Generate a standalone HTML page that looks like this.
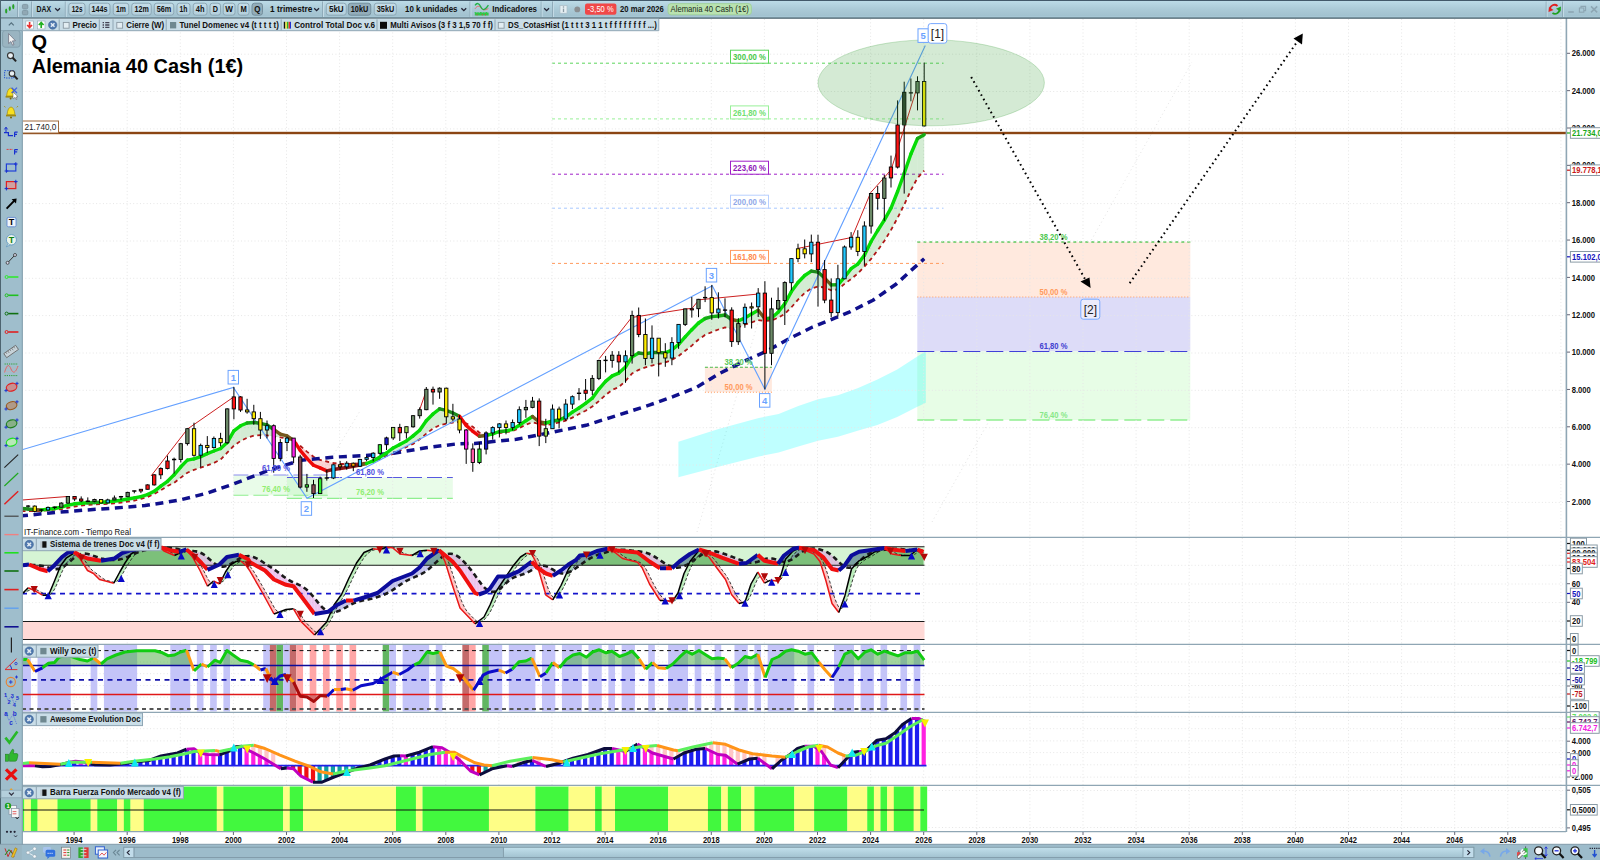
<!DOCTYPE html>
<html><head><meta charset="utf-8"><title>DAX - Alemania 40 Cash</title>
<style>
html,body{margin:0;padding:0;width:1600px;height:860px;overflow:hidden;background:#fff;font-family:"Liberation Sans",sans-serif;}
#chart{position:absolute;left:0;top:0;display:block;}
text{font-family:"Liberation Sans",sans-serif;}
</style></head><body>
<svg id="chart" width="1600" height="860" viewBox="0 0 1600 860"><defs>
<clipPath id="cMain"><rect x="22.5" y="31" width="1543.5" height="506.5"/></clipPath>
<clipPath id="cMainFull"><rect x="22.5" y="18.5" width="1543.5" height="519"/></clipPath>
<clipPath id="cP1"><rect x="22.5" y="538" width="1543.5" height="105.5"/></clipPath>
<clipPath id="cP2"><rect x="22.5" y="644.5" width="1543.5" height="67"/></clipPath>
<clipPath id="cP3"><rect x="22.5" y="713" width="1543.5" height="72"/></clipPath>
<clipPath id="cP4"><rect x="22.5" y="786" width="1543.5" height="46"/></clipPath>
</defs>
<rect x="0" y="0" width="1600" height="860" fill="#fff"/>
<g clip-path="url(#cMainFull)">
<path d="M932 522L1192 62 M697 532L765 298 M306.8 498.7L360 411" stroke="#e2e2e2" stroke-width="1" stroke-dasharray="1 3" fill="none"/>
<rect x="917.3" y="242" width="273" height="55" fill="#ffe9de"/>
<rect x="917.3" y="297" width="273" height="54.5" fill="#dddcf8"/>
<rect x="917.3" y="351.5" width="273" height="68.5" fill="#e7fde6"/>
<polygon points="678.4,441.7 719.3,428.8 758.8,417.9 778.6,414.0 798.3,406.1 818.1,399.2 837.9,395.2 857.6,388.3 877.4,379.4 897.2,369.5 916.9,356.7 925.8,351.3 925.8,402.7 916.9,407.1 897.2,417.0 877.4,424.9 857.6,430.8 837.9,436.7 818.1,440.7 798.3,446.6 778.6,452.5 758.8,456.5 719.3,466.4 678.4,477.2" fill="rgba(0,255,255,0.25)"/>
<path d="M917.3 242H1190.3" stroke="#5cc85c" stroke-width="1.4" stroke-dasharray="3 3"/>
<path d="M917.3 297H1190.3" stroke="#ff9a5c" stroke-width="1.2" stroke-dasharray="1 2"/>
<path d="M917.3 351.5H1190.3" stroke="#4040d8" stroke-width="1.2" stroke-dasharray="17 6"/>
<path d="M917.3 420H1190.3" stroke="#90ee90" stroke-width="1.4" stroke-dasharray="17 6"/>
<rect x="233.4" y="475" width="94" height="20.3" fill="rgba(144,238,144,0.2)"/>
<rect x="287" y="477.5" width="165.8" height="21" fill="rgba(144,238,144,0.2)"/>
<path d="M233.4 475H327.8" stroke="#8c8cf0" stroke-width="1.1" stroke-dasharray="15 5"/><path d="M287 477.5H452.8" stroke="#5858e0" stroke-width="1.1" stroke-dasharray="15 5"/>
<path d="M233.4 495.3H327.8 M287 498.4H452.8" stroke="#90ee90" stroke-width="1.1" stroke-dasharray="15 5"/>
<rect x="704.9" y="367.2" width="67" height="25" fill="#ffe9de"/>
<path d="M704.9 367.2H772" stroke="#44b844" stroke-width="1.1" stroke-dasharray="3 2"/>
<path d="M704.9 392.3H772" stroke="#ff9a5c" stroke-width="1.1" stroke-dasharray="1 2"/>
<path d="M552 63.2H943.5" stroke="#5cd65c" stroke-width="1" stroke-dasharray="3 3"/>
<path d="M552 118.9H943.5" stroke="#98f098" stroke-width="1" stroke-dasharray="3 3"/>
<path d="M552 174.2H943.5" stroke="#a020c8" stroke-width="1" stroke-dasharray="3 3"/>
<path d="M552 208.2H943.5" stroke="#a8c8ff" stroke-width="1" stroke-dasharray="3 3"/>
<path d="M552 263.4H943.5" stroke="#ff9a5c" stroke-width="1" stroke-dasharray="3 3"/>
</g>
<path d="M74.1 19V832 M127.2 19V832 M180.3 19V832 M233.4 19V832 M286.5 19V832 M339.6 19V832 M392.7 19V832 M445.8 19V832 M498.9 19V832 M552.0 19V832 M605.1 19V832 M658.2 19V832 M711.3 19V832 M764.4 19V832 M817.5 19V832 M870.6 19V832 M923.7 19V832 M976.8 19V832 M1029.9 19V832 M1083.0 19V832 M1136.1 19V832 M1189.2 19V832 M1242.3 19V832 M1295.4 19V832 M1348.5 19V832 M1401.6 19V832 M1454.7 19V832 M1507.8 19V832 M1560.9 19V832" stroke="#e6e6e6" stroke-width="1" stroke-dasharray="1 2.37" fill="none"/>
<path d="M22 502.4H1566 M22 465.0H1566 M22 427.7H1566 M22 390.3H1566 M22 353.0H1566 M22 315.6H1566 M22 278.3H1566 M22 241.0H1566 M22 203.6H1566 M22 128.9H1566 M22 91.5H1566 M22 54.2H1566 M22 565.3H1566 M22 584H1566 M22 602.6H1566 M22 621.2H1566 M22 662H1566 M22 673.7H1566 M22 685.5H1566 M22 697.2H1566 M22 716.8H1566 M22 728.7H1566 M22 740.9H1566 M22 752.6H1566 M22 764.8H1566 M22 777.1H1566 M22 790.5H1566 M22 827.5H1566" stroke="#e6e6e6" stroke-width="1" stroke-dasharray="1 2.37" fill="none"/>
<g clip-path="url(#cMainFull)">
<rect x="22" y="131.8" width="1544" height="2.4" fill="#8b4513"/>
<polygon points="21.5,508.5 28.1,509.0 28.1,511.2 21.5,511.2" fill="rgba(40,160,40,0.20)"/>
<polygon points="28.1,509.0 34.7,509.6 34.7,511.2 28.1,511.2" fill="rgba(40,160,40,0.20)"/>
<polygon points="34.7,509.6 41.4,509.9 41.4,510.8 34.7,511.2" fill="rgba(40,160,40,0.20)"/>
<polygon points="41.4,509.9 48.0,509.3 48.0,510.3 41.4,510.8" fill="rgba(40,160,40,0.20)"/>
<polygon points="48.0,509.3 54.6,508.5 54.6,509.7 48.0,510.3" fill="rgba(40,160,40,0.20)"/>
<polygon points="54.6,508.5 61.3,507.1 61.3,509.2 54.6,509.7" fill="rgba(40,160,40,0.20)"/>
<polygon points="61.3,507.1 67.9,505.2 67.9,507.8 61.3,509.2" fill="rgba(40,160,40,0.20)"/>
<polygon points="67.9,505.2 74.6,503.8 74.6,506.5 67.9,507.8" fill="rgba(40,160,40,0.20)"/>
<polygon points="74.6,503.8 81.2,503.2 81.2,505.5 74.6,506.5" fill="rgba(40,160,40,0.20)"/>
<polygon points="81.2,503.2 87.8,502.8 87.8,504.9 81.2,505.5" fill="rgba(40,160,40,0.20)"/>
<polygon points="87.8,502.8 94.5,502.5 94.5,504.4 87.8,504.9" fill="rgba(40,160,40,0.20)"/>
<polygon points="94.5,502.5 101.1,502.3 101.1,504.1 94.5,504.4" fill="rgba(40,160,40,0.20)"/>
<polygon points="101.1,502.3 107.7,501.7 107.7,503.8 101.1,504.1" fill="rgba(40,160,40,0.20)"/>
<polygon points="107.7,501.7 114.4,501.1 114.4,503.3 107.7,503.8" fill="rgba(40,160,40,0.20)"/>
<polygon points="114.4,501.1 121.0,500.2 121.0,502.5 114.4,503.3" fill="rgba(40,160,40,0.20)"/>
<polygon points="121.0,500.2 127.7,499.0 127.7,501.6 121.0,502.5" fill="rgba(40,160,40,0.20)"/>
<polygon points="127.7,499.0 134.3,497.9 134.3,500.5 127.7,501.6" fill="rgba(40,160,40,0.20)"/>
<polygon points="134.3,497.9 140.9,496.6 140.9,498.9 134.3,500.5" fill="rgba(40,160,40,0.20)"/>
<polygon points="140.9,496.6 147.6,494.5 147.6,496.9 140.9,498.9" fill="rgba(40,160,40,0.20)"/>
<polygon points="147.6,494.5 154.2,491.3 154.2,493.9 147.6,496.9" fill="rgba(40,160,40,0.20)"/>
<polygon points="154.2,491.3 160.8,486.1 160.8,490.3 154.2,493.9" fill="rgba(40,160,40,0.20)"/>
<polygon points="160.8,486.1 167.5,481.3 167.5,486.0 160.8,490.3" fill="rgba(40,160,40,0.20)"/>
<polygon points="167.5,481.3 174.1,474.8 174.1,482.9 167.5,486.0" fill="rgba(40,160,40,0.20)"/>
<polygon points="174.1,474.8 180.8,466.8 180.8,477.6 174.1,482.9" fill="rgba(40,160,40,0.20)"/>
<polygon points="180.8,466.8 187.4,460.1 187.4,472.7 180.8,477.6" fill="rgba(40,160,40,0.20)"/>
<polygon points="187.4,460.1 194.0,458.9 194.0,469.8 187.4,472.7" fill="rgba(40,160,40,0.20)"/>
<polygon points="194.0,458.9 200.7,456.6 200.7,467.7 194.0,469.8" fill="rgba(40,160,40,0.20)"/>
<polygon points="200.7,456.6 207.3,453.6 207.3,465.3 200.7,467.7" fill="rgba(40,160,40,0.20)"/>
<polygon points="207.3,453.6 213.9,451.0 213.9,462.9 207.3,465.3" fill="rgba(40,160,40,0.20)"/>
<polygon points="213.9,451.0 220.6,448.5 220.6,459.6 213.9,462.9" fill="rgba(40,160,40,0.20)"/>
<polygon points="220.6,448.5 227.2,442.6 227.2,452.7 220.6,459.6" fill="rgba(40,160,40,0.20)"/>
<polygon points="227.2,442.6 233.9,430.8 233.9,445.7 227.2,452.7" fill="rgba(40,160,40,0.20)"/>
<polygon points="233.9,430.8 240.5,425.8 240.5,441.0 233.9,445.7" fill="rgba(40,160,40,0.20)"/>
<polygon points="240.5,425.8 247.1,423.0 247.1,437.7 240.5,441.0" fill="rgba(40,160,40,0.20)"/>
<polygon points="247.1,423.0 253.8,422.5 253.8,435.6 247.1,437.7" fill="rgba(40,160,40,0.20)"/>
<polygon points="253.8,422.5 260.4,423.3 260.4,435.1 253.8,435.6" fill="rgba(40,160,40,0.20)"/>
<polygon points="260.4,423.3 267.0,424.9 267.0,435.4 260.4,435.1" fill="rgba(40,160,40,0.20)"/>
<polygon points="267.0,424.9 273.7,429.5 273.7,436.5 267.0,435.4" fill="rgba(40,160,40,0.20)"/>
<polygon points="273.7,429.5 280.3,434.1 280.3,437.4 273.7,436.5" fill="rgba(40,160,40,0.20)"/>
<polygon points="280.3,434.1 287.0,435.8 287.0,438.6 280.3,437.4" fill="rgba(40,160,40,0.20)"/>
<polygon points="287.0,435.8 293.6,440.4 293.6,441.3 287.0,438.6" fill="rgba(40,160,40,0.20)"/>
<polygon points="293.6,440.4 300.2,450.3 300.2,445.8 293.6,441.3" fill="rgba(240,60,60,0.22)"/>
<polygon points="300.2,450.3 306.9,458.4 306.9,451.6 300.2,445.8" fill="rgba(240,60,60,0.22)"/>
<polygon points="306.9,458.4 313.5,465.2 313.5,456.8 306.9,451.6" fill="rgba(240,60,60,0.22)"/>
<polygon points="313.5,465.2 320.1,467.9 320.1,460.0 313.5,456.8" fill="rgba(240,60,60,0.22)"/>
<polygon points="320.1,467.9 326.8,470.9 326.8,461.5 320.1,460.0" fill="rgba(240,60,60,0.22)"/>
<polygon points="326.8,470.9 333.4,469.5 333.4,463.0 326.8,461.5" fill="rgba(240,60,60,0.22)"/>
<polygon points="333.4,469.5 340.1,468.5 340.1,464.0 333.4,463.0" fill="rgba(240,60,60,0.22)"/>
<polygon points="340.1,468.5 346.7,467.5 346.7,464.0 340.1,464.0" fill="rgba(240,60,60,0.22)"/>
<polygon points="346.7,467.5 353.3,466.4 353.3,463.8 346.7,464.0" fill="rgba(240,60,60,0.22)"/>
<polygon points="353.3,466.4 360.0,465.0 360.0,463.3 353.3,463.8" fill="rgba(240,60,60,0.22)"/>
<polygon points="360.0,465.0 366.6,463.5 366.6,462.5 360.0,463.3" fill="rgba(240,60,60,0.22)"/>
<polygon points="366.6,463.5 373.2,460.9 373.2,461.1 366.6,462.5" fill="rgba(240,60,60,0.22)"/>
<polygon points="373.2,460.9 379.9,457.1 379.9,459.0 373.2,461.1" fill="rgba(40,160,40,0.20)"/>
<polygon points="379.9,457.1 386.5,453.0 386.5,456.0 379.9,459.0" fill="rgba(40,160,40,0.20)"/>
<polygon points="386.5,453.0 393.2,447.9 393.2,453.9 386.5,456.0" fill="rgba(40,160,40,0.20)"/>
<polygon points="393.2,447.9 399.8,444.6 399.8,450.6 393.2,453.9" fill="rgba(40,160,40,0.20)"/>
<polygon points="399.8,444.6 406.4,441.0 406.4,447.0 399.8,450.6" fill="rgba(40,160,40,0.20)"/>
<polygon points="406.4,441.0 413.1,435.9 413.1,443.9 406.4,447.0" fill="rgba(40,160,40,0.20)"/>
<polygon points="413.1,435.9 419.7,430.2 419.7,439.2 413.1,443.9" fill="rgba(40,160,40,0.20)"/>
<polygon points="419.7,430.2 426.3,420.7 426.3,433.6 419.7,439.2" fill="rgba(40,160,40,0.20)"/>
<polygon points="426.3,420.7 433.0,414.0 433.0,428.5 426.3,433.6" fill="rgba(40,160,40,0.20)"/>
<polygon points="433.0,414.0 439.6,408.8 439.6,425.2 433.0,428.5" fill="rgba(40,160,40,0.20)"/>
<polygon points="439.6,408.8 446.3,410.4 446.3,423.6 439.6,425.2" fill="rgba(40,160,40,0.20)"/>
<polygon points="446.3,410.4 452.9,413.0 452.9,422.5 446.3,423.6" fill="rgba(40,160,40,0.20)"/>
<polygon points="452.9,413.0 459.5,416.3 459.5,422.0 452.9,422.5" fill="rgba(40,160,40,0.20)"/>
<polygon points="459.5,416.3 466.2,425.5 466.2,423.4 459.5,422.0" fill="rgba(40,160,40,0.20)"/>
<polygon points="466.2,425.5 472.8,431.3 472.8,426.8 466.2,423.4" fill="rgba(240,60,60,0.22)"/>
<polygon points="472.8,431.3 479.4,436.2 479.4,432.7 472.8,426.8" fill="rgba(240,60,60,0.22)"/>
<polygon points="479.4,436.2 486.1,435.5 486.1,435.0 479.4,432.7" fill="rgba(240,60,60,0.22)"/>
<polygon points="486.1,435.5 492.7,433.9 492.7,434.4 486.1,435.0" fill="rgba(40,160,40,0.20)"/>
<polygon points="492.7,433.9 499.4,431.5 499.4,433.0 492.7,434.4" fill="rgba(40,160,40,0.20)"/>
<polygon points="499.4,431.5 506.0,431.0 506.0,432.2 499.4,433.0" fill="rgba(40,160,40,0.20)"/>
<polygon points="506.0,431.0 512.6,429.4 512.6,431.1 506.0,432.2" fill="rgba(40,160,40,0.20)"/>
<polygon points="512.6,429.4 519.3,425.3 519.3,427.9 512.6,431.1" fill="rgba(40,160,40,0.20)"/>
<polygon points="519.3,425.3 525.9,420.7 525.9,424.8 519.3,427.9" fill="rgba(40,160,40,0.20)"/>
<polygon points="525.9,420.7 532.5,416.5 532.5,422.2 525.9,424.8" fill="rgba(40,160,40,0.20)"/>
<polygon points="532.5,416.5 539.2,422.0 539.2,424.0 532.5,422.2" fill="rgba(40,160,40,0.20)"/>
<polygon points="539.2,422.0 545.8,423.0 545.8,425.0 539.2,424.0" fill="rgba(40,160,40,0.20)"/>
<polygon points="545.8,423.0 552.5,421.0 552.5,424.0 545.8,425.0" fill="rgba(40,160,40,0.20)"/>
<polygon points="552.5,421.0 559.1,420.0 559.1,422.5 552.5,424.0" fill="rgba(40,160,40,0.20)"/>
<polygon points="559.1,420.0 565.7,417.1 565.7,420.6 559.1,422.5" fill="rgba(40,160,40,0.20)"/>
<polygon points="565.7,417.1 572.4,412.1 572.4,417.6 565.7,420.6" fill="rgba(40,160,40,0.20)"/>
<polygon points="572.4,412.1 579.0,408.0 579.0,414.0 572.4,417.6" fill="rgba(40,160,40,0.20)"/>
<polygon points="579.0,408.0 585.6,403.3 585.6,410.7 579.0,414.0" fill="rgba(40,160,40,0.20)"/>
<polygon points="585.6,403.3 592.3,398.2 592.3,406.6 585.6,410.7" fill="rgba(40,160,40,0.20)"/>
<polygon points="592.3,398.2 598.9,389.1 598.9,401.1 592.3,406.6" fill="rgba(40,160,40,0.20)"/>
<polygon points="598.9,389.1 605.6,381.4 605.6,395.0 598.9,401.1" fill="rgba(40,160,40,0.20)"/>
<polygon points="605.6,381.4 612.2,375.9 612.2,389.9 605.6,395.0" fill="rgba(40,160,40,0.20)"/>
<polygon points="612.2,375.9 618.8,373.1 618.8,387.1 612.2,389.9" fill="rgba(40,160,40,0.20)"/>
<polygon points="618.8,373.1 625.5,367.0 625.5,381.0 618.8,387.1" fill="rgba(40,160,40,0.20)"/>
<polygon points="625.5,367.0 632.1,356.9 632.1,373.4 625.5,381.0" fill="rgba(40,160,40,0.20)"/>
<polygon points="632.1,356.9 638.7,353.0 638.7,369.9 632.1,373.4" fill="rgba(40,160,40,0.20)"/>
<polygon points="638.7,353.0 645.4,353.9 645.4,367.4 638.7,369.9" fill="rgba(40,160,40,0.20)"/>
<polygon points="645.4,353.9 652.0,352.5 652.0,365.5 645.4,367.4" fill="rgba(40,160,40,0.20)"/>
<polygon points="652.0,352.5 658.7,352.5 658.7,364.0 652.0,365.5" fill="rgba(40,160,40,0.20)"/>
<polygon points="658.7,352.5 665.3,352.9 665.3,362.4 658.7,364.0" fill="rgba(40,160,40,0.20)"/>
<polygon points="665.3,352.9 671.9,350.0 671.9,360.0 665.3,362.4" fill="rgba(40,160,40,0.20)"/>
<polygon points="671.9,350.0 678.6,344.4 678.6,355.9 671.9,360.0" fill="rgba(40,160,40,0.20)"/>
<polygon points="678.6,344.4 685.2,336.8 685.2,350.8 678.6,355.9" fill="rgba(40,160,40,0.20)"/>
<polygon points="685.2,336.8 691.8,329.7 691.8,345.6 685.2,350.8" fill="rgba(40,160,40,0.20)"/>
<polygon points="691.8,329.7 698.5,323.0 698.5,339.5 691.8,345.6" fill="rgba(40,160,40,0.20)"/>
<polygon points="698.5,323.0 705.1,318.5 705.1,334.9 698.5,339.5" fill="rgba(40,160,40,0.20)"/>
<polygon points="705.1,318.5 711.8,316.6 711.8,332.1 705.1,334.9" fill="rgba(40,160,40,0.20)"/>
<polygon points="711.8,316.6 718.4,316.0 718.4,329.5 711.8,332.1" fill="rgba(40,160,40,0.20)"/>
<polygon points="718.4,316.0 725.0,315.0 725.0,327.5 718.4,329.5" fill="rgba(40,160,40,0.20)"/>
<polygon points="725.0,315.0 731.7,319.5 731.7,328.5 725.0,327.5" fill="rgba(40,160,40,0.20)"/>
<polygon points="731.7,319.5 738.3,320.9 738.3,327.4 731.7,328.5" fill="rgba(40,160,40,0.20)"/>
<polygon points="738.3,320.9 744.9,318.0 744.9,324.5 738.3,327.4" fill="rgba(40,160,40,0.20)"/>
<polygon points="744.9,318.0 751.6,313.9 751.6,322.5 744.9,324.5" fill="rgba(40,160,40,0.20)"/>
<polygon points="751.6,313.9 758.2,310.3 758.2,320.0 751.6,322.5" fill="rgba(40,160,40,0.20)"/>
<polygon points="758.2,310.3 764.9,318.8 764.9,321.0 758.2,320.0" fill="rgba(40,160,40,0.20)"/>
<polygon points="764.9,318.8 771.5,318.0 771.5,320.5 764.9,321.0" fill="rgba(40,160,40,0.20)"/>
<polygon points="771.5,318.0 778.1,312.2 778.1,317.7 771.5,320.5" fill="rgba(40,160,40,0.20)"/>
<polygon points="778.1,312.2 784.8,303.6 784.8,313.8 778.1,317.7" fill="rgba(40,160,40,0.20)"/>
<polygon points="784.8,303.6 791.4,291.6 791.4,307.3 784.8,313.8" fill="rgba(40,160,40,0.20)"/>
<polygon points="791.4,291.6 798.0,282.5 798.0,299.7 791.4,307.3" fill="rgba(40,160,40,0.20)"/>
<polygon points="798.0,282.5 804.7,275.5 804.7,292.9 798.0,299.7" fill="rgba(40,160,40,0.20)"/>
<polygon points="804.7,275.5 811.3,271.1 811.3,288.5 804.7,292.9" fill="rgba(40,160,40,0.20)"/>
<polygon points="811.3,271.1 818.0,272.1 818.0,286.6 811.3,288.5" fill="rgba(40,160,40,0.20)"/>
<polygon points="818.0,272.1 824.6,278.1 824.6,287.5 818.0,286.6" fill="rgba(40,160,40,0.20)"/>
<polygon points="824.6,278.1 831.2,284.9 831.2,290.3 824.6,287.5" fill="rgba(40,160,40,0.20)"/>
<polygon points="831.2,284.9 837.9,284.8 837.9,289.4 831.2,290.3" fill="rgba(40,160,40,0.20)"/>
<polygon points="837.9,284.8 844.5,277.1 844.5,283.9 837.9,289.4" fill="rgba(40,160,40,0.20)"/>
<polygon points="844.5,277.1 851.1,268.7 851.1,279.0 844.5,283.9" fill="rgba(40,160,40,0.20)"/>
<polygon points="851.1,268.7 857.8,264.1 857.8,273.5 851.1,279.0" fill="rgba(40,160,40,0.20)"/>
<polygon points="857.8,264.1 864.4,255.2 864.4,266.6 857.8,273.5" fill="rgba(40,160,40,0.20)"/>
<polygon points="864.4,255.2 871.1,241.5 871.1,258.9 864.4,266.6" fill="rgba(40,160,40,0.20)"/>
<polygon points="871.1,241.5 877.7,230.5 877.7,250.2 871.1,258.9" fill="rgba(40,160,40,0.20)"/>
<polygon points="877.7,230.5 884.3,220.1 884.3,241.0 877.7,250.2" fill="rgba(40,160,40,0.20)"/>
<polygon points="884.3,220.1 891.0,208.1 891.0,230.0 884.3,241.0" fill="rgba(40,160,40,0.20)"/>
<polygon points="891.0,208.1 897.6,191.5 897.6,217.9 891.0,230.0" fill="rgba(40,160,40,0.20)"/>
<polygon points="897.6,191.5 904.2,173.4 904.2,204.7 897.6,217.9" fill="rgba(40,160,40,0.20)"/>
<polygon points="904.2,173.4 910.9,154.0 910.9,190.2 904.2,204.7" fill="rgba(40,160,40,0.20)"/>
<polygon points="910.9,154.0 917.5,138.5 917.5,178.0 910.9,190.2" fill="rgba(40,160,40,0.20)"/>
<polygon points="917.5,138.5 924.2,134.7 924.2,170.7 917.5,178.0" fill="rgba(40,160,40,0.20)"/>
<path d="M21.5 511.2 L28.1 511.2 L34.7 511.2 L41.4 510.8 L48.0 510.3 L54.6 509.7 L61.3 509.2 L67.9 507.8 L74.6 506.5 L81.2 505.5 L87.8 504.9 L94.5 504.4 L101.1 504.1 L107.7 503.8 L114.4 503.3 L121.0 502.5 L127.7 501.6 L134.3 500.5 L140.9 498.9 L147.6 496.9 L154.2 493.9 L160.8 490.3 L167.5 486.0 L174.1 482.9 L180.8 477.6 L187.4 472.7 L194.0 469.8 L200.7 467.7 L207.3 465.3 L213.9 462.9 L220.6 459.6 L227.2 452.7 L233.9 445.7 L240.5 441.0 L247.1 437.7 L253.8 435.6 L260.4 435.1 L267.0 435.4 L273.7 436.5 L280.3 437.4 L287.0 438.6 L293.6 441.3 L300.2 445.8 L306.9 451.6 L313.5 456.8 L320.1 460.0 L326.8 461.5 L333.4 463.0 L340.1 464.0 L346.7 464.0 L353.3 463.8 L360.0 463.3 L366.6 462.5 L373.2 461.1 L379.9 459.0 L386.5 456.0 L393.2 453.9 L399.8 450.6 L406.4 447.0 L413.1 443.9 L419.7 439.2 L426.3 433.6 L433.0 428.5 L439.6 425.2 L446.3 423.6 L452.9 422.5 L459.5 422.0 L466.2 423.4 L472.8 426.8 L479.4 432.7 L486.1 435.0 L492.7 434.4 L499.4 433.0 L506.0 432.2 L512.6 431.1 L519.3 427.9 L525.9 424.8 L532.5 422.2 L539.2 424.0 L545.8 425.0 L552.5 424.0 L559.1 422.5 L565.7 420.6 L572.4 417.6 L579.0 414.0 L585.6 410.7 L592.3 406.6 L598.9 401.1 L605.6 395.0 L612.2 389.9 L618.8 387.1 L625.5 381.0 L632.1 373.4 L638.7 369.9 L645.4 367.4 L652.0 365.5 L658.7 364.0 L665.3 362.4 L671.9 360.0 L678.6 355.9 L685.2 350.8 L691.8 345.6 L698.5 339.5 L705.1 334.9 L711.8 332.1 L718.4 329.5 L725.0 327.5 L731.7 328.5 L738.3 327.4 L744.9 324.5 L751.6 322.5 L758.2 320.0 L764.9 321.0 L771.5 320.5 L778.1 317.7 L784.8 313.8 L791.4 307.3 L798.0 299.7 L804.7 292.9 L811.3 288.5 L818.0 286.6 L824.6 287.5 L831.2 290.3 L837.9 289.4 L844.5 283.9 L851.1 279.0 L857.8 273.5 L864.4 266.6 L871.1 258.9 L877.7 250.2 L884.3 241.0 L891.0 230.0 L897.6 217.9 L904.2 204.7 L910.9 190.2 L917.5 178.0 L924.2 170.7" stroke="#b01818" stroke-width="1.8" stroke-dasharray="4 3.5" fill="none"/>
<path d="M20.0 516.0 L50.0 513.0 L82.5 510.3 L115.0 508.0 L145.0 505.6 L180.0 500.0 L207.5 493.0 L232.5 484.4 L270.0 469.7 L301.0 460.3 L332.5 457.2 L363.8 455.6 L395.0 453.0 L426.0 447.8 L457.5 443.8 L474.7 443.4 L493.0 441.6 L516.5 439.3 L539.8 434.7 L563.0 430.0 L586.0 425.3 L609.5 417.8 L628.0 412.0 L649.8 404.9 L673.0 396.7 L696.3 387.4 L719.5 373.5 L742.8 361.9 L766.0 351.4 L789.3 338.6 L812.6 327.0 L835.8 317.7 L849.8 311.9 L873.0 300.2 L896.3 284.0 L910.2 271.2 L924.2 258.8" stroke="#10108c" stroke-width="3.5" stroke-dasharray="8 5.6" fill="none" stroke-linejoin="round"/>
<path d="M22 449.8L233.4 387.5L307 498.2L712.3 285.8L764.9 389.3L925.3 45.6" stroke="#64a0ff" stroke-width="1.15" fill="none"/>
<path d="M22 500L67.4 496.5 M151 476L187.5 429L232.5 397.8 M419.3 410.7L426.7 389.5 M599.3 358.6L631.6 317.5L685.6 309L692 308.4L699 299.8L758.4 294 M798 248.4L852 237.4L870.7 192.6L884.7 177L891.2 169.5L917.2 87" stroke="#cc2020" stroke-width="1" fill="none"/>
<path d="M21.5 508.5L28.1 509.0" stroke="#1c8a1c" stroke-width="3.4" stroke-linecap="round" fill="none"/>
<path d="M28.1 509.0L34.7 509.6" stroke="#1c8a1c" stroke-width="3.4" stroke-linecap="round" fill="none"/>
<path d="M34.7 509.6L41.4 509.9" stroke="#74581e" stroke-width="3.4" stroke-linecap="round" fill="none"/>
<path d="M41.4 509.9L48.0 509.3" stroke="#06dc06" stroke-width="3.4" stroke-linecap="round" fill="none"/>
<path d="M48.0 509.3L54.6 508.5" stroke="#06dc06" stroke-width="3.4" stroke-linecap="round" fill="none"/>
<path d="M54.6 508.5L61.3 507.1" stroke="#06dc06" stroke-width="3.4" stroke-linecap="round" fill="none"/>
<path d="M61.3 507.1L67.9 505.2" stroke="#06dc06" stroke-width="3.4" stroke-linecap="round" fill="none"/>
<path d="M67.9 505.2L74.6 503.8" stroke="#06dc06" stroke-width="3.4" stroke-linecap="round" fill="none"/>
<path d="M74.6 503.8L81.2 503.2" stroke="#06dc06" stroke-width="3.4" stroke-linecap="round" fill="none"/>
<path d="M81.2 503.2L87.8 502.8" stroke="#06dc06" stroke-width="3.4" stroke-linecap="round" fill="none"/>
<path d="M87.8 502.8L94.5 502.5" stroke="#16aa16" stroke-width="3.4" stroke-linecap="round" fill="none"/>
<path d="M94.5 502.5L101.1 502.3" stroke="#16aa16" stroke-width="3.4" stroke-linecap="round" fill="none"/>
<path d="M101.1 502.3L107.7 501.7" stroke="#06dc06" stroke-width="3.4" stroke-linecap="round" fill="none"/>
<path d="M107.7 501.7L114.4 501.1" stroke="#06dc06" stroke-width="3.4" stroke-linecap="round" fill="none"/>
<path d="M114.4 501.1L121.0 500.2" stroke="#06dc06" stroke-width="3.4" stroke-linecap="round" fill="none"/>
<path d="M121.0 500.2L127.7 499.0" stroke="#06dc06" stroke-width="3.4" stroke-linecap="round" fill="none"/>
<path d="M127.7 499.0L134.3 497.9" stroke="#06dc06" stroke-width="3.4" stroke-linecap="round" fill="none"/>
<path d="M134.3 497.9L140.9 496.6" stroke="#06dc06" stroke-width="3.4" stroke-linecap="round" fill="none"/>
<path d="M140.9 496.6L147.6 494.5" stroke="#06dc06" stroke-width="3.4" stroke-linecap="round" fill="none"/>
<path d="M147.6 494.5L154.2 491.3" stroke="#06dc06" stroke-width="3.4" stroke-linecap="round" fill="none"/>
<path d="M154.2 491.3L160.8 486.1" stroke="#06dc06" stroke-width="3.4" stroke-linecap="round" fill="none"/>
<path d="M160.8 486.1L167.5 481.3" stroke="#06dc06" stroke-width="3.4" stroke-linecap="round" fill="none"/>
<path d="M167.5 481.3L174.1 474.8" stroke="#06dc06" stroke-width="3.4" stroke-linecap="round" fill="none"/>
<path d="M174.1 474.8L180.8 466.8" stroke="#06dc06" stroke-width="3.4" stroke-linecap="round" fill="none"/>
<path d="M180.8 466.8L187.4 460.1" stroke="#06dc06" stroke-width="3.4" stroke-linecap="round" fill="none"/>
<path d="M187.4 460.1L194.0 458.9" stroke="#06dc06" stroke-width="3.4" stroke-linecap="round" fill="none"/>
<path d="M194.0 458.9L200.7 456.6" stroke="#06dc06" stroke-width="3.4" stroke-linecap="round" fill="none"/>
<path d="M200.7 456.6L207.3 453.6" stroke="#06dc06" stroke-width="3.4" stroke-linecap="round" fill="none"/>
<path d="M207.3 453.6L213.9 451.0" stroke="#06dc06" stroke-width="3.4" stroke-linecap="round" fill="none"/>
<path d="M213.9 451.0L220.6 448.5" stroke="#06dc06" stroke-width="3.4" stroke-linecap="round" fill="none"/>
<path d="M220.6 448.5L227.2 442.6" stroke="#06dc06" stroke-width="3.4" stroke-linecap="round" fill="none"/>
<path d="M227.2 442.6L233.9 430.8" stroke="#06dc06" stroke-width="3.4" stroke-linecap="round" fill="none"/>
<path d="M233.9 430.8L240.5 425.8" stroke="#06dc06" stroke-width="3.4" stroke-linecap="round" fill="none"/>
<path d="M240.5 425.8L247.1 423.0" stroke="#06dc06" stroke-width="3.4" stroke-linecap="round" fill="none"/>
<path d="M247.1 423.0L253.8 422.5" stroke="#16aa16" stroke-width="3.4" stroke-linecap="round" fill="none"/>
<path d="M253.8 422.5L260.4 423.3" stroke="#1c8a1c" stroke-width="3.4" stroke-linecap="round" fill="none"/>
<path d="M260.4 423.3L267.0 424.9" stroke="#1c8a1c" stroke-width="3.4" stroke-linecap="round" fill="none"/>
<path d="M267.0 424.9L273.7 429.5" stroke="#1c8a1c" stroke-width="3.4" stroke-linecap="round" fill="none"/>
<path d="M273.7 429.5L280.3 434.1" stroke="#74581e" stroke-width="3.4" stroke-linecap="round" fill="none"/>
<path d="M280.3 434.1L287.0 435.8" stroke="#74581e" stroke-width="3.4" stroke-linecap="round" fill="none"/>
<path d="M287.0 435.8L293.6 440.4" stroke="#74581e" stroke-width="3.4" stroke-linecap="round" fill="none"/>
<path d="M293.6 440.4L300.2 450.3" stroke="#ee0808" stroke-width="3.4" stroke-linecap="round" fill="none"/>
<path d="M300.2 450.3L306.9 458.4" stroke="#ee0808" stroke-width="3.4" stroke-linecap="round" fill="none"/>
<path d="M306.9 458.4L313.5 465.2" stroke="#ee0808" stroke-width="3.4" stroke-linecap="round" fill="none"/>
<path d="M313.5 465.2L320.1 467.9" stroke="#ee0808" stroke-width="3.4" stroke-linecap="round" fill="none"/>
<path d="M320.1 467.9L326.8 470.9" stroke="#ee0808" stroke-width="3.4" stroke-linecap="round" fill="none"/>
<path d="M326.8 470.9L333.4 469.5" stroke="#8a1616" stroke-width="3.4" stroke-linecap="round" fill="none"/>
<path d="M333.4 469.5L340.1 468.5" stroke="#8a1616" stroke-width="3.4" stroke-linecap="round" fill="none"/>
<path d="M340.1 468.5L346.7 467.5" stroke="#8a1616" stroke-width="3.4" stroke-linecap="round" fill="none"/>
<path d="M346.7 467.5L353.3 466.4" stroke="#8a1616" stroke-width="3.4" stroke-linecap="round" fill="none"/>
<path d="M353.3 466.4L360.0 465.0" stroke="#8a1616" stroke-width="3.4" stroke-linecap="round" fill="none"/>
<path d="M360.0 465.0L366.6 463.5" stroke="#6e5a1e" stroke-width="3.4" stroke-linecap="round" fill="none"/>
<path d="M366.6 463.5L373.2 460.9" stroke="#06dc06" stroke-width="3.4" stroke-linecap="round" fill="none"/>
<path d="M373.2 460.9L379.9 457.1" stroke="#06dc06" stroke-width="3.4" stroke-linecap="round" fill="none"/>
<path d="M379.9 457.1L386.5 453.0" stroke="#06dc06" stroke-width="3.4" stroke-linecap="round" fill="none"/>
<path d="M386.5 453.0L393.2 447.9" stroke="#06dc06" stroke-width="3.4" stroke-linecap="round" fill="none"/>
<path d="M393.2 447.9L399.8 444.6" stroke="#06dc06" stroke-width="3.4" stroke-linecap="round" fill="none"/>
<path d="M399.8 444.6L406.4 441.0" stroke="#06dc06" stroke-width="3.4" stroke-linecap="round" fill="none"/>
<path d="M406.4 441.0L413.1 435.9" stroke="#06dc06" stroke-width="3.4" stroke-linecap="round" fill="none"/>
<path d="M413.1 435.9L419.7 430.2" stroke="#06dc06" stroke-width="3.4" stroke-linecap="round" fill="none"/>
<path d="M419.7 430.2L426.3 420.7" stroke="#06dc06" stroke-width="3.4" stroke-linecap="round" fill="none"/>
<path d="M426.3 420.7L433.0 414.0" stroke="#06dc06" stroke-width="3.4" stroke-linecap="round" fill="none"/>
<path d="M433.0 414.0L439.6 408.8" stroke="#06dc06" stroke-width="3.4" stroke-linecap="round" fill="none"/>
<path d="M439.6 408.8L446.3 410.4" stroke="#1c8a1c" stroke-width="3.4" stroke-linecap="round" fill="none"/>
<path d="M446.3 410.4L452.9 413.0" stroke="#1c8a1c" stroke-width="3.4" stroke-linecap="round" fill="none"/>
<path d="M452.9 413.0L459.5 416.3" stroke="#1c8a1c" stroke-width="3.4" stroke-linecap="round" fill="none"/>
<path d="M459.5 416.3L466.2 425.5" stroke="#ee0808" stroke-width="3.4" stroke-linecap="round" fill="none"/>
<path d="M466.2 425.5L472.8 431.3" stroke="#ee0808" stroke-width="3.4" stroke-linecap="round" fill="none"/>
<path d="M472.8 431.3L479.4 436.2" stroke="#ee0808" stroke-width="3.4" stroke-linecap="round" fill="none"/>
<path d="M479.4 436.2L486.1 435.5" stroke="#6e5a1e" stroke-width="3.4" stroke-linecap="round" fill="none"/>
<path d="M486.1 435.5L492.7 433.9" stroke="#06dc06" stroke-width="3.4" stroke-linecap="round" fill="none"/>
<path d="M492.7 433.9L499.4 431.5" stroke="#06dc06" stroke-width="3.4" stroke-linecap="round" fill="none"/>
<path d="M499.4 431.5L506.0 431.0" stroke="#16aa16" stroke-width="3.4" stroke-linecap="round" fill="none"/>
<path d="M506.0 431.0L512.6 429.4" stroke="#06dc06" stroke-width="3.4" stroke-linecap="round" fill="none"/>
<path d="M512.6 429.4L519.3 425.3" stroke="#06dc06" stroke-width="3.4" stroke-linecap="round" fill="none"/>
<path d="M519.3 425.3L525.9 420.7" stroke="#06dc06" stroke-width="3.4" stroke-linecap="round" fill="none"/>
<path d="M525.9 420.7L532.5 416.5" stroke="#06dc06" stroke-width="3.4" stroke-linecap="round" fill="none"/>
<path d="M532.5 416.5L539.2 422.0" stroke="#74581e" stroke-width="3.4" stroke-linecap="round" fill="none"/>
<path d="M539.2 422.0L545.8 423.0" stroke="#74581e" stroke-width="3.4" stroke-linecap="round" fill="none"/>
<path d="M545.8 423.0L552.5 421.0" stroke="#06dc06" stroke-width="3.4" stroke-linecap="round" fill="none"/>
<path d="M552.5 421.0L559.1 420.0" stroke="#16aa16" stroke-width="3.4" stroke-linecap="round" fill="none"/>
<path d="M559.1 420.0L565.7 417.1" stroke="#06dc06" stroke-width="3.4" stroke-linecap="round" fill="none"/>
<path d="M565.7 417.1L572.4 412.1" stroke="#06dc06" stroke-width="3.4" stroke-linecap="round" fill="none"/>
<path d="M572.4 412.1L579.0 408.0" stroke="#06dc06" stroke-width="3.4" stroke-linecap="round" fill="none"/>
<path d="M579.0 408.0L585.6 403.3" stroke="#06dc06" stroke-width="3.4" stroke-linecap="round" fill="none"/>
<path d="M585.6 403.3L592.3 398.2" stroke="#06dc06" stroke-width="3.4" stroke-linecap="round" fill="none"/>
<path d="M592.3 398.2L598.9 389.1" stroke="#06dc06" stroke-width="3.4" stroke-linecap="round" fill="none"/>
<path d="M598.9 389.1L605.6 381.4" stroke="#06dc06" stroke-width="3.4" stroke-linecap="round" fill="none"/>
<path d="M605.6 381.4L612.2 375.9" stroke="#06dc06" stroke-width="3.4" stroke-linecap="round" fill="none"/>
<path d="M612.2 375.9L618.8 373.1" stroke="#06dc06" stroke-width="3.4" stroke-linecap="round" fill="none"/>
<path d="M618.8 373.1L625.5 367.0" stroke="#06dc06" stroke-width="3.4" stroke-linecap="round" fill="none"/>
<path d="M625.5 367.0L632.1 356.9" stroke="#06dc06" stroke-width="3.4" stroke-linecap="round" fill="none"/>
<path d="M632.1 356.9L638.7 353.0" stroke="#06dc06" stroke-width="3.4" stroke-linecap="round" fill="none"/>
<path d="M638.7 353.0L645.4 353.9" stroke="#1c8a1c" stroke-width="3.4" stroke-linecap="round" fill="none"/>
<path d="M645.4 353.9L652.0 352.5" stroke="#16aa16" stroke-width="3.4" stroke-linecap="round" fill="none"/>
<path d="M652.0 352.5L658.7 352.5" stroke="#1c8a1c" stroke-width="3.4" stroke-linecap="round" fill="none"/>
<path d="M658.7 352.5L665.3 352.9" stroke="#1c8a1c" stroke-width="3.4" stroke-linecap="round" fill="none"/>
<path d="M665.3 352.9L671.9 350.0" stroke="#06dc06" stroke-width="3.4" stroke-linecap="round" fill="none"/>
<path d="M671.9 350.0L678.6 344.4" stroke="#06dc06" stroke-width="3.4" stroke-linecap="round" fill="none"/>
<path d="M678.6 344.4L685.2 336.8" stroke="#06dc06" stroke-width="3.4" stroke-linecap="round" fill="none"/>
<path d="M685.2 336.8L691.8 329.7" stroke="#06dc06" stroke-width="3.4" stroke-linecap="round" fill="none"/>
<path d="M691.8 329.7L698.5 323.0" stroke="#06dc06" stroke-width="3.4" stroke-linecap="round" fill="none"/>
<path d="M698.5 323.0L705.1 318.5" stroke="#06dc06" stroke-width="3.4" stroke-linecap="round" fill="none"/>
<path d="M705.1 318.5L711.8 316.6" stroke="#16aa16" stroke-width="3.4" stroke-linecap="round" fill="none"/>
<path d="M711.8 316.6L718.4 316.0" stroke="#16aa16" stroke-width="3.4" stroke-linecap="round" fill="none"/>
<path d="M718.4 316.0L725.0 315.0" stroke="#16aa16" stroke-width="3.4" stroke-linecap="round" fill="none"/>
<path d="M725.0 315.0L731.7 319.5" stroke="#1c8a1c" stroke-width="3.4" stroke-linecap="round" fill="none"/>
<path d="M731.7 319.5L738.3 320.9" stroke="#74581e" stroke-width="3.4" stroke-linecap="round" fill="none"/>
<path d="M738.3 320.9L744.9 318.0" stroke="#06dc06" stroke-width="3.4" stroke-linecap="round" fill="none"/>
<path d="M744.9 318.0L751.6 313.9" stroke="#06dc06" stroke-width="3.4" stroke-linecap="round" fill="none"/>
<path d="M751.6 313.9L758.2 310.3" stroke="#06dc06" stroke-width="3.4" stroke-linecap="round" fill="none"/>
<path d="M758.2 310.3L764.9 318.8" stroke="#74581e" stroke-width="3.4" stroke-linecap="round" fill="none"/>
<path d="M764.9 318.8L771.5 318.0" stroke="#16aa16" stroke-width="3.4" stroke-linecap="round" fill="none"/>
<path d="M771.5 318.0L778.1 312.2" stroke="#06dc06" stroke-width="3.4" stroke-linecap="round" fill="none"/>
<path d="M778.1 312.2L784.8 303.6" stroke="#06dc06" stroke-width="3.4" stroke-linecap="round" fill="none"/>
<path d="M784.8 303.6L791.4 291.6" stroke="#06dc06" stroke-width="3.4" stroke-linecap="round" fill="none"/>
<path d="M791.4 291.6L798.0 282.5" stroke="#06dc06" stroke-width="3.4" stroke-linecap="round" fill="none"/>
<path d="M798.0 282.5L804.7 275.5" stroke="#06dc06" stroke-width="3.4" stroke-linecap="round" fill="none"/>
<path d="M804.7 275.5L811.3 271.1" stroke="#06dc06" stroke-width="3.4" stroke-linecap="round" fill="none"/>
<path d="M811.3 271.1L818.0 272.1" stroke="#1c8a1c" stroke-width="3.4" stroke-linecap="round" fill="none"/>
<path d="M818.0 272.1L824.6 278.1" stroke="#1c8a1c" stroke-width="3.4" stroke-linecap="round" fill="none"/>
<path d="M824.6 278.1L831.2 284.9" stroke="#74581e" stroke-width="3.4" stroke-linecap="round" fill="none"/>
<path d="M831.2 284.9L837.9 284.8" stroke="#16aa16" stroke-width="3.4" stroke-linecap="round" fill="none"/>
<path d="M837.9 284.8L844.5 277.1" stroke="#06dc06" stroke-width="3.4" stroke-linecap="round" fill="none"/>
<path d="M844.5 277.1L851.1 268.7" stroke="#06dc06" stroke-width="3.4" stroke-linecap="round" fill="none"/>
<path d="M851.1 268.7L857.8 264.1" stroke="#06dc06" stroke-width="3.4" stroke-linecap="round" fill="none"/>
<path d="M857.8 264.1L864.4 255.2" stroke="#06dc06" stroke-width="3.4" stroke-linecap="round" fill="none"/>
<path d="M864.4 255.2L871.1 241.5" stroke="#06dc06" stroke-width="3.4" stroke-linecap="round" fill="none"/>
<path d="M871.1 241.5L877.7 230.5" stroke="#06dc06" stroke-width="3.4" stroke-linecap="round" fill="none"/>
<path d="M877.7 230.5L884.3 220.1" stroke="#06dc06" stroke-width="3.4" stroke-linecap="round" fill="none"/>
<path d="M884.3 220.1L891.0 208.1" stroke="#06dc06" stroke-width="3.4" stroke-linecap="round" fill="none"/>
<path d="M891.0 208.1L897.6 191.5" stroke="#06dc06" stroke-width="3.4" stroke-linecap="round" fill="none"/>
<path d="M897.6 191.5L904.2 173.4" stroke="#06dc06" stroke-width="3.4" stroke-linecap="round" fill="none"/>
<path d="M904.2 173.4L910.9 154.0" stroke="#06dc06" stroke-width="3.4" stroke-linecap="round" fill="none"/>
<path d="M910.9 154.0L917.5 138.5" stroke="#06dc06" stroke-width="3.4" stroke-linecap="round" fill="none"/>
<path d="M917.5 138.5L924.2 134.7" stroke="#16aa16" stroke-width="3.4" stroke-linecap="round" fill="none"/>
<path d="M28.1 505.0V507.3" stroke="#000" stroke-width="1"/>
<path d="M26.00 506.1H30.20" stroke="#000" stroke-width="1.4"/>
<path d="M34.7 505.4V512.3" stroke="#000" stroke-width="1"/>
<rect x="33.09" y="506.1" width="3.3" height="5.3" fill="#ffee00" stroke="#000" stroke-width="0.9"/>
<path d="M41.4 509.0V512.1" stroke="#000" stroke-width="1"/>
<path d="M39.27 510.0H43.47" stroke="#000" stroke-width="1.4"/>
<path d="M48.0 506.5V510.5" stroke="#000" stroke-width="1"/>
<rect x="46.36" y="507.4" width="3.3" height="2.6" fill="#22c8ff" stroke="#000" stroke-width="0.9"/>
<path d="M54.6 506.7V509.2" stroke="#000" stroke-width="1"/>
<path d="M52.55 507.2H56.75" stroke="#000" stroke-width="1.4"/>
<path d="M61.3 502.2V507.3" stroke="#000" stroke-width="1"/>
<rect x="59.64" y="503.1" width="3.3" height="4.1" fill="#6c8a68" stroke="#000" stroke-width="0.9"/>
<path d="M67.9 496.3V503.6" stroke="#000" stroke-width="1"/>
<rect x="66.27" y="496.5" width="3.3" height="6.6" fill="#6c8a68" stroke="#000" stroke-width="0.9"/>
<path d="M74.6 496.4V501.1" stroke="#000" stroke-width="1"/>
<rect x="72.91" y="496.5" width="3.3" height="2.5" fill="#ff1414" stroke="#000" stroke-width="0.9"/>
<path d="M81.2 496.4V502.2" stroke="#000" stroke-width="1"/>
<rect x="79.55" y="499.0" width="3.3" height="2.0" fill="#ff1414" stroke="#000" stroke-width="0.9"/>
<path d="M87.8 497.4V501.9" stroke="#000" stroke-width="1"/>
<path d="M85.74 501.3H89.94" stroke="#000" stroke-width="1.4"/>
<path d="M94.5 498.7V502.2" stroke="#000" stroke-width="1"/>
<rect x="92.82" y="499.5" width="3.3" height="1.8" fill="#6c8a68" stroke="#000" stroke-width="0.9"/>
<path d="M101.1 499.3V503.5" stroke="#000" stroke-width="1"/>
<rect x="99.46" y="499.5" width="3.3" height="3.4" fill="#ffee00" stroke="#000" stroke-width="0.9"/>
<path d="M107.7 498.7V503.4" stroke="#000" stroke-width="1"/>
<rect x="106.10" y="499.9" width="3.3" height="3.0" fill="#22c8ff" stroke="#000" stroke-width="0.9"/>
<path d="M114.4 495.5V500.2" stroke="#000" stroke-width="1"/>
<rect x="112.73" y="498.0" width="3.3" height="1.9" fill="#6c8a68" stroke="#000" stroke-width="0.9"/>
<path d="M121.0 495.9V499.8" stroke="#000" stroke-width="1"/>
<path d="M118.92 496.8H123.12" stroke="#000" stroke-width="1.4"/>
<path d="M127.7 491.8V496.6" stroke="#000" stroke-width="1"/>
<rect x="126.01" y="492.4" width="3.3" height="4.3" fill="#6c8a68" stroke="#000" stroke-width="0.9"/>
<path d="M134.3 490.7V493.3" stroke="#000" stroke-width="1"/>
<path d="M132.20 491.0H136.40" stroke="#000" stroke-width="1.4"/>
<path d="M140.9 489.2V493.1" stroke="#000" stroke-width="1"/>
<rect x="139.28" y="489.3" width="3.3" height="1.7" fill="#ff1414" stroke="#000" stroke-width="0.9"/>
<path d="M147.6 484.3V489.5" stroke="#000" stroke-width="1"/>
<rect x="145.92" y="484.9" width="3.3" height="4.4" fill="#ff1414" stroke="#000" stroke-width="0.9"/>
<path d="M154.2 474.2V485.6" stroke="#000" stroke-width="1"/>
<rect x="152.56" y="474.8" width="3.3" height="10.1" fill="#ff1414" stroke="#000" stroke-width="0.9"/>
<path d="M160.8 467.3V479.1" stroke="#000" stroke-width="1"/>
<rect x="159.20" y="468.5" width="3.3" height="6.3" fill="#ff1414" stroke="#000" stroke-width="0.9"/>
<path d="M167.5 455.6V469.4" stroke="#000" stroke-width="1"/>
<rect x="165.84" y="461.0" width="3.3" height="7.5" fill="#ff1414" stroke="#000" stroke-width="0.9"/>
<path d="M174.1 457.6V473.5" stroke="#000" stroke-width="1"/>
<path d="M172.02 459.5H176.22" stroke="#000" stroke-width="1.4"/>
<path d="M180.8 442.9V462.5" stroke="#000" stroke-width="1"/>
<rect x="179.11" y="443.7" width="3.3" height="15.8" fill="#6c8a68" stroke="#000" stroke-width="0.9"/>
<path d="M187.4 428.3V445.5" stroke="#000" stroke-width="1"/>
<rect x="185.75" y="428.7" width="3.3" height="14.9" fill="#6c8a68" stroke="#000" stroke-width="0.9"/>
<path d="M194.0 422.7V456.7" stroke="#000" stroke-width="1"/>
<rect x="192.39" y="428.7" width="3.3" height="26.6" fill="#ffee00" stroke="#000" stroke-width="0.9"/>
<path d="M200.7 443.6V467.3" stroke="#000" stroke-width="1"/>
<rect x="199.02" y="445.4" width="3.3" height="9.8" fill="#22c8ff" stroke="#000" stroke-width="0.9"/>
<path d="M207.3 436.1V452.9" stroke="#000" stroke-width="1"/>
<rect x="205.66" y="445.4" width="3.3" height="2.2" fill="#ffee00" stroke="#000" stroke-width="0.9"/>
<path d="M213.9 436.5V448.6" stroke="#000" stroke-width="1"/>
<rect x="212.30" y="438.4" width="3.3" height="9.2" fill="#22c8ff" stroke="#000" stroke-width="0.9"/>
<path d="M220.6 432.8V446.4" stroke="#000" stroke-width="1"/>
<rect x="218.94" y="438.4" width="3.3" height="4.3" fill="#ffee00" stroke="#000" stroke-width="0.9"/>
<path d="M227.2 408.3V444.0" stroke="#000" stroke-width="1"/>
<rect x="225.57" y="408.9" width="3.3" height="33.8" fill="#6c8a68" stroke="#000" stroke-width="0.9"/>
<path d="M233.9 386.9V419.3" stroke="#000" stroke-width="1"/>
<rect x="232.21" y="396.9" width="3.3" height="12.0" fill="#ff1414" stroke="#000" stroke-width="0.9"/>
<path d="M240.5 396.2V411.9" stroke="#000" stroke-width="1"/>
<rect x="238.85" y="396.9" width="3.3" height="13.1" fill="#ff1414" stroke="#000" stroke-width="0.9"/>
<path d="M247.1 398.8V413.7" stroke="#000" stroke-width="1"/>
<rect x="245.49" y="410.0" width="3.3" height="1.9" fill="#ffee00" stroke="#000" stroke-width="0.9"/>
<path d="M253.8 404.8V424.7" stroke="#000" stroke-width="1"/>
<rect x="252.12" y="411.9" width="3.3" height="6.8" fill="#ffee00" stroke="#000" stroke-width="0.9"/>
<path d="M260.4 411.9V438.9" stroke="#000" stroke-width="1"/>
<rect x="258.76" y="418.7" width="3.3" height="11.3" fill="#ffee00" stroke="#000" stroke-width="0.9"/>
<path d="M267.0 420.5V438.4" stroke="#000" stroke-width="1"/>
<rect x="265.40" y="425.7" width="3.3" height="4.3" fill="#22c8ff" stroke="#000" stroke-width="0.9"/>
<path d="M273.7 424.4V472.7" stroke="#000" stroke-width="1"/>
<rect x="272.04" y="425.7" width="3.3" height="32.7" fill="#ff22ee" stroke="#000" stroke-width="0.9"/>
<path d="M280.3 439.1V461.3" stroke="#000" stroke-width="1"/>
<rect x="278.67" y="442.5" width="3.3" height="15.9" fill="#1a1acc" stroke="#000" stroke-width="0.9"/>
<path d="M287.0 436.7V451.1" stroke="#000" stroke-width="1"/>
<rect x="285.31" y="438.1" width="3.3" height="4.4" fill="#22c8ff" stroke="#000" stroke-width="0.9"/>
<path d="M293.6 438.0V463.2" stroke="#000" stroke-width="1"/>
<rect x="291.95" y="438.1" width="3.3" height="18.9" fill="#ff22ee" stroke="#000" stroke-width="0.9"/>
<path d="M300.2 454.8V488.4" stroke="#000" stroke-width="1"/>
<rect x="298.59" y="457.0" width="3.3" height="30.1" fill="#8a4a55" stroke="#000" stroke-width="0.9"/>
<path d="M306.9 473.9V491.8" stroke="#000" stroke-width="1"/>
<rect x="305.22" y="484.8" width="3.3" height="2.3" fill="#2eea2e" stroke="#000" stroke-width="0.9"/>
<path d="M313.5 479.8V498.0" stroke="#000" stroke-width="1"/>
<rect x="311.86" y="484.8" width="3.3" height="8.8" fill="#8a4a55" stroke="#000" stroke-width="0.9"/>
<path d="M320.1 476.7V494.0" stroke="#000" stroke-width="1"/>
<rect x="318.50" y="478.7" width="3.3" height="14.9" fill="#2eea2e" stroke="#000" stroke-width="0.9"/>
<path d="M326.8 470.1V480.6" stroke="#000" stroke-width="1"/>
<path d="M324.68 478.0H328.88" stroke="#000" stroke-width="1.4"/>
<path d="M333.4 464.3V479.1" stroke="#000" stroke-width="1"/>
<rect x="331.77" y="464.8" width="3.3" height="13.2" fill="#22c8ff" stroke="#000" stroke-width="0.9"/>
<path d="M340.1 460.9V469.9" stroke="#000" stroke-width="1"/>
<rect x="338.41" y="464.8" width="3.3" height="2.0" fill="#ffa800" stroke="#000" stroke-width="0.9"/>
<path d="M346.7 461.2V469.6" stroke="#000" stroke-width="1"/>
<rect x="345.05" y="463.2" width="3.3" height="3.7" fill="#22c8ff" stroke="#000" stroke-width="0.9"/>
<path d="M353.3 462.5V471.2" stroke="#000" stroke-width="1"/>
<rect x="351.69" y="463.2" width="3.3" height="3.0" fill="#ffa800" stroke="#000" stroke-width="0.9"/>
<path d="M360.0 458.9V467.1" stroke="#000" stroke-width="1"/>
<rect x="358.32" y="459.4" width="3.3" height="6.8" fill="#22c8ff" stroke="#000" stroke-width="0.9"/>
<path d="M366.6 455.9V461.2" stroke="#000" stroke-width="1"/>
<rect x="364.96" y="457.6" width="3.3" height="1.7" fill="#22c8ff" stroke="#000" stroke-width="0.9"/>
<path d="M373.2 452.2V461.3" stroke="#000" stroke-width="1"/>
<rect x="371.60" y="453.2" width="3.3" height="4.4" fill="#22c8ff" stroke="#000" stroke-width="0.9"/>
<path d="M379.9 444.2V454.3" stroke="#000" stroke-width="1"/>
<rect x="378.24" y="444.7" width="3.3" height="8.6" fill="#2eea2e" stroke="#000" stroke-width="0.9"/>
<path d="M386.5 436.7V450.0" stroke="#000" stroke-width="1"/>
<rect x="384.87" y="437.9" width="3.3" height="6.8" fill="#1a1acc" stroke="#000" stroke-width="0.9"/>
<path d="M393.2 427.0V439.9" stroke="#000" stroke-width="1"/>
<rect x="391.51" y="427.4" width="3.3" height="10.5" fill="#9bdc50" stroke="#000" stroke-width="0.9"/>
<path d="M399.8 423.8V441.0" stroke="#000" stroke-width="1"/>
<rect x="398.15" y="427.4" width="3.3" height="5.4" fill="#ff1414" stroke="#000" stroke-width="0.9"/>
<path d="M406.4 426.6V438.6" stroke="#000" stroke-width="1"/>
<rect x="404.79" y="426.7" width="3.3" height="6.0" fill="#9bdc50" stroke="#000" stroke-width="0.9"/>
<path d="M413.1 415.0V427.7" stroke="#000" stroke-width="1"/>
<rect x="411.42" y="415.7" width="3.3" height="11.1" fill="#6c8a68" stroke="#000" stroke-width="0.9"/>
<path d="M419.7 407.4V418.6" stroke="#000" stroke-width="1"/>
<rect x="418.06" y="409.7" width="3.3" height="6.0" fill="#6c8a68" stroke="#000" stroke-width="0.9"/>
<path d="M426.3 387.0V410.2" stroke="#000" stroke-width="1"/>
<rect x="424.70" y="389.3" width="3.3" height="20.4" fill="#6c8a68" stroke="#000" stroke-width="0.9"/>
<path d="M433.0 386.6V404.6" stroke="#000" stroke-width="1"/>
<rect x="431.34" y="389.3" width="3.3" height="2.7" fill="#ff1414" stroke="#000" stroke-width="0.9"/>
<path d="M439.6 387.3V398.8" stroke="#000" stroke-width="1"/>
<rect x="437.97" y="388.2" width="3.3" height="3.8" fill="#6c8a68" stroke="#000" stroke-width="0.9"/>
<path d="M446.3 387.6V423.7" stroke="#000" stroke-width="1"/>
<rect x="444.61" y="388.2" width="3.3" height="28.6" fill="#ffee00" stroke="#000" stroke-width="0.9"/>
<path d="M452.9 403.8V421.0" stroke="#000" stroke-width="1"/>
<rect x="451.25" y="416.8" width="3.3" height="2.2" fill="#ffee00" stroke="#000" stroke-width="0.9"/>
<path d="M459.5 415.2V433.3" stroke="#000" stroke-width="1"/>
<rect x="457.89" y="419.0" width="3.3" height="11.0" fill="#ffee00" stroke="#000" stroke-width="0.9"/>
<path d="M466.2 429.0V463.9" stroke="#000" stroke-width="1"/>
<rect x="464.52" y="430.0" width="3.3" height="19.1" fill="#ff22ee" stroke="#000" stroke-width="0.9"/>
<path d="M472.8 443.4V471.8" stroke="#000" stroke-width="1"/>
<rect x="471.16" y="449.0" width="3.3" height="13.5" fill="#ff5aa8" stroke="#000" stroke-width="0.9"/>
<path d="M479.4 442.1V464.1" stroke="#000" stroke-width="1"/>
<rect x="477.80" y="449.0" width="3.3" height="13.5" fill="#2eea2e" stroke="#000" stroke-width="0.9"/>
<path d="M486.1 431.3V454.4" stroke="#000" stroke-width="1"/>
<rect x="484.44" y="432.9" width="3.3" height="16.2" fill="#1a1acc" stroke="#000" stroke-width="0.9"/>
<path d="M492.7 426.3V439.6" stroke="#000" stroke-width="1"/>
<rect x="491.07" y="427.6" width="3.3" height="5.3" fill="#22c8ff" stroke="#000" stroke-width="0.9"/>
<path d="M499.4 423.1V437.4" stroke="#000" stroke-width="1"/>
<rect x="497.71" y="423.9" width="3.3" height="3.7" fill="#22c8ff" stroke="#000" stroke-width="0.9"/>
<path d="M506.0 420.5V434.3" stroke="#000" stroke-width="1"/>
<rect x="504.35" y="423.9" width="3.3" height="3.5" fill="#ffee00" stroke="#000" stroke-width="0.9"/>
<path d="M512.6 419.5V430.5" stroke="#000" stroke-width="1"/>
<rect x="510.99" y="422.5" width="3.3" height="4.9" fill="#22c8ff" stroke="#000" stroke-width="0.9"/>
<path d="M519.3 406.4V424.7" stroke="#000" stroke-width="1"/>
<rect x="517.62" y="409.7" width="3.3" height="12.8" fill="#22c8ff" stroke="#000" stroke-width="0.9"/>
<path d="M525.9 399.9V417.8" stroke="#000" stroke-width="1"/>
<rect x="524.26" y="407.4" width="3.3" height="2.4" fill="#6c8a68" stroke="#000" stroke-width="0.9"/>
<path d="M532.5 396.9V408.3" stroke="#000" stroke-width="1"/>
<rect x="530.90" y="401.1" width="3.3" height="6.3" fill="#6c8a68" stroke="#000" stroke-width="0.9"/>
<path d="M539.2 398.4V446.1" stroke="#000" stroke-width="1"/>
<rect x="537.53" y="401.1" width="3.3" height="35.0" fill="#ff1414" stroke="#000" stroke-width="0.9"/>
<path d="M545.8 418.8V443.1" stroke="#000" stroke-width="1"/>
<rect x="544.17" y="428.7" width="3.3" height="7.4" fill="#9bdc50" stroke="#000" stroke-width="0.9"/>
<path d="M552.5 404.5V428.7" stroke="#000" stroke-width="1"/>
<rect x="550.81" y="409.1" width="3.3" height="19.6" fill="#22c8ff" stroke="#000" stroke-width="0.9"/>
<path d="M559.1 406.6V428.4" stroke="#000" stroke-width="1"/>
<rect x="557.45" y="409.1" width="3.3" height="9.9" fill="#ffee00" stroke="#000" stroke-width="0.9"/>
<path d="M565.7 399.2V420.8" stroke="#000" stroke-width="1"/>
<rect x="564.09" y="404.1" width="3.3" height="14.9" fill="#22c8ff" stroke="#000" stroke-width="0.9"/>
<path d="M572.4 395.4V409.1" stroke="#000" stroke-width="1"/>
<rect x="570.72" y="396.7" width="3.3" height="7.4" fill="#22c8ff" stroke="#000" stroke-width="0.9"/>
<path d="M579.0 388.1V400.3" stroke="#000" stroke-width="1"/>
<path d="M576.91 393.3H581.11" stroke="#000" stroke-width="1.4"/>
<path d="M585.6 379.0V400.3" stroke="#000" stroke-width="1"/>
<rect x="584.00" y="390.2" width="3.3" height="3.1" fill="#ff1414" stroke="#000" stroke-width="0.9"/>
<path d="M592.3 375.1V395.1" stroke="#000" stroke-width="1"/>
<rect x="590.64" y="378.4" width="3.3" height="11.9" fill="#6c8a68" stroke="#000" stroke-width="0.9"/>
<path d="M598.9 359.7V380.1" stroke="#000" stroke-width="1"/>
<rect x="597.27" y="360.5" width="3.3" height="17.9" fill="#6c8a68" stroke="#000" stroke-width="0.9"/>
<path d="M605.6 355.9V372.4" stroke="#000" stroke-width="1"/>
<path d="M603.46 360.4H607.66" stroke="#000" stroke-width="1.4"/>
<path d="M612.2 351.1V367.7" stroke="#000" stroke-width="1"/>
<rect x="610.55" y="355.2" width="3.3" height="5.2" fill="#6c8a68" stroke="#000" stroke-width="0.9"/>
<path d="M618.8 351.2V372.6" stroke="#000" stroke-width="1"/>
<rect x="617.19" y="355.2" width="3.3" height="6.7" fill="#ff1414" stroke="#000" stroke-width="0.9"/>
<path d="M625.5 350.4V382.8" stroke="#000" stroke-width="1"/>
<rect x="623.82" y="355.7" width="3.3" height="6.2" fill="#22c8ff" stroke="#000" stroke-width="0.9"/>
<path d="M632.1 310.7V363.6" stroke="#000" stroke-width="1"/>
<rect x="630.46" y="315.4" width="3.3" height="40.3" fill="#6c8a68" stroke="#000" stroke-width="0.9"/>
<path d="M638.7 307.5V337.2" stroke="#000" stroke-width="1"/>
<rect x="637.10" y="315.4" width="3.3" height="19.1" fill="#ff1414" stroke="#000" stroke-width="0.9"/>
<path d="M645.4 318.5V365.2" stroke="#000" stroke-width="1"/>
<rect x="643.74" y="334.5" width="3.3" height="24.0" fill="#ffee00" stroke="#000" stroke-width="0.9"/>
<path d="M652.0 325.4V363.3" stroke="#000" stroke-width="1"/>
<rect x="650.37" y="338.2" width="3.3" height="20.2" fill="#22c8ff" stroke="#000" stroke-width="0.9"/>
<path d="M658.7 343.0V376.4" stroke="#000" stroke-width="1"/>
<rect x="657.01" y="338.2" width="3.3" height="14.5" fill="#ffee00" stroke="#000" stroke-width="0.9"/>
<path d="M665.3 343.2V366.8" stroke="#000" stroke-width="1"/>
<rect x="663.65" y="352.7" width="3.3" height="5.3" fill="#ffee00" stroke="#000" stroke-width="0.9"/>
<path d="M671.9 337.2V365.2" stroke="#000" stroke-width="1"/>
<rect x="670.28" y="342.6" width="3.3" height="15.5" fill="#22c8ff" stroke="#000" stroke-width="0.9"/>
<path d="M678.6 324.4V348.8" stroke="#000" stroke-width="1"/>
<rect x="676.92" y="324.4" width="3.3" height="18.1" fill="#22c8ff" stroke="#000" stroke-width="0.9"/>
<path d="M685.2 308.9V326.0" stroke="#000" stroke-width="1"/>
<rect x="683.56" y="308.9" width="3.3" height="15.5" fill="#6c8a68" stroke="#000" stroke-width="0.9"/>
<path d="M691.8 297.0V317.6" stroke="#000" stroke-width="1"/>
<rect x="690.20" y="308.7" width="3.3" height="1.2" fill="#ff1414" stroke="#000" stroke-width="0.9"/>
<path d="M698.5 298.9V317.2" stroke="#000" stroke-width="1"/>
<rect x="696.84" y="299.3" width="3.3" height="9.4" fill="#6c8a68" stroke="#000" stroke-width="0.9"/>
<path d="M705.1 286.3V302.1" stroke="#000" stroke-width="1"/>
<path d="M703.02 297.6H707.22" stroke="#000" stroke-width="1.4"/>
<path d="M711.8 284.9V319.8" stroke="#000" stroke-width="1"/>
<rect x="710.11" y="297.6" width="3.3" height="15.3" fill="#ffee00" stroke="#000" stroke-width="0.9"/>
<path d="M718.4 292.3V318.5" stroke="#000" stroke-width="1"/>
<rect x="716.75" y="309.0" width="3.3" height="3.9" fill="#22c8ff" stroke="#000" stroke-width="0.9"/>
<path d="M725.0 298.3V317.3" stroke="#000" stroke-width="1"/>
<path d="M722.94 310.1H727.14" stroke="#000" stroke-width="1.4"/>
<path d="M731.7 307.3V346.9" stroke="#000" stroke-width="1"/>
<rect x="730.02" y="310.1" width="3.3" height="31.5" fill="#ff1414" stroke="#000" stroke-width="0.9"/>
<path d="M738.3 318.1V344.9" stroke="#000" stroke-width="1"/>
<rect x="736.66" y="323.6" width="3.3" height="18.1" fill="#6c8a68" stroke="#000" stroke-width="0.9"/>
<path d="M744.9 303.5V327.8" stroke="#000" stroke-width="1"/>
<rect x="743.30" y="307.3" width="3.3" height="16.3" fill="#22c8ff" stroke="#000" stroke-width="0.9"/>
<path d="M751.6 302.5V328.5" stroke="#000" stroke-width="1"/>
<rect x="749.94" y="306.8" width="3.3" height="1.2" fill="#ffee00" stroke="#000" stroke-width="0.9"/>
<path d="M758.2 288.1V317.0" stroke="#000" stroke-width="1"/>
<rect x="756.57" y="293.1" width="3.3" height="13.7" fill="#22c8ff" stroke="#000" stroke-width="0.9"/>
<path d="M764.9 281.2V389.4" stroke="#000" stroke-width="1"/>
<rect x="763.21" y="293.1" width="3.3" height="60.2" fill="#ff1414" stroke="#000" stroke-width="0.9"/>
<path d="M771.5 297.7V365.2" stroke="#000" stroke-width="1"/>
<rect x="769.85" y="308.9" width="3.3" height="44.4" fill="#6c8a68" stroke="#000" stroke-width="0.9"/>
<path d="M778.1 287.5V310.1" stroke="#000" stroke-width="1"/>
<rect x="776.49" y="300.5" width="3.3" height="8.4" fill="#6c8a68" stroke="#000" stroke-width="0.9"/>
<path d="M784.8 281.3V325.0" stroke="#000" stroke-width="1"/>
<rect x="783.12" y="282.6" width="3.3" height="17.9" fill="#6c8a68" stroke="#000" stroke-width="0.9"/>
<path d="M791.4 258.2V290.3" stroke="#000" stroke-width="1"/>
<rect x="789.76" y="258.6" width="3.3" height="24.1" fill="#22c8ff" stroke="#000" stroke-width="0.9"/>
<path d="M798.0 243.7V262.2" stroke="#000" stroke-width="1"/>
<rect x="796.40" y="248.8" width="3.3" height="9.8" fill="#ffee00" stroke="#000" stroke-width="0.9"/>
<path d="M804.7 239.5V258.4" stroke="#000" stroke-width="1"/>
<rect x="803.03" y="248.8" width="3.3" height="5.0" fill="#ffee00" stroke="#000" stroke-width="0.9"/>
<path d="M811.3 234.6V262.1" stroke="#000" stroke-width="1"/>
<rect x="809.67" y="242.2" width="3.3" height="11.7" fill="#22c8ff" stroke="#000" stroke-width="0.9"/>
<path d="M818.0 234.7V306.6" stroke="#000" stroke-width="1"/>
<rect x="816.31" y="242.2" width="3.3" height="27.5" fill="#ff1414" stroke="#000" stroke-width="0.9"/>
<path d="M824.6 260.1V303.2" stroke="#000" stroke-width="1"/>
<rect x="822.95" y="269.6" width="3.3" height="30.5" fill="#ff1414" stroke="#000" stroke-width="0.9"/>
<path d="M831.2 278.4V317.3" stroke="#000" stroke-width="1"/>
<rect x="829.59" y="300.1" width="3.3" height="12.5" fill="#ff1414" stroke="#000" stroke-width="0.9"/>
<path d="M837.9 264.8V316.7" stroke="#000" stroke-width="1"/>
<rect x="836.22" y="278.8" width="3.3" height="33.8" fill="#22c8ff" stroke="#000" stroke-width="0.9"/>
<path d="M844.5 245.5V277.8" stroke="#000" stroke-width="1"/>
<rect x="842.86" y="247.0" width="3.3" height="31.8" fill="#22c8ff" stroke="#000" stroke-width="0.9"/>
<path d="M851.1 232.1V249.7" stroke="#000" stroke-width="1"/>
<rect x="849.50" y="237.3" width="3.3" height="9.7" fill="#22c8ff" stroke="#000" stroke-width="0.9"/>
<path d="M857.8 230.2V256.1" stroke="#000" stroke-width="1"/>
<rect x="856.14" y="237.3" width="3.3" height="14.2" fill="#ffee00" stroke="#000" stroke-width="0.9"/>
<path d="M864.4 221.3V265.6" stroke="#000" stroke-width="1"/>
<rect x="862.77" y="226.0" width="3.3" height="25.5" fill="#22c8ff" stroke="#000" stroke-width="0.9"/>
<path d="M871.1 193.1V233.6" stroke="#000" stroke-width="1"/>
<rect x="869.41" y="193.5" width="3.3" height="32.5" fill="#6c8a68" stroke="#000" stroke-width="0.9"/>
<path d="M877.7 186.0V209.7" stroke="#000" stroke-width="1"/>
<rect x="876.05" y="193.5" width="3.3" height="4.8" fill="#ff1414" stroke="#000" stroke-width="0.9"/>
<path d="M884.3 174.9V220.9" stroke="#000" stroke-width="1"/>
<rect x="882.69" y="178.0" width="3.3" height="20.4" fill="#6c8a68" stroke="#000" stroke-width="0.9"/>
<path d="M891.0 155.6V187.5" stroke="#000" stroke-width="1"/>
<rect x="889.32" y="167.0" width="3.3" height="10.9" fill="#ff1414" stroke="#000" stroke-width="0.9"/>
<path d="M897.6 100.4V168.5" stroke="#000" stroke-width="1"/>
<rect x="895.96" y="125.0" width="3.3" height="42.1" fill="#ff1414" stroke="#000" stroke-width="0.9"/>
<path d="M904.2 81.7V193.6" stroke="#000" stroke-width="1"/>
<rect x="902.60" y="92.3" width="3.3" height="32.6" fill="#2c3a2c" stroke="#000" stroke-width="0.9"/>
<path d="M910.9 78.5V101.3" stroke="#000" stroke-width="1"/>
<path d="M908.78 92.9H912.99" stroke="#000" stroke-width="1.4"/>
<path d="M917.5 76.3V110.4" stroke="#000" stroke-width="1"/>
<rect x="915.87" y="81.5" width="3.3" height="11.4" fill="#6c8a68" stroke="#000" stroke-width="0.9"/>
<path d="M924.2 62.6V126.5" stroke="#000" stroke-width="1"/>
<rect x="922.51" y="81.5" width="3.3" height="44.4" fill="#ffee00" stroke="#000" stroke-width="0.9"/>
<ellipse cx="931.2" cy="82.8" rx="113.2" ry="43" fill="rgba(60,160,60,0.22)" stroke="rgba(60,160,60,0.25)" stroke-width="1"/>
</g>
<g clip-path="url(#cMainFull)">
<rect x="730.5" y="50.2" width="38" height="13" fill="#fff" stroke="#5cd65c" stroke-width="1"/>
<text x="749.5" y="59.900000000000006" font-family='"Liberation Sans", sans-serif' font-size="8.5" font-weight="bold" fill="#48c848" text-anchor="middle" textLength="33" lengthAdjust="spacingAndGlyphs" >300,00 %</text>
<rect x="730.5" y="105.9" width="38" height="13" fill="#fff" stroke="#98f098" stroke-width="1"/>
<text x="749.5" y="115.60000000000001" font-family='"Liberation Sans", sans-serif' font-size="8.5" font-weight="bold" fill="#6fe06f" text-anchor="middle" textLength="33" lengthAdjust="spacingAndGlyphs" >261,80 %</text>
<rect x="730.5" y="161.2" width="38" height="13" fill="#fff" stroke="#a020c8" stroke-width="1"/>
<text x="749.5" y="170.89999999999998" font-family='"Liberation Sans", sans-serif' font-size="8.5" font-weight="bold" fill="#9018b8" text-anchor="middle" textLength="33" lengthAdjust="spacingAndGlyphs" >223,60 %</text>
<rect x="730.5" y="195.2" width="38" height="13" fill="#fff" stroke="#b8d0ff" stroke-width="1"/>
<text x="749.5" y="204.89999999999998" font-family='"Liberation Sans", sans-serif' font-size="8.5" font-weight="bold" fill="#90a8e8" text-anchor="middle" textLength="33" lengthAdjust="spacingAndGlyphs" >200,00 %</text>
<rect x="730.5" y="250.39999999999998" width="38" height="13" fill="#fff" stroke="#ff9a5c" stroke-width="1"/>
<text x="749.5" y="260.09999999999997" font-family='"Liberation Sans", sans-serif' font-size="8.5" font-weight="bold" fill="#ff8a4c" text-anchor="middle" textLength="33" lengthAdjust="spacingAndGlyphs" >161,80 %</text>
<text x="276" y="471.4" font-family='"Liberation Sans", sans-serif' font-size="8.5" font-weight="bold" fill="#5050e0" text-anchor="middle" textLength="28" lengthAdjust="spacingAndGlyphs" >61,80 %</text>
<text x="276" y="492.4" font-family='"Liberation Sans", sans-serif' font-size="8.5" font-weight="bold" fill="#90ee70" text-anchor="middle" textLength="28" lengthAdjust="spacingAndGlyphs" >76,40 %</text>
<text x="370" y="474.5" font-family='"Liberation Sans", sans-serif' font-size="8.5" font-weight="bold" fill="#5050e0" text-anchor="middle" textLength="28" lengthAdjust="spacingAndGlyphs" >61,80 %</text>
<text x="370" y="495.4" font-family='"Liberation Sans", sans-serif' font-size="8.5" font-weight="bold" fill="#90ee70" text-anchor="middle" textLength="28" lengthAdjust="spacingAndGlyphs" >76,20 %</text>
<text x="738.6" y="364.5" font-family='"Liberation Sans", sans-serif' font-size="8.5" font-weight="bold" fill="#58c858" text-anchor="middle" textLength="28" lengthAdjust="spacingAndGlyphs" >38,20 %</text>
<text x="738.6" y="390" font-family='"Liberation Sans", sans-serif' font-size="8.5" font-weight="bold" fill="#ff9a5c" text-anchor="middle" textLength="28" lengthAdjust="spacingAndGlyphs" >50,00 %</text>
<text x="1053.5" y="239.5" font-family='"Liberation Sans", sans-serif' font-size="8.5" font-weight="bold" fill="#50c850" text-anchor="middle" textLength="28" lengthAdjust="spacingAndGlyphs" >38,20 %</text>
<text x="1053.5" y="294.5" font-family='"Liberation Sans", sans-serif' font-size="8.5" font-weight="bold" fill="#ff9a5c" text-anchor="middle" textLength="28" lengthAdjust="spacingAndGlyphs" >50,00 %</text>
<text x="1053.5" y="349" font-family='"Liberation Sans", sans-serif' font-size="8.5" font-weight="bold" fill="#4040d0" text-anchor="middle" textLength="28" lengthAdjust="spacingAndGlyphs" >61,80 %</text>
<text x="1053.5" y="417.7" font-family='"Liberation Sans", sans-serif' font-size="8.5" font-weight="bold" fill="#88e888" text-anchor="middle" textLength="28" lengthAdjust="spacingAndGlyphs" >76,40 %</text>
<rect x="228.10000000000002" y="370.4" width="10.4" height="13.6" fill="#fff" stroke="#6aa2ff" stroke-width="1"/>
<text x="233.3" y="380.59999999999997" font-family='"Liberation Sans", sans-serif' font-size="9.5" font-weight="bold" fill="#6aa2ff" text-anchor="middle" >1</text>
<rect x="301.2" y="501.7" width="10.4" height="13.6" fill="#fff" stroke="#6aa2ff" stroke-width="1"/>
<text x="306.4" y="511.9" font-family='"Liberation Sans", sans-serif' font-size="9.5" font-weight="bold" fill="#6aa2ff" text-anchor="middle" >2</text>
<rect x="706.3" y="268.4" width="10.4" height="13.6" fill="#fff" stroke="#6aa2ff" stroke-width="1"/>
<text x="711.5" y="278.59999999999997" font-family='"Liberation Sans", sans-serif' font-size="9.5" font-weight="bold" fill="#6aa2ff" text-anchor="middle" >3</text>
<rect x="759.5" y="393.59999999999997" width="10.4" height="13.6" fill="#fff" stroke="#6aa2ff" stroke-width="1"/>
<text x="764.7" y="403.79999999999995" font-family='"Liberation Sans", sans-serif' font-size="9.5" font-weight="bold" fill="#6aa2ff" text-anchor="middle" >4</text>
<rect x="918.0" y="28.8" width="10.4" height="13.6" fill="#fff" stroke="#6aa2ff" stroke-width="1"/>
<text x="923.2" y="39.0" font-family='"Liberation Sans", sans-serif' font-size="9.5" font-weight="bold" fill="#6aa2ff" text-anchor="middle" >5</text>
<rect x="928.2" y="23.6" width="18.6" height="19.6" rx="2.5" fill="#fff" stroke="#78a8ff" stroke-width="1"/>
<text x="937.5" y="38" font-family='"Liberation Sans", sans-serif' font-size="12" font-weight="normal" fill="#222" text-anchor="middle" >[1]</text>
<rect x="1080.8" y="299.2" width="19" height="20" rx="2.5" fill="#ecebfb" stroke="#78a8ff" stroke-width="1"/>
<text x="1090.3" y="313.8" font-family='"Liberation Sans", sans-serif' font-size="12" font-weight="normal" fill="#222" text-anchor="middle" >[2]</text>
<path d="M971.2 77L1085 279" stroke="#000" stroke-width="2" stroke-dasharray="1.6 3.4" fill="none"/>
<polygon points="1090.6,288 1080.5,281.5 1089.5,277.5" fill="#000"/>
<path d="M1129.7 283.2L1297 42" stroke="#000" stroke-width="2" stroke-dasharray="1.6 3.4" fill="none"/>
<polygon points="1302.8,33.4 1302,44.5 1293.5,38.5" fill="#000"/>
<text x="31.6" y="49.3" font-family='"Liberation Sans", sans-serif' font-size="20" font-weight="bold" fill="#000" text-anchor="start" >Q</text>
<text x="31.8" y="73" font-family='"Liberation Sans", sans-serif' font-size="20" font-weight="bold" fill="#000" text-anchor="start" textLength="211.4" lengthAdjust="spacingAndGlyphs" >Alemania 40 Cash (1€)</text>
<rect x="22.5" y="121" width="36" height="12" fill="#fff" stroke="#a06a3c" stroke-width="1"/>
<text x="24.4" y="130.3" font-family='"Liberation Sans", sans-serif' font-size="8.5" font-weight="normal" fill="#222" text-anchor="start" textLength="32" lengthAdjust="spacingAndGlyphs" >21.740,0</text>
<text x="24" y="534.6" font-family='"Liberation Sans", sans-serif' font-size="8.5" font-weight="normal" fill="#111" text-anchor="start" textLength="107" lengthAdjust="spacingAndGlyphs" >IT-Finance.com - Tiempo Real</text>
</g>
<g clip-path="url(#cP1)">
<rect x="22" y="547" width="902.5" height="18.3" fill="#d6f4d4"/>
<rect x="22" y="621.5" width="902.5" height="18" fill="#ffd9d6"/>
<polygon points="22.0,565.3 22.0,565.2 23.5,565.2 25.0,565.0 26.5,564.8 28.0,564.6 29.5,564.7 31.0,565.3 32.5,565.3 34.0,565.3 35.5,565.3 37.0,565.3 38.5,565.3 40.0,565.3 41.5,565.3 43.0,565.3 44.5,565.3 46.0,565.3 47.5,565.3 49.0,565.3 50.5,565.3 52.0,565.3 53.5,565.3 55.0,564.7 56.5,563.0 58.0,561.4 59.5,559.8 61.0,558.1 62.5,556.6 64.0,555.5 65.5,554.4 67.0,553.2 68.5,552.4 70.0,552.2 71.5,552.1 73.0,551.9 74.5,552.1 76.0,553.0 77.5,553.9 79.0,554.9 80.5,555.7 82.0,556.3 83.5,556.9 85.0,557.5 86.5,558.1 88.0,558.6 89.5,558.8 91.0,559.1 92.5,559.3 94.0,559.6 95.5,559.8 97.0,560.1 98.5,560.3 100.0,560.6 101.5,560.7 103.0,560.4 104.5,560.2 106.0,559.9 107.5,559.7 109.0,559.4 110.5,559.2 112.0,558.9 113.5,558.7 115.0,558.1 116.5,557.1 118.0,556.0 119.5,555.0 121.0,554.0 122.5,553.1 124.0,552.6 125.5,552.1 127.0,551.6 128.5,551.1 130.0,550.6 131.5,550.2 133.0,549.9 134.5,549.7 136.0,549.4 137.5,549.2 139.0,548.9 140.5,548.7 142.0,548.4 143.5,548.2 145.0,548.0 146.5,547.9 148.0,547.9 149.5,547.8 151.0,547.8 152.5,547.8 154.0,547.7 155.5,547.7 157.0,547.6 158.5,547.6 160.0,547.5 161.5,547.7 163.0,548.1 164.5,548.6 166.0,549.0 167.5,549.5 169.0,549.9 170.5,550.3 172.0,550.6 173.5,550.8 175.0,551.1 176.5,551.3 178.0,551.6 179.5,551.6 181.0,551.1 182.5,550.7 184.0,550.2 185.5,549.8 187.0,549.9 188.5,551.1 190.0,552.3 191.5,553.5 193.0,554.7 194.5,556.0 196.0,557.5 197.5,559.0 199.0,560.5 200.5,562.0 202.0,563.6 203.5,565.2 205.0,565.3 206.5,565.3 208.0,565.3 209.5,565.3 211.0,565.3 212.5,565.3 214.0,565.3 215.5,565.3 217.0,565.3 218.5,564.9 220.0,564.0 221.5,562.5 223.0,561.0 224.5,559.5 226.0,558.0 227.5,556.9 229.0,556.6 230.5,556.3 232.0,556.1 233.5,555.8 235.0,555.5 236.5,555.2 238.0,554.9 239.5,555.0 241.0,555.8 242.5,556.5 244.0,557.2 245.5,558.0 247.0,558.8 248.5,560.0 250.0,562.2 251.5,563.1 253.0,563.9 254.5,564.7 256.0,565.3 257.5,565.3 259.0,565.3 260.5,565.3 262.0,565.3 263.5,565.3 265.0,565.3 266.5,565.3 268.0,565.3 269.5,565.3 271.0,565.3 272.5,565.3 274.0,565.3 275.5,565.3 277.0,565.3 278.5,565.3 280.0,565.3 281.5,565.3 283.0,565.3 284.5,565.3 286.0,565.3 287.5,565.3 289.0,565.3 290.5,565.3 292.0,565.3 293.5,565.3 295.0,565.3 296.5,565.3 298.0,565.3 299.5,565.3 301.0,565.3 302.5,565.3 304.0,565.3 305.5,565.3 307.0,565.3 308.5,565.3 310.0,565.3 311.5,565.3 313.0,565.3 314.5,565.3 316.0,565.3 317.5,565.3 319.0,565.3 320.5,565.3 322.0,565.3 323.5,565.3 325.0,565.3 326.5,565.3 328.0,565.3 329.5,565.3 331.0,565.3 332.5,565.3 334.0,565.3 335.5,565.3 337.0,565.3 338.5,565.3 340.0,565.3 341.5,565.3 343.0,565.3 344.5,565.3 346.0,565.3 347.5,565.3 349.0,565.3 350.5,565.3 352.0,565.3 353.5,565.3 355.0,565.3 356.5,565.3 358.0,565.3 359.5,565.3 361.0,565.3 362.5,565.3 364.0,565.3 365.5,565.3 367.0,565.3 368.5,565.3 370.0,565.3 371.5,565.3 373.0,565.3 374.5,565.3 376.0,565.3 377.5,565.3 379.0,565.3 380.5,565.3 382.0,565.3 383.5,565.3 385.0,565.3 386.5,565.3 388.0,565.3 389.5,565.3 391.0,565.3 392.5,565.3 394.0,565.3 395.5,565.3 397.0,565.3 398.5,565.3 400.0,565.3 401.5,565.3 403.0,565.3 404.5,565.3 406.0,565.3 407.5,565.3 409.0,565.3 410.5,565.3 412.0,565.3 413.5,565.3 415.0,565.3 416.5,565.3 418.0,565.3 419.5,565.3 421.0,565.3 422.5,563.9 424.0,562.1 425.5,560.3 427.0,558.5 428.5,557.5 430.0,556.4 431.5,555.4 433.0,554.4 434.5,553.3 436.0,552.3 437.5,551.3 439.0,550.2 440.5,551.5 442.0,552.8 443.5,554.0 445.0,555.2 446.5,556.5 448.0,557.8 449.5,559.0 451.0,560.2 452.5,561.5 454.0,563.3 455.5,565.1 457.0,565.3 458.5,565.3 460.0,565.3 461.5,565.3 463.0,565.3 464.5,565.3 466.0,565.3 467.5,565.3 469.0,565.3 470.5,565.3 472.0,565.3 473.5,565.3 475.0,565.3 476.5,565.3 478.0,565.3 479.5,565.3 481.0,565.3 482.5,565.3 484.0,565.3 485.5,565.3 487.0,565.3 488.5,565.3 490.0,565.3 491.5,565.3 493.0,565.3 494.5,565.3 496.0,565.3 497.5,565.3 499.0,565.3 500.5,565.3 502.0,565.3 503.5,565.3 505.0,565.3 506.5,565.3 508.0,565.3 509.5,565.3 511.0,565.3 512.5,565.3 514.0,565.3 515.5,565.3 517.0,565.3 518.5,565.3 520.0,565.3 521.5,565.3 523.0,565.3 524.5,565.3 526.0,565.3 527.5,564.8 529.0,563.6 530.5,562.5 532.0,561.8 533.5,563.5 535.0,565.2 536.5,565.3 538.0,565.3 539.5,565.3 541.0,565.3 542.5,565.3 544.0,565.3 545.5,565.3 547.0,565.3 548.5,565.3 550.0,565.3 551.5,565.3 553.0,565.3 554.5,565.3 556.0,565.3 557.5,565.3 559.0,565.3 560.5,565.3 562.0,565.3 563.5,565.3 565.0,565.3 566.5,565.3 568.0,564.9 569.5,563.9 571.0,563.0 572.5,562.1 574.0,561.2 575.5,560.3 577.0,558.8 578.5,557.0 580.0,555.5 581.5,555.3 583.0,555.2 584.5,555.1 586.0,554.9 587.5,554.8 589.0,554.3 590.5,553.7 592.0,553.1 593.5,552.5 595.0,551.8 596.5,551.2 598.0,550.8 599.5,550.5 601.0,550.1 602.5,549.8 604.0,549.5 605.5,549.2 607.0,548.9 608.5,549.0 610.0,549.2 611.5,549.5 613.0,549.9 614.5,550.1 616.0,550.4 617.5,550.5 619.0,550.6 620.5,550.8 622.0,551.0 623.5,551.1 625.0,551.2 626.5,551.4 628.0,551.5 629.5,551.7 631.0,551.9 632.5,552.0 634.0,552.1 635.5,552.3 637.0,552.5 638.5,553.2 640.0,554.4 641.5,555.5 643.0,556.6 644.5,557.8 646.0,558.9 647.5,560.0 649.0,561.1 650.5,562.1 652.0,563.1 653.5,564.1 655.0,565.0 656.5,565.3 658.0,565.3 659.5,565.3 661.0,565.3 662.5,565.3 664.0,565.3 665.5,565.3 667.0,565.3 668.5,565.3 670.0,565.3 671.5,565.3 673.0,565.3 674.5,565.3 676.0,564.6 677.5,563.3 679.0,562.0 680.5,560.8 682.0,559.7 683.5,558.6 685.0,557.6 686.5,556.5 688.0,555.4 689.5,554.4 691.0,553.5 692.5,552.8 694.0,552.0 695.5,551.2 697.0,550.5 698.5,549.8 700.0,549.8 701.5,550.2 703.0,550.7 704.5,551.1 706.0,551.6 707.5,552.0 709.0,552.5 710.5,553.1 712.0,553.7 713.5,554.2 715.0,554.8 716.5,555.4 718.0,556.0 719.5,556.6 721.0,557.2 722.5,557.8 724.0,558.3 725.5,558.8 727.0,559.4 728.5,559.9 730.0,560.5 731.5,561.0 733.0,561.6 734.5,562.1 736.0,562.7 737.5,563.2 739.0,563.8 740.5,563.6 742.0,563.5 743.5,563.3 745.0,563.1 746.5,563.0 748.0,561.9 749.5,560.8 751.0,559.7 752.5,558.6 754.0,557.5 755.5,556.4 757.0,555.3 758.5,555.4 760.0,556.8 761.5,558.1 763.0,559.4 764.5,560.8 766.0,561.1 767.5,561.4 769.0,561.8 770.5,562.1 772.0,562.4 773.5,562.8 775.0,563.1 776.5,563.4 778.0,563.8 779.5,561.7 781.0,559.6 782.5,557.6 784.0,555.5 785.5,554.4 787.0,553.2 788.5,552.1 790.0,551.0 791.5,549.9 793.0,548.8 794.5,548.5 796.0,548.2 797.5,548.0 799.0,547.7 800.5,548.0 802.0,548.2 803.5,548.5 805.0,548.7 806.5,549.0 808.0,549.2 809.5,549.5 811.0,549.7 812.5,550.0 814.0,550.2 815.5,551.4 817.0,552.5 818.5,553.6 820.0,554.8 821.5,555.9 823.0,557.0 824.5,559.0 826.0,561.0 827.5,563.0 829.0,565.0 830.5,565.3 832.0,565.3 833.5,565.3 835.0,565.3 836.5,565.3 838.0,565.3 839.5,565.3 841.0,565.3 842.5,565.3 844.0,565.3 845.5,564.2 847.0,562.0 848.5,559.8 850.0,557.7 851.5,555.5 853.0,554.8 854.5,554.0 856.0,553.2 857.5,552.5 859.0,551.8 860.5,551.5 862.0,551.3 863.5,551.1 865.0,550.9 866.5,550.7 868.0,550.5 869.5,550.2 871.0,550.0 872.5,549.8 874.0,549.6 875.5,549.4 877.0,549.1 878.5,548.9 880.0,548.7 881.5,548.5 883.0,548.2 884.5,548.0 886.0,548.3 887.5,548.6 889.0,548.9 890.5,549.2 892.0,549.5 893.5,549.7 895.0,549.8 896.5,550.0 898.0,550.2 899.5,550.3 901.0,550.5 902.5,550.7 904.0,550.8 905.5,551.0 907.0,550.8 908.5,550.6 910.0,550.4 911.5,550.2 913.0,550.1 914.5,549.9 916.0,549.7 917.5,549.5 919.0,550.1 920.5,550.6 922.0,551.2 923.5,551.8 923.5,565.3" fill="#7cc07a"/>
<polygon points="22.0,565.2 23.5,565.2 23.5,565.2 22.0,565.2" fill="rgba(120,120,210,0.45)"/>
<polygon points="23.5,565.2 25.0,565.0 25.0,565.2 23.5,565.2" fill="rgba(120,120,210,0.45)"/>
<polygon points="25.0,565.0 26.5,564.8 26.5,565.2 25.0,565.2" fill="rgba(120,120,210,0.45)"/>
<polygon points="26.5,564.8 28.0,564.6 28.0,565.1 26.5,565.2" fill="rgba(120,120,210,0.45)"/>
<polygon points="28.0,564.6 29.5,564.7 29.5,565.1 28.0,565.1" fill="rgba(120,120,210,0.45)"/>
<polygon points="29.5,564.7 31.0,565.4 31.0,565.1 29.5,565.1" fill="rgba(220,150,225,0.55)"/>
<polygon points="31.0,565.4 32.5,566.0 32.5,565.1 31.0,565.1" fill="rgba(220,150,225,0.55)"/>
<polygon points="32.5,566.0 34.0,566.6 34.0,565.1 32.5,565.1" fill="rgba(220,150,225,0.55)"/>
<polygon points="34.0,566.6 35.5,567.3 35.5,565.1 34.0,565.1" fill="rgba(220,150,225,0.55)"/>
<polygon points="35.5,567.3 37.0,567.9 37.0,565.2 35.5,565.1" fill="rgba(220,150,225,0.55)"/>
<polygon points="37.0,567.9 38.5,568.6 38.5,565.4 37.0,565.2" fill="rgba(220,150,225,0.55)"/>
<polygon points="38.5,568.6 40.0,569.1 40.0,565.6 38.5,565.4" fill="rgba(220,150,225,0.55)"/>
<polygon points="40.0,569.1 41.5,569.5 41.5,565.8 40.0,565.6" fill="rgba(220,150,225,0.55)"/>
<polygon points="41.5,569.5 43.0,570.0 43.0,566.1 41.5,565.8" fill="rgba(220,150,225,0.55)"/>
<polygon points="43.0,570.0 44.5,570.4 44.5,566.5 43.0,566.1" fill="rgba(220,150,225,0.55)"/>
<polygon points="44.5,570.4 46.0,570.8 46.0,566.9 44.5,566.5" fill="rgba(220,150,225,0.55)"/>
<polygon points="46.0,570.8 47.5,571.2 47.5,567.3 46.0,566.9" fill="rgba(220,150,225,0.55)"/>
<polygon points="47.5,571.2 49.0,570.1 49.0,567.8 47.5,567.3" fill="rgba(220,150,225,0.55)"/>
<polygon points="49.0,570.1 50.5,568.8 50.5,568.2 49.0,567.8" fill="rgba(220,150,225,0.55)"/>
<polygon points="50.5,568.8 52.0,567.5 52.0,568.6 50.5,568.2" fill="rgba(120,120,210,0.45)"/>
<polygon points="52.0,567.5 53.5,566.1 53.5,568.9 52.0,568.6" fill="rgba(120,120,210,0.45)"/>
<polygon points="53.5,566.1 55.0,564.7 55.0,569.1 53.5,568.9" fill="rgba(120,120,210,0.45)"/>
<polygon points="55.0,564.7 56.5,563.0 56.5,569.1 55.0,569.1" fill="rgba(120,120,210,0.45)"/>
<polygon points="56.5,563.0 58.0,561.4 58.0,568.9 56.5,569.1" fill="rgba(120,120,210,0.45)"/>
<polygon points="58.0,561.4 59.5,559.8 59.5,568.5 58.0,568.9" fill="rgba(120,120,210,0.45)"/>
<polygon points="59.5,559.8 61.0,558.1 61.0,568.0 59.5,568.5" fill="rgba(120,120,210,0.45)"/>
<polygon points="61.0,558.1 62.5,556.6 62.5,567.3 61.0,568.0" fill="rgba(120,120,210,0.45)"/>
<polygon points="62.5,556.6 64.0,555.5 64.0,566.3 62.5,567.3" fill="rgba(120,120,210,0.45)"/>
<polygon points="64.0,555.5 65.5,554.4 65.5,565.3 64.0,566.3" fill="rgba(120,120,210,0.45)"/>
<polygon points="65.5,554.4 67.0,553.2 67.0,564.1 65.5,565.3" fill="rgba(120,120,210,0.45)"/>
<polygon points="67.0,553.2 68.5,552.4 68.5,562.8 67.0,564.1" fill="rgba(120,120,210,0.45)"/>
<polygon points="68.5,552.4 70.0,552.2 70.0,561.5 68.5,562.8" fill="rgba(120,120,210,0.45)"/>
<polygon points="70.0,552.2 71.5,552.1 71.5,560.1 70.0,561.5" fill="rgba(120,120,210,0.45)"/>
<polygon points="71.5,552.1 73.0,551.9 73.0,558.8 71.5,560.1" fill="rgba(120,120,210,0.45)"/>
<polygon points="73.0,551.9 74.5,552.1 74.5,557.6 73.0,558.8" fill="rgba(120,120,210,0.45)"/>
<polygon points="74.5,552.1 76.0,553.0 76.0,556.5 74.5,557.6" fill="rgba(120,120,210,0.45)"/>
<polygon points="76.0,553.0 77.5,553.9 77.5,555.6 76.0,556.5" fill="rgba(120,120,210,0.45)"/>
<polygon points="77.5,553.9 79.0,554.9 79.0,554.8 77.5,555.6" fill="rgba(220,150,225,0.55)"/>
<polygon points="79.0,554.9 80.5,555.7 80.5,554.2 79.0,554.8" fill="rgba(220,150,225,0.55)"/>
<polygon points="80.5,555.7 82.0,556.3 82.0,553.8 80.5,554.2" fill="rgba(220,150,225,0.55)"/>
<polygon points="82.0,556.3 83.5,556.9 83.5,553.6 82.0,553.8" fill="rgba(220,150,225,0.55)"/>
<polygon points="83.5,556.9 85.0,557.5 85.0,553.6 83.5,553.6" fill="rgba(220,150,225,0.55)"/>
<polygon points="85.0,557.5 86.5,558.1 86.5,553.7 85.0,553.6" fill="rgba(220,150,225,0.55)"/>
<polygon points="86.5,558.1 88.0,558.6 88.0,554.0 86.5,553.7" fill="rgba(220,150,225,0.55)"/>
<polygon points="88.0,558.6 89.5,558.8 89.5,554.4 88.0,554.0" fill="rgba(220,150,225,0.55)"/>
<polygon points="89.5,558.8 91.0,559.1 91.0,554.9 89.5,554.4" fill="rgba(220,150,225,0.55)"/>
<polygon points="91.0,559.1 92.5,559.3 92.5,555.4 91.0,554.9" fill="rgba(220,150,225,0.55)"/>
<polygon points="92.5,559.3 94.0,559.6 94.0,556.0 92.5,555.4" fill="rgba(220,150,225,0.55)"/>
<polygon points="94.0,559.6 95.5,559.8 95.5,556.5 94.0,556.0" fill="rgba(220,150,225,0.55)"/>
<polygon points="95.5,559.8 97.0,560.1 97.0,557.1 95.5,556.5" fill="rgba(220,150,225,0.55)"/>
<polygon points="97.0,560.1 98.5,560.3 98.5,557.6 97.0,557.1" fill="rgba(220,150,225,0.55)"/>
<polygon points="98.5,560.3 100.0,560.6 100.0,558.1 98.5,557.6" fill="rgba(220,150,225,0.55)"/>
<polygon points="100.0,560.6 101.5,560.7 101.5,558.5 100.0,558.1" fill="rgba(220,150,225,0.55)"/>
<polygon points="101.5,560.7 103.0,560.4 103.0,558.8 101.5,558.5" fill="rgba(220,150,225,0.55)"/>
<polygon points="103.0,560.4 104.5,560.2 104.5,559.2 103.0,558.8" fill="rgba(220,150,225,0.55)"/>
<polygon points="104.5,560.2 106.0,559.9 106.0,559.4 104.5,559.2" fill="rgba(220,150,225,0.55)"/>
<polygon points="106.0,559.9 107.5,559.7 107.5,559.6 106.0,559.4" fill="rgba(220,150,225,0.55)"/>
<polygon points="107.5,559.7 109.0,559.4 109.0,559.8 107.5,559.6" fill="rgba(120,120,210,0.45)"/>
<polygon points="109.0,559.4 110.5,559.2 110.5,559.9 109.0,559.8" fill="rgba(120,120,210,0.45)"/>
<polygon points="110.5,559.2 112.0,558.9 112.0,560.0 110.5,559.9" fill="rgba(120,120,210,0.45)"/>
<polygon points="112.0,558.9 113.5,558.7 113.5,560.0 112.0,560.0" fill="rgba(120,120,210,0.45)"/>
<polygon points="113.5,558.7 115.0,558.1 115.0,559.9 113.5,560.0" fill="rgba(120,120,210,0.45)"/>
<polygon points="115.0,558.1 116.5,557.1 116.5,559.8 115.0,559.9" fill="rgba(120,120,210,0.45)"/>
<polygon points="116.5,557.1 118.0,556.0 118.0,559.7 116.5,559.8" fill="rgba(120,120,210,0.45)"/>
<polygon points="118.0,556.0 119.5,555.0 119.5,559.4 118.0,559.7" fill="rgba(120,120,210,0.45)"/>
<polygon points="119.5,555.0 121.0,554.0 121.0,559.1 119.5,559.4" fill="rgba(120,120,210,0.45)"/>
<polygon points="121.0,554.0 122.5,553.1 122.5,558.7 121.0,559.1" fill="rgba(120,120,210,0.45)"/>
<polygon points="122.5,553.1 124.0,552.6 124.0,558.2 122.5,558.7" fill="rgba(120,120,210,0.45)"/>
<polygon points="124.0,552.6 125.5,552.1 125.5,557.7 124.0,558.2" fill="rgba(120,120,210,0.45)"/>
<polygon points="125.5,552.1 127.0,551.6 127.0,557.1 125.5,557.7" fill="rgba(120,120,210,0.45)"/>
<polygon points="127.0,551.6 128.5,551.1 128.5,556.5 127.0,557.1" fill="rgba(120,120,210,0.45)"/>
<polygon points="128.5,551.1 130.0,550.6 130.0,555.8 128.5,556.5" fill="rgba(120,120,210,0.45)"/>
<polygon points="130.0,550.6 131.5,550.2 131.5,555.2 130.0,555.8" fill="rgba(120,120,210,0.45)"/>
<polygon points="131.5,550.2 133.0,549.9 133.0,554.5 131.5,555.2" fill="rgba(120,120,210,0.45)"/>
<polygon points="133.0,549.9 134.5,549.7 134.5,553.8 133.0,554.5" fill="rgba(120,120,210,0.45)"/>
<polygon points="134.5,549.7 136.0,549.4 136.0,553.1 134.5,553.8" fill="rgba(120,120,210,0.45)"/>
<polygon points="136.0,549.4 137.5,549.2 137.5,552.5 136.0,553.1" fill="rgba(120,120,210,0.45)"/>
<polygon points="137.5,549.2 139.0,548.9 139.0,551.9 137.5,552.5" fill="rgba(120,120,210,0.45)"/>
<polygon points="139.0,548.9 140.5,548.7 140.5,551.4 139.0,551.9" fill="rgba(120,120,210,0.45)"/>
<polygon points="140.5,548.7 142.0,548.4 142.0,551.0 140.5,551.4" fill="rgba(120,120,210,0.45)"/>
<polygon points="142.0,548.4 143.5,548.2 143.5,550.5 142.0,551.0" fill="rgba(120,120,210,0.45)"/>
<polygon points="143.5,548.2 145.0,548.0 145.0,550.2 143.5,550.5" fill="rgba(120,120,210,0.45)"/>
<polygon points="145.0,548.0 146.5,547.9 146.5,549.8 145.0,550.2" fill="rgba(120,120,210,0.45)"/>
<polygon points="146.5,547.9 148.0,547.9 148.0,549.5 146.5,549.8" fill="rgba(120,120,210,0.45)"/>
<polygon points="148.0,547.9 149.5,547.8 149.5,549.3 148.0,549.5" fill="rgba(120,120,210,0.45)"/>
<polygon points="149.5,547.8 151.0,547.8 151.0,549.0 149.5,549.3" fill="rgba(120,120,210,0.45)"/>
<polygon points="151.0,547.8 152.5,547.8 152.5,548.8 151.0,549.0" fill="rgba(120,120,210,0.45)"/>
<polygon points="152.5,547.8 154.0,547.7 154.0,548.6 152.5,548.8" fill="rgba(120,120,210,0.45)"/>
<polygon points="154.0,547.7 155.5,547.7 155.5,548.4 154.0,548.6" fill="rgba(120,120,210,0.45)"/>
<polygon points="155.5,547.7 157.0,547.6 157.0,548.3 155.5,548.4" fill="rgba(120,120,210,0.45)"/>
<polygon points="157.0,547.6 158.5,547.6 158.5,548.1 157.0,548.3" fill="rgba(120,120,210,0.45)"/>
<polygon points="158.5,547.6 160.0,547.5 160.0,548.0 158.5,548.1" fill="rgba(120,120,210,0.45)"/>
<polygon points="160.0,547.5 161.5,547.7 161.5,547.9 160.0,548.0" fill="rgba(120,120,210,0.45)"/>
<polygon points="161.5,547.7 163.0,548.1 163.0,547.9 161.5,547.9" fill="rgba(220,150,225,0.55)"/>
<polygon points="163.0,548.1 164.5,548.6 164.5,547.8 163.0,547.9" fill="rgba(220,150,225,0.55)"/>
<polygon points="164.5,548.6 166.0,549.0 166.0,547.8 164.5,547.8" fill="rgba(220,150,225,0.55)"/>
<polygon points="166.0,549.0 167.5,549.5 167.5,547.8 166.0,547.8" fill="rgba(220,150,225,0.55)"/>
<polygon points="167.5,549.5 169.0,549.9 169.0,547.9 167.5,547.8" fill="rgba(220,150,225,0.55)"/>
<polygon points="169.0,549.9 170.5,550.3 170.5,548.0 169.0,547.9" fill="rgba(220,150,225,0.55)"/>
<polygon points="170.5,550.3 172.0,550.6 172.0,548.2 170.5,548.0" fill="rgba(220,150,225,0.55)"/>
<polygon points="172.0,550.6 173.5,550.8 173.5,548.3 172.0,548.2" fill="rgba(220,150,225,0.55)"/>
<polygon points="173.5,550.8 175.0,551.1 175.0,548.6 173.5,548.3" fill="rgba(220,150,225,0.55)"/>
<polygon points="175.0,551.1 176.5,551.3 176.5,548.8 175.0,548.6" fill="rgba(220,150,225,0.55)"/>
<polygon points="176.5,551.3 178.0,551.6 178.0,549.1 176.5,548.8" fill="rgba(220,150,225,0.55)"/>
<polygon points="178.0,551.6 179.5,551.6 179.5,549.4 178.0,549.1" fill="rgba(220,150,225,0.55)"/>
<polygon points="179.5,551.6 181.0,551.1 181.0,549.7 179.5,549.4" fill="rgba(220,150,225,0.55)"/>
<polygon points="181.0,551.1 182.5,550.7 182.5,550.0 181.0,549.7" fill="rgba(220,150,225,0.55)"/>
<polygon points="182.5,550.7 184.0,550.2 184.0,550.3 182.5,550.0" fill="rgba(120,120,210,0.45)"/>
<polygon points="184.0,550.2 185.5,549.8 185.5,550.5 184.0,550.3" fill="rgba(120,120,210,0.45)"/>
<polygon points="185.5,549.8 187.0,549.9 187.0,550.6 185.5,550.5" fill="rgba(120,120,210,0.45)"/>
<polygon points="187.0,549.9 188.5,551.1 188.5,550.7 187.0,550.6" fill="rgba(220,150,225,0.55)"/>
<polygon points="188.5,551.1 190.0,552.3 190.0,550.8 188.5,550.7" fill="rgba(220,150,225,0.55)"/>
<polygon points="190.0,552.3 191.5,553.5 191.5,550.9 190.0,550.8" fill="rgba(220,150,225,0.55)"/>
<polygon points="191.5,553.5 193.0,554.7 193.0,551.0 191.5,550.9" fill="rgba(220,150,225,0.55)"/>
<polygon points="193.0,554.7 194.5,556.0 194.5,551.2 193.0,551.0" fill="rgba(220,150,225,0.55)"/>
<polygon points="194.5,556.0 196.0,557.5 196.0,551.4 194.5,551.2" fill="rgba(220,150,225,0.55)"/>
<polygon points="196.0,557.5 197.5,559.0 197.5,551.7 196.0,551.4" fill="rgba(220,150,225,0.55)"/>
<polygon points="197.5,559.0 199.0,560.5 199.0,552.2 197.5,551.7" fill="rgba(220,150,225,0.55)"/>
<polygon points="199.0,560.5 200.5,562.0 200.5,552.8 199.0,552.2" fill="rgba(220,150,225,0.55)"/>
<polygon points="200.5,562.0 202.0,563.6 202.0,553.5 200.5,552.8" fill="rgba(220,150,225,0.55)"/>
<polygon points="202.0,563.6 203.5,565.2 203.5,554.4 202.0,553.5" fill="rgba(220,150,225,0.55)"/>
<polygon points="203.5,565.2 205.0,566.9 205.0,555.4 203.5,554.4" fill="rgba(220,150,225,0.55)"/>
<polygon points="205.0,566.9 206.5,568.6 206.5,556.6 205.0,555.4" fill="rgba(220,150,225,0.55)"/>
<polygon points="206.5,568.6 208.0,569.5 208.0,557.9 206.5,556.6" fill="rgba(220,150,225,0.55)"/>
<polygon points="208.0,569.5 209.5,568.9 209.5,559.2 208.0,557.9" fill="rgba(220,150,225,0.55)"/>
<polygon points="209.5,568.9 211.0,568.2 211.0,560.6 209.5,559.2" fill="rgba(220,150,225,0.55)"/>
<polygon points="211.0,568.2 212.5,567.6 212.5,561.9 211.0,560.6" fill="rgba(220,150,225,0.55)"/>
<polygon points="212.5,567.6 214.0,566.9 214.0,563.1 212.5,561.9" fill="rgba(220,150,225,0.55)"/>
<polygon points="214.0,566.9 215.5,566.2 215.5,564.2 214.0,563.1" fill="rgba(220,150,225,0.55)"/>
<polygon points="215.5,566.2 217.0,565.6 217.0,565.1 215.5,564.2" fill="rgba(220,150,225,0.55)"/>
<polygon points="217.0,565.6 218.5,564.9 218.5,565.8 217.0,565.1" fill="rgba(120,120,210,0.45)"/>
<polygon points="218.5,564.9 220.0,564.0 220.0,566.3 218.5,565.8" fill="rgba(120,120,210,0.45)"/>
<polygon points="220.0,564.0 221.5,562.5 221.5,566.6 220.0,566.3" fill="rgba(120,120,210,0.45)"/>
<polygon points="221.5,562.5 223.0,561.0 223.0,566.7 221.5,566.6" fill="rgba(120,120,210,0.45)"/>
<polygon points="223.0,561.0 224.5,559.5 224.5,566.5 223.0,566.7" fill="rgba(120,120,210,0.45)"/>
<polygon points="224.5,559.5 226.0,558.0 226.0,566.1 224.5,566.5" fill="rgba(120,120,210,0.45)"/>
<polygon points="226.0,558.0 227.5,556.9 227.5,565.6 226.0,566.1" fill="rgba(120,120,210,0.45)"/>
<polygon points="227.5,556.9 229.0,556.6 229.0,564.8 227.5,565.6" fill="rgba(120,120,210,0.45)"/>
<polygon points="229.0,556.6 230.5,556.3 230.5,564.0 229.0,564.8" fill="rgba(120,120,210,0.45)"/>
<polygon points="230.5,556.3 232.0,556.1 232.0,563.0 230.5,564.0" fill="rgba(120,120,210,0.45)"/>
<polygon points="232.0,556.1 233.5,555.8 233.5,562.1 232.0,563.0" fill="rgba(120,120,210,0.45)"/>
<polygon points="233.5,555.8 235.0,555.5 235.0,561.1 233.5,562.1" fill="rgba(120,120,210,0.45)"/>
<polygon points="235.0,555.5 236.5,555.2 236.5,560.2 235.0,561.1" fill="rgba(120,120,210,0.45)"/>
<polygon points="236.5,555.2 238.0,554.9 238.0,559.3 236.5,560.2" fill="rgba(120,120,210,0.45)"/>
<polygon points="238.0,554.9 239.5,555.0 239.5,558.5 238.0,559.3" fill="rgba(120,120,210,0.45)"/>
<polygon points="239.5,555.0 241.0,555.8 241.0,557.8 239.5,558.5" fill="rgba(120,120,210,0.45)"/>
<polygon points="241.0,555.8 242.5,556.5 242.5,557.2 241.0,557.8" fill="rgba(120,120,210,0.45)"/>
<polygon points="242.5,556.5 244.0,557.2 244.0,556.7 242.5,557.2" fill="rgba(220,150,225,0.55)"/>
<polygon points="244.0,557.2 245.5,558.0 245.5,556.4 244.0,556.7" fill="rgba(220,150,225,0.55)"/>
<polygon points="245.5,558.0 247.0,558.8 247.0,556.2 245.5,556.4" fill="rgba(220,150,225,0.55)"/>
<polygon points="247.0,558.8 248.5,560.0 248.5,556.1 247.0,556.2" fill="rgba(220,150,225,0.55)"/>
<polygon points="248.5,560.0 250.0,562.2 250.0,556.3 248.5,556.1" fill="rgba(220,150,225,0.55)"/>
<polygon points="250.0,562.2 251.5,563.1 251.5,556.5 250.0,556.3" fill="rgba(220,150,225,0.55)"/>
<polygon points="251.5,563.1 253.0,563.9 253.0,556.9 251.5,556.5" fill="rgba(220,150,225,0.55)"/>
<polygon points="253.0,563.9 254.5,564.7 254.5,557.5 253.0,556.9" fill="rgba(220,150,225,0.55)"/>
<polygon points="254.5,564.7 256.0,565.5 256.0,558.1 254.5,557.5" fill="rgba(220,150,225,0.55)"/>
<polygon points="256.0,565.5 257.5,566.4 257.5,558.8 256.0,558.1" fill="rgba(220,150,225,0.55)"/>
<polygon points="257.5,566.4 259.0,567.2 259.0,559.7 257.5,558.8" fill="rgba(220,150,225,0.55)"/>
<polygon points="259.0,567.2 260.5,568.0 260.5,560.6 259.0,559.7" fill="rgba(220,150,225,0.55)"/>
<polygon points="260.5,568.0 262.0,568.9 262.0,561.5 260.5,560.6" fill="rgba(220,150,225,0.55)"/>
<polygon points="262.0,568.9 263.5,569.7 263.5,562.5 262.0,561.5" fill="rgba(220,150,225,0.55)"/>
<polygon points="263.5,569.7 265.0,570.5 265.0,563.4 263.5,562.5" fill="rgba(220,150,225,0.55)"/>
<polygon points="265.0,570.5 266.5,572.0 266.5,564.4 265.0,563.4" fill="rgba(220,150,225,0.55)"/>
<polygon points="266.5,572.0 268.0,573.5 268.0,565.4 266.5,564.4" fill="rgba(220,150,225,0.55)"/>
<polygon points="268.0,573.5 269.5,575.0 269.5,566.3 268.0,565.4" fill="rgba(220,150,225,0.55)"/>
<polygon points="269.5,575.0 271.0,576.5 271.0,567.3 269.5,566.3" fill="rgba(220,150,225,0.55)"/>
<polygon points="271.0,576.5 272.5,578.0 272.5,568.3 271.0,567.3" fill="rgba(220,150,225,0.55)"/>
<polygon points="272.5,578.0 274.0,579.5 274.0,569.3 272.5,568.3" fill="rgba(220,150,225,0.55)"/>
<polygon points="274.0,579.5 275.5,580.2 275.5,570.4 274.0,569.3" fill="rgba(220,150,225,0.55)"/>
<polygon points="275.5,580.2 277.0,580.8 277.0,571.5 275.5,570.4" fill="rgba(220,150,225,0.55)"/>
<polygon points="277.0,580.8 278.5,581.5 278.5,572.6 277.0,571.5" fill="rgba(220,150,225,0.55)"/>
<polygon points="278.5,581.5 280.0,582.1 280.0,573.8 278.5,572.6" fill="rgba(220,150,225,0.55)"/>
<polygon points="280.0,582.1 281.5,582.8 281.5,574.9 280.0,573.8" fill="rgba(220,150,225,0.55)"/>
<polygon points="281.5,582.8 283.0,583.4 283.0,576.1 281.5,574.9" fill="rgba(220,150,225,0.55)"/>
<polygon points="283.0,583.4 284.5,584.1 284.5,577.2 283.0,576.1" fill="rgba(220,150,225,0.55)"/>
<polygon points="284.5,584.1 286.0,584.8 286.0,578.2 284.5,577.2" fill="rgba(220,150,225,0.55)"/>
<polygon points="286.0,584.8 287.5,585.0 287.5,579.2 286.0,578.2" fill="rgba(220,150,225,0.55)"/>
<polygon points="287.5,585.0 289.0,585.4 289.0,580.2 287.5,579.2" fill="rgba(220,150,225,0.55)"/>
<polygon points="289.0,585.4 290.5,585.6 290.5,581.0 289.0,580.2" fill="rgba(220,150,225,0.55)"/>
<polygon points="290.5,585.6 292.0,586.0 292.0,581.8 290.5,581.0" fill="rgba(220,150,225,0.55)"/>
<polygon points="292.0,586.0 293.5,586.2 293.5,582.5 292.0,581.8" fill="rgba(220,150,225,0.55)"/>
<polygon points="293.5,586.2 295.0,588.2 295.0,583.2 293.5,582.5" fill="rgba(220,150,225,0.55)"/>
<polygon points="295.0,588.2 296.5,590.1 296.5,583.8 295.0,583.2" fill="rgba(220,150,225,0.55)"/>
<polygon points="296.5,590.1 298.0,592.1 298.0,584.4 296.5,583.8" fill="rgba(220,150,225,0.55)"/>
<polygon points="298.0,592.1 299.5,594.0 299.5,585.1 298.0,584.4" fill="rgba(220,150,225,0.55)"/>
<polygon points="299.5,594.0 301.0,596.0 301.0,585.8 299.5,585.1" fill="rgba(220,150,225,0.55)"/>
<polygon points="301.0,596.0 302.5,598.0 302.5,586.7 301.0,585.8" fill="rgba(220,150,225,0.55)"/>
<polygon points="302.5,598.0 304.0,600.0 304.0,587.7 302.5,586.7" fill="rgba(220,150,225,0.55)"/>
<polygon points="304.0,600.0 305.5,602.0 305.5,588.8 304.0,587.7" fill="rgba(220,150,225,0.55)"/>
<polygon points="305.5,602.0 307.0,604.0 307.0,590.0 305.5,588.8" fill="rgba(220,150,225,0.55)"/>
<polygon points="307.0,604.0 308.5,606.0 308.5,591.4 307.0,590.0" fill="rgba(220,150,225,0.55)"/>
<polygon points="308.5,606.0 310.0,608.0 310.0,592.9 308.5,591.4" fill="rgba(220,150,225,0.55)"/>
<polygon points="310.0,608.0 311.5,610.0 311.5,594.5 310.0,592.9" fill="rgba(220,150,225,0.55)"/>
<polygon points="311.5,610.0 313.0,612.0 313.0,596.3 311.5,594.5" fill="rgba(220,150,225,0.55)"/>
<polygon points="313.0,612.0 314.5,614.0 314.5,598.1 313.0,596.3" fill="rgba(220,150,225,0.55)"/>
<polygon points="314.5,614.0 316.0,613.8 316.0,600.0 314.5,598.1" fill="rgba(220,150,225,0.55)"/>
<polygon points="316.0,613.8 317.5,613.5 317.5,601.9 316.0,600.0" fill="rgba(220,150,225,0.55)"/>
<polygon points="317.5,613.5 319.0,613.2 319.0,603.7 317.5,601.9" fill="rgba(220,150,225,0.55)"/>
<polygon points="319.0,613.2 320.5,613.0 320.5,605.4 319.0,603.7" fill="rgba(220,150,225,0.55)"/>
<polygon points="320.5,613.0 322.0,612.8 322.0,607.0 320.5,605.4" fill="rgba(220,150,225,0.55)"/>
<polygon points="322.0,612.8 323.5,612.5 323.5,608.4 322.0,607.0" fill="rgba(220,150,225,0.55)"/>
<polygon points="323.5,612.5 325.0,612.2 325.0,609.5 323.5,608.4" fill="rgba(220,150,225,0.55)"/>
<polygon points="325.0,612.2 326.5,612.0 326.5,610.5 325.0,609.5" fill="rgba(220,150,225,0.55)"/>
<polygon points="326.5,612.0 328.0,611.8 328.0,611.3 326.5,610.5" fill="rgba(220,150,225,0.55)"/>
<polygon points="328.0,611.8 329.5,610.6 329.5,611.9 328.0,611.3" fill="rgba(120,120,210,0.45)"/>
<polygon points="329.5,610.6 331.0,609.5 331.0,612.2 329.5,611.9" fill="rgba(120,120,210,0.45)"/>
<polygon points="331.0,609.5 332.5,608.4 332.5,612.3 331.0,612.2" fill="rgba(120,120,210,0.45)"/>
<polygon points="332.5,608.4 334.0,607.2 334.0,612.2 332.5,612.3" fill="rgba(120,120,210,0.45)"/>
<polygon points="334.0,607.2 335.5,606.1 335.5,612.0 334.0,612.2" fill="rgba(120,120,210,0.45)"/>
<polygon points="335.5,606.1 337.0,605.0 337.0,611.6 335.5,612.0" fill="rgba(120,120,210,0.45)"/>
<polygon points="337.0,605.0 338.5,604.2 338.5,611.1 337.0,611.6" fill="rgba(120,120,210,0.45)"/>
<polygon points="338.5,604.2 340.0,603.5 340.0,610.4 338.5,611.1" fill="rgba(120,120,210,0.45)"/>
<polygon points="340.0,603.5 341.5,602.8 341.5,609.7 340.0,610.4" fill="rgba(120,120,210,0.45)"/>
<polygon points="341.5,602.8 343.0,602.0 343.0,609.0 341.5,609.7" fill="rgba(120,120,210,0.45)"/>
<polygon points="343.0,602.0 344.5,601.2 344.5,608.1 343.0,609.0" fill="rgba(120,120,210,0.45)"/>
<polygon points="344.5,601.2 346.0,600.5 346.0,607.3 344.5,608.1" fill="rgba(120,120,210,0.45)"/>
<polygon points="346.0,600.5 347.5,600.5 347.5,606.4 346.0,607.3" fill="rgba(120,120,210,0.45)"/>
<polygon points="347.5,600.5 349.0,600.5 349.0,605.6 347.5,606.4" fill="rgba(120,120,210,0.45)"/>
<polygon points="349.0,600.5 350.5,600.6 350.5,604.7 349.0,605.6" fill="rgba(120,120,210,0.45)"/>
<polygon points="350.5,600.6 352.0,600.6 352.0,604.0 350.5,604.7" fill="rgba(120,120,210,0.45)"/>
<polygon points="352.0,600.6 353.5,600.6 353.5,603.3 352.0,604.0" fill="rgba(120,120,210,0.45)"/>
<polygon points="353.5,600.6 355.0,600.2 355.0,602.7 353.5,603.3" fill="rgba(120,120,210,0.45)"/>
<polygon points="355.0,600.2 356.5,599.7 356.5,602.1 355.0,602.7" fill="rgba(120,120,210,0.45)"/>
<polygon points="356.5,599.7 358.0,599.3 358.0,601.6 356.5,602.1" fill="rgba(120,120,210,0.45)"/>
<polygon points="358.0,599.3 359.5,598.8 359.5,601.2 358.0,601.6" fill="rgba(120,120,210,0.45)"/>
<polygon points="359.5,598.8 361.0,598.4 361.0,600.9 359.5,601.2" fill="rgba(120,120,210,0.45)"/>
<polygon points="361.0,598.4 362.5,597.9 362.5,600.6 361.0,600.9" fill="rgba(120,120,210,0.45)"/>
<polygon points="362.5,597.9 364.0,597.5 364.0,600.3 362.5,600.6" fill="rgba(120,120,210,0.45)"/>
<polygon points="364.0,597.5 365.5,597.0 365.5,600.0 364.0,600.3" fill="rgba(120,120,210,0.45)"/>
<polygon points="365.5,597.0 367.0,596.5 367.0,599.7 365.5,600.0" fill="rgba(120,120,210,0.45)"/>
<polygon points="367.0,596.5 368.5,596.0 368.5,599.4 367.0,599.7" fill="rgba(120,120,210,0.45)"/>
<polygon points="368.5,596.0 370.0,595.5 370.0,599.0 368.5,599.4" fill="rgba(120,120,210,0.45)"/>
<polygon points="370.0,595.5 371.5,595.0 371.5,598.7 370.0,599.0" fill="rgba(120,120,210,0.45)"/>
<polygon points="371.5,595.0 373.0,594.5 373.0,598.3 371.5,598.7" fill="rgba(120,120,210,0.45)"/>
<polygon points="373.0,594.5 374.5,594.0 374.5,597.9 373.0,598.3" fill="rgba(120,120,210,0.45)"/>
<polygon points="374.5,594.0 376.0,593.5 376.0,597.4 374.5,597.9" fill="rgba(120,120,210,0.45)"/>
<polygon points="376.0,593.5 377.5,593.0 377.5,596.9 376.0,597.4" fill="rgba(120,120,210,0.45)"/>
<polygon points="377.5,593.0 379.0,591.8 379.0,596.4 377.5,596.9" fill="rgba(120,120,210,0.45)"/>
<polygon points="379.0,591.8 380.5,590.6 380.5,595.9 379.0,596.4" fill="rgba(120,120,210,0.45)"/>
<polygon points="380.5,590.6 382.0,589.4 382.0,595.4 380.5,595.9" fill="rgba(120,120,210,0.45)"/>
<polygon points="382.0,589.4 383.5,588.2 383.5,594.8 382.0,595.4" fill="rgba(120,120,210,0.45)"/>
<polygon points="383.5,588.2 385.0,587.0 385.0,594.2 383.5,594.8" fill="rgba(120,120,210,0.45)"/>
<polygon points="385.0,587.0 386.5,585.8 386.5,593.5 385.0,594.2" fill="rgba(120,120,210,0.45)"/>
<polygon points="386.5,585.8 388.0,584.6 388.0,592.7 386.5,593.5" fill="rgba(120,120,210,0.45)"/>
<polygon points="388.0,584.6 389.5,583.4 389.5,591.9 388.0,592.7" fill="rgba(120,120,210,0.45)"/>
<polygon points="389.5,583.4 391.0,582.2 391.0,591.0 389.5,591.9" fill="rgba(120,120,210,0.45)"/>
<polygon points="391.0,582.2 392.5,581.0 392.5,590.1 391.0,591.0" fill="rgba(120,120,210,0.45)"/>
<polygon points="392.5,581.0 394.0,580.4 394.0,589.1 392.5,590.1" fill="rgba(120,120,210,0.45)"/>
<polygon points="394.0,580.4 395.5,579.8 395.5,588.1 394.0,589.1" fill="rgba(120,120,210,0.45)"/>
<polygon points="395.5,579.8 397.0,579.3 397.0,587.0 395.5,588.1" fill="rgba(120,120,210,0.45)"/>
<polygon points="397.0,579.3 398.5,578.7 398.5,585.9 397.0,587.0" fill="rgba(120,120,210,0.45)"/>
<polygon points="398.5,578.7 400.0,578.1 400.0,584.9 398.5,585.9" fill="rgba(120,120,210,0.45)"/>
<polygon points="400.0,578.1 401.5,577.5 401.5,583.9 400.0,584.9" fill="rgba(120,120,210,0.45)"/>
<polygon points="401.5,577.5 403.0,577.0 403.0,582.9 401.5,583.9" fill="rgba(120,120,210,0.45)"/>
<polygon points="403.0,577.0 404.5,576.4 404.5,582.0 403.0,582.9" fill="rgba(120,120,210,0.45)"/>
<polygon points="404.5,576.4 406.0,575.8 406.0,581.1 404.5,582.0" fill="rgba(120,120,210,0.45)"/>
<polygon points="406.0,575.8 407.5,575.2 407.5,580.3 406.0,581.1" fill="rgba(120,120,210,0.45)"/>
<polygon points="407.5,575.2 409.0,574.7 409.0,579.6 407.5,580.3" fill="rgba(120,120,210,0.45)"/>
<polygon points="409.0,574.7 410.5,574.1 410.5,578.9 409.0,579.6" fill="rgba(120,120,210,0.45)"/>
<polygon points="410.5,574.1 412.0,573.5 412.0,578.2 410.5,578.9" fill="rgba(120,120,210,0.45)"/>
<polygon points="412.0,573.5 413.5,572.3 413.5,577.6 412.0,578.2" fill="rgba(120,120,210,0.45)"/>
<polygon points="413.5,572.3 415.0,571.1 415.0,576.9 413.5,577.6" fill="rgba(120,120,210,0.45)"/>
<polygon points="415.0,571.1 416.5,569.9 416.5,576.3 415.0,576.9" fill="rgba(120,120,210,0.45)"/>
<polygon points="416.5,569.9 418.0,568.7 418.0,575.6 416.5,576.3" fill="rgba(120,120,210,0.45)"/>
<polygon points="418.0,568.7 419.5,567.5 419.5,574.9 418.0,575.6" fill="rgba(120,120,210,0.45)"/>
<polygon points="419.5,567.5 421.0,565.7 421.0,574.2 419.5,574.9" fill="rgba(120,120,210,0.45)"/>
<polygon points="421.0,565.7 422.5,563.9 422.5,573.4 421.0,574.2" fill="rgba(120,120,210,0.45)"/>
<polygon points="422.5,563.9 424.0,562.1 424.0,572.5 422.5,573.4" fill="rgba(120,120,210,0.45)"/>
<polygon points="424.0,562.1 425.5,560.3 425.5,571.5 424.0,572.5" fill="rgba(120,120,210,0.45)"/>
<polygon points="425.5,560.3 427.0,558.5 427.0,570.4 425.5,571.5" fill="rgba(120,120,210,0.45)"/>
<polygon points="427.0,558.5 428.5,557.5 428.5,569.2 427.0,570.4" fill="rgba(120,120,210,0.45)"/>
<polygon points="428.5,557.5 430.0,556.4 430.0,567.9 428.5,569.2" fill="rgba(120,120,210,0.45)"/>
<polygon points="430.0,556.4 431.5,555.4 431.5,566.6 430.0,567.9" fill="rgba(120,120,210,0.45)"/>
<polygon points="431.5,555.4 433.0,554.4 433.0,565.2 431.5,566.6" fill="rgba(120,120,210,0.45)"/>
<polygon points="433.0,554.4 434.5,553.3 434.5,563.8 433.0,565.2" fill="rgba(120,120,210,0.45)"/>
<polygon points="434.5,553.3 436.0,552.3 436.0,562.4 434.5,563.8" fill="rgba(120,120,210,0.45)"/>
<polygon points="436.0,552.3 437.5,551.3 437.5,561.0 436.0,562.4" fill="rgba(120,120,210,0.45)"/>
<polygon points="437.5,551.3 439.0,550.2 439.0,559.6 437.5,561.0" fill="rgba(120,120,210,0.45)"/>
<polygon points="439.0,550.2 440.5,551.5 440.5,558.3 439.0,559.6" fill="rgba(120,120,210,0.45)"/>
<polygon points="440.5,551.5 442.0,552.8 442.0,557.1 440.5,558.3" fill="rgba(120,120,210,0.45)"/>
<polygon points="442.0,552.8 443.5,554.0 443.5,556.1 442.0,557.1" fill="rgba(120,120,210,0.45)"/>
<polygon points="443.5,554.0 445.0,555.2 445.0,555.2 443.5,556.1" fill="rgba(220,150,225,0.55)"/>
<polygon points="445.0,555.2 446.5,556.5 446.5,554.5 445.0,555.2" fill="rgba(220,150,225,0.55)"/>
<polygon points="446.5,556.5 448.0,557.8 448.0,554.0 446.5,554.5" fill="rgba(220,150,225,0.55)"/>
<polygon points="448.0,557.8 449.5,559.0 449.5,553.8 448.0,554.0" fill="rgba(220,150,225,0.55)"/>
<polygon points="449.5,559.0 451.0,560.2 451.0,553.8 449.5,553.8" fill="rgba(220,150,225,0.55)"/>
<polygon points="451.0,560.2 452.5,561.5 452.5,554.0 451.0,553.8" fill="rgba(220,150,225,0.55)"/>
<polygon points="452.5,561.5 454.0,563.3 454.0,554.4 452.5,554.0" fill="rgba(220,150,225,0.55)"/>
<polygon points="454.0,563.3 455.5,565.1 455.5,555.1 454.0,554.4" fill="rgba(220,150,225,0.55)"/>
<polygon points="455.5,565.1 457.0,566.9 457.0,555.9 455.5,555.1" fill="rgba(220,150,225,0.55)"/>
<polygon points="457.0,566.9 458.5,568.7 458.5,556.9 457.0,555.9" fill="rgba(220,150,225,0.55)"/>
<polygon points="458.5,568.7 460.0,570.5 460.0,558.1 458.5,556.9" fill="rgba(220,150,225,0.55)"/>
<polygon points="460.0,570.5 461.5,572.8 461.5,559.4 460.0,558.1" fill="rgba(220,150,225,0.55)"/>
<polygon points="461.5,572.8 463.0,575.0 463.0,560.9 461.5,559.4" fill="rgba(220,150,225,0.55)"/>
<polygon points="463.0,575.0 464.5,577.2 464.5,562.4 463.0,560.9" fill="rgba(220,150,225,0.55)"/>
<polygon points="464.5,577.2 466.0,579.5 466.0,564.0 464.5,562.4" fill="rgba(220,150,225,0.55)"/>
<polygon points="466.0,579.5 467.5,581.8 467.5,565.7 466.0,564.0" fill="rgba(220,150,225,0.55)"/>
<polygon points="467.5,581.8 469.0,584.0 469.0,567.5 467.5,565.7" fill="rgba(220,150,225,0.55)"/>
<polygon points="469.0,584.0 470.5,586.2 470.5,569.3 469.0,567.5" fill="rgba(220,150,225,0.55)"/>
<polygon points="470.5,586.2 472.0,588.5 472.0,571.3 470.5,569.3" fill="rgba(220,150,225,0.55)"/>
<polygon points="472.0,588.5 473.5,590.8 473.5,573.3 472.0,571.3" fill="rgba(220,150,225,0.55)"/>
<polygon points="473.5,590.8 475.0,593.0 475.0,575.3 473.5,573.3" fill="rgba(220,150,225,0.55)"/>
<polygon points="475.0,593.0 476.5,593.6 476.5,577.4 475.0,575.3" fill="rgba(220,150,225,0.55)"/>
<polygon points="476.5,593.6 478.0,594.2 478.0,579.5 476.5,577.4" fill="rgba(220,150,225,0.55)"/>
<polygon points="478.0,594.2 479.5,594.2 479.5,581.6 478.0,579.5" fill="rgba(220,150,225,0.55)"/>
<polygon points="479.5,594.2 481.0,593.8 481.0,583.6 479.5,581.6" fill="rgba(220,150,225,0.55)"/>
<polygon points="481.0,593.8 482.5,593.2 482.5,585.4 481.0,583.6" fill="rgba(220,150,225,0.55)"/>
<polygon points="482.5,593.2 484.0,592.8 484.0,587.1 482.5,585.4" fill="rgba(220,150,225,0.55)"/>
<polygon points="484.0,592.8 485.5,592.2 485.5,588.6 484.0,587.1" fill="rgba(220,150,225,0.55)"/>
<polygon points="485.5,592.2 487.0,591.0 487.0,589.8 485.5,588.6" fill="rgba(220,150,225,0.55)"/>
<polygon points="487.0,591.0 488.5,589.8 488.5,590.8 487.0,589.8" fill="rgba(120,120,210,0.45)"/>
<polygon points="488.5,589.8 490.0,588.5 490.0,591.5 488.5,590.8" fill="rgba(120,120,210,0.45)"/>
<polygon points="490.0,588.5 491.5,586.2 491.5,591.8 490.0,591.5" fill="rgba(120,120,210,0.45)"/>
<polygon points="491.5,586.2 493.0,584.0 493.0,591.9 491.5,591.8" fill="rgba(120,120,210,0.45)"/>
<polygon points="493.0,584.0 494.5,581.8 494.5,591.7 493.0,591.9" fill="rgba(120,120,210,0.45)"/>
<polygon points="494.5,581.8 496.0,579.5 496.0,591.2 494.5,591.7" fill="rgba(120,120,210,0.45)"/>
<polygon points="496.0,579.5 497.5,577.2 497.5,590.4 496.0,591.2" fill="rgba(120,120,210,0.45)"/>
<polygon points="497.5,577.2 499.0,576.5 499.0,589.4 497.5,590.4" fill="rgba(120,120,210,0.45)"/>
<polygon points="499.0,576.5 500.5,576.5 500.5,588.2 499.0,589.4" fill="rgba(120,120,210,0.45)"/>
<polygon points="500.5,576.5 502.0,576.5 502.0,586.8 500.5,588.2" fill="rgba(120,120,210,0.45)"/>
<polygon points="502.0,576.5 503.5,576.4 503.5,585.4 502.0,586.8" fill="rgba(120,120,210,0.45)"/>
<polygon points="503.5,576.4 505.0,576.4 505.0,584.0 503.5,585.4" fill="rgba(120,120,210,0.45)"/>
<polygon points="505.0,576.4 506.5,576.4 506.5,582.7 505.0,584.0" fill="rgba(120,120,210,0.45)"/>
<polygon points="506.5,576.4 508.0,576.0 508.0,581.4 506.5,582.7" fill="rgba(120,120,210,0.45)"/>
<polygon points="508.0,576.0 509.5,575.3 509.5,580.2 508.0,581.4" fill="rgba(120,120,210,0.45)"/>
<polygon points="509.5,575.3 511.0,574.7 511.0,579.1 509.5,580.2" fill="rgba(120,120,210,0.45)"/>
<polygon points="511.0,574.7 512.5,574.0 512.5,578.2 511.0,579.1" fill="rgba(120,120,210,0.45)"/>
<polygon points="512.5,574.0 514.0,573.4 514.0,577.4 512.5,578.2" fill="rgba(120,120,210,0.45)"/>
<polygon points="514.0,573.4 515.5,572.8 515.5,576.8 514.0,577.4" fill="rgba(120,120,210,0.45)"/>
<polygon points="515.5,572.8 517.0,572.1 517.0,576.2 515.5,576.8" fill="rgba(120,120,210,0.45)"/>
<polygon points="517.0,572.1 518.5,571.5 518.5,575.7 517.0,576.2" fill="rgba(120,120,210,0.45)"/>
<polygon points="518.5,571.5 520.0,570.5 520.0,575.2 518.5,575.7" fill="rgba(120,120,210,0.45)"/>
<polygon points="520.0,570.5 521.5,569.3 521.5,574.8 520.0,575.2" fill="rgba(120,120,210,0.45)"/>
<polygon points="521.5,569.3 523.0,568.2 523.0,574.3 521.5,574.8" fill="rgba(120,120,210,0.45)"/>
<polygon points="523.0,568.2 524.5,567.0 524.5,573.7 523.0,574.3" fill="rgba(120,120,210,0.45)"/>
<polygon points="524.5,567.0 526.0,565.9 526.0,573.1 524.5,573.7" fill="rgba(120,120,210,0.45)"/>
<polygon points="526.0,565.9 527.5,564.8 527.5,572.4 526.0,573.1" fill="rgba(120,120,210,0.45)"/>
<polygon points="527.5,564.8 529.0,563.6 529.0,571.6 527.5,572.4" fill="rgba(120,120,210,0.45)"/>
<polygon points="529.0,563.6 530.5,562.5 530.5,570.8 529.0,571.6" fill="rgba(120,120,210,0.45)"/>
<polygon points="530.5,562.5 532.0,561.8 532.0,569.9 530.5,570.8" fill="rgba(120,120,210,0.45)"/>
<polygon points="532.0,561.8 533.5,563.5 533.5,569.0 532.0,569.9" fill="rgba(120,120,210,0.45)"/>
<polygon points="533.5,563.5 535.0,565.2 535.0,568.1 533.5,569.0" fill="rgba(120,120,210,0.45)"/>
<polygon points="535.0,565.2 536.5,566.9 536.5,567.3 535.0,568.1" fill="rgba(120,120,210,0.45)"/>
<polygon points="536.5,566.9 538.0,568.2 538.0,566.6 536.5,567.3" fill="rgba(220,150,225,0.55)"/>
<polygon points="538.0,568.2 539.5,569.2 539.5,566.1 538.0,566.6" fill="rgba(220,150,225,0.55)"/>
<polygon points="539.5,569.2 541.0,570.2 541.0,565.8 539.5,566.1" fill="rgba(220,150,225,0.55)"/>
<polygon points="541.0,570.2 542.5,571.2 542.5,565.6 541.0,565.8" fill="rgba(220,150,225,0.55)"/>
<polygon points="542.5,571.2 544.0,572.2 544.0,565.7 542.5,565.6" fill="rgba(220,150,225,0.55)"/>
<polygon points="544.0,572.2 545.5,573.2 545.5,566.0 544.0,565.7" fill="rgba(220,150,225,0.55)"/>
<polygon points="545.5,573.2 547.0,573.8 547.0,566.5 545.5,566.0" fill="rgba(220,150,225,0.55)"/>
<polygon points="547.0,573.8 548.5,574.3 548.5,567.1 547.0,566.5" fill="rgba(220,150,225,0.55)"/>
<polygon points="548.5,574.3 550.0,574.8 550.0,567.9 548.5,567.1" fill="rgba(220,150,225,0.55)"/>
<polygon points="550.0,574.8 551.5,575.3 551.5,568.8 550.0,567.9" fill="rgba(220,150,225,0.55)"/>
<polygon points="551.5,575.3 553.0,575.6 553.0,569.7 551.5,568.8" fill="rgba(220,150,225,0.55)"/>
<polygon points="553.0,575.6 554.5,574.6 554.5,570.6 553.0,569.7" fill="rgba(220,150,225,0.55)"/>
<polygon points="554.5,574.6 556.0,573.7 556.0,571.5 554.5,570.6" fill="rgba(220,150,225,0.55)"/>
<polygon points="556.0,573.7 557.5,572.7 557.5,572.2 556.0,571.5" fill="rgba(220,150,225,0.55)"/>
<polygon points="557.5,572.7 559.0,571.8 559.0,572.8 557.5,572.2" fill="rgba(120,120,210,0.45)"/>
<polygon points="559.0,571.8 560.5,570.8 560.5,573.2 559.0,572.8" fill="rgba(120,120,210,0.45)"/>
<polygon points="560.5,570.8 562.0,569.7 562.0,573.4 560.5,573.2" fill="rgba(120,120,210,0.45)"/>
<polygon points="562.0,569.7 563.5,568.5 563.5,573.5 562.0,573.4" fill="rgba(120,120,210,0.45)"/>
<polygon points="563.5,568.5 565.0,567.3 565.0,573.3 563.5,573.5" fill="rgba(120,120,210,0.45)"/>
<polygon points="565.0,567.3 566.5,566.1 566.5,573.0 565.0,573.3" fill="rgba(120,120,210,0.45)"/>
<polygon points="566.5,566.1 568.0,564.9 568.0,572.6 566.5,573.0" fill="rgba(120,120,210,0.45)"/>
<polygon points="568.0,564.9 569.5,563.9 569.5,572.0 568.0,572.6" fill="rgba(120,120,210,0.45)"/>
<polygon points="569.5,563.9 571.0,563.0 571.0,571.2 569.5,572.0" fill="rgba(120,120,210,0.45)"/>
<polygon points="571.0,563.0 572.5,562.1 572.5,570.3 571.0,571.2" fill="rgba(120,120,210,0.45)"/>
<polygon points="572.5,562.1 574.0,561.2 574.0,569.4 572.5,570.3" fill="rgba(120,120,210,0.45)"/>
<polygon points="574.0,561.2 575.5,560.3 575.5,568.4 574.0,569.4" fill="rgba(120,120,210,0.45)"/>
<polygon points="575.5,560.3 577.0,558.8 577.0,567.3 575.5,568.4" fill="rgba(120,120,210,0.45)"/>
<polygon points="577.0,558.8 578.5,557.0 578.5,566.3 577.0,567.3" fill="rgba(120,120,210,0.45)"/>
<polygon points="578.5,557.0 580.0,555.5 580.0,565.2 578.5,566.3" fill="rgba(120,120,210,0.45)"/>
<polygon points="580.0,555.5 581.5,555.3 581.5,564.1 580.0,565.2" fill="rgba(120,120,210,0.45)"/>
<polygon points="581.5,555.3 583.0,555.2 583.0,563.0 581.5,564.1" fill="rgba(120,120,210,0.45)"/>
<polygon points="583.0,555.2 584.5,555.1 584.5,561.9 583.0,563.0" fill="rgba(120,120,210,0.45)"/>
<polygon points="584.5,555.1 586.0,554.9 586.0,560.9 584.5,561.9" fill="rgba(120,120,210,0.45)"/>
<polygon points="586.0,554.9 587.5,554.8 587.5,559.9 586.0,560.9" fill="rgba(120,120,210,0.45)"/>
<polygon points="587.5,554.8 589.0,554.3 589.0,559.0 587.5,559.9" fill="rgba(120,120,210,0.45)"/>
<polygon points="589.0,554.3 590.5,553.7 590.5,558.2 589.0,559.0" fill="rgba(120,120,210,0.45)"/>
<polygon points="590.5,553.7 592.0,553.1 592.0,557.4 590.5,558.2" fill="rgba(120,120,210,0.45)"/>
<polygon points="592.0,553.1 593.5,552.5 593.5,556.7 592.0,557.4" fill="rgba(120,120,210,0.45)"/>
<polygon points="593.5,552.5 595.0,551.8 595.0,556.0 593.5,556.7" fill="rgba(120,120,210,0.45)"/>
<polygon points="595.0,551.8 596.5,551.2 596.5,555.4 595.0,556.0" fill="rgba(120,120,210,0.45)"/>
<polygon points="596.5,551.2 598.0,550.8 598.0,554.8 596.5,555.4" fill="rgba(120,120,210,0.45)"/>
<polygon points="598.0,550.8 599.5,550.5 599.5,554.3 598.0,554.8" fill="rgba(120,120,210,0.45)"/>
<polygon points="599.5,550.5 601.0,550.1 601.0,553.8 599.5,554.3" fill="rgba(120,120,210,0.45)"/>
<polygon points="601.0,550.1 602.5,549.8 602.5,553.4 601.0,553.8" fill="rgba(120,120,210,0.45)"/>
<polygon points="602.5,549.8 604.0,549.5 604.0,552.9 602.5,553.4" fill="rgba(120,120,210,0.45)"/>
<polygon points="604.0,549.5 605.5,549.2 605.5,552.5 604.0,552.9" fill="rgba(120,120,210,0.45)"/>
<polygon points="605.5,549.2 607.0,548.9 607.0,552.0 605.5,552.5" fill="rgba(120,120,210,0.45)"/>
<polygon points="607.0,548.9 608.5,549.0 608.5,551.6 607.0,552.0" fill="rgba(120,120,210,0.45)"/>
<polygon points="608.5,549.0 610.0,549.2 610.0,551.2 608.5,551.6" fill="rgba(120,120,210,0.45)"/>
<polygon points="610.0,549.2 611.5,549.5 611.5,550.8 610.0,551.2" fill="rgba(120,120,210,0.45)"/>
<polygon points="611.5,549.5 613.0,549.9 613.0,550.4 611.5,550.8" fill="rgba(120,120,210,0.45)"/>
<polygon points="613.0,549.9 614.5,550.1 614.5,550.2 613.0,550.4" fill="rgba(120,120,210,0.45)"/>
<polygon points="614.5,550.1 616.0,550.4 616.0,549.9 614.5,550.2" fill="rgba(220,150,225,0.55)"/>
<polygon points="616.0,550.4 617.5,550.5 617.5,549.8 616.0,549.9" fill="rgba(220,150,225,0.55)"/>
<polygon points="617.5,550.5 619.0,550.6 619.0,549.7 617.5,549.8" fill="rgba(220,150,225,0.55)"/>
<polygon points="619.0,550.6 620.5,550.8 620.5,549.7 619.0,549.7" fill="rgba(220,150,225,0.55)"/>
<polygon points="620.5,550.8 622.0,551.0 622.0,549.7 620.5,549.7" fill="rgba(220,150,225,0.55)"/>
<polygon points="622.0,551.0 623.5,551.1 623.5,549.8 622.0,549.7" fill="rgba(220,150,225,0.55)"/>
<polygon points="623.5,551.1 625.0,551.2 625.0,549.9 623.5,549.8" fill="rgba(220,150,225,0.55)"/>
<polygon points="625.0,551.2 626.5,551.4 626.5,550.0 625.0,549.9" fill="rgba(220,150,225,0.55)"/>
<polygon points="626.5,551.4 628.0,551.5 628.0,550.2 626.5,550.0" fill="rgba(220,150,225,0.55)"/>
<polygon points="628.0,551.5 629.5,551.7 629.5,550.4 628.0,550.2" fill="rgba(220,150,225,0.55)"/>
<polygon points="629.5,551.7 631.0,551.9 631.0,550.6 629.5,550.4" fill="rgba(220,150,225,0.55)"/>
<polygon points="631.0,551.9 632.5,552.0 632.5,550.8 631.0,550.6" fill="rgba(220,150,225,0.55)"/>
<polygon points="632.5,552.0 634.0,552.1 634.0,550.9 632.5,550.8" fill="rgba(220,150,225,0.55)"/>
<polygon points="634.0,552.1 635.5,552.3 635.5,551.1 634.0,550.9" fill="rgba(220,150,225,0.55)"/>
<polygon points="635.5,552.3 637.0,552.5 637.0,551.2 635.5,551.1" fill="rgba(220,150,225,0.55)"/>
<polygon points="637.0,552.5 638.5,553.2 638.5,551.4 637.0,551.2" fill="rgba(220,150,225,0.55)"/>
<polygon points="638.5,553.2 640.0,554.4 640.0,551.6 638.5,551.4" fill="rgba(220,150,225,0.55)"/>
<polygon points="640.0,554.4 641.5,555.5 641.5,551.8 640.0,551.6" fill="rgba(220,150,225,0.55)"/>
<polygon points="641.5,555.5 643.0,556.6 643.0,552.1 641.5,551.8" fill="rgba(220,150,225,0.55)"/>
<polygon points="643.0,556.6 644.5,557.8 644.5,552.4 643.0,552.1" fill="rgba(220,150,225,0.55)"/>
<polygon points="644.5,557.8 646.0,558.9 646.0,552.8 644.5,552.4" fill="rgba(220,150,225,0.55)"/>
<polygon points="646.0,558.9 647.5,560.0 647.5,553.2 646.0,552.8" fill="rgba(220,150,225,0.55)"/>
<polygon points="647.5,560.0 649.0,561.1 649.0,553.8 647.5,553.2" fill="rgba(220,150,225,0.55)"/>
<polygon points="649.0,561.1 650.5,562.1 650.5,554.5 649.0,553.8" fill="rgba(220,150,225,0.55)"/>
<polygon points="650.5,562.1 652.0,563.1 652.0,555.2 650.5,554.5" fill="rgba(220,150,225,0.55)"/>
<polygon points="652.0,563.1 653.5,564.1 653.5,556.0 652.0,555.2" fill="rgba(220,150,225,0.55)"/>
<polygon points="653.5,564.1 655.0,565.0 655.0,556.9 653.5,556.0" fill="rgba(220,150,225,0.55)"/>
<polygon points="655.0,565.0 656.5,566.0 656.5,557.9 655.0,556.9" fill="rgba(220,150,225,0.55)"/>
<polygon points="656.5,566.0 658.0,567.0 658.0,558.8 656.5,557.9" fill="rgba(220,150,225,0.55)"/>
<polygon points="658.0,567.0 659.5,567.9 659.5,559.9 658.0,558.8" fill="rgba(220,150,225,0.55)"/>
<polygon points="659.5,567.9 661.0,568.2 661.0,560.9 659.5,559.9" fill="rgba(220,150,225,0.55)"/>
<polygon points="661.0,568.2 662.5,568.2 662.5,561.9 661.0,560.9" fill="rgba(220,150,225,0.55)"/>
<polygon points="662.5,568.2 664.0,568.2 664.0,562.9 662.5,561.9" fill="rgba(220,150,225,0.55)"/>
<polygon points="664.0,568.2 665.5,568.2 665.5,563.8 664.0,562.9" fill="rgba(220,150,225,0.55)"/>
<polygon points="665.5,568.2 667.0,568.2 667.0,564.6 665.5,563.8" fill="rgba(220,150,225,0.55)"/>
<polygon points="667.0,568.2 668.5,568.2 668.5,565.4 667.0,564.6" fill="rgba(220,150,225,0.55)"/>
<polygon points="668.5,568.2 670.0,568.2 670.0,566.0 668.5,565.4" fill="rgba(220,150,225,0.55)"/>
<polygon points="670.0,568.2 671.5,568.2 671.5,566.6 670.0,566.0" fill="rgba(220,150,225,0.55)"/>
<polygon points="671.5,568.2 673.0,567.4 673.0,567.0 671.5,566.6" fill="rgba(220,150,225,0.55)"/>
<polygon points="673.0,567.4 674.5,566.0 674.5,567.4 673.0,567.0" fill="rgba(120,120,210,0.45)"/>
<polygon points="674.5,566.0 676.0,564.6 676.0,567.6 674.5,567.4" fill="rgba(120,120,210,0.45)"/>
<polygon points="676.0,564.6 677.5,563.3 677.5,567.6 676.0,567.6" fill="rgba(120,120,210,0.45)"/>
<polygon points="677.5,563.3 679.0,562.0 679.0,567.5 677.5,567.6" fill="rgba(120,120,210,0.45)"/>
<polygon points="679.0,562.0 680.5,560.8 680.5,567.3 679.0,567.5" fill="rgba(120,120,210,0.45)"/>
<polygon points="680.5,560.8 682.0,559.7 682.0,566.9 680.5,567.3" fill="rgba(120,120,210,0.45)"/>
<polygon points="682.0,559.7 683.5,558.6 683.5,566.4 682.0,566.9" fill="rgba(120,120,210,0.45)"/>
<polygon points="683.5,558.6 685.0,557.6 685.0,565.7 683.5,566.4" fill="rgba(120,120,210,0.45)"/>
<polygon points="685.0,557.6 686.5,556.5 686.5,565.0 685.0,565.7" fill="rgba(120,120,210,0.45)"/>
<polygon points="686.5,556.5 688.0,555.4 688.0,564.1 686.5,565.0" fill="rgba(120,120,210,0.45)"/>
<polygon points="688.0,555.4 689.5,554.4 689.5,563.1 688.0,564.1" fill="rgba(120,120,210,0.45)"/>
<polygon points="689.5,554.4 691.0,553.5 691.0,562.1 689.5,563.1" fill="rgba(120,120,210,0.45)"/>
<polygon points="691.0,553.5 692.5,552.8 692.5,561.0 691.0,562.1" fill="rgba(120,120,210,0.45)"/>
<polygon points="692.5,552.8 694.0,552.0 694.0,559.9 692.5,561.0" fill="rgba(120,120,210,0.45)"/>
<polygon points="694.0,552.0 695.5,551.2 695.5,558.9 694.0,559.9" fill="rgba(120,120,210,0.45)"/>
<polygon points="695.5,551.2 697.0,550.5 697.0,557.8 695.5,558.9" fill="rgba(120,120,210,0.45)"/>
<polygon points="697.0,550.5 698.5,549.8 698.5,556.8 697.0,557.8" fill="rgba(120,120,210,0.45)"/>
<polygon points="698.5,549.8 700.0,549.8 700.0,555.8 698.5,556.8" fill="rgba(120,120,210,0.45)"/>
<polygon points="700.0,549.8 701.5,550.2 701.5,554.9 700.0,555.8" fill="rgba(120,120,210,0.45)"/>
<polygon points="701.5,550.2 703.0,550.7 703.0,554.0 701.5,554.9" fill="rgba(120,120,210,0.45)"/>
<polygon points="703.0,550.7 704.5,551.1 704.5,553.3 703.0,554.0" fill="rgba(120,120,210,0.45)"/>
<polygon points="704.5,551.1 706.0,551.6 706.0,552.6 704.5,553.3" fill="rgba(120,120,210,0.45)"/>
<polygon points="706.0,551.6 707.5,552.0 707.5,552.1 706.0,552.6" fill="rgba(120,120,210,0.45)"/>
<polygon points="707.5,552.0 709.0,552.5 709.0,551.7 707.5,552.1" fill="rgba(220,150,225,0.55)"/>
<polygon points="709.0,552.5 710.5,553.1 710.5,551.4 709.0,551.7" fill="rgba(220,150,225,0.55)"/>
<polygon points="710.5,553.1 712.0,553.7 712.0,551.3 710.5,551.4" fill="rgba(220,150,225,0.55)"/>
<polygon points="712.0,553.7 713.5,554.2 713.5,551.3 712.0,551.3" fill="rgba(220,150,225,0.55)"/>
<polygon points="713.5,554.2 715.0,554.8 715.0,551.4 713.5,551.3" fill="rgba(220,150,225,0.55)"/>
<polygon points="715.0,554.8 716.5,555.4 716.5,551.6 715.0,551.4" fill="rgba(220,150,225,0.55)"/>
<polygon points="716.5,555.4 718.0,556.0 718.0,551.9 716.5,551.6" fill="rgba(220,150,225,0.55)"/>
<polygon points="718.0,556.0 719.5,556.6 719.5,552.3 718.0,551.9" fill="rgba(220,150,225,0.55)"/>
<polygon points="719.5,556.6 721.0,557.2 721.0,552.7 719.5,552.3" fill="rgba(220,150,225,0.55)"/>
<polygon points="721.0,557.2 722.5,557.8 722.5,553.2 721.0,552.7" fill="rgba(220,150,225,0.55)"/>
<polygon points="722.5,557.8 724.0,558.3 724.0,553.8 722.5,553.2" fill="rgba(220,150,225,0.55)"/>
<polygon points="724.0,558.3 725.5,558.8 725.5,554.3 724.0,553.8" fill="rgba(220,150,225,0.55)"/>
<polygon points="725.5,558.8 727.0,559.4 727.0,554.9 725.5,554.3" fill="rgba(220,150,225,0.55)"/>
<polygon points="727.0,559.4 728.5,559.9 728.5,555.4 727.0,554.9" fill="rgba(220,150,225,0.55)"/>
<polygon points="728.5,559.9 730.0,560.5 730.0,556.0 728.5,555.4" fill="rgba(220,150,225,0.55)"/>
<polygon points="730.0,560.5 731.5,561.0 731.5,556.6 730.0,556.0" fill="rgba(220,150,225,0.55)"/>
<polygon points="731.5,561.0 733.0,561.6 733.0,557.1 731.5,556.6" fill="rgba(220,150,225,0.55)"/>
<polygon points="733.0,561.6 734.5,562.1 734.5,557.7 733.0,557.1" fill="rgba(220,150,225,0.55)"/>
<polygon points="734.5,562.1 736.0,562.7 736.0,558.3 734.5,557.7" fill="rgba(220,150,225,0.55)"/>
<polygon points="736.0,562.7 737.5,563.2 737.5,558.8 736.0,558.3" fill="rgba(220,150,225,0.55)"/>
<polygon points="737.5,563.2 739.0,563.8 739.0,559.4 737.5,558.8" fill="rgba(220,150,225,0.55)"/>
<polygon points="739.0,563.8 740.5,563.6 740.5,559.9 739.0,559.4" fill="rgba(220,150,225,0.55)"/>
<polygon points="740.5,563.6 742.0,563.5 742.0,560.4 740.5,559.9" fill="rgba(220,150,225,0.55)"/>
<polygon points="742.0,563.5 743.5,563.3 743.5,560.9 742.0,560.4" fill="rgba(220,150,225,0.55)"/>
<polygon points="743.5,563.3 745.0,563.1 745.0,561.4 743.5,560.9" fill="rgba(220,150,225,0.55)"/>
<polygon points="745.0,563.1 746.5,563.0 746.5,561.8 745.0,561.4" fill="rgba(220,150,225,0.55)"/>
<polygon points="746.5,563.0 748.0,561.9 748.0,562.1 746.5,561.8" fill="rgba(120,120,210,0.45)"/>
<polygon points="748.0,561.9 749.5,560.8 749.5,562.4 748.0,562.1" fill="rgba(120,120,210,0.45)"/>
<polygon points="749.5,560.8 751.0,559.7 751.0,562.6 749.5,562.4" fill="rgba(120,120,210,0.45)"/>
<polygon points="751.0,559.7 752.5,558.6 752.5,562.6 751.0,562.6" fill="rgba(120,120,210,0.45)"/>
<polygon points="752.5,558.6 754.0,557.5 754.0,562.5 752.5,562.6" fill="rgba(120,120,210,0.45)"/>
<polygon points="754.0,557.5 755.5,556.4 755.5,562.3 754.0,562.5" fill="rgba(120,120,210,0.45)"/>
<polygon points="755.5,556.4 757.0,555.3 757.0,561.9 755.5,562.3" fill="rgba(120,120,210,0.45)"/>
<polygon points="757.0,555.3 758.5,555.4 758.5,561.5 757.0,561.9" fill="rgba(120,120,210,0.45)"/>
<polygon points="758.5,555.4 760.0,556.8 760.0,560.9 758.5,561.5" fill="rgba(120,120,210,0.45)"/>
<polygon points="760.0,556.8 761.5,558.1 761.5,560.3 760.0,560.9" fill="rgba(120,120,210,0.45)"/>
<polygon points="761.5,558.1 763.0,559.4 763.0,559.7 761.5,560.3" fill="rgba(120,120,210,0.45)"/>
<polygon points="763.0,559.4 764.5,560.8 764.5,559.2 763.0,559.7" fill="rgba(220,150,225,0.55)"/>
<polygon points="764.5,560.8 766.0,561.1 766.0,558.8 764.5,559.2" fill="rgba(220,150,225,0.55)"/>
<polygon points="766.0,561.1 767.5,561.4 767.5,558.5 766.0,558.8" fill="rgba(220,150,225,0.55)"/>
<polygon points="767.5,561.4 769.0,561.8 769.0,558.4 767.5,558.5" fill="rgba(220,150,225,0.55)"/>
<polygon points="769.0,561.8 770.5,562.1 770.5,558.4 769.0,558.4" fill="rgba(220,150,225,0.55)"/>
<polygon points="770.5,562.1 772.0,562.4 772.0,558.5 770.5,558.4" fill="rgba(220,150,225,0.55)"/>
<polygon points="772.0,562.4 773.5,562.8 773.5,558.8 772.0,558.5" fill="rgba(220,150,225,0.55)"/>
<polygon points="773.5,562.8 775.0,563.1 775.0,559.2 773.5,558.8" fill="rgba(220,150,225,0.55)"/>
<polygon points="775.0,563.1 776.5,563.4 776.5,559.7 775.0,559.2" fill="rgba(220,150,225,0.55)"/>
<polygon points="776.5,563.4 778.0,563.8 778.0,560.2 776.5,559.7" fill="rgba(220,150,225,0.55)"/>
<polygon points="778.0,563.8 779.5,561.7 779.5,560.7 778.0,560.2" fill="rgba(220,150,225,0.55)"/>
<polygon points="779.5,561.7 781.0,559.6 781.0,561.2 779.5,560.7" fill="rgba(120,120,210,0.45)"/>
<polygon points="781.0,559.6 782.5,557.6 782.5,561.5 781.0,561.2" fill="rgba(120,120,210,0.45)"/>
<polygon points="782.5,557.6 784.0,555.5 784.0,561.7 782.5,561.5" fill="rgba(120,120,210,0.45)"/>
<polygon points="784.0,555.5 785.5,554.4 785.5,561.6 784.0,561.7" fill="rgba(120,120,210,0.45)"/>
<polygon points="785.5,554.4 787.0,553.2 787.0,561.4 785.5,561.6" fill="rgba(120,120,210,0.45)"/>
<polygon points="787.0,553.2 788.5,552.1 788.5,560.9 787.0,561.4" fill="rgba(120,120,210,0.45)"/>
<polygon points="788.5,552.1 790.0,551.0 790.0,560.3 788.5,560.9" fill="rgba(120,120,210,0.45)"/>
<polygon points="790.0,551.0 791.5,549.9 791.5,559.5 790.0,560.3" fill="rgba(120,120,210,0.45)"/>
<polygon points="791.5,549.9 793.0,548.8 793.0,558.6 791.5,559.5" fill="rgba(120,120,210,0.45)"/>
<polygon points="793.0,548.8 794.5,548.5 794.5,557.5 793.0,558.6" fill="rgba(120,120,210,0.45)"/>
<polygon points="794.5,548.5 796.0,548.2 796.0,556.4 794.5,557.5" fill="rgba(120,120,210,0.45)"/>
<polygon points="796.0,548.2 797.5,548.0 797.5,555.2 796.0,556.4" fill="rgba(120,120,210,0.45)"/>
<polygon points="797.5,548.0 799.0,547.7 799.0,554.0 797.5,555.2" fill="rgba(120,120,210,0.45)"/>
<polygon points="799.0,547.7 800.5,548.0 800.5,552.9 799.0,554.0" fill="rgba(120,120,210,0.45)"/>
<polygon points="800.5,548.0 802.0,548.2 802.0,551.9 800.5,552.9" fill="rgba(120,120,210,0.45)"/>
<polygon points="802.0,548.2 803.5,548.5 803.5,551.0 802.0,551.9" fill="rgba(120,120,210,0.45)"/>
<polygon points="803.5,548.5 805.0,548.7 805.0,550.3 803.5,551.0" fill="rgba(120,120,210,0.45)"/>
<polygon points="805.0,548.7 806.5,549.0 806.5,549.7 805.0,550.3" fill="rgba(120,120,210,0.45)"/>
<polygon points="806.5,549.0 808.0,549.2 808.0,549.2 806.5,549.7" fill="rgba(220,150,225,0.55)"/>
<polygon points="808.0,549.2 809.5,549.5 809.5,548.9 808.0,549.2" fill="rgba(220,150,225,0.55)"/>
<polygon points="809.5,549.5 811.0,549.7 811.0,548.7 809.5,548.9" fill="rgba(220,150,225,0.55)"/>
<polygon points="811.0,549.7 812.5,550.0 812.5,548.6 811.0,548.7" fill="rgba(220,150,225,0.55)"/>
<polygon points="812.5,550.0 814.0,550.2 814.0,548.6 812.5,548.6" fill="rgba(220,150,225,0.55)"/>
<polygon points="814.0,550.2 815.5,551.4 815.5,548.7 814.0,548.6" fill="rgba(220,150,225,0.55)"/>
<polygon points="815.5,551.4 817.0,552.5 817.0,548.9 815.5,548.7" fill="rgba(220,150,225,0.55)"/>
<polygon points="817.0,552.5 818.5,553.6 818.5,549.2 817.0,548.9" fill="rgba(220,150,225,0.55)"/>
<polygon points="818.5,553.6 820.0,554.8 820.0,549.5 818.5,549.2" fill="rgba(220,150,225,0.55)"/>
<polygon points="820.0,554.8 821.5,555.9 821.5,549.9 820.0,549.5" fill="rgba(220,150,225,0.55)"/>
<polygon points="821.5,555.9 823.0,557.0 823.0,550.4 821.5,549.9" fill="rgba(220,150,225,0.55)"/>
<polygon points="823.0,557.0 824.5,559.0 824.5,551.0 823.0,550.4" fill="rgba(220,150,225,0.55)"/>
<polygon points="824.5,559.0 826.0,561.0 826.0,551.6 824.5,551.0" fill="rgba(220,150,225,0.55)"/>
<polygon points="826.0,561.0 827.5,563.0 827.5,552.4 826.0,551.6" fill="rgba(220,150,225,0.55)"/>
<polygon points="827.5,563.0 829.0,565.0 829.0,553.4 827.5,552.4" fill="rgba(220,150,225,0.55)"/>
<polygon points="829.0,565.0 830.5,567.0 830.5,554.4 829.0,553.4" fill="rgba(220,150,225,0.55)"/>
<polygon points="830.5,567.0 832.0,569.0 832.0,555.6 830.5,554.4" fill="rgba(220,150,225,0.55)"/>
<polygon points="832.0,569.0 833.5,569.3 833.5,556.9 832.0,555.6" fill="rgba(220,150,225,0.55)"/>
<polygon points="833.5,569.3 835.0,569.7 835.0,558.3 833.5,556.9" fill="rgba(220,150,225,0.55)"/>
<polygon points="835.0,569.7 836.5,570.0 836.5,559.7 835.0,558.3" fill="rgba(220,150,225,0.55)"/>
<polygon points="836.5,570.0 838.0,570.3 838.0,561.2 836.5,559.7" fill="rgba(220,150,225,0.55)"/>
<polygon points="838.0,570.3 839.5,569.8 839.5,562.6 838.0,561.2" fill="rgba(220,150,225,0.55)"/>
<polygon points="839.5,569.8 841.0,568.5 841.0,564.0 839.5,562.6" fill="rgba(220,150,225,0.55)"/>
<polygon points="841.0,568.5 842.5,567.2 842.5,565.1 841.0,564.0" fill="rgba(220,150,225,0.55)"/>
<polygon points="842.5,567.2 844.0,565.9 844.0,566.1 842.5,565.1" fill="rgba(120,120,210,0.45)"/>
<polygon points="844.0,565.9 845.5,564.2 845.5,566.9 844.0,566.1" fill="rgba(120,120,210,0.45)"/>
<polygon points="845.5,564.2 847.0,562.0 847.0,567.5 845.5,566.9" fill="rgba(120,120,210,0.45)"/>
<polygon points="847.0,562.0 848.5,559.8 848.5,567.7 847.0,567.5" fill="rgba(120,120,210,0.45)"/>
<polygon points="848.5,559.8 850.0,557.7 850.0,567.6 848.5,567.7" fill="rgba(120,120,210,0.45)"/>
<polygon points="850.0,557.7 851.5,555.5 851.5,567.2 850.0,567.6" fill="rgba(120,120,210,0.45)"/>
<polygon points="851.5,555.5 853.0,554.8 853.0,566.5 851.5,567.2" fill="rgba(120,120,210,0.45)"/>
<polygon points="853.0,554.8 854.5,554.0 854.5,565.5 853.0,566.5" fill="rgba(120,120,210,0.45)"/>
<polygon points="854.5,554.0 856.0,553.2 856.0,564.4 854.5,565.5" fill="rgba(120,120,210,0.45)"/>
<polygon points="856.0,553.2 857.5,552.5 857.5,563.1 856.0,564.4" fill="rgba(120,120,210,0.45)"/>
<polygon points="857.5,552.5 859.0,551.8 859.0,561.7 857.5,563.1" fill="rgba(120,120,210,0.45)"/>
<polygon points="859.0,551.8 860.5,551.5 860.5,560.3 859.0,561.7" fill="rgba(120,120,210,0.45)"/>
<polygon points="860.5,551.5 862.0,551.3 862.0,558.9 860.5,560.3" fill="rgba(120,120,210,0.45)"/>
<polygon points="862.0,551.3 863.5,551.1 863.5,557.6 862.0,558.9" fill="rgba(120,120,210,0.45)"/>
<polygon points="863.5,551.1 865.0,550.9 865.0,556.4 863.5,557.6" fill="rgba(120,120,210,0.45)"/>
<polygon points="865.0,550.9 866.5,550.7 866.5,555.2 865.0,556.4" fill="rgba(120,120,210,0.45)"/>
<polygon points="866.5,550.7 868.0,550.5 868.0,554.3 866.5,555.2" fill="rgba(120,120,210,0.45)"/>
<polygon points="868.0,550.5 869.5,550.2 869.5,553.5 868.0,554.3" fill="rgba(120,120,210,0.45)"/>
<polygon points="869.5,550.2 871.0,550.0 871.0,552.8 869.5,553.5" fill="rgba(120,120,210,0.45)"/>
<polygon points="871.0,550.0 872.5,549.8 872.5,552.2 871.0,552.8" fill="rgba(120,120,210,0.45)"/>
<polygon points="872.5,549.8 874.0,549.6 874.0,551.7 872.5,552.2" fill="rgba(120,120,210,0.45)"/>
<polygon points="874.0,549.6 875.5,549.4 875.5,551.3 874.0,551.7" fill="rgba(120,120,210,0.45)"/>
<polygon points="875.5,549.4 877.0,549.1 877.0,551.0 875.5,551.3" fill="rgba(120,120,210,0.45)"/>
<polygon points="877.0,549.1 878.5,548.9 878.5,550.7 877.0,551.0" fill="rgba(120,120,210,0.45)"/>
<polygon points="878.5,548.9 880.0,548.7 880.0,550.5 878.5,550.7" fill="rgba(120,120,210,0.45)"/>
<polygon points="880.0,548.7 881.5,548.5 881.5,550.2 880.0,550.5" fill="rgba(120,120,210,0.45)"/>
<polygon points="881.5,548.5 883.0,548.2 883.0,550.0 881.5,550.2" fill="rgba(120,120,210,0.45)"/>
<polygon points="883.0,548.2 884.5,548.0 884.5,549.8 883.0,550.0" fill="rgba(120,120,210,0.45)"/>
<polygon points="884.5,548.0 886.0,548.3 886.0,549.6 884.5,549.8" fill="rgba(120,120,210,0.45)"/>
<polygon points="886.0,548.3 887.5,548.6 887.5,549.4 886.0,549.6" fill="rgba(120,120,210,0.45)"/>
<polygon points="887.5,548.6 889.0,548.9 889.0,549.2 887.5,549.4" fill="rgba(120,120,210,0.45)"/>
<polygon points="889.0,548.9 890.5,549.2 890.5,549.0 889.0,549.2" fill="rgba(220,150,225,0.55)"/>
<polygon points="890.5,549.2 892.0,549.5 892.0,548.9 890.5,549.0" fill="rgba(220,150,225,0.55)"/>
<polygon points="892.0,549.5 893.5,549.7 893.5,548.8 892.0,548.9" fill="rgba(220,150,225,0.55)"/>
<polygon points="893.5,549.7 895.0,549.8 895.0,548.8 893.5,548.8" fill="rgba(220,150,225,0.55)"/>
<polygon points="895.0,549.8 896.5,550.0 896.5,548.8 895.0,548.8" fill="rgba(220,150,225,0.55)"/>
<polygon points="896.5,550.0 898.0,550.2 898.0,548.8 896.5,548.8" fill="rgba(220,150,225,0.55)"/>
<polygon points="898.0,550.2 899.5,550.3 899.5,548.9 898.0,548.8" fill="rgba(220,150,225,0.55)"/>
<polygon points="899.5,550.3 901.0,550.5 901.0,549.0 899.5,548.9" fill="rgba(220,150,225,0.55)"/>
<polygon points="901.0,550.5 902.5,550.7 902.5,549.2 901.0,549.0" fill="rgba(220,150,225,0.55)"/>
<polygon points="902.5,550.7 904.0,550.8 904.0,549.4 902.5,549.2" fill="rgba(220,150,225,0.55)"/>
<polygon points="904.0,550.8 905.5,551.0 905.5,549.5 904.0,549.4" fill="rgba(220,150,225,0.55)"/>
<polygon points="905.5,551.0 907.0,550.8 907.0,549.7 905.5,549.5" fill="rgba(220,150,225,0.55)"/>
<polygon points="907.0,550.8 908.5,550.6 908.5,549.9 907.0,549.7" fill="rgba(220,150,225,0.55)"/>
<polygon points="908.5,550.6 910.0,550.4 910.0,550.1 908.5,549.9" fill="rgba(220,150,225,0.55)"/>
<polygon points="910.0,550.4 911.5,550.2 911.5,550.2 910.0,550.1" fill="rgba(220,150,225,0.55)"/>
<polygon points="911.5,550.2 913.0,550.1 913.0,550.3 911.5,550.2" fill="rgba(120,120,210,0.45)"/>
<polygon points="913.0,550.1 914.5,549.9 914.5,550.4 913.0,550.3" fill="rgba(120,120,210,0.45)"/>
<polygon points="914.5,549.9 916.0,549.7 916.0,550.4 914.5,550.4" fill="rgba(120,120,210,0.45)"/>
<polygon points="916.0,549.7 917.5,549.5 917.5,550.5 916.0,550.4" fill="rgba(120,120,210,0.45)"/>
<polygon points="917.5,549.5 919.0,550.1 919.0,550.4 917.5,550.5" fill="rgba(120,120,210,0.45)"/>
<polygon points="919.0,550.1 920.5,550.6 920.5,550.4 919.0,550.4" fill="rgba(220,150,225,0.55)"/>
<polygon points="920.5,550.6 922.0,551.2 922.0,550.4 920.5,550.4" fill="rgba(220,150,225,0.55)"/>
<polygon points="922.0,551.2 923.5,551.8 923.5,550.4 922.0,550.4" fill="rgba(220,150,225,0.55)"/>
<polygon points="22.0,593.0 23.5,592.5 23.5,592.8 22.0,593.0" fill="rgba(120,220,120,0.5)"/>
<polygon points="23.5,592.5 25.0,591.0 25.0,592.2 23.5,592.8" fill="rgba(120,220,120,0.5)"/>
<polygon points="25.0,591.0 26.5,589.5 26.5,591.5 25.0,592.2" fill="rgba(120,220,120,0.5)"/>
<polygon points="26.5,589.5 28.0,588.0 28.0,590.8 26.5,591.5" fill="rgba(120,220,120,0.5)"/>
<polygon points="28.0,588.0 29.5,588.3 29.5,590.4 28.0,590.8" fill="rgba(120,220,120,0.5)"/>
<polygon points="29.5,588.3 31.0,589.0 31.0,589.7 29.5,590.4" fill="rgba(120,220,120,0.5)"/>
<polygon points="31.0,589.0 32.5,589.6 32.5,589.2 31.0,589.7" fill="rgba(255,120,120,0.45)"/>
<polygon points="32.5,589.6 34.0,590.3 34.0,589.1 32.5,589.2" fill="rgba(255,120,120,0.45)"/>
<polygon points="34.0,590.3 35.5,591.0 35.5,589.4 34.0,589.1" fill="rgba(255,120,120,0.45)"/>
<polygon points="35.5,591.0 37.0,592.0 37.0,590.0 35.5,589.4" fill="rgba(255,120,120,0.45)"/>
<polygon points="37.0,592.0 38.5,592.9 38.5,590.8 37.0,590.0" fill="rgba(255,120,120,0.45)"/>
<polygon points="38.5,592.9 40.0,593.8 40.0,591.6 38.5,590.8" fill="rgba(255,120,120,0.45)"/>
<polygon points="40.0,593.8 41.5,594.6 41.5,592.4 40.0,591.6" fill="rgba(255,120,120,0.45)"/>
<polygon points="41.5,594.6 43.0,595.2 43.0,593.2 41.5,592.4" fill="rgba(255,120,120,0.45)"/>
<polygon points="43.0,595.2 44.5,595.2 44.5,593.9 43.0,593.2" fill="rgba(255,120,120,0.45)"/>
<polygon points="44.5,595.2 46.0,595.2 46.0,594.5 44.5,593.9" fill="rgba(255,120,120,0.45)"/>
<polygon points="46.0,595.2 47.5,595.2 47.5,594.9 46.0,594.5" fill="rgba(255,120,120,0.45)"/>
<polygon points="47.5,595.2 49.0,594.1 49.0,595.0 47.5,594.9" fill="rgba(120,220,120,0.5)"/>
<polygon points="49.0,594.1 50.5,590.5 50.5,594.3 49.0,595.0" fill="rgba(120,220,120,0.5)"/>
<polygon points="50.5,590.5 52.0,586.9 52.0,592.9 50.5,594.3" fill="rgba(120,220,120,0.5)"/>
<polygon points="52.0,586.9 53.5,583.4 53.5,590.9 52.0,592.9" fill="rgba(120,220,120,0.5)"/>
<polygon points="53.5,583.4 55.0,579.8 55.0,588.3 53.5,590.9" fill="rgba(120,220,120,0.5)"/>
<polygon points="55.0,579.8 56.5,576.0 56.5,585.1 55.0,588.3" fill="rgba(120,220,120,0.5)"/>
<polygon points="56.5,576.0 58.0,572.2 58.0,581.5 56.5,585.1" fill="rgba(120,220,120,0.5)"/>
<polygon points="58.0,572.2 59.5,568.5 59.5,577.8 58.0,581.5" fill="rgba(120,220,120,0.5)"/>
<polygon points="59.5,568.5 61.0,565.3 61.0,574.2 59.5,577.8" fill="rgba(120,220,120,0.5)"/>
<polygon points="61.0,565.3 62.5,563.2 62.5,570.8 61.0,574.2" fill="rgba(120,220,120,0.5)"/>
<polygon points="62.5,563.2 64.0,561.2 64.0,567.8 62.5,570.8" fill="rgba(120,220,120,0.5)"/>
<polygon points="64.0,561.2 65.5,559.1 65.5,564.9 64.0,567.8" fill="rgba(120,220,120,0.5)"/>
<polygon points="65.5,559.1 67.0,557.5 67.0,562.5 65.5,564.9" fill="rgba(120,220,120,0.5)"/>
<polygon points="67.0,557.5 68.5,556.5 68.5,560.5 67.0,562.5" fill="rgba(120,220,120,0.5)"/>
<polygon points="68.5,556.5 70.0,555.6 70.0,558.9 68.5,560.5" fill="rgba(120,220,120,0.5)"/>
<polygon points="70.0,555.6 71.5,554.8 71.5,557.5 70.0,558.9" fill="rgba(120,220,120,0.5)"/>
<polygon points="71.5,554.8 73.0,553.9 73.0,556.2 71.5,557.5" fill="rgba(120,220,120,0.5)"/>
<polygon points="73.0,553.9 74.5,553.7 74.5,555.3 73.0,556.2" fill="rgba(120,220,120,0.5)"/>
<polygon points="74.5,553.7 76.0,555.0 76.0,554.9 74.5,555.3" fill="rgba(255,120,120,0.45)"/>
<polygon points="76.0,555.0 77.5,556.3 77.5,554.9 76.0,554.9" fill="rgba(255,120,120,0.45)"/>
<polygon points="77.5,556.3 79.0,557.6 79.0,555.2 77.5,554.9" fill="rgba(255,120,120,0.45)"/>
<polygon points="79.0,557.6 80.5,559.3 80.5,556.0 79.0,555.2" fill="rgba(255,120,120,0.45)"/>
<polygon points="80.5,559.3 82.0,561.7 82.0,557.3 80.5,556.0" fill="rgba(255,120,120,0.45)"/>
<polygon points="82.0,561.7 83.5,564.1 83.5,559.0 82.0,557.3" fill="rgba(255,120,120,0.45)"/>
<polygon points="83.5,564.1 85.0,566.5 85.0,560.9 83.5,559.0" fill="rgba(255,120,120,0.45)"/>
<polygon points="85.0,566.5 86.5,568.9 86.5,563.0 85.0,560.9" fill="rgba(255,120,120,0.45)"/>
<polygon points="86.5,568.9 88.0,570.8 88.0,565.2 86.5,563.0" fill="rgba(255,120,120,0.45)"/>
<polygon points="88.0,570.8 89.5,571.5 89.5,567.2 88.0,565.2" fill="rgba(255,120,120,0.45)"/>
<polygon points="89.5,571.5 91.0,572.2 91.0,569.0 89.5,567.2" fill="rgba(255,120,120,0.45)"/>
<polygon points="91.0,572.2 92.5,573.0 92.5,570.5 91.0,569.0" fill="rgba(255,120,120,0.45)"/>
<polygon points="92.5,573.0 94.0,574.0 94.0,571.7 92.5,570.5" fill="rgba(255,120,120,0.45)"/>
<polygon points="94.0,574.0 95.5,575.5 95.5,572.8 94.0,571.7" fill="rgba(255,120,120,0.45)"/>
<polygon points="95.5,575.5 97.0,577.0 97.0,573.9 95.5,572.8" fill="rgba(255,120,120,0.45)"/>
<polygon points="97.0,577.0 98.5,578.5 98.5,575.0 97.0,573.9" fill="rgba(255,120,120,0.45)"/>
<polygon points="98.5,578.5 100.0,579.6 100.0,576.3 98.5,575.0" fill="rgba(255,120,120,0.45)"/>
<polygon points="100.0,579.6 101.5,580.0 101.5,577.4 100.0,576.3" fill="rgba(255,120,120,0.45)"/>
<polygon points="101.5,580.0 103.0,580.4 103.0,578.5 101.5,577.4" fill="rgba(255,120,120,0.45)"/>
<polygon points="103.0,580.4 104.5,580.8 104.5,579.4 103.0,578.5" fill="rgba(255,120,120,0.45)"/>
<polygon points="104.5,580.8 106.0,581.1 106.0,580.1 104.5,579.4" fill="rgba(255,120,120,0.45)"/>
<polygon points="106.0,581.1 107.5,581.5 107.5,580.6 106.0,580.1" fill="rgba(255,120,120,0.45)"/>
<polygon points="107.5,581.5 109.0,582.0 109.0,581.0 107.5,580.6" fill="rgba(255,120,120,0.45)"/>
<polygon points="109.0,582.0 110.5,582.4 110.5,581.4 109.0,581.0" fill="rgba(255,120,120,0.45)"/>
<polygon points="110.5,582.4 112.0,582.8 112.0,581.8 110.5,581.4" fill="rgba(255,120,120,0.45)"/>
<polygon points="112.0,582.8 113.5,583.2 113.5,582.2 112.0,581.8" fill="rgba(255,120,120,0.45)"/>
<polygon points="113.5,583.2 115.0,580.9 115.0,582.1 113.5,582.2" fill="rgba(120,220,120,0.5)"/>
<polygon points="115.0,580.9 116.5,578.1 116.5,581.5 115.0,582.1" fill="rgba(120,220,120,0.5)"/>
<polygon points="116.5,578.1 118.0,575.3 118.0,580.4 116.5,581.5" fill="rgba(120,220,120,0.5)"/>
<polygon points="118.0,575.3 119.5,572.5 119.5,578.8 118.0,580.4" fill="rgba(120,220,120,0.5)"/>
<polygon points="119.5,572.5 121.0,569.9 121.0,576.6 119.5,578.8" fill="rgba(120,220,120,0.5)"/>
<polygon points="121.0,569.9 122.5,567.3 122.5,574.0 121.0,576.6" fill="rgba(120,220,120,0.5)"/>
<polygon points="122.5,567.3 124.0,564.7 124.0,571.3 122.5,574.0" fill="rgba(120,220,120,0.5)"/>
<polygon points="124.0,564.7 125.5,562.2 125.5,568.6 124.0,571.3" fill="rgba(120,220,120,0.5)"/>
<polygon points="125.5,562.2 127.0,560.0 127.0,566.1 125.5,568.6" fill="rgba(120,220,120,0.5)"/>
<polygon points="127.0,560.0 128.5,557.8 128.5,563.6 127.0,566.1" fill="rgba(120,220,120,0.5)"/>
<polygon points="128.5,557.8 130.0,555.5 130.0,561.2 128.5,563.6" fill="rgba(120,220,120,0.5)"/>
<polygon points="130.0,555.5 131.5,553.7 131.5,559.0 130.0,561.2" fill="rgba(120,220,120,0.5)"/>
<polygon points="131.5,553.7 133.0,552.8 133.0,557.0 131.5,559.0" fill="rgba(120,220,120,0.5)"/>
<polygon points="133.0,552.8 134.5,551.8 134.5,555.2 133.0,557.0" fill="rgba(120,220,120,0.5)"/>
<polygon points="134.5,551.8 136.0,550.9 136.0,553.7 134.5,555.2" fill="rgba(120,220,120,0.5)"/>
<polygon points="136.0,550.9 137.5,550.1 137.5,552.5 136.0,553.7" fill="rgba(120,220,120,0.5)"/>
<polygon points="137.5,550.1 139.0,549.9 139.0,551.5 137.5,552.5" fill="rgba(120,220,120,0.5)"/>
<polygon points="139.0,549.9 140.5,549.5 140.5,550.8 139.0,551.5" fill="rgba(120,220,120,0.5)"/>
<polygon points="140.5,549.5 142.0,549.2 142.0,550.2 140.5,550.8" fill="rgba(120,220,120,0.5)"/>
<polygon points="142.0,549.2 143.5,549.0 143.5,549.8 142.0,550.2" fill="rgba(120,220,120,0.5)"/>
<polygon points="143.5,549.0 145.0,548.7 145.0,549.4 143.5,549.8" fill="rgba(120,220,120,0.5)"/>
<polygon points="145.0,548.7 146.5,548.7 146.5,549.2 145.0,549.4" fill="rgba(120,220,120,0.5)"/>
<polygon points="146.5,548.7 148.0,548.6 148.0,549.0 146.5,549.2" fill="rgba(120,220,120,0.5)"/>
<polygon points="148.0,548.6 149.5,548.5 149.5,548.8 148.0,549.0" fill="rgba(120,220,120,0.5)"/>
<polygon points="149.5,548.5 151.0,548.5 151.0,548.7 149.5,548.8" fill="rgba(120,220,120,0.5)"/>
<polygon points="151.0,548.5 152.5,548.4 152.5,548.6 151.0,548.7" fill="rgba(120,220,120,0.5)"/>
<polygon points="152.5,548.4 154.0,548.3 154.0,548.5 152.5,548.6" fill="rgba(120,220,120,0.5)"/>
<polygon points="154.0,548.3 155.5,548.2 155.5,548.4 154.0,548.5" fill="rgba(120,220,120,0.5)"/>
<polygon points="155.5,548.2 157.0,548.2 157.0,548.4 155.5,548.4" fill="rgba(120,220,120,0.5)"/>
<polygon points="157.0,548.2 158.5,548.1 158.5,548.3 157.0,548.4" fill="rgba(120,220,120,0.5)"/>
<polygon points="158.5,548.1 160.0,548.0 160.0,548.2 158.5,548.3" fill="rgba(120,220,120,0.5)"/>
<polygon points="160.0,548.0 161.5,548.5 161.5,548.2 160.0,548.2" fill="rgba(255,120,120,0.45)"/>
<polygon points="161.5,548.5 163.0,550.0 163.0,548.5 161.5,548.2" fill="rgba(255,120,120,0.45)"/>
<polygon points="163.0,550.0 164.5,551.2 164.5,549.0 163.0,548.5" fill="rgba(255,120,120,0.45)"/>
<polygon points="164.5,551.2 166.0,551.9 166.0,549.6 164.5,549.0" fill="rgba(255,120,120,0.45)"/>
<polygon points="166.0,551.9 167.5,552.5 167.5,550.4 166.0,549.6" fill="rgba(255,120,120,0.45)"/>
<polygon points="167.5,552.5 169.0,553.1 169.0,551.2 167.5,550.4" fill="rgba(255,120,120,0.45)"/>
<polygon points="169.0,553.1 170.5,553.8 170.5,552.1 169.0,551.2" fill="rgba(255,120,120,0.45)"/>
<polygon points="170.5,553.8 172.0,554.4 172.0,552.8 170.5,552.1" fill="rgba(255,120,120,0.45)"/>
<polygon points="172.0,554.4 173.5,555.1 173.5,553.5 172.0,552.8" fill="rgba(255,120,120,0.45)"/>
<polygon points="173.5,555.1 175.0,555.2 175.0,554.0 173.5,553.5" fill="rgba(255,120,120,0.45)"/>
<polygon points="175.0,555.2 176.5,554.5 176.5,554.4 175.0,554.0" fill="rgba(255,120,120,0.45)"/>
<polygon points="176.5,554.5 178.0,553.8 178.0,554.5 176.5,554.4" fill="rgba(120,220,120,0.5)"/>
<polygon points="178.0,553.8 179.5,553.0 179.5,554.3 178.0,554.5" fill="rgba(120,220,120,0.5)"/>
<polygon points="179.5,553.0 181.0,552.2 181.0,554.0 179.5,554.3" fill="rgba(120,220,120,0.5)"/>
<polygon points="181.0,552.2 182.5,551.5 182.5,553.4 181.0,554.0" fill="rgba(120,220,120,0.5)"/>
<polygon points="182.5,551.5 184.0,550.8 184.0,552.6 182.5,553.4" fill="rgba(120,220,120,0.5)"/>
<polygon points="184.0,550.8 185.5,550.0 185.5,551.9 184.0,552.6" fill="rgba(120,220,120,0.5)"/>
<polygon points="185.5,550.0 187.0,550.1 187.0,551.3 185.5,551.9" fill="rgba(120,220,120,0.5)"/>
<polygon points="187.0,550.1 188.5,552.0 188.5,551.1 187.0,551.3" fill="rgba(255,120,120,0.45)"/>
<polygon points="188.5,552.0 190.0,553.9 190.0,551.4 188.5,551.1" fill="rgba(255,120,120,0.45)"/>
<polygon points="190.0,553.9 191.5,555.8 191.5,552.1 190.0,551.4" fill="rgba(255,120,120,0.45)"/>
<polygon points="191.5,555.8 193.0,557.9 193.0,553.3 191.5,552.1" fill="rgba(255,120,120,0.45)"/>
<polygon points="193.0,557.9 194.5,560.6 194.5,555.0 193.0,553.3" fill="rgba(255,120,120,0.45)"/>
<polygon points="194.5,560.6 196.0,563.3 196.0,557.2 194.5,555.0" fill="rgba(255,120,120,0.45)"/>
<polygon points="196.0,563.3 197.5,566.0 197.5,559.6 196.0,557.2" fill="rgba(255,120,120,0.45)"/>
<polygon points="197.5,566.0 199.0,568.7 199.0,562.0 197.5,559.6" fill="rgba(255,120,120,0.45)"/>
<polygon points="199.0,568.7 200.5,571.5 200.5,564.7 199.0,562.0" fill="rgba(255,120,120,0.45)"/>
<polygon points="200.5,571.5 202.0,574.7 202.0,567.5 200.5,564.7" fill="rgba(255,120,120,0.45)"/>
<polygon points="202.0,574.7 203.5,577.9 203.5,570.4 202.0,567.5" fill="rgba(255,120,120,0.45)"/>
<polygon points="203.5,577.9 205.0,581.0 205.0,573.3 203.5,570.4" fill="rgba(255,120,120,0.45)"/>
<polygon points="205.0,581.0 206.5,584.1 206.5,576.3 205.0,573.3" fill="rgba(255,120,120,0.45)"/>
<polygon points="206.5,584.1 208.0,585.8 208.0,579.2 206.5,576.3" fill="rgba(255,120,120,0.45)"/>
<polygon points="208.0,585.8 209.5,584.5 209.5,581.3 208.0,579.2" fill="rgba(255,120,120,0.45)"/>
<polygon points="209.5,584.5 211.0,583.2 211.0,582.8 209.5,581.3" fill="rgba(255,120,120,0.45)"/>
<polygon points="211.0,583.2 212.5,581.9 212.5,583.4 211.0,582.8" fill="rgba(120,220,120,0.5)"/>
<polygon points="212.5,581.9 214.0,581.2 214.0,583.5 212.5,583.4" fill="rgba(120,220,120,0.5)"/>
<polygon points="214.0,581.2 215.5,582.0 215.5,583.1 214.0,583.5" fill="rgba(120,220,120,0.5)"/>
<polygon points="215.5,582.0 217.0,582.8 217.0,582.6 215.5,583.1" fill="rgba(255,120,120,0.45)"/>
<polygon points="217.0,582.8 218.5,583.5 218.5,582.4 217.0,582.6" fill="rgba(255,120,120,0.45)"/>
<polygon points="218.5,583.5 220.0,583.0 220.0,582.4 218.5,582.4" fill="rgba(255,120,120,0.45)"/>
<polygon points="220.0,583.0 221.5,580.0 221.5,582.1 220.0,582.4" fill="rgba(120,220,120,0.5)"/>
<polygon points="221.5,580.0 223.0,577.0 223.0,581.4 221.5,582.1" fill="rgba(120,220,120,0.5)"/>
<polygon points="223.0,577.0 224.5,574.0 224.5,580.0 223.0,581.4" fill="rgba(120,220,120,0.5)"/>
<polygon points="224.5,574.0 226.0,571.2 226.0,578.1 224.5,580.0" fill="rgba(120,220,120,0.5)"/>
<polygon points="226.0,571.2 227.5,569.0 227.5,575.7 226.0,578.1" fill="rgba(120,220,120,0.5)"/>
<polygon points="227.5,569.0 229.0,566.8 229.0,573.0 227.5,575.7" fill="rgba(120,220,120,0.5)"/>
<polygon points="229.0,566.8 230.5,564.9 230.5,570.5 229.0,573.0" fill="rgba(120,220,120,0.5)"/>
<polygon points="230.5,564.9 232.0,564.0 232.0,568.3 230.5,570.5" fill="rgba(120,220,120,0.5)"/>
<polygon points="232.0,564.0 233.5,563.1 233.5,566.5 232.0,568.3" fill="rgba(120,220,120,0.5)"/>
<polygon points="233.5,563.1 235.0,562.1 235.0,565.0 233.5,566.5" fill="rgba(120,220,120,0.5)"/>
<polygon points="235.0,562.1 236.5,561.4 236.5,563.7 235.0,565.0" fill="rgba(120,220,120,0.5)"/>
<polygon points="236.5,561.4 238.0,561.2 238.0,562.8 236.5,563.7" fill="rgba(120,220,120,0.5)"/>
<polygon points="238.0,561.2 239.5,560.9 239.5,562.1 238.0,562.8" fill="rgba(120,220,120,0.5)"/>
<polygon points="239.5,560.9 241.0,561.2 241.0,561.6 239.5,562.1" fill="rgba(120,220,120,0.5)"/>
<polygon points="241.0,561.2 242.5,562.5 242.5,561.6 241.0,561.6" fill="rgba(255,120,120,0.45)"/>
<polygon points="242.5,562.5 244.0,563.8 244.0,561.8 242.5,561.6" fill="rgba(255,120,120,0.45)"/>
<polygon points="244.0,563.8 245.5,565.1 245.5,562.5 244.0,561.8" fill="rgba(255,120,120,0.45)"/>
<polygon points="245.5,565.1 247.0,566.8 247.0,563.4 245.5,562.5" fill="rgba(255,120,120,0.45)"/>
<polygon points="247.0,566.8 248.5,569.0 248.5,564.7 247.0,563.4" fill="rgba(255,120,120,0.45)"/>
<polygon points="248.5,569.0 250.0,571.2 250.0,566.4 248.5,564.7" fill="rgba(255,120,120,0.45)"/>
<polygon points="250.0,571.2 251.5,573.8 251.5,568.3 250.0,566.4" fill="rgba(255,120,120,0.45)"/>
<polygon points="251.5,573.8 253.0,576.4 253.0,570.4 251.5,568.3" fill="rgba(255,120,120,0.45)"/>
<polygon points="253.0,576.4 254.5,579.0 254.5,572.7 253.0,570.4" fill="rgba(255,120,120,0.45)"/>
<polygon points="254.5,579.0 256.0,581.6 256.0,575.2 254.5,572.7" fill="rgba(255,120,120,0.45)"/>
<polygon points="256.0,581.6 257.5,584.2 257.5,577.7 256.0,575.2" fill="rgba(255,120,120,0.45)"/>
<polygon points="257.5,584.2 259.0,586.8 259.0,580.3 257.5,577.7" fill="rgba(255,120,120,0.45)"/>
<polygon points="259.0,586.8 260.5,589.4 260.5,582.9 259.0,580.3" fill="rgba(255,120,120,0.45)"/>
<polygon points="260.5,589.4 262.0,592.0 262.0,585.5 260.5,582.9" fill="rgba(255,120,120,0.45)"/>
<polygon points="262.0,592.0 263.5,594.8 263.5,588.1 262.0,585.5" fill="rgba(255,120,120,0.45)"/>
<polygon points="263.5,594.8 265.0,597.5 265.0,590.8 263.5,588.1" fill="rgba(255,120,120,0.45)"/>
<polygon points="265.0,597.5 266.5,600.2 266.5,593.5 265.0,590.8" fill="rgba(255,120,120,0.45)"/>
<polygon points="266.5,600.2 268.0,603.0 268.0,596.2 266.5,593.5" fill="rgba(255,120,120,0.45)"/>
<polygon points="268.0,603.0 269.5,605.8 269.5,598.9 268.0,596.2" fill="rgba(255,120,120,0.45)"/>
<polygon points="269.5,605.8 271.0,608.5 271.0,601.6 269.5,598.9" fill="rgba(255,120,120,0.45)"/>
<polygon points="271.0,608.5 272.5,611.2 272.5,604.4 271.0,601.6" fill="rgba(255,120,120,0.45)"/>
<polygon points="272.5,611.2 274.0,614.0 274.0,607.1 272.5,604.4" fill="rgba(255,120,120,0.45)"/>
<polygon points="274.0,614.0 275.5,613.4 275.5,609.3 274.0,607.1" fill="rgba(255,120,120,0.45)"/>
<polygon points="275.5,613.4 277.0,612.9 277.0,611.0 275.5,609.3" fill="rgba(255,120,120,0.45)"/>
<polygon points="277.0,612.9 278.5,612.3 278.5,612.1 277.0,611.0" fill="rgba(255,120,120,0.45)"/>
<polygon points="278.5,612.3 280.0,611.8 280.0,612.6 278.5,612.1" fill="rgba(120,220,120,0.5)"/>
<polygon points="280.0,611.8 281.5,611.2 281.5,612.6 280.0,612.6" fill="rgba(120,220,120,0.5)"/>
<polygon points="281.5,611.2 283.0,610.6 283.0,612.0 281.5,612.6" fill="rgba(120,220,120,0.5)"/>
<polygon points="283.0,610.6 284.5,610.1 284.5,611.5 283.0,612.0" fill="rgba(120,220,120,0.5)"/>
<polygon points="284.5,610.1 286.0,609.5 286.0,610.9 284.5,611.5" fill="rgba(120,220,120,0.5)"/>
<polygon points="286.0,609.5 287.5,609.4 287.5,610.4 286.0,610.9" fill="rgba(120,220,120,0.5)"/>
<polygon points="287.5,609.4 289.0,609.2 289.0,610.0 287.5,610.4" fill="rgba(120,220,120,0.5)"/>
<polygon points="289.0,609.2 290.5,609.0 290.5,609.6 289.0,610.0" fill="rgba(120,220,120,0.5)"/>
<polygon points="290.5,609.0 292.0,608.9 292.0,609.3 290.5,609.6" fill="rgba(120,220,120,0.5)"/>
<polygon points="292.0,608.9 293.5,608.8 293.5,609.1 292.0,609.3" fill="rgba(120,220,120,0.5)"/>
<polygon points="293.5,608.8 295.0,611.3 295.0,609.4 293.5,609.1" fill="rgba(255,120,120,0.45)"/>
<polygon points="295.0,611.3 296.5,613.9 296.5,610.2 295.0,609.4" fill="rgba(255,120,120,0.45)"/>
<polygon points="296.5,613.9 298.0,616.4 298.0,611.4 296.5,610.2" fill="rgba(255,120,120,0.45)"/>
<polygon points="298.0,616.4 299.5,619.0 299.5,613.0 298.0,611.4" fill="rgba(255,120,120,0.45)"/>
<polygon points="299.5,619.0 301.0,621.5 301.0,615.1 299.5,613.0" fill="rgba(255,120,120,0.45)"/>
<polygon points="301.0,621.5 302.5,623.0 302.5,617.5 301.0,615.1" fill="rgba(255,120,120,0.45)"/>
<polygon points="302.5,623.0 304.0,624.5 304.0,619.7 302.5,617.5" fill="rgba(255,120,120,0.45)"/>
<polygon points="304.0,624.5 305.5,626.0 305.5,621.7 304.0,619.7" fill="rgba(255,120,120,0.45)"/>
<polygon points="305.5,626.0 307.0,627.5 307.0,623.6 305.5,621.7" fill="rgba(255,120,120,0.45)"/>
<polygon points="307.0,627.5 308.5,629.0 308.5,625.2 307.0,623.6" fill="rgba(255,120,120,0.45)"/>
<polygon points="308.5,629.0 310.0,630.5 310.0,626.8 308.5,625.2" fill="rgba(255,120,120,0.45)"/>
<polygon points="310.0,630.5 311.5,632.0 311.5,628.2 310.0,626.8" fill="rgba(255,120,120,0.45)"/>
<polygon points="311.5,632.0 313.0,633.5 313.0,629.8 311.5,628.2" fill="rgba(255,120,120,0.45)"/>
<polygon points="313.0,633.5 314.5,635.0 314.5,631.2 313.0,629.8" fill="rgba(255,120,120,0.45)"/>
<polygon points="314.5,635.0 316.0,633.4 316.0,632.2 314.5,631.2" fill="rgba(255,120,120,0.45)"/>
<polygon points="316.0,633.4 317.5,631.8 317.5,632.7 316.0,632.2" fill="rgba(120,220,120,0.5)"/>
<polygon points="317.5,631.8 319.0,630.2 319.0,632.7 317.5,632.7" fill="rgba(120,220,120,0.5)"/>
<polygon points="319.0,630.2 320.5,628.6 320.5,632.1 319.0,632.7" fill="rgba(120,220,120,0.5)"/>
<polygon points="320.5,628.6 322.0,627.0 322.0,631.0 320.5,632.1" fill="rgba(120,220,120,0.5)"/>
<polygon points="322.0,627.0 323.5,625.4 323.5,629.4 322.0,631.0" fill="rgba(120,220,120,0.5)"/>
<polygon points="323.5,625.4 325.0,623.8 325.0,627.8 323.5,629.4" fill="rgba(120,220,120,0.5)"/>
<polygon points="325.0,623.8 326.5,622.2 326.5,626.2 325.0,627.8" fill="rgba(120,220,120,0.5)"/>
<polygon points="326.5,622.2 328.0,618.8 328.0,624.3 326.5,626.2" fill="rgba(120,220,120,0.5)"/>
<polygon points="328.0,618.8 329.5,615.4 329.5,622.1 328.0,624.3" fill="rgba(120,220,120,0.5)"/>
<polygon points="329.5,615.4 331.0,611.9 331.0,619.6 329.5,622.1" fill="rgba(120,220,120,0.5)"/>
<polygon points="331.0,611.9 332.5,608.5 332.5,616.8 331.0,619.6" fill="rgba(120,220,120,0.5)"/>
<polygon points="332.5,608.5 334.0,605.0 334.0,613.6 332.5,616.8" fill="rgba(120,220,120,0.5)"/>
<polygon points="334.0,605.0 335.5,602.9 335.5,610.4 334.0,613.6" fill="rgba(120,220,120,0.5)"/>
<polygon points="335.5,602.9 337.0,600.8 337.0,607.4 335.5,610.4" fill="rgba(120,220,120,0.5)"/>
<polygon points="337.0,600.8 338.5,598.7 338.5,604.6 337.0,607.4" fill="rgba(120,220,120,0.5)"/>
<polygon points="338.5,598.7 340.0,596.6 340.0,602.1 338.5,604.6" fill="rgba(120,220,120,0.5)"/>
<polygon points="340.0,596.6 341.5,594.5 341.5,599.8 340.0,602.1" fill="rgba(120,220,120,0.5)"/>
<polygon points="341.5,594.5 343.0,591.2 343.0,597.4 341.5,599.8" fill="rgba(120,220,120,0.5)"/>
<polygon points="343.0,591.2 344.5,587.9 344.5,594.9 343.0,597.4" fill="rgba(120,220,120,0.5)"/>
<polygon points="344.5,587.9 346.0,584.6 346.0,592.2 344.5,594.9" fill="rgba(120,220,120,0.5)"/>
<polygon points="346.0,584.6 347.5,581.3 347.5,589.4 346.0,592.2" fill="rgba(120,220,120,0.5)"/>
<polygon points="347.5,581.3 349.0,578.0 349.0,586.2 347.5,589.4" fill="rgba(120,220,120,0.5)"/>
<polygon points="349.0,578.0 350.5,575.0 350.5,583.0 349.0,586.2" fill="rgba(120,220,120,0.5)"/>
<polygon points="350.5,575.0 352.0,572.0 352.0,579.8 350.5,583.0" fill="rgba(120,220,120,0.5)"/>
<polygon points="352.0,572.0 353.5,569.0 353.5,576.6 352.0,579.8" fill="rgba(120,220,120,0.5)"/>
<polygon points="353.5,569.0 355.0,566.0 355.0,573.6 353.5,576.6" fill="rgba(120,220,120,0.5)"/>
<polygon points="355.0,566.0 356.5,563.0 356.5,570.5 355.0,573.6" fill="rgba(120,220,120,0.5)"/>
<polygon points="356.5,563.0 358.0,560.9 358.0,567.6 356.5,570.5" fill="rgba(120,220,120,0.5)"/>
<polygon points="358.0,560.9 359.5,558.8 359.5,564.9 358.0,567.6" fill="rgba(120,220,120,0.5)"/>
<polygon points="359.5,558.8 361.0,556.7 361.0,562.4 359.5,564.9" fill="rgba(120,220,120,0.5)"/>
<polygon points="361.0,556.7 362.5,554.6 362.5,560.0 361.0,562.4" fill="rgba(120,220,120,0.5)"/>
<polygon points="362.5,554.6 364.0,552.5 364.0,557.8 362.5,560.0" fill="rgba(120,220,120,0.5)"/>
<polygon points="364.0,552.5 365.5,551.9 365.5,555.9 364.0,557.8" fill="rgba(120,220,120,0.5)"/>
<polygon points="365.5,551.9 367.0,551.2 367.0,554.3 365.5,555.9" fill="rgba(120,220,120,0.5)"/>
<polygon points="367.0,551.2 368.5,550.6 368.5,552.9 367.0,554.3" fill="rgba(120,220,120,0.5)"/>
<polygon points="368.5,550.6 370.0,550.0 370.0,551.8 368.5,552.9" fill="rgba(120,220,120,0.5)"/>
<polygon points="370.0,550.0 371.5,549.4 371.5,550.9 370.0,551.8" fill="rgba(120,220,120,0.5)"/>
<polygon points="371.5,549.4 373.0,548.8 373.0,550.3 371.5,550.9" fill="rgba(120,220,120,0.5)"/>
<polygon points="373.0,548.8 374.5,548.9 374.5,549.8 373.0,550.3" fill="rgba(120,220,120,0.5)"/>
<polygon points="374.5,548.9 376.0,549.1 376.0,549.5 374.5,549.8" fill="rgba(120,220,120,0.5)"/>
<polygon points="376.0,549.1 377.5,549.3 377.5,549.2 376.0,549.5" fill="rgba(255,120,120,0.45)"/>
<polygon points="377.5,549.3 379.0,549.5 379.0,549.2 377.5,549.2" fill="rgba(255,120,120,0.45)"/>
<polygon points="379.0,549.5 380.5,549.0 380.5,549.1 379.0,549.2" fill="rgba(120,220,120,0.5)"/>
<polygon points="380.5,549.0 382.0,548.6 382.0,549.1 380.5,549.1" fill="rgba(120,220,120,0.5)"/>
<polygon points="382.0,548.6 383.5,548.1 383.5,549.0 382.0,549.1" fill="rgba(120,220,120,0.5)"/>
<polygon points="383.5,548.1 385.0,547.7 385.0,548.7 383.5,549.0" fill="rgba(120,220,120,0.5)"/>
<polygon points="385.0,547.7 386.5,547.2 386.5,548.4 385.0,548.7" fill="rgba(120,220,120,0.5)"/>
<polygon points="386.5,547.2 388.0,547.4 388.0,548.0 386.5,548.4" fill="rgba(120,220,120,0.5)"/>
<polygon points="388.0,547.4 389.5,547.5 389.5,547.8 388.0,548.0" fill="rgba(120,220,120,0.5)"/>
<polygon points="389.5,547.5 391.0,547.6 391.0,547.6 389.5,547.8" fill="rgba(255,120,120,0.45)"/>
<polygon points="391.0,547.6 392.5,547.7 392.5,547.5 391.0,547.6" fill="rgba(255,120,120,0.45)"/>
<polygon points="392.5,547.7 394.0,549.0 394.0,547.7 392.5,547.5" fill="rgba(255,120,120,0.45)"/>
<polygon points="394.0,549.0 395.5,550.2 395.5,548.2 394.0,547.7" fill="rgba(255,120,120,0.45)"/>
<polygon points="395.5,550.2 397.0,551.5 397.0,548.9 395.5,548.2" fill="rgba(255,120,120,0.45)"/>
<polygon points="397.0,551.5 398.5,552.7 398.5,549.8 397.0,548.9" fill="rgba(255,120,120,0.45)"/>
<polygon points="398.5,552.7 400.0,554.0 400.0,550.9 398.5,549.8" fill="rgba(255,120,120,0.45)"/>
<polygon points="400.0,554.0 401.5,554.2 401.5,551.9 400.0,550.9" fill="rgba(255,120,120,0.45)"/>
<polygon points="401.5,554.2 403.0,554.4 403.0,552.8 401.5,551.9" fill="rgba(255,120,120,0.45)"/>
<polygon points="403.0,554.4 404.5,554.6 404.5,553.6 403.0,552.8" fill="rgba(255,120,120,0.45)"/>
<polygon points="404.5,554.6 406.0,554.8 406.0,554.1 404.5,553.6" fill="rgba(255,120,120,0.45)"/>
<polygon points="406.0,554.8 407.5,554.9 407.5,554.5 406.0,554.1" fill="rgba(255,120,120,0.45)"/>
<polygon points="407.5,554.9 409.0,555.1 409.0,554.7 407.5,554.5" fill="rgba(255,120,120,0.45)"/>
<polygon points="409.0,555.1 410.5,555.3 410.5,554.8 409.0,554.7" fill="rgba(255,120,120,0.45)"/>
<polygon points="410.5,555.3 412.0,555.5 412.0,555.0 410.5,554.8" fill="rgba(255,120,120,0.45)"/>
<polygon points="412.0,555.5 413.5,554.6 413.5,555.0 412.0,555.0" fill="rgba(120,220,120,0.5)"/>
<polygon points="413.5,554.6 415.0,553.7 415.0,554.9 413.5,555.0" fill="rgba(120,220,120,0.5)"/>
<polygon points="415.0,553.7 416.5,552.8 416.5,554.5 415.0,554.9" fill="rgba(120,220,120,0.5)"/>
<polygon points="416.5,552.8 418.0,551.9 418.0,554.0 416.5,554.5" fill="rgba(120,220,120,0.5)"/>
<polygon points="418.0,551.9 419.5,551.0 419.5,553.2 418.0,554.0" fill="rgba(120,220,120,0.5)"/>
<polygon points="419.5,551.0 421.0,550.9 421.0,552.5 419.5,553.2" fill="rgba(120,220,120,0.5)"/>
<polygon points="421.0,550.9 422.5,550.7 422.5,551.8 421.0,552.5" fill="rgba(120,220,120,0.5)"/>
<polygon points="422.5,550.7 424.0,550.5 424.0,551.3 422.5,551.8" fill="rgba(120,220,120,0.5)"/>
<polygon points="424.0,550.5 425.5,550.4 425.5,550.9 424.0,551.3" fill="rgba(120,220,120,0.5)"/>
<polygon points="425.5,550.4 427.0,550.2 427.0,550.6 425.5,550.9" fill="rgba(120,220,120,0.5)"/>
<polygon points="427.0,550.2 428.5,550.4 428.5,550.5 427.0,550.6" fill="rgba(120,220,120,0.5)"/>
<polygon points="428.5,550.4 430.0,550.6 430.0,550.5 428.5,550.5" fill="rgba(255,120,120,0.45)"/>
<polygon points="430.0,550.6 431.5,550.8 431.5,550.5 430.0,550.5" fill="rgba(255,120,120,0.45)"/>
<polygon points="431.5,550.8 433.0,551.0 433.0,550.6 431.5,550.5" fill="rgba(255,120,120,0.45)"/>
<polygon points="433.0,551.0 434.5,550.6 434.5,550.6 433.0,550.6" fill="rgba(120,220,120,0.5)"/>
<polygon points="434.5,550.6 436.0,550.2 436.0,550.6 434.5,550.6" fill="rgba(120,220,120,0.5)"/>
<polygon points="436.0,550.2 437.5,549.9 437.5,550.5 436.0,550.6" fill="rgba(120,220,120,0.5)"/>
<polygon points="437.5,549.9 439.0,549.5 439.0,550.3 437.5,550.5" fill="rgba(120,220,120,0.5)"/>
<polygon points="439.0,549.5 440.5,552.5 440.5,550.6 439.0,550.3" fill="rgba(255,120,120,0.45)"/>
<polygon points="440.5,552.5 442.0,555.5 442.0,551.4 440.5,550.6" fill="rgba(255,120,120,0.45)"/>
<polygon points="442.0,555.5 443.5,558.5 443.5,552.7 442.0,551.4" fill="rgba(255,120,120,0.45)"/>
<polygon points="443.5,558.5 445.0,561.5 445.0,554.6 443.5,552.7" fill="rgba(255,120,120,0.45)"/>
<polygon points="445.0,561.5 446.5,566.3 446.5,557.3 445.0,554.6" fill="rgba(255,120,120,0.45)"/>
<polygon points="446.5,566.3 448.0,571.1 448.0,560.9 446.5,557.3" fill="rgba(255,120,120,0.45)"/>
<polygon points="448.0,571.1 449.5,575.9 449.5,564.8 448.0,560.9" fill="rgba(255,120,120,0.45)"/>
<polygon points="449.5,575.9 451.0,580.7 451.0,569.0 449.5,564.8" fill="rgba(255,120,120,0.45)"/>
<polygon points="451.0,580.7 452.5,585.5 452.5,573.5 451.0,569.0" fill="rgba(255,120,120,0.45)"/>
<polygon points="452.5,585.5 454.0,590.0 454.0,578.2 452.5,573.5" fill="rgba(255,120,120,0.45)"/>
<polygon points="454.0,590.0 455.5,594.5 455.5,582.9 454.0,578.2" fill="rgba(255,120,120,0.45)"/>
<polygon points="455.5,594.5 457.0,599.0 457.0,587.6 455.5,582.9" fill="rgba(255,120,120,0.45)"/>
<polygon points="457.0,599.0 458.5,603.5 458.5,592.2 457.0,587.6" fill="rgba(255,120,120,0.45)"/>
<polygon points="458.5,603.5 460.0,608.0 460.0,596.8 458.5,592.2" fill="rgba(255,120,120,0.45)"/>
<polygon points="460.0,608.0 461.5,609.6 461.5,600.8 460.0,596.8" fill="rgba(255,120,120,0.45)"/>
<polygon points="461.5,609.6 463.0,611.1 463.0,604.3 461.5,600.8" fill="rgba(255,120,120,0.45)"/>
<polygon points="463.0,611.1 464.5,612.7 464.5,607.3 463.0,604.3" fill="rgba(255,120,120,0.45)"/>
<polygon points="464.5,612.7 466.0,614.3 466.0,609.9 464.5,607.3" fill="rgba(255,120,120,0.45)"/>
<polygon points="466.0,614.3 467.5,615.9 467.5,611.9 466.0,609.9" fill="rgba(255,120,120,0.45)"/>
<polygon points="467.5,615.9 469.0,617.5 469.0,613.5 467.5,611.9" fill="rgba(255,120,120,0.45)"/>
<polygon points="469.0,617.5 470.5,619.0 470.5,615.1 469.0,613.5" fill="rgba(255,120,120,0.45)"/>
<polygon points="470.5,619.0 472.0,620.6 472.0,616.7 470.5,615.1" fill="rgba(255,120,120,0.45)"/>
<polygon points="472.0,620.6 473.5,622.2 473.5,618.2 472.0,616.7" fill="rgba(255,120,120,0.45)"/>
<polygon points="473.5,622.2 475.0,623.8 475.0,619.8 473.5,618.2" fill="rgba(255,120,120,0.45)"/>
<polygon points="475.0,623.8 476.5,622.6 476.5,620.9 475.0,619.8" fill="rgba(255,120,120,0.45)"/>
<polygon points="476.5,622.6 478.0,621.5 478.0,621.6 476.5,620.9" fill="rgba(120,220,120,0.5)"/>
<polygon points="478.0,621.5 479.5,620.4 479.5,621.8 478.0,621.6" fill="rgba(120,220,120,0.5)"/>
<polygon points="479.5,620.4 481.0,619.2 481.0,621.6 479.5,621.8" fill="rgba(120,220,120,0.5)"/>
<polygon points="481.0,619.2 482.5,618.1 482.5,620.9 481.0,621.6" fill="rgba(120,220,120,0.5)"/>
<polygon points="482.5,618.1 484.0,617.0 484.0,619.8 482.5,620.9" fill="rgba(120,220,120,0.5)"/>
<polygon points="484.0,617.0 485.5,614.0 485.5,618.4 484.0,619.8" fill="rgba(120,220,120,0.5)"/>
<polygon points="485.5,614.0 487.0,611.0 487.0,616.6 485.5,618.4" fill="rgba(120,220,120,0.5)"/>
<polygon points="487.0,611.0 488.5,608.0 488.5,614.6 487.0,616.6" fill="rgba(120,220,120,0.5)"/>
<polygon points="488.5,608.0 490.0,605.0 490.0,612.2 488.5,614.6" fill="rgba(120,220,120,0.5)"/>
<polygon points="490.0,605.0 491.5,601.4 491.5,609.4 490.0,612.2" fill="rgba(120,220,120,0.5)"/>
<polygon points="491.5,601.4 493.0,597.8 493.0,606.2 491.5,609.4" fill="rgba(120,220,120,0.5)"/>
<polygon points="493.0,597.8 494.5,594.2 494.5,602.9 493.0,606.2" fill="rgba(120,220,120,0.5)"/>
<polygon points="494.5,594.2 496.0,591.5 496.0,599.6 494.5,602.9" fill="rgba(120,220,120,0.5)"/>
<polygon points="496.0,591.5 497.5,589.2 497.5,596.5 496.0,599.6" fill="rgba(120,220,120,0.5)"/>
<polygon points="497.5,589.2 499.0,587.0 499.0,593.5 497.5,596.5" fill="rgba(120,220,120,0.5)"/>
<polygon points="499.0,587.0 500.5,584.8 500.5,590.8 499.0,593.5" fill="rgba(120,220,120,0.5)"/>
<polygon points="500.5,584.8 502.0,582.5 502.0,588.2 500.5,590.8" fill="rgba(120,220,120,0.5)"/>
<polygon points="502.0,582.5 503.5,580.2 503.5,585.9 502.0,588.2" fill="rgba(120,220,120,0.5)"/>
<polygon points="503.5,580.2 505.0,578.0 505.0,583.6 503.5,585.9" fill="rgba(120,220,120,0.5)"/>
<polygon points="505.0,578.0 506.5,575.8 506.5,581.4 505.0,583.6" fill="rgba(120,220,120,0.5)"/>
<polygon points="506.5,575.8 508.0,573.5 508.0,579.1 506.5,581.4" fill="rgba(120,220,120,0.5)"/>
<polygon points="508.0,573.5 509.5,571.2 509.5,576.9 508.0,579.1" fill="rgba(120,220,120,0.5)"/>
<polygon points="509.5,571.2 511.0,569.0 511.0,574.6 509.5,576.9" fill="rgba(120,220,120,0.5)"/>
<polygon points="511.0,569.0 512.5,566.8 512.5,572.4 511.0,574.6" fill="rgba(120,220,120,0.5)"/>
<polygon points="512.5,566.8 514.0,564.8 514.0,570.2 512.5,572.4" fill="rgba(120,220,120,0.5)"/>
<polygon points="514.0,564.8 515.5,563.0 515.5,568.1 514.0,570.2" fill="rgba(120,220,120,0.5)"/>
<polygon points="515.5,563.0 517.0,561.2 517.0,566.0 515.5,568.1" fill="rgba(120,220,120,0.5)"/>
<polygon points="517.0,561.2 518.5,559.4 518.5,564.0 517.0,566.0" fill="rgba(120,220,120,0.5)"/>
<polygon points="518.5,559.4 520.0,557.6 520.0,562.1 518.5,564.0" fill="rgba(120,220,120,0.5)"/>
<polygon points="520.0,557.6 521.5,556.4 521.5,560.4 520.0,562.1" fill="rgba(120,220,120,0.5)"/>
<polygon points="521.5,556.4 523.0,555.4 523.0,558.8 521.5,560.4" fill="rgba(120,220,120,0.5)"/>
<polygon points="523.0,555.4 524.5,554.5 524.5,557.4 523.0,558.8" fill="rgba(120,220,120,0.5)"/>
<polygon points="524.5,554.5 526.0,553.6 526.0,556.1 524.5,557.4" fill="rgba(120,220,120,0.5)"/>
<polygon points="526.0,553.6 527.5,553.4 527.5,555.1 526.0,556.1" fill="rgba(120,220,120,0.5)"/>
<polygon points="527.5,553.4 529.0,553.6 529.0,554.5 527.5,555.1" fill="rgba(120,220,120,0.5)"/>
<polygon points="529.0,553.6 530.5,553.8 530.5,554.1 529.0,554.5" fill="rgba(120,220,120,0.5)"/>
<polygon points="530.5,553.8 532.0,554.5 532.0,553.9 530.5,554.1" fill="rgba(255,120,120,0.45)"/>
<polygon points="532.0,554.5 533.5,557.5 533.5,554.4 532.0,553.9" fill="rgba(255,120,120,0.45)"/>
<polygon points="533.5,557.5 535.0,560.5 535.0,555.6 533.5,554.4" fill="rgba(255,120,120,0.45)"/>
<polygon points="535.0,560.5 536.5,563.5 536.5,557.2 535.0,555.6" fill="rgba(255,120,120,0.45)"/>
<polygon points="536.5,563.5 538.0,567.9 538.0,559.6 536.5,557.2" fill="rgba(255,120,120,0.45)"/>
<polygon points="538.0,567.9 539.5,573.0 539.5,562.8 538.0,559.6" fill="rgba(255,120,120,0.45)"/>
<polygon points="539.5,573.0 541.0,578.2 541.0,566.8 539.5,562.8" fill="rgba(255,120,120,0.45)"/>
<polygon points="541.0,578.2 542.5,583.3 542.5,571.1 541.0,566.8" fill="rgba(255,120,120,0.45)"/>
<polygon points="542.5,583.3 544.0,588.4 544.0,575.7 542.5,571.1" fill="rgba(255,120,120,0.45)"/>
<polygon points="544.0,588.4 545.5,593.5 545.5,580.7 544.0,575.7" fill="rgba(255,120,120,0.45)"/>
<polygon points="545.5,593.5 547.0,595.9 547.0,585.4 545.5,580.7" fill="rgba(255,120,120,0.45)"/>
<polygon points="547.0,595.9 548.5,596.9 548.5,589.4 547.0,585.4" fill="rgba(255,120,120,0.45)"/>
<polygon points="548.5,596.9 550.0,597.9 550.0,592.7 548.5,589.4" fill="rgba(255,120,120,0.45)"/>
<polygon points="550.0,597.9 551.5,598.9 551.5,595.3 550.0,592.7" fill="rgba(255,120,120,0.45)"/>
<polygon points="551.5,598.9 553.0,599.3 553.0,597.1 551.5,595.3" fill="rgba(255,120,120,0.45)"/>
<polygon points="553.0,599.3 554.5,596.7 554.5,597.6 553.0,597.1" fill="rgba(120,220,120,0.5)"/>
<polygon points="554.5,596.7 556.0,594.1 556.0,597.3 554.5,597.6" fill="rgba(120,220,120,0.5)"/>
<polygon points="556.0,594.1 557.5,591.5 557.5,596.4 556.0,597.3" fill="rgba(120,220,120,0.5)"/>
<polygon points="557.5,591.5 559.0,589.0 559.0,594.9 557.5,596.4" fill="rgba(120,220,120,0.5)"/>
<polygon points="559.0,589.0 560.5,586.4 560.5,592.8 559.0,594.9" fill="rgba(120,220,120,0.5)"/>
<polygon points="560.5,586.4 562.0,583.3 562.0,590.2 560.5,592.8" fill="rgba(120,220,120,0.5)"/>
<polygon points="562.0,583.3 563.5,580.0 563.5,587.4 562.0,590.2" fill="rgba(120,220,120,0.5)"/>
<polygon points="563.5,580.0 565.0,576.7 565.0,584.5 563.5,587.4" fill="rgba(120,220,120,0.5)"/>
<polygon points="565.0,576.7 566.5,573.4 566.5,581.5 565.0,584.5" fill="rgba(120,220,120,0.5)"/>
<polygon points="566.5,573.4 568.0,570.1 568.0,578.3 566.5,581.5" fill="rgba(120,220,120,0.5)"/>
<polygon points="568.0,570.1 569.5,567.6 569.5,575.2 568.0,578.3" fill="rgba(120,220,120,0.5)"/>
<polygon points="569.5,567.6 571.0,565.5 571.0,572.2 569.5,575.2" fill="rgba(120,220,120,0.5)"/>
<polygon points="571.0,565.5 572.5,563.4 572.5,569.4 571.0,572.2" fill="rgba(120,220,120,0.5)"/>
<polygon points="572.5,563.4 574.0,561.3 574.0,566.9 572.5,569.4" fill="rgba(120,220,120,0.5)"/>
<polygon points="574.0,561.3 575.5,559.2 575.5,564.5 574.0,566.9" fill="rgba(120,220,120,0.5)"/>
<polygon points="575.5,559.2 577.0,557.5 577.0,562.4 575.5,564.5" fill="rgba(120,220,120,0.5)"/>
<polygon points="577.0,557.5 578.5,556.0 578.5,560.5 577.0,562.4" fill="rgba(120,220,120,0.5)"/>
<polygon points="578.5,556.0 580.0,554.8 580.0,558.7 578.5,560.5" fill="rgba(120,220,120,0.5)"/>
<polygon points="580.0,554.8 581.5,554.8 581.5,557.2 580.0,558.7" fill="rgba(120,220,120,0.5)"/>
<polygon points="581.5,554.8 583.0,554.8 583.0,556.2 581.5,557.2" fill="rgba(120,220,120,0.5)"/>
<polygon points="583.0,554.8 584.5,554.8 584.5,555.4 583.0,556.2" fill="rgba(120,220,120,0.5)"/>
<polygon points="584.5,554.8 586.0,554.5 586.0,554.9 584.5,555.4" fill="rgba(120,220,120,0.5)"/>
<polygon points="586.0,554.5 587.5,554.0 587.5,554.6 586.0,554.9" fill="rgba(120,220,120,0.5)"/>
<polygon points="587.5,554.0 589.0,553.5 589.0,554.4 587.5,554.6" fill="rgba(120,220,120,0.5)"/>
<polygon points="589.0,553.5 590.5,553.1 590.5,554.1 589.0,554.4" fill="rgba(120,220,120,0.5)"/>
<polygon points="590.5,553.1 592.0,552.6 592.0,553.8 590.5,554.1" fill="rgba(120,220,120,0.5)"/>
<polygon points="592.0,552.6 593.5,552.2 593.5,553.3 592.0,553.8" fill="rgba(120,220,120,0.5)"/>
<polygon points="593.5,552.2 595.0,551.8 595.0,552.9 593.5,553.3" fill="rgba(120,220,120,0.5)"/>
<polygon points="595.0,551.8 596.5,551.3 596.5,552.4 595.0,552.9" fill="rgba(120,220,120,0.5)"/>
<polygon points="596.5,551.3 598.0,550.9 598.0,552.0 596.5,552.4" fill="rgba(120,220,120,0.5)"/>
<polygon points="598.0,550.9 599.5,550.4 599.5,551.5 598.0,552.0" fill="rgba(120,220,120,0.5)"/>
<polygon points="599.5,550.4 601.0,550.0 601.0,551.1 599.5,551.5" fill="rgba(120,220,120,0.5)"/>
<polygon points="601.0,550.0 602.5,549.5 602.5,550.6 601.0,551.1" fill="rgba(120,220,120,0.5)"/>
<polygon points="602.5,549.5 604.0,549.0 604.0,550.2 602.5,550.6" fill="rgba(120,220,120,0.5)"/>
<polygon points="604.0,549.0 605.5,548.6 605.5,549.7 604.0,550.2" fill="rgba(120,220,120,0.5)"/>
<polygon points="605.5,548.6 607.0,548.1 607.0,549.3 605.5,549.7" fill="rgba(120,220,120,0.5)"/>
<polygon points="607.0,548.1 608.5,548.6 608.5,549.0 607.0,549.3" fill="rgba(120,220,120,0.5)"/>
<polygon points="608.5,548.6 610.0,549.5 610.0,548.9 608.5,549.0" fill="rgba(255,120,120,0.45)"/>
<polygon points="610.0,549.5 611.5,550.4 611.5,549.1 610.0,548.9" fill="rgba(255,120,120,0.45)"/>
<polygon points="611.5,550.4 613.0,551.3 613.0,549.4 611.5,549.1" fill="rgba(255,120,120,0.45)"/>
<polygon points="613.0,551.3 614.5,552.2 614.5,550.0 613.0,549.4" fill="rgba(255,120,120,0.45)"/>
<polygon points="614.5,552.2 616.0,553.3 616.0,550.9 614.5,550.0" fill="rgba(255,120,120,0.45)"/>
<polygon points="616.0,553.3 617.5,554.5 617.5,551.9 616.0,550.9" fill="rgba(255,120,120,0.45)"/>
<polygon points="617.5,554.5 619.0,555.7 619.0,552.9 617.5,551.9" fill="rgba(255,120,120,0.45)"/>
<polygon points="619.0,555.7 620.5,556.9 620.5,554.0 619.0,552.9" fill="rgba(255,120,120,0.45)"/>
<polygon points="620.5,556.9 622.0,558.1 622.0,555.1 620.5,554.0" fill="rgba(255,120,120,0.45)"/>
<polygon points="622.0,558.1 623.5,558.8 623.5,556.2 622.0,555.1" fill="rgba(255,120,120,0.45)"/>
<polygon points="623.5,558.8 625.0,559.1 625.0,557.2 623.5,556.2" fill="rgba(255,120,120,0.45)"/>
<polygon points="625.0,559.1 626.5,559.5 626.5,558.0 625.0,557.2" fill="rgba(255,120,120,0.45)"/>
<polygon points="626.5,559.5 628.0,559.9 628.0,558.7 626.5,558.0" fill="rgba(255,120,120,0.45)"/>
<polygon points="628.0,559.9 629.5,560.2 629.5,559.3 628.0,558.7" fill="rgba(255,120,120,0.45)"/>
<polygon points="629.5,560.2 631.0,560.6 631.0,559.7 629.5,559.3" fill="rgba(255,120,120,0.45)"/>
<polygon points="631.0,560.6 632.5,561.0 632.5,560.1 631.0,559.7" fill="rgba(255,120,120,0.45)"/>
<polygon points="632.5,561.0 634.0,561.4 634.0,560.4 632.5,560.1" fill="rgba(255,120,120,0.45)"/>
<polygon points="634.0,561.4 635.5,561.8 635.5,560.8 634.0,560.4" fill="rgba(255,120,120,0.45)"/>
<polygon points="635.5,561.8 637.0,562.1 637.0,561.2 635.5,560.8" fill="rgba(255,120,120,0.45)"/>
<polygon points="637.0,562.1 638.5,563.4 638.5,561.7 637.0,561.2" fill="rgba(255,120,120,0.45)"/>
<polygon points="638.5,563.4 640.0,565.2 640.0,562.5 638.5,561.7" fill="rgba(255,120,120,0.45)"/>
<polygon points="640.0,565.2 641.5,566.9 641.5,563.5 640.0,562.5" fill="rgba(255,120,120,0.45)"/>
<polygon points="641.5,566.9 643.0,569.7 643.0,564.8 641.5,563.5" fill="rgba(255,120,120,0.45)"/>
<polygon points="643.0,569.7 644.5,573.0 644.5,566.7 643.0,564.8" fill="rgba(255,120,120,0.45)"/>
<polygon points="644.5,573.0 646.0,576.3 646.0,569.1 644.5,566.7" fill="rgba(255,120,120,0.45)"/>
<polygon points="646.0,576.3 647.5,579.6 647.5,571.8 646.0,569.1" fill="rgba(255,120,120,0.45)"/>
<polygon points="647.5,579.6 649.0,582.9 649.0,574.7 647.5,571.8" fill="rgba(255,120,120,0.45)"/>
<polygon points="649.0,582.9 650.5,585.6 650.5,577.8 649.0,574.7" fill="rgba(255,120,120,0.45)"/>
<polygon points="650.5,585.6 652.0,587.9 652.0,580.9 650.5,577.8" fill="rgba(255,120,120,0.45)"/>
<polygon points="652.0,587.9 653.5,590.3 653.5,583.8 652.0,580.9" fill="rgba(255,120,120,0.45)"/>
<polygon points="653.5,590.3 655.0,592.6 655.0,586.5 653.5,583.8" fill="rgba(255,120,120,0.45)"/>
<polygon points="655.0,592.6 656.5,595.0 656.5,589.1 655.0,586.5" fill="rgba(255,120,120,0.45)"/>
<polygon points="656.5,595.0 658.0,597.4 658.0,591.5 656.5,589.1" fill="rgba(255,120,120,0.45)"/>
<polygon points="658.0,597.4 659.5,599.7 659.5,593.8 658.0,591.5" fill="rgba(255,120,120,0.45)"/>
<polygon points="659.5,599.7 661.0,600.5 661.0,595.9 659.5,593.8" fill="rgba(255,120,120,0.45)"/>
<polygon points="661.0,600.5 662.5,600.5 662.5,597.6 661.0,595.9" fill="rgba(255,120,120,0.45)"/>
<polygon points="662.5,600.5 664.0,600.5 664.0,598.9 662.5,597.6" fill="rgba(255,120,120,0.45)"/>
<polygon points="664.0,600.5 665.5,600.5 665.5,599.8 664.0,598.9" fill="rgba(255,120,120,0.45)"/>
<polygon points="665.5,600.5 667.0,600.8 667.0,600.4 665.5,599.8" fill="rgba(255,120,120,0.45)"/>
<polygon points="667.0,600.8 668.5,601.1 668.5,600.6 667.0,600.4" fill="rgba(255,120,120,0.45)"/>
<polygon points="668.5,601.1 670.0,601.5 670.0,600.8 668.5,600.6" fill="rgba(255,120,120,0.45)"/>
<polygon points="670.0,601.5 671.5,601.9 671.5,601.0 670.0,600.8" fill="rgba(255,120,120,0.45)"/>
<polygon points="671.5,601.9 673.0,600.5 673.0,601.0 671.5,601.0" fill="rgba(120,220,120,0.5)"/>
<polygon points="673.0,600.5 674.5,598.2 674.5,600.7 673.0,601.0" fill="rgba(120,220,120,0.5)"/>
<polygon points="674.5,598.2 676.0,596.0 676.0,599.9 674.5,600.7" fill="rgba(120,220,120,0.5)"/>
<polygon points="676.0,596.0 677.5,593.8 677.5,598.6 676.0,599.9" fill="rgba(120,220,120,0.5)"/>
<polygon points="677.5,593.8 679.0,589.8 679.0,596.7 677.5,598.6" fill="rgba(120,220,120,0.5)"/>
<polygon points="679.0,589.8 680.5,584.9 680.5,593.9 679.0,596.7" fill="rgba(120,220,120,0.5)"/>
<polygon points="680.5,584.9 682.0,580.0 682.0,590.4 680.5,593.9" fill="rgba(120,220,120,0.5)"/>
<polygon points="682.0,580.0 683.5,575.1 683.5,586.6 682.0,590.4" fill="rgba(120,220,120,0.5)"/>
<polygon points="683.5,575.1 685.0,571.5 685.0,582.5 683.5,586.6" fill="rgba(120,220,120,0.5)"/>
<polygon points="685.0,571.5 686.5,568.5 686.5,578.3 685.0,582.5" fill="rgba(120,220,120,0.5)"/>
<polygon points="686.5,568.5 688.0,565.5 688.0,574.2 686.5,578.3" fill="rgba(120,220,120,0.5)"/>
<polygon points="688.0,565.5 689.5,562.5 689.5,570.5 688.0,574.2" fill="rgba(120,220,120,0.5)"/>
<polygon points="689.5,562.5 691.0,560.2 691.0,567.2 689.5,570.5" fill="rgba(120,220,120,0.5)"/>
<polygon points="691.0,560.2 692.5,558.4 692.5,564.4 691.0,567.2" fill="rgba(120,220,120,0.5)"/>
<polygon points="692.5,558.4 694.0,556.5 694.0,561.9 692.5,564.4" fill="rgba(120,220,120,0.5)"/>
<polygon points="694.0,556.5 695.5,554.6 695.5,559.6 694.0,561.9" fill="rgba(120,220,120,0.5)"/>
<polygon points="695.5,554.6 697.0,552.8 697.0,557.5 695.5,559.6" fill="rgba(120,220,120,0.5)"/>
<polygon points="697.0,552.8 698.5,550.9 698.5,555.6 697.0,557.5" fill="rgba(120,220,120,0.5)"/>
<polygon points="698.5,550.9 700.0,550.9 700.0,554.0 698.5,555.6" fill="rgba(120,220,120,0.5)"/>
<polygon points="700.0,550.9 701.5,551.9 701.5,552.9 700.0,554.0" fill="rgba(120,220,120,0.5)"/>
<polygon points="701.5,551.9 703.0,553.0 703.0,552.3 701.5,552.9" fill="rgba(255,120,120,0.45)"/>
<polygon points="703.0,553.0 704.5,554.0 704.5,552.2 703.0,552.3" fill="rgba(255,120,120,0.45)"/>
<polygon points="704.5,554.0 706.0,555.0 706.0,552.6 704.5,552.2" fill="rgba(255,120,120,0.45)"/>
<polygon points="706.0,555.0 707.5,556.0 707.5,553.5 706.0,552.6" fill="rgba(255,120,120,0.45)"/>
<polygon points="707.5,556.0 709.0,557.0 709.0,554.5 707.5,553.5" fill="rgba(255,120,120,0.45)"/>
<polygon points="709.0,557.0 710.5,559.1 710.5,555.7 709.0,554.5" fill="rgba(255,120,120,0.45)"/>
<polygon points="710.5,559.1 712.0,561.2 712.0,557.0 710.5,555.7" fill="rgba(255,120,120,0.45)"/>
<polygon points="712.0,561.2 713.5,563.3 713.5,558.6 712.0,557.0" fill="rgba(255,120,120,0.45)"/>
<polygon points="713.5,563.3 715.0,565.4 715.0,560.3 713.5,558.6" fill="rgba(255,120,120,0.45)"/>
<polygon points="715.0,565.4 716.5,567.5 716.5,562.2 715.0,560.3" fill="rgba(255,120,120,0.45)"/>
<polygon points="716.5,567.5 718.0,569.5 718.0,564.3 716.5,562.2" fill="rgba(255,120,120,0.45)"/>
<polygon points="718.0,569.5 719.5,571.5 719.5,566.4 718.0,564.3" fill="rgba(255,120,120,0.45)"/>
<polygon points="719.5,571.5 721.0,573.5 721.0,568.4 719.5,566.4" fill="rgba(255,120,120,0.45)"/>
<polygon points="721.0,573.5 722.5,575.5 722.5,570.5 721.0,568.4" fill="rgba(255,120,120,0.45)"/>
<polygon points="722.5,575.5 724.0,577.5 724.0,572.5 722.5,570.5" fill="rgba(255,120,120,0.45)"/>
<polygon points="724.0,577.5 725.5,579.5 725.5,574.5 724.0,572.5" fill="rgba(255,120,120,0.45)"/>
<polygon points="725.5,579.5 727.0,583.2 727.0,576.8 725.5,574.5" fill="rgba(255,120,120,0.45)"/>
<polygon points="727.0,583.2 728.5,587.0 728.5,579.4 727.0,576.8" fill="rgba(255,120,120,0.45)"/>
<polygon points="728.5,587.0 730.0,590.8 730.0,582.2 728.5,579.4" fill="rgba(255,120,120,0.45)"/>
<polygon points="730.0,590.8 731.5,594.5 731.5,585.4 730.0,582.2" fill="rgba(255,120,120,0.45)"/>
<polygon points="731.5,594.5 733.0,596.3 733.0,588.6 731.5,585.4" fill="rgba(255,120,120,0.45)"/>
<polygon points="733.0,596.3 734.5,598.1 734.5,591.6 733.0,588.6" fill="rgba(255,120,120,0.45)"/>
<polygon points="734.5,598.1 736.0,599.9 736.0,594.4 734.5,591.6" fill="rgba(255,120,120,0.45)"/>
<polygon points="736.0,599.9 737.5,601.7 737.5,596.9 736.0,594.4" fill="rgba(255,120,120,0.45)"/>
<polygon points="737.5,601.7 739.0,603.5 739.0,599.0 737.5,596.9" fill="rgba(255,120,120,0.45)"/>
<polygon points="739.0,603.5 740.5,603.1 740.5,600.4 739.0,599.0" fill="rgba(255,120,120,0.45)"/>
<polygon points="740.5,603.1 742.0,602.8 742.0,601.5 740.5,600.4" fill="rgba(255,120,120,0.45)"/>
<polygon points="742.0,602.8 743.5,602.4 743.5,602.2 742.0,601.5" fill="rgba(255,120,120,0.45)"/>
<polygon points="743.5,602.4 745.0,602.0 745.0,602.6 743.5,602.2" fill="rgba(120,220,120,0.5)"/>
<polygon points="745.0,602.0 746.5,597.5 746.5,601.9 745.0,602.6" fill="rgba(120,220,120,0.5)"/>
<polygon points="746.5,597.5 748.0,593.0 748.0,600.1 746.5,601.9" fill="rgba(120,220,120,0.5)"/>
<polygon points="748.0,593.0 749.5,588.5 749.5,597.7 748.0,600.1" fill="rgba(120,220,120,0.5)"/>
<polygon points="749.5,588.5 751.0,584.0 751.0,594.6 749.5,597.7" fill="rgba(120,220,120,0.5)"/>
<polygon points="751.0,584.0 752.5,581.3 752.5,591.1 751.0,594.6" fill="rgba(120,220,120,0.5)"/>
<polygon points="752.5,581.3 754.0,578.7 754.0,587.2 752.5,591.1" fill="rgba(120,220,120,0.5)"/>
<polygon points="754.0,578.7 755.5,576.0 755.5,583.6 754.0,587.2" fill="rgba(120,220,120,0.5)"/>
<polygon points="755.5,576.0 757.0,573.3 757.0,580.3 755.5,583.6" fill="rgba(120,220,120,0.5)"/>
<polygon points="757.0,573.3 758.5,573.2 758.5,577.8 757.0,580.3" fill="rgba(120,220,120,0.5)"/>
<polygon points="758.5,573.2 760.0,575.8 760.0,576.4 758.5,577.8" fill="rgba(120,220,120,0.5)"/>
<polygon points="760.0,575.8 761.5,578.2 761.5,575.9 760.0,576.4" fill="rgba(255,120,120,0.45)"/>
<polygon points="761.5,578.2 763.0,580.8 763.0,576.2 761.5,575.9" fill="rgba(255,120,120,0.45)"/>
<polygon points="763.0,580.8 764.5,583.2 764.5,577.4 763.0,576.2" fill="rgba(255,120,120,0.45)"/>
<polygon points="764.5,583.2 766.0,582.5 766.0,579.0 764.5,577.4" fill="rgba(255,120,120,0.45)"/>
<polygon points="766.0,582.5 767.5,581.8 767.5,580.4 766.0,579.0" fill="rgba(255,120,120,0.45)"/>
<polygon points="767.5,581.8 769.0,581.0 769.0,581.2 767.5,580.4" fill="rgba(120,220,120,0.5)"/>
<polygon points="769.0,581.0 770.5,580.2 770.5,581.6 769.0,581.2" fill="rgba(120,220,120,0.5)"/>
<polygon points="770.5,580.2 772.0,580.4 772.0,581.5 770.5,581.6" fill="rgba(120,220,120,0.5)"/>
<polygon points="772.0,580.4 773.5,580.6 773.5,581.1 772.0,581.5" fill="rgba(120,220,120,0.5)"/>
<polygon points="773.5,580.6 775.0,580.8 775.0,580.8 773.5,581.1" fill="rgba(120,220,120,0.5)"/>
<polygon points="775.0,580.8 776.5,580.9 776.5,580.7 775.0,580.8" fill="rgba(255,120,120,0.45)"/>
<polygon points="776.5,580.9 778.0,579.8 778.0,580.5 776.5,580.7" fill="rgba(120,220,120,0.5)"/>
<polygon points="778.0,579.8 779.5,577.4 779.5,580.0 778.0,580.5" fill="rgba(120,220,120,0.5)"/>
<polygon points="779.5,577.4 781.0,575.0 781.0,579.1 779.5,580.0" fill="rgba(120,220,120,0.5)"/>
<polygon points="781.0,575.0 782.5,569.8 782.5,577.3 781.0,579.1" fill="rgba(120,220,120,0.5)"/>
<polygon points="782.5,569.8 784.0,564.5 784.0,574.6 782.5,577.3" fill="rgba(120,220,120,0.5)"/>
<polygon points="784.0,564.5 785.5,559.2 785.5,570.9 784.0,574.6" fill="rgba(120,220,120,0.5)"/>
<polygon points="785.5,559.2 787.0,557.6 787.0,567.2 785.5,570.9" fill="rgba(120,220,120,0.5)"/>
<polygon points="787.0,557.6 788.5,556.0 788.5,563.7 787.0,567.2" fill="rgba(120,220,120,0.5)"/>
<polygon points="788.5,556.0 790.0,554.3 790.0,560.2 788.5,563.7" fill="rgba(120,220,120,0.5)"/>
<polygon points="790.0,554.3 791.5,552.6 791.5,557.4 790.0,560.2" fill="rgba(120,220,120,0.5)"/>
<polygon points="791.5,552.6 793.0,551.0 793.0,555.1 791.5,557.4" fill="rgba(120,220,120,0.5)"/>
<polygon points="793.0,551.0 794.5,550.2 794.5,553.6 793.0,555.1" fill="rgba(120,220,120,0.5)"/>
<polygon points="794.5,550.2 796.0,549.5 796.0,552.3 794.5,553.6" fill="rgba(120,220,120,0.5)"/>
<polygon points="796.0,549.5 797.5,548.8 797.5,551.1 796.0,552.3" fill="rgba(120,220,120,0.5)"/>
<polygon points="797.5,548.8 799.0,548.0 799.0,550.0 797.5,551.1" fill="rgba(120,220,120,0.5)"/>
<polygon points="799.0,548.0 800.5,548.6 800.5,549.3 799.0,550.0" fill="rgba(120,220,120,0.5)"/>
<polygon points="800.5,548.6 802.0,549.1 802.0,549.0 800.5,549.3" fill="rgba(255,120,120,0.45)"/>
<polygon points="802.0,549.1 803.5,549.7 803.5,548.9 802.0,549.0" fill="rgba(255,120,120,0.45)"/>
<polygon points="803.5,549.7 805.0,550.2 805.0,549.1 803.5,548.9" fill="rgba(255,120,120,0.45)"/>
<polygon points="805.0,550.2 806.5,550.9 806.5,549.4 805.0,549.1" fill="rgba(255,120,120,0.45)"/>
<polygon points="806.5,550.9 808.0,551.5 808.0,550.0 806.5,549.4" fill="rgba(255,120,120,0.45)"/>
<polygon points="808.0,551.5 809.5,552.1 809.5,550.6 808.0,550.0" fill="rgba(255,120,120,0.45)"/>
<polygon points="809.5,552.1 811.0,552.8 811.0,551.2 809.5,550.6" fill="rgba(255,120,120,0.45)"/>
<polygon points="811.0,552.8 812.5,553.4 812.5,551.8 811.0,551.2" fill="rgba(255,120,120,0.45)"/>
<polygon points="812.5,553.4 814.0,554.0 814.0,552.4 812.5,551.8" fill="rgba(255,120,120,0.45)"/>
<polygon points="814.0,554.0 815.5,555.9 815.5,553.3 814.0,552.4" fill="rgba(255,120,120,0.45)"/>
<polygon points="815.5,555.9 817.0,557.8 817.0,554.3 815.5,553.3" fill="rgba(255,120,120,0.45)"/>
<polygon points="817.0,557.8 818.5,559.6 818.5,555.6 817.0,554.3" fill="rgba(255,120,120,0.45)"/>
<polygon points="818.5,559.6 820.0,561.5 820.0,557.0 818.5,555.6" fill="rgba(255,120,120,0.45)"/>
<polygon points="820.0,561.5 821.5,566.4 821.5,559.2 820.0,557.0" fill="rgba(255,120,120,0.45)"/>
<polygon points="821.5,566.4 823.0,571.2 823.0,562.1 821.5,559.2" fill="rgba(255,120,120,0.45)"/>
<polygon points="823.0,571.2 824.5,576.1 824.5,565.4 823.0,562.1" fill="rgba(255,120,120,0.45)"/>
<polygon points="824.5,576.1 826.0,581.0 826.0,569.3 824.5,565.4" fill="rgba(255,120,120,0.45)"/>
<polygon points="826.0,581.0 827.5,586.6 827.5,573.8 826.0,569.3" fill="rgba(255,120,120,0.45)"/>
<polygon points="827.5,586.6 829.0,592.2 829.0,578.9 827.5,573.8" fill="rgba(255,120,120,0.45)"/>
<polygon points="829.0,592.2 830.5,597.9 830.5,584.2 829.0,578.9" fill="rgba(255,120,120,0.45)"/>
<polygon points="830.5,597.9 832.0,603.5 832.0,589.6 830.5,584.2" fill="rgba(255,120,120,0.45)"/>
<polygon points="832.0,603.5 833.5,605.5 833.5,594.5 832.0,589.6" fill="rgba(255,120,120,0.45)"/>
<polygon points="833.5,605.5 835.0,607.5 835.0,598.9 833.5,594.5" fill="rgba(255,120,120,0.45)"/>
<polygon points="835.0,607.5 836.5,609.5 836.5,602.7 835.0,598.9" fill="rgba(255,120,120,0.45)"/>
<polygon points="836.5,609.5 838.0,611.5 838.0,605.9 836.5,602.7" fill="rgba(255,120,120,0.45)"/>
<polygon points="838.0,611.5 839.5,610.4 839.5,608.0 838.0,605.9" fill="rgba(255,120,120,0.45)"/>
<polygon points="839.5,610.4 841.0,606.3 841.0,608.5 839.5,608.0" fill="rgba(120,220,120,0.5)"/>
<polygon points="841.0,606.3 842.5,602.2 842.5,607.9 841.0,608.5" fill="rgba(120,220,120,0.5)"/>
<polygon points="842.5,602.2 844.0,598.1 844.0,606.3 842.5,607.9" fill="rgba(120,220,120,0.5)"/>
<polygon points="844.0,598.1 845.5,593.0 845.5,603.6 844.0,606.3" fill="rgba(120,220,120,0.5)"/>
<polygon points="845.5,593.0 847.0,587.0 847.0,599.5 845.5,603.6" fill="rgba(120,220,120,0.5)"/>
<polygon points="847.0,587.0 848.5,581.0 848.5,594.6 847.0,599.5" fill="rgba(120,220,120,0.5)"/>
<polygon points="848.5,581.0 850.0,575.0 850.0,589.4 848.5,594.6" fill="rgba(120,220,120,0.5)"/>
<polygon points="850.0,575.0 851.5,569.0 851.5,583.8 850.0,589.4" fill="rgba(120,220,120,0.5)"/>
<polygon points="851.5,569.0 853.0,567.4 853.0,578.7 851.5,583.8" fill="rgba(120,220,120,0.5)"/>
<polygon points="853.0,567.4 854.5,565.7 854.5,574.2 853.0,578.7" fill="rgba(120,220,120,0.5)"/>
<polygon points="854.5,565.7 856.0,564.0 856.0,570.4 854.5,574.2" fill="rgba(120,220,120,0.5)"/>
<polygon points="856.0,564.0 857.5,562.4 857.5,567.2 856.0,570.4" fill="rgba(120,220,120,0.5)"/>
<polygon points="857.5,562.4 859.0,560.8 859.0,564.9 857.5,567.2" fill="rgba(120,220,120,0.5)"/>
<polygon points="859.0,560.8 860.5,560.0 860.5,563.4 859.0,564.9" fill="rgba(120,220,120,0.5)"/>
<polygon points="860.5,560.0 862.0,559.2 862.0,562.0 860.5,563.4" fill="rgba(120,220,120,0.5)"/>
<polygon points="862.0,559.2 863.5,558.5 863.5,560.8 862.0,562.0" fill="rgba(120,220,120,0.5)"/>
<polygon points="863.5,558.5 865.0,557.8 865.0,559.8 863.5,560.8" fill="rgba(120,220,120,0.5)"/>
<polygon points="865.0,557.8 866.5,557.0 866.5,558.9 865.0,559.8" fill="rgba(120,220,120,0.5)"/>
<polygon points="866.5,557.0 868.0,556.2 868.0,558.1 866.5,558.9" fill="rgba(120,220,120,0.5)"/>
<polygon points="868.0,556.2 869.5,555.5 869.5,557.4 868.0,558.1" fill="rgba(120,220,120,0.5)"/>
<polygon points="869.5,555.5 871.0,554.5 871.0,556.6 869.5,557.4" fill="rgba(120,220,120,0.5)"/>
<polygon points="871.0,554.5 872.5,553.4 872.5,555.7 871.0,556.6" fill="rgba(120,220,120,0.5)"/>
<polygon points="872.5,553.4 874.0,552.4 874.0,554.8 872.5,555.7" fill="rgba(120,220,120,0.5)"/>
<polygon points="874.0,552.4 875.5,551.3 875.5,553.9 874.0,554.8" fill="rgba(120,220,120,0.5)"/>
<polygon points="875.5,551.3 877.0,550.2 877.0,552.9 875.5,553.9" fill="rgba(120,220,120,0.5)"/>
<polygon points="877.0,550.2 878.5,549.8 878.5,551.9 877.0,552.9" fill="rgba(120,220,120,0.5)"/>
<polygon points="878.5,549.8 880.0,549.4 880.0,551.1 878.5,551.9" fill="rgba(120,220,120,0.5)"/>
<polygon points="880.0,549.4 881.5,548.9 881.5,550.3 880.0,551.1" fill="rgba(120,220,120,0.5)"/>
<polygon points="881.5,548.9 883.0,548.5 883.0,549.7 881.5,550.3" fill="rgba(120,220,120,0.5)"/>
<polygon points="883.0,548.5 884.5,548.0 884.5,549.1 883.0,549.7" fill="rgba(120,220,120,0.5)"/>
<polygon points="884.5,548.0 886.0,549.2 886.0,548.9 884.5,549.1" fill="rgba(255,120,120,0.45)"/>
<polygon points="886.0,549.2 887.5,550.4 887.5,549.1 886.0,548.9" fill="rgba(255,120,120,0.45)"/>
<polygon points="887.5,550.4 889.0,551.6 889.0,549.4 887.5,549.1" fill="rgba(255,120,120,0.45)"/>
<polygon points="889.0,551.6 890.5,552.8 890.5,550.1 889.0,549.4" fill="rgba(255,120,120,0.45)"/>
<polygon points="890.5,552.8 892.0,554.0 892.0,551.0 890.5,550.1" fill="rgba(255,120,120,0.45)"/>
<polygon points="892.0,554.0 893.5,554.2 893.5,552.0 892.0,551.0" fill="rgba(255,120,120,0.45)"/>
<polygon points="893.5,554.2 895.0,554.5 895.0,552.9 893.5,552.0" fill="rgba(255,120,120,0.45)"/>
<polygon points="895.0,554.5 896.5,554.8 896.5,553.6 895.0,552.9" fill="rgba(255,120,120,0.45)"/>
<polygon points="896.5,554.8 898.0,555.0 898.0,554.2 896.5,553.6" fill="rgba(255,120,120,0.45)"/>
<polygon points="898.0,555.0 899.5,555.2 899.5,554.6 898.0,554.2" fill="rgba(255,120,120,0.45)"/>
<polygon points="899.5,555.2 901.0,555.5 901.0,554.9 899.5,554.6" fill="rgba(255,120,120,0.45)"/>
<polygon points="901.0,555.5 902.5,555.5 902.5,555.1 901.0,554.9" fill="rgba(255,120,120,0.45)"/>
<polygon points="902.5,555.5 904.0,555.5 904.0,555.2 902.5,555.1" fill="rgba(255,120,120,0.45)"/>
<polygon points="904.0,555.5 905.5,555.5 905.5,555.4 904.0,555.2" fill="rgba(255,120,120,0.45)"/>
<polygon points="905.5,555.5 907.0,555.5 907.0,555.5 905.5,555.4" fill="rgba(255,120,120,0.45)"/>
<polygon points="907.0,555.5 908.5,555.5 908.5,555.5 907.0,555.5" fill="rgba(120,220,120,0.5)"/>
<polygon points="908.5,555.5 910.0,555.5 910.0,555.5 908.5,555.5" fill="rgba(120,220,120,0.5)"/>
<polygon points="910.0,555.5 911.5,554.3 911.5,555.3 910.0,555.5" fill="rgba(120,220,120,0.5)"/>
<polygon points="911.5,554.3 913.0,553.1 913.0,554.9 911.5,555.3" fill="rgba(120,220,120,0.5)"/>
<polygon points="913.0,553.1 914.5,551.9 914.5,554.3 913.0,554.9" fill="rgba(120,220,120,0.5)"/>
<polygon points="914.5,551.9 916.0,550.7 916.0,553.5 914.5,554.3" fill="rgba(120,220,120,0.5)"/>
<polygon points="916.0,550.7 917.5,549.5 917.5,552.5 916.0,553.5" fill="rgba(120,220,120,0.5)"/>
<polygon points="917.5,549.5 919.0,551.4 919.0,551.8 917.5,552.5" fill="rgba(120,220,120,0.5)"/>
<polygon points="919.0,551.4 920.5,553.2 920.5,551.6 919.0,551.8" fill="rgba(255,120,120,0.45)"/>
<polygon points="920.5,553.2 922.0,555.1 922.0,552.0 920.5,551.6" fill="rgba(255,120,120,0.45)"/>
<polygon points="922.0,555.1 923.5,557.0 923.5,552.8 922.0,552.0" fill="rgba(255,120,120,0.45)"/>
<path d="M22 546.8H924.5 M22 565.3H924.5 M22 621.5H924.5 M22 639.5H924.5" stroke="#1a1a1a" stroke-width="1.1"/>
<path d="M22 593.6H924.5" stroke="#1414cc" stroke-width="1.8" stroke-dasharray="5 4.5"/>
<path d="M22.0 593.0 L23.5 592.8 L25.0 592.2 L26.5 591.5 L28.0 590.8 L29.5 590.4 L31.0 589.7 L32.5 589.2 L34.0 589.1 L35.5 589.4 L37.0 590.0 L38.5 590.8 L40.0 591.6 L41.5 592.4 L43.0 593.2 L44.5 593.9 L46.0 594.5 L47.5 594.9 L49.0 595.0 L50.5 594.3 L52.0 592.9 L53.5 590.9 L55.0 588.3 L56.5 585.1 L58.0 581.5 L59.5 577.8 L61.0 574.2 L62.5 570.8 L64.0 567.8 L65.5 564.9 L67.0 562.5 L68.5 560.5 L70.0 558.9 L71.5 557.5 L73.0 556.2 L74.5 555.3 L76.0 554.9 L77.5 554.9 L79.0 555.2 L80.5 556.0 L82.0 557.3 L83.5 559.0 L85.0 560.9 L86.5 563.0 L88.0 565.2 L89.5 567.2 L91.0 569.0 L92.5 570.5 L94.0 571.7 L95.5 572.8 L97.0 573.9 L98.5 575.0 L100.0 576.3 L101.5 577.4 L103.0 578.5 L104.5 579.4 L106.0 580.1 L107.5 580.6 L109.0 581.0 L110.5 581.4 L112.0 581.8 L113.5 582.2 L115.0 582.1 L116.5 581.5 L118.0 580.4 L119.5 578.8 L121.0 576.6 L122.5 574.0 L124.0 571.3 L125.5 568.6 L127.0 566.1 L128.5 563.6 L130.0 561.2 L131.5 559.0 L133.0 557.0 L134.5 555.2 L136.0 553.7 L137.5 552.5 L139.0 551.5 L140.5 550.8 L142.0 550.2 L143.5 549.8 L145.0 549.4 L146.5 549.2 L148.0 549.0 L149.5 548.8 L151.0 548.7 L152.5 548.6 L154.0 548.5 L155.5 548.4 L157.0 548.4 L158.5 548.3 L160.0 548.2 L161.5 548.2 L163.0 548.5 L164.5 549.0 L166.0 549.6 L167.5 550.4 L169.0 551.2 L170.5 552.1 L172.0 552.8 L173.5 553.5 L175.0 554.0 L176.5 554.4 L178.0 554.5 L179.5 554.3 L181.0 554.0 L182.5 553.4 L184.0 552.6 L185.5 551.9 L187.0 551.3 L188.5 551.1 L190.0 551.4 L191.5 552.1 L193.0 553.3 L194.5 555.0 L196.0 557.2 L197.5 559.6 L199.0 562.0 L200.5 564.7 L202.0 567.5 L203.5 570.4 L205.0 573.3 L206.5 576.3 L208.0 579.2 L209.5 581.3 L211.0 582.8 L212.5 583.4 L214.0 583.5 L215.5 583.1 L217.0 582.6 L218.5 582.4 L220.0 582.4 L221.5 582.1 L223.0 581.4 L224.5 580.0 L226.0 578.1 L227.5 575.7 L229.0 573.0 L230.5 570.5 L232.0 568.3 L233.5 566.5 L235.0 565.0 L236.5 563.7 L238.0 562.8 L239.5 562.1 L241.0 561.6 L242.5 561.6 L244.0 561.8 L245.5 562.5 L247.0 563.4 L248.5 564.7 L250.0 566.4 L251.5 568.3 L253.0 570.4 L254.5 572.7 L256.0 575.2 L257.5 577.7 L259.0 580.3 L260.5 582.9 L262.0 585.5 L263.5 588.1 L265.0 590.8 L266.5 593.5 L268.0 596.2 L269.5 598.9 L271.0 601.6 L272.5 604.4 L274.0 607.1 L275.5 609.3 L277.0 611.0 L278.5 612.1 L280.0 612.6 L281.5 612.6 L283.0 612.0 L284.5 611.5 L286.0 610.9 L287.5 610.4 L289.0 610.0 L290.5 609.6 L292.0 609.3 L293.5 609.1 L295.0 609.4 L296.5 610.2 L298.0 611.4 L299.5 613.0 L301.0 615.1 L302.5 617.5 L304.0 619.7 L305.5 621.7 L307.0 623.6 L308.5 625.2 L310.0 626.8 L311.5 628.2 L313.0 629.8 L314.5 631.2 L316.0 632.2 L317.5 632.7 L319.0 632.7 L320.5 632.1 L322.0 631.0 L323.5 629.4 L325.0 627.8 L326.5 626.2 L328.0 624.3 L329.5 622.1 L331.0 619.6 L332.5 616.8 L334.0 613.6 L335.5 610.4 L337.0 607.4 L338.5 604.6 L340.0 602.1 L341.5 599.8 L343.0 597.4 L344.5 594.9 L346.0 592.2 L347.5 589.4 L349.0 586.2 L350.5 583.0 L352.0 579.8 L353.5 576.6 L355.0 573.6 L356.5 570.5 L358.0 567.6 L359.5 564.9 L361.0 562.4 L362.5 560.0 L364.0 557.8 L365.5 555.9 L367.0 554.3 L368.5 552.9 L370.0 551.8 L371.5 550.9 L373.0 550.3 L374.5 549.8 L376.0 549.5 L377.5 549.2 L379.0 549.2 L380.5 549.1 L382.0 549.1 L383.5 549.0 L385.0 548.7 L386.5 548.4 L388.0 548.0 L389.5 547.8 L391.0 547.6 L392.5 547.5 L394.0 547.7 L395.5 548.2 L397.0 548.9 L398.5 549.8 L400.0 550.9 L401.5 551.9 L403.0 552.8 L404.5 553.6 L406.0 554.1 L407.5 554.5 L409.0 554.7 L410.5 554.8 L412.0 555.0 L413.5 555.0 L415.0 554.9 L416.5 554.5 L418.0 554.0 L419.5 553.2 L421.0 552.5 L422.5 551.8 L424.0 551.3 L425.5 550.9 L427.0 550.6 L428.5 550.5 L430.0 550.5 L431.5 550.5 L433.0 550.6 L434.5 550.6 L436.0 550.6 L437.5 550.5 L439.0 550.3 L440.5 550.6 L442.0 551.4 L443.5 552.7 L445.0 554.6 L446.5 557.3 L448.0 560.9 L449.5 564.8 L451.0 569.0 L452.5 573.5 L454.0 578.2 L455.5 582.9 L457.0 587.6 L458.5 592.2 L460.0 596.8 L461.5 600.8 L463.0 604.3 L464.5 607.3 L466.0 609.9 L467.5 611.9 L469.0 613.5 L470.5 615.1 L472.0 616.7 L473.5 618.2 L475.0 619.8 L476.5 620.9 L478.0 621.6 L479.5 621.8 L481.0 621.6 L482.5 620.9 L484.0 619.8 L485.5 618.4 L487.0 616.6 L488.5 614.6 L490.0 612.2 L491.5 609.4 L493.0 606.2 L494.5 602.9 L496.0 599.6 L497.5 596.5 L499.0 593.5 L500.5 590.8 L502.0 588.2 L503.5 585.9 L505.0 583.6 L506.5 581.4 L508.0 579.1 L509.5 576.9 L511.0 574.6 L512.5 572.4 L514.0 570.2 L515.5 568.1 L517.0 566.0 L518.5 564.0 L520.0 562.1 L521.5 560.4 L523.0 558.8 L524.5 557.4 L526.0 556.1 L527.5 555.1 L529.0 554.5 L530.5 554.1 L532.0 553.9 L533.5 554.4 L535.0 555.6 L536.5 557.2 L538.0 559.6 L539.5 562.8 L541.0 566.8 L542.5 571.1 L544.0 575.7 L545.5 580.7 L547.0 585.4 L548.5 589.4 L550.0 592.7 L551.5 595.3 L553.0 597.1 L554.5 597.6 L556.0 597.3 L557.5 596.4 L559.0 594.9 L560.5 592.8 L562.0 590.2 L563.5 587.4 L565.0 584.5 L566.5 581.5 L568.0 578.3 L569.5 575.2 L571.0 572.2 L572.5 569.4 L574.0 566.9 L575.5 564.5 L577.0 562.4 L578.5 560.5 L580.0 558.7 L581.5 557.2 L583.0 556.2 L584.5 555.4 L586.0 554.9 L587.5 554.6 L589.0 554.4 L590.5 554.1 L592.0 553.8 L593.5 553.3 L595.0 552.9 L596.5 552.4 L598.0 552.0 L599.5 551.5 L601.0 551.1 L602.5 550.6 L604.0 550.2 L605.5 549.7 L607.0 549.3 L608.5 549.0 L610.0 548.9 L611.5 549.1 L613.0 549.4 L614.5 550.0 L616.0 550.9 L617.5 551.9 L619.0 552.9 L620.5 554.0 L622.0 555.1 L623.5 556.2 L625.0 557.2 L626.5 558.0 L628.0 558.7 L629.5 559.3 L631.0 559.7 L632.5 560.1 L634.0 560.4 L635.5 560.8 L637.0 561.2 L638.5 561.7 L640.0 562.5 L641.5 563.5 L643.0 564.8 L644.5 566.7 L646.0 569.1 L647.5 571.8 L649.0 574.7 L650.5 577.8 L652.0 580.9 L653.5 583.8 L655.0 586.5 L656.5 589.1 L658.0 591.5 L659.5 593.8 L661.0 595.9 L662.5 597.6 L664.0 598.9 L665.5 599.8 L667.0 600.4 L668.5 600.6 L670.0 600.8 L671.5 601.0 L673.0 601.0 L674.5 600.7 L676.0 599.9 L677.5 598.6 L679.0 596.7 L680.5 593.9 L682.0 590.4 L683.5 586.6 L685.0 582.5 L686.5 578.3 L688.0 574.2 L689.5 570.5 L691.0 567.2 L692.5 564.4 L694.0 561.9 L695.5 559.6 L697.0 557.5 L698.5 555.6 L700.0 554.0 L701.5 552.9 L703.0 552.3 L704.5 552.2 L706.0 552.6 L707.5 553.5 L709.0 554.5 L710.5 555.7 L712.0 557.0 L713.5 558.6 L715.0 560.3 L716.5 562.2 L718.0 564.3 L719.5 566.4 L721.0 568.4 L722.5 570.5 L724.0 572.5 L725.5 574.5 L727.0 576.8 L728.5 579.4 L730.0 582.2 L731.5 585.4 L733.0 588.6 L734.5 591.6 L736.0 594.4 L737.5 596.9 L739.0 599.0 L740.5 600.4 L742.0 601.5 L743.5 602.2 L745.0 602.6 L746.5 601.9 L748.0 600.1 L749.5 597.7 L751.0 594.6 L752.5 591.1 L754.0 587.2 L755.5 583.6 L757.0 580.3 L758.5 577.8 L760.0 576.4 L761.5 575.9 L763.0 576.2 L764.5 577.4 L766.0 579.0 L767.5 580.4 L769.0 581.2 L770.5 581.6 L772.0 581.5 L773.5 581.1 L775.0 580.8 L776.5 580.7 L778.0 580.5 L779.5 580.0 L781.0 579.1 L782.5 577.3 L784.0 574.6 L785.5 570.9 L787.0 567.2 L788.5 563.7 L790.0 560.2 L791.5 557.4 L793.0 555.1 L794.5 553.6 L796.0 552.3 L797.5 551.1 L799.0 550.0 L800.5 549.3 L802.0 549.0 L803.5 548.9 L805.0 549.1 L806.5 549.4 L808.0 550.0 L809.5 550.6 L811.0 551.2 L812.5 551.8 L814.0 552.4 L815.5 553.3 L817.0 554.3 L818.5 555.6 L820.0 557.0 L821.5 559.2 L823.0 562.1 L824.5 565.4 L826.0 569.3 L827.5 573.8 L829.0 578.9 L830.5 584.2 L832.0 589.6 L833.5 594.5 L835.0 598.9 L836.5 602.7 L838.0 605.9 L839.5 608.0 L841.0 608.5 L842.5 607.9 L844.0 606.3 L845.5 603.6 L847.0 599.5 L848.5 594.6 L850.0 589.4 L851.5 583.8 L853.0 578.7 L854.5 574.2 L856.0 570.4 L857.5 567.2 L859.0 564.9 L860.5 563.4 L862.0 562.0 L863.5 560.8 L865.0 559.8 L866.5 558.9 L868.0 558.1 L869.5 557.4 L871.0 556.6 L872.5 555.7 L874.0 554.8 L875.5 553.9 L877.0 552.9 L878.5 551.9 L880.0 551.1 L881.5 550.3 L883.0 549.7 L884.5 549.1 L886.0 548.9 L887.5 549.1 L889.0 549.4 L890.5 550.1 L892.0 551.0 L893.5 552.0 L895.0 552.9 L896.5 553.6 L898.0 554.2 L899.5 554.6 L901.0 554.9 L902.5 555.1 L904.0 555.2 L905.5 555.4 L907.0 555.5 L908.5 555.5 L910.0 555.5 L911.5 555.3 L913.0 554.9 L914.5 554.3 L916.0 553.5 L917.5 552.5 L919.0 551.8 L920.5 551.6 L922.0 552.0 L923.5 552.8" stroke="#222" stroke-width="0.9" stroke-dasharray="3 2" fill="none"/>
<path d="M22.0 565.2 L23.5 565.2 L25.0 565.2 L26.5 565.2 L28.0 565.1 L29.5 565.1 L31.0 565.1 L32.5 565.1 L34.0 565.1 L35.5 565.1 L37.0 565.2 L38.5 565.4 L40.0 565.6 L41.5 565.8 L43.0 566.1 L44.5 566.5 L46.0 566.9 L47.5 567.3 L49.0 567.8 L50.5 568.2 L52.0 568.6 L53.5 568.9 L55.0 569.1 L56.5 569.1 L58.0 568.9 L59.5 568.5 L61.0 568.0 L62.5 567.3 L64.0 566.3 L65.5 565.3 L67.0 564.1 L68.5 562.8 L70.0 561.5 L71.5 560.1 L73.0 558.8 L74.5 557.6 L76.0 556.5 L77.5 555.6 L79.0 554.8 L80.5 554.2 L82.0 553.8 L83.5 553.6 L85.0 553.6 L86.5 553.7 L88.0 554.0 L89.5 554.4 L91.0 554.9 L92.5 555.4 L94.0 556.0 L95.5 556.5 L97.0 557.1 L98.5 557.6 L100.0 558.1 L101.5 558.5 L103.0 558.8 L104.5 559.2 L106.0 559.4 L107.5 559.6 L109.0 559.8 L110.5 559.9 L112.0 560.0 L113.5 560.0 L115.0 559.9 L116.5 559.8 L118.0 559.7 L119.5 559.4 L121.0 559.1 L122.5 558.7 L124.0 558.2 L125.5 557.7 L127.0 557.1 L128.5 556.5 L130.0 555.8 L131.5 555.2 L133.0 554.5 L134.5 553.8 L136.0 553.1 L137.5 552.5 L139.0 551.9 L140.5 551.4 L142.0 551.0 L143.5 550.5 L145.0 550.2 L146.5 549.8 L148.0 549.5 L149.5 549.3 L151.0 549.0 L152.5 548.8 L154.0 548.6 L155.5 548.4 L157.0 548.3 L158.5 548.1 L160.0 548.0 L161.5 547.9 L163.0 547.9 L164.5 547.8 L166.0 547.8 L167.5 547.8 L169.0 547.9 L170.5 548.0 L172.0 548.2 L173.5 548.3 L175.0 548.6 L176.5 548.8 L178.0 549.1 L179.5 549.4 L181.0 549.7 L182.5 550.0 L184.0 550.3 L185.5 550.5 L187.0 550.6 L188.5 550.7 L190.0 550.8 L191.5 550.9 L193.0 551.0 L194.5 551.2 L196.0 551.4 L197.5 551.7 L199.0 552.2 L200.5 552.8 L202.0 553.5 L203.5 554.4 L205.0 555.4 L206.5 556.6 L208.0 557.9 L209.5 559.2 L211.0 560.6 L212.5 561.9 L214.0 563.1 L215.5 564.2 L217.0 565.1 L218.5 565.8 L220.0 566.3 L221.5 566.6 L223.0 566.7 L224.5 566.5 L226.0 566.1 L227.5 565.6 L229.0 564.8 L230.5 564.0 L232.0 563.0 L233.5 562.1 L235.0 561.1 L236.5 560.2 L238.0 559.3 L239.5 558.5 L241.0 557.8 L242.5 557.2 L244.0 556.7 L245.5 556.4 L247.0 556.2 L248.5 556.1 L250.0 556.3 L251.5 556.5 L253.0 556.9 L254.5 557.5 L256.0 558.1 L257.5 558.8 L259.0 559.7 L260.5 560.6 L262.0 561.5 L263.5 562.5 L265.0 563.4 L266.5 564.4 L268.0 565.4 L269.5 566.3 L271.0 567.3 L272.5 568.3 L274.0 569.3 L275.5 570.4 L277.0 571.5 L278.5 572.6 L280.0 573.8 L281.5 574.9 L283.0 576.1 L284.5 577.2 L286.0 578.2 L287.5 579.2 L289.0 580.2 L290.5 581.0 L292.0 581.8 L293.5 582.5 L295.0 583.2 L296.5 583.8 L298.0 584.4 L299.5 585.1 L301.0 585.8 L302.5 586.7 L304.0 587.7 L305.5 588.8 L307.0 590.0 L308.5 591.4 L310.0 592.9 L311.5 594.5 L313.0 596.3 L314.5 598.1 L316.0 600.0 L317.5 601.9 L319.0 603.7 L320.5 605.4 L322.0 607.0 L323.5 608.4 L325.0 609.5 L326.5 610.5 L328.0 611.3 L329.5 611.9 L331.0 612.2 L332.5 612.3 L334.0 612.2 L335.5 612.0 L337.0 611.6 L338.5 611.1 L340.0 610.4 L341.5 609.7 L343.0 609.0 L344.5 608.1 L346.0 607.3 L347.5 606.4 L349.0 605.6 L350.5 604.7 L352.0 604.0 L353.5 603.3 L355.0 602.7 L356.5 602.1 L358.0 601.6 L359.5 601.2 L361.0 600.9 L362.5 600.6 L364.0 600.3 L365.5 600.0 L367.0 599.7 L368.5 599.4 L370.0 599.0 L371.5 598.7 L373.0 598.3 L374.5 597.9 L376.0 597.4 L377.5 596.9 L379.0 596.4 L380.5 595.9 L382.0 595.4 L383.5 594.8 L385.0 594.2 L386.5 593.5 L388.0 592.7 L389.5 591.9 L391.0 591.0 L392.5 590.1 L394.0 589.1 L395.5 588.1 L397.0 587.0 L398.5 585.9 L400.0 584.9 L401.5 583.9 L403.0 582.9 L404.5 582.0 L406.0 581.1 L407.5 580.3 L409.0 579.6 L410.5 578.9 L412.0 578.2 L413.5 577.6 L415.0 576.9 L416.5 576.3 L418.0 575.6 L419.5 574.9 L421.0 574.2 L422.5 573.4 L424.0 572.5 L425.5 571.5 L427.0 570.4 L428.5 569.2 L430.0 567.9 L431.5 566.6 L433.0 565.2 L434.5 563.8 L436.0 562.4 L437.5 561.0 L439.0 559.6 L440.5 558.3 L442.0 557.1 L443.5 556.1 L445.0 555.2 L446.5 554.5 L448.0 554.0 L449.5 553.8 L451.0 553.8 L452.5 554.0 L454.0 554.4 L455.5 555.1 L457.0 555.9 L458.5 556.9 L460.0 558.1 L461.5 559.4 L463.0 560.9 L464.5 562.4 L466.0 564.0 L467.5 565.7 L469.0 567.5 L470.5 569.3 L472.0 571.3 L473.5 573.3 L475.0 575.3 L476.5 577.4 L478.0 579.5 L479.5 581.6 L481.0 583.6 L482.5 585.4 L484.0 587.1 L485.5 588.6 L487.0 589.8 L488.5 590.8 L490.0 591.5 L491.5 591.8 L493.0 591.9 L494.5 591.7 L496.0 591.2 L497.5 590.4 L499.0 589.4 L500.5 588.2 L502.0 586.8 L503.5 585.4 L505.0 584.0 L506.5 582.7 L508.0 581.4 L509.5 580.2 L511.0 579.1 L512.5 578.2 L514.0 577.4 L515.5 576.8 L517.0 576.2 L518.5 575.7 L520.0 575.2 L521.5 574.8 L523.0 574.3 L524.5 573.7 L526.0 573.1 L527.5 572.4 L529.0 571.6 L530.5 570.8 L532.0 569.9 L533.5 569.0 L535.0 568.1 L536.5 567.3 L538.0 566.6 L539.5 566.1 L541.0 565.8 L542.5 565.6 L544.0 565.7 L545.5 566.0 L547.0 566.5 L548.5 567.1 L550.0 567.9 L551.5 568.8 L553.0 569.7 L554.5 570.6 L556.0 571.5 L557.5 572.2 L559.0 572.8 L560.5 573.2 L562.0 573.4 L563.5 573.5 L565.0 573.3 L566.5 573.0 L568.0 572.6 L569.5 572.0 L571.0 571.2 L572.5 570.3 L574.0 569.4 L575.5 568.4 L577.0 567.3 L578.5 566.3 L580.0 565.2 L581.5 564.1 L583.0 563.0 L584.5 561.9 L586.0 560.9 L587.5 559.9 L589.0 559.0 L590.5 558.2 L592.0 557.4 L593.5 556.7 L595.0 556.0 L596.5 555.4 L598.0 554.8 L599.5 554.3 L601.0 553.8 L602.5 553.4 L604.0 552.9 L605.5 552.5 L607.0 552.0 L608.5 551.6 L610.0 551.2 L611.5 550.8 L613.0 550.4 L614.5 550.2 L616.0 549.9 L617.5 549.8 L619.0 549.7 L620.5 549.7 L622.0 549.7 L623.5 549.8 L625.0 549.9 L626.5 550.0 L628.0 550.2 L629.5 550.4 L631.0 550.6 L632.5 550.8 L634.0 550.9 L635.5 551.1 L637.0 551.2 L638.5 551.4 L640.0 551.6 L641.5 551.8 L643.0 552.1 L644.5 552.4 L646.0 552.8 L647.5 553.2 L649.0 553.8 L650.5 554.5 L652.0 555.2 L653.5 556.0 L655.0 556.9 L656.5 557.9 L658.0 558.8 L659.5 559.9 L661.0 560.9 L662.5 561.9 L664.0 562.9 L665.5 563.8 L667.0 564.6 L668.5 565.4 L670.0 566.0 L671.5 566.6 L673.0 567.0 L674.5 567.4 L676.0 567.6 L677.5 567.6 L679.0 567.5 L680.5 567.3 L682.0 566.9 L683.5 566.4 L685.0 565.7 L686.5 565.0 L688.0 564.1 L689.5 563.1 L691.0 562.1 L692.5 561.0 L694.0 559.9 L695.5 558.9 L697.0 557.8 L698.5 556.8 L700.0 555.8 L701.5 554.9 L703.0 554.0 L704.5 553.3 L706.0 552.6 L707.5 552.1 L709.0 551.7 L710.5 551.4 L712.0 551.3 L713.5 551.3 L715.0 551.4 L716.5 551.6 L718.0 551.9 L719.5 552.3 L721.0 552.7 L722.5 553.2 L724.0 553.8 L725.5 554.3 L727.0 554.9 L728.5 555.4 L730.0 556.0 L731.5 556.6 L733.0 557.1 L734.5 557.7 L736.0 558.3 L737.5 558.8 L739.0 559.4 L740.5 559.9 L742.0 560.4 L743.5 560.9 L745.0 561.4 L746.5 561.8 L748.0 562.1 L749.5 562.4 L751.0 562.6 L752.5 562.6 L754.0 562.5 L755.5 562.3 L757.0 561.9 L758.5 561.5 L760.0 560.9 L761.5 560.3 L763.0 559.7 L764.5 559.2 L766.0 558.8 L767.5 558.5 L769.0 558.4 L770.5 558.4 L772.0 558.5 L773.5 558.8 L775.0 559.2 L776.5 559.7 L778.0 560.2 L779.5 560.7 L781.0 561.2 L782.5 561.5 L784.0 561.7 L785.5 561.6 L787.0 561.4 L788.5 560.9 L790.0 560.3 L791.5 559.5 L793.0 558.6 L794.5 557.5 L796.0 556.4 L797.5 555.2 L799.0 554.0 L800.5 552.9 L802.0 551.9 L803.5 551.0 L805.0 550.3 L806.5 549.7 L808.0 549.2 L809.5 548.9 L811.0 548.7 L812.5 548.6 L814.0 548.6 L815.5 548.7 L817.0 548.9 L818.5 549.2 L820.0 549.5 L821.5 549.9 L823.0 550.4 L824.5 551.0 L826.0 551.6 L827.5 552.4 L829.0 553.4 L830.5 554.4 L832.0 555.6 L833.5 556.9 L835.0 558.3 L836.5 559.7 L838.0 561.2 L839.5 562.6 L841.0 564.0 L842.5 565.1 L844.0 566.1 L845.5 566.9 L847.0 567.5 L848.5 567.7 L850.0 567.6 L851.5 567.2 L853.0 566.5 L854.5 565.5 L856.0 564.4 L857.5 563.1 L859.0 561.7 L860.5 560.3 L862.0 558.9 L863.5 557.6 L865.0 556.4 L866.5 555.2 L868.0 554.3 L869.5 553.5 L871.0 552.8 L872.5 552.2 L874.0 551.7 L875.5 551.3 L877.0 551.0 L878.5 550.7 L880.0 550.5 L881.5 550.2 L883.0 550.0 L884.5 549.8 L886.0 549.6 L887.5 549.4 L889.0 549.2 L890.5 549.0 L892.0 548.9 L893.5 548.8 L895.0 548.8 L896.5 548.8 L898.0 548.8 L899.5 548.9 L901.0 549.0 L902.5 549.2 L904.0 549.4 L905.5 549.5 L907.0 549.7 L908.5 549.9 L910.0 550.1 L911.5 550.2 L913.0 550.3 L914.5 550.4 L916.0 550.4 L917.5 550.5 L919.0 550.4 L920.5 550.4 L922.0 550.4 L923.5 550.4" stroke="#1a1a1a" stroke-width="2.6" stroke-dasharray="5 3.5" fill="none"/>
<path d="M23.0 593.0 L28.2 587.8" stroke="#000" stroke-width="1.5" fill="none" stroke-linejoin="round"/>
<path d="M28.2 587.8 L35.0 590.8 L42.5 595.2" stroke="#e81818" stroke-width="1.5" fill="none" stroke-linejoin="round"/>
<path d="M42.5 595.2 L48.5 595.2 L54.5 581.0 L60.5 566.0 L66.5 557.8 L74.0 553.2" stroke="#000" stroke-width="1.5" fill="none" stroke-linejoin="round"/>
<path d="M74.0 553.2 L80.0 558.5 L87.5 570.5 L93.5 573.5 L99.5 579.5 L105.5 581.0 L113.8 583.2" stroke="#e81818" stroke-width="1.5" fill="none" stroke-linejoin="round"/>
<path d="M113.8 583.2 L119.8 572.0 L125.0 563.0 L131.0 554.0 L137.0 550.2 L144.5 548.8 L161.0 548.0" stroke="#000" stroke-width="1.5" fill="none" stroke-linejoin="round"/>
<path d="M161.0 548.0 L164.0 551.0 L174.5 555.5" stroke="#e81818" stroke-width="1.5" fill="none" stroke-linejoin="round"/>
<path d="M174.5 555.5 L180.5 552.5 L186.5 549.5" stroke="#000" stroke-width="1.5" fill="none" stroke-linejoin="round"/>
<path d="M186.5 549.5 L192.5 557.0 L200.0 570.5 L207.5 586.2" stroke="#e81818" stroke-width="1.5" fill="none" stroke-linejoin="round"/>
<path d="M207.5 586.2 L213.5 581.0" stroke="#000" stroke-width="1.5" fill="none" stroke-linejoin="round"/>
<path d="M213.5 581.0 L219.5 584.0" stroke="#e81818" stroke-width="1.5" fill="none" stroke-linejoin="round"/>
<path d="M219.5 584.0 L225.5 572.0 L230.0 565.2 L236.0 561.5 L240.5 560.8" stroke="#000" stroke-width="1.5" fill="none" stroke-linejoin="round"/>
<path d="M240.5 560.8 L246.5 566.0 L250.0 571.2 L262.0 592.0 L274.0 614.0" stroke="#e81818" stroke-width="1.5" fill="none" stroke-linejoin="round"/>
<path d="M274.0 614.0 L286.0 609.5 L293.5 608.8" stroke="#000" stroke-width="1.5" fill="none" stroke-linejoin="round"/>
<path d="M293.5 608.8 L301.0 621.5 L314.5 635.0" stroke="#e81818" stroke-width="1.5" fill="none" stroke-linejoin="round"/>
<path d="M314.5 635.0 L326.5 622.2 L334.0 605.0 L341.5 594.5 L349.0 578.0 L356.5 563.0 L364.0 552.5 L373.0 548.8" stroke="#000" stroke-width="1.5" fill="none" stroke-linejoin="round"/>
<path d="M373.0 548.8 L379.0 549.5" stroke="#e81818" stroke-width="1.5" fill="none" stroke-linejoin="round"/>
<path d="M379.0 549.5 L386.5 547.2" stroke="#000" stroke-width="1.5" fill="none" stroke-linejoin="round"/>
<path d="M386.5 547.2 L392.5 547.7 L400.0 554.0 L412.0 555.5" stroke="#e81818" stroke-width="1.5" fill="none" stroke-linejoin="round"/>
<path d="M412.0 555.5 L419.5 551.0 L427.0 550.2" stroke="#000" stroke-width="1.5" fill="none" stroke-linejoin="round"/>
<path d="M427.0 550.2 L433.0 551.0" stroke="#e81818" stroke-width="1.5" fill="none" stroke-linejoin="round"/>
<path d="M433.0 551.0 L439.0 549.5" stroke="#000" stroke-width="1.5" fill="none" stroke-linejoin="round"/>
<path d="M439.0 549.5 L445.0 561.5 L452.5 585.5 L460.0 608.0 L475.0 623.8" stroke="#e81818" stroke-width="1.5" fill="none" stroke-linejoin="round"/>
<path d="M475.0 623.8 L484.0 617.0 L490.0 605.0 L495.0 593.0 L504.0 579.5 L513.0 566.0 L520.5 557.0 L526.5 553.2" stroke="#000" stroke-width="1.5" fill="none" stroke-linejoin="round"/>
<path d="M526.5 553.2 L531.8 554.0 L537.0 564.5 L546.0 595.2 L552.8 599.8" stroke="#e81818" stroke-width="1.5" fill="none" stroke-linejoin="round"/>
<path d="M552.8 599.8 L561.0 585.5 L568.5 569.0 L576.0 558.5 L579.8 554.8 L585.0 554.8 L592.5 552.5 L600.0 550.2 L607.5 548.0" stroke="#000" stroke-width="1.5" fill="none" stroke-linejoin="round"/>
<path d="M607.5 548.0 L615.0 552.5 L622.5 558.5 L637.5 562.2 L642.0 567.5 L649.5 584.0 L660.0 600.5" stroke="#e81818" stroke-width="1.5" fill="none" stroke-linejoin="round"/>
<path d="M660.0 600.5 L666.0 600.5" stroke="#000" stroke-width="1.5" fill="none" stroke-linejoin="round"/>
<path d="M666.0 600.5 L672.0 602.0" stroke="#e81818" stroke-width="1.5" fill="none" stroke-linejoin="round"/>
<path d="M672.0 602.0 L678.0 593.0 L684.0 573.5 L690.0 561.5 L699.0 550.2" stroke="#000" stroke-width="1.5" fill="none" stroke-linejoin="round"/>
<path d="M699.0 550.2 L709.0 557.0 L716.5 567.5 L725.5 579.5 L731.5 594.5 L739.0 603.5" stroke="#e81818" stroke-width="1.5" fill="none" stroke-linejoin="round"/>
<path d="M739.0 603.5 L745.0 602.0 L751.0 584.0 L757.8 572.0" stroke="#000" stroke-width="1.5" fill="none" stroke-linejoin="round"/>
<path d="M757.8 572.0 L764.5 583.2" stroke="#e81818" stroke-width="1.5" fill="none" stroke-linejoin="round"/>
<path d="M764.5 583.2 L770.5 580.2" stroke="#000" stroke-width="1.5" fill="none" stroke-linejoin="round"/>
<path d="M770.5 580.2 L777.2 581.0" stroke="#e81818" stroke-width="1.5" fill="none" stroke-linejoin="round"/>
<path d="M777.2 581.0 L781.0 575.0 L785.5 559.2 L793.0 551.0 L799.0 548.0" stroke="#000" stroke-width="1.5" fill="none" stroke-linejoin="round"/>
<path d="M799.0 548.0 L805.0 550.2 L814.0 554.0 L820.0 561.5 L826.0 581.0 L832.0 603.5 L838.8 612.5" stroke="#e81818" stroke-width="1.5" fill="none" stroke-linejoin="round"/>
<path d="M838.8 612.5 L844.8 596.0 L851.5 569.0 L859.0 560.8 L869.5 555.5 L877.0 550.2 L884.5 548.0" stroke="#000" stroke-width="1.5" fill="none" stroke-linejoin="round"/>
<path d="M884.5 548.0 L892.0 554.0 L901.0 555.5" stroke="#e81818" stroke-width="1.5" fill="none" stroke-linejoin="round"/>
<path d="M901.0 555.5 L910.0 555.5 L917.5 549.5" stroke="#000" stroke-width="1.5" fill="none" stroke-linejoin="round"/>
<path d="M917.5 549.5 L923.5 557.0" stroke="#e81818" stroke-width="1.5" fill="none" stroke-linejoin="round"/>
<path d="M23.0 565.2 L29.0 564.5" stroke="#0c0c9c" stroke-width="4" fill="none" stroke-linejoin="round" stroke-linecap="butt"/>
<path d="M29.0 564.5 L39.5 569.0 L47.8 571.2" stroke="#f01010" stroke-width="4" fill="none" stroke-linejoin="round" stroke-linecap="butt"/>
<path d="M47.8 571.2 L54.5 565.2 L62.0 557.0 L68.0 552.5 L74.0 551.8" stroke="#0c0c9c" stroke-width="4" fill="none" stroke-linejoin="round" stroke-linecap="butt"/>
<path d="M74.0 551.8 L80.0 555.5 L87.5 558.5 L101.0 560.8" stroke="#f01010" stroke-width="4" fill="none" stroke-linejoin="round" stroke-linecap="butt"/>
<path d="M101.0 560.8 L114.5 558.5 L122.0 553.2 L131.0 550.2 L144.5 548.0 L161.0 547.5" stroke="#0c0c9c" stroke-width="4" fill="none" stroke-linejoin="round" stroke-linecap="butt"/>
<path d="M161.0 547.5 L170.0 550.2 L179.0 551.8" stroke="#f01010" stroke-width="4" fill="none" stroke-linejoin="round" stroke-linecap="butt"/>
<path d="M179.0 551.8 L186.5 549.5" stroke="#0c0c9c" stroke-width="4" fill="none" stroke-linejoin="round" stroke-linecap="butt"/>
<path d="M186.5 549.5 L194.0 555.5 L201.5 563.0 L207.5 569.8" stroke="#f01010" stroke-width="4" fill="none" stroke-linejoin="round" stroke-linecap="butt"/>
<path d="M207.5 569.8 L219.5 564.5 L227.0 557.0 L239.0 554.8" stroke="#0c0c9c" stroke-width="4" fill="none" stroke-linejoin="round" stroke-linecap="butt"/>
<path d="M239.0 554.8 L248.0 559.2 L250.0 562.2 L265.0 570.5 L274.0 579.5 L286.0 584.8 L293.5 586.2 L301.0 596.0 L314.5 614.0" stroke="#f01010" stroke-width="4" fill="none" stroke-linejoin="round" stroke-linecap="butt"/>
<path d="M314.5 614.0 L328.0 611.8 L337.0 605.0 L346.0 600.5" stroke="#0c0c9c" stroke-width="4" fill="none" stroke-linejoin="round" stroke-linecap="butt"/>
<path d="M346.0 600.5 L353.5 600.6" stroke="#f01010" stroke-width="4" fill="none" stroke-linejoin="round" stroke-linecap="butt"/>
<path d="M353.5 600.6 L364.0 597.5 L377.5 593.0 L392.5 581.0 L412.0 573.5 L419.5 567.5 L427.0 558.5 L439.0 550.2" stroke="#0c0c9c" stroke-width="4" fill="none" stroke-linejoin="round" stroke-linecap="butt"/>
<path d="M439.0 550.2 L452.5 561.5 L460.0 570.5 L475.0 593.0 L478.8 594.5" stroke="#f01010" stroke-width="4" fill="none" stroke-linejoin="round" stroke-linecap="butt"/>
<path d="M478.8 594.5 L485.5 592.2 L490.0 588.5 L498.0 576.5 L507.0 576.4 L519.0 571.2 L531.8 561.5" stroke="#0c0c9c" stroke-width="4" fill="none" stroke-linejoin="round" stroke-linecap="butt"/>
<path d="M531.8 561.5 L537.0 567.5 L546.0 573.5 L552.8 575.8" stroke="#f01010" stroke-width="4" fill="none" stroke-linejoin="round" stroke-linecap="butt"/>
<path d="M552.8 575.8 L561.0 570.5 L568.5 564.5 L576.0 560.0 L579.8 555.5 L588.0 554.8 L597.0 551.0 L607.5 548.8" stroke="#0c0c9c" stroke-width="4" fill="none" stroke-linejoin="round" stroke-linecap="butt"/>
<path d="M607.5 548.8 L615.0 550.2 L637.5 552.5 L649.5 561.5 L660.0 568.2" stroke="#f01010" stroke-width="4" fill="none" stroke-linejoin="round" stroke-linecap="butt"/>
<path d="M660.0 568.2 L666.0 568.2" stroke="#0c0c9c" stroke-width="4" fill="none" stroke-linejoin="round" stroke-linecap="butt"/>
<path d="M666.0 568.2 L672.0 568.2" stroke="#f01010" stroke-width="4" fill="none" stroke-linejoin="round" stroke-linecap="butt"/>
<path d="M672.0 568.2 L679.5 561.5 L690.0 554.0 L699.0 549.5" stroke="#0c0c9c" stroke-width="4" fill="none" stroke-linejoin="round" stroke-linecap="butt"/>
<path d="M699.0 549.5 L709.0 552.5 L722.5 557.8 L739.0 563.8" stroke="#f01010" stroke-width="4" fill="none" stroke-linejoin="round" stroke-linecap="butt"/>
<path d="M739.0 563.8 L746.5 563.0 L757.8 554.8" stroke="#0c0c9c" stroke-width="4" fill="none" stroke-linejoin="round" stroke-linecap="butt"/>
<path d="M757.8 554.8 L764.5 560.8 L778.0 563.8" stroke="#f01010" stroke-width="4" fill="none" stroke-linejoin="round" stroke-linecap="butt"/>
<path d="M778.0 563.8 L784.0 555.5 L793.0 548.8 L799.0 547.7" stroke="#0c0c9c" stroke-width="4" fill="none" stroke-linejoin="round" stroke-linecap="butt"/>
<path d="M799.0 547.7 L814.0 550.2 L823.0 557.0 L832.0 569.0 L838.8 570.5" stroke="#f01010" stroke-width="4" fill="none" stroke-linejoin="round" stroke-linecap="butt"/>
<path d="M838.8 570.5 L844.8 565.2 L851.5 555.5 L859.0 551.8 L869.5 550.2 L884.5 548.0" stroke="#0c0c9c" stroke-width="4" fill="none" stroke-linejoin="round" stroke-linecap="butt"/>
<path d="M884.5 548.0 L892.0 549.5 L905.5 551.0" stroke="#f01010" stroke-width="4" fill="none" stroke-linejoin="round" stroke-linecap="butt"/>
<path d="M905.5 551.0 L917.5 549.5" stroke="#0c0c9c" stroke-width="4" fill="none" stroke-linejoin="round" stroke-linecap="butt"/>
<path d="M917.5 549.5 L923.5 551.8" stroke="#f01010" stroke-width="4" fill="none" stroke-linejoin="round" stroke-linecap="butt"/>
<polygon points="44.6,599.2 51.8,599.2 48.2,592.0" fill="#0808c8"/>
<polygon points="117.7,582.0 124.8,582.0 121.2,574.8" fill="#0808c8"/>
<polygon points="177.7,559.5 184.8,559.5 181.2,552.3" fill="#0808c8"/>
<polygon points="210.7,588.0 217.8,588.0 214.2,580.8" fill="#0808c8"/>
<polygon points="224.2,578.2 231.3,578.2 227.8,571.0" fill="#0808c8"/>
<polygon points="276.4,618.0 283.6,618.0 280.0,610.8" fill="#0808c8"/>
<polygon points="316.9,635.2 324.1,635.2 320.5,628.0" fill="#0808c8"/>
<polygon points="382.9,553.5 390.1,553.5 386.5,546.3" fill="#0808c8"/>
<polygon points="416.6,557.2 423.9,557.2 420.2,550.0" fill="#0808c8"/>
<polygon points="475.9,627.0 483.1,627.0 479.5,619.8" fill="#0808c8"/>
<polygon points="555.9,598.5 563.1,598.5 559.5,591.3" fill="#0808c8"/>
<polygon points="596.4,558.7 603.6,558.7 600.0,551.5" fill="#0808c8"/>
<polygon points="661.6,604.5 668.9,604.5 665.2,597.3" fill="#0808c8"/>
<polygon points="675.9,599.2 683.1,599.2 679.5,592.0" fill="#0808c8"/>
<polygon points="741.4,606.7 748.6,606.7 745.0,599.5" fill="#0808c8"/>
<polygon points="768.1,585.7 775.3,585.7 771.7,578.5" fill="#0808c8"/>
<polygon points="781.9,576.0 789.1,576.0 785.5,568.8" fill="#0808c8"/>
<polygon points="841.1,607.5 848.4,607.5 844.8,600.3" fill="#0808c8"/>
<polygon points="907.9,559.5 915.1,559.5 911.5,552.3" fill="#0808c8"/>
<polygon points="30.6,586.0 37.9,586.0 34.2,593.2" fill="#b00808"/>
<polygon points="77.9,554.5 85.1,554.5 81.5,561.7" fill="#b00808"/>
<polygon points="191.2,553.8 198.3,553.8 194.8,561.0" fill="#b00808"/>
<polygon points="216.7,577.0 223.8,577.0 220.2,584.2" fill="#b00808"/>
<polygon points="244.4,561.3 251.6,561.3 248.0,568.5" fill="#b00808"/>
<polygon points="296.6,610.8 303.9,610.8 300.2,618.0" fill="#b00808"/>
<polygon points="376.1,546.3 383.4,546.3 379.8,553.5" fill="#b00808"/>
<polygon points="396.4,547.8 403.6,547.8 400.0,555.0" fill="#b00808"/>
<polygon points="430.1,547.8 437.4,547.8 433.8,555.0" fill="#b00808"/>
<polygon points="528.9,550.0 536.1,550.0 532.5,557.2" fill="#b00808"/>
<polygon points="582.9,551.5 590.1,551.5 586.5,558.7" fill="#b00808"/>
<polygon points="608.4,546.3 615.6,546.3 612.0,553.5" fill="#b00808"/>
<polygon points="668.4,597.3 675.6,597.3 672.0,604.5" fill="#b00808"/>
<polygon points="702.9,550.0 710.1,550.0 706.5,557.2" fill="#b00808"/>
<polygon points="701.6,550.0 708.9,550.0 705.2,557.2" fill="#b00808"/>
<polygon points="760.9,573.3 768.1,573.3 764.5,580.5" fill="#b00808"/>
<polygon points="774.4,577.0 781.6,577.0 778.0,584.2" fill="#b00808"/>
<polygon points="801.4,547.0 808.6,547.0 805.0,554.2" fill="#b00808"/>
<polygon points="886.9,547.8 894.1,547.8 890.5,555.0" fill="#b00808"/>
<polygon points="920.6,553.8 927.9,553.8 924.2,561.0" fill="#b00808"/>
</g>
<g clip-path="url(#cP2)">
<rect x="17.64" y="644.5" width="13.28" height="67.5" fill="#c4c4f8"/>
<rect x="37.55" y="644.5" width="33.19" height="67.5" fill="#c4c4f8"/>
<rect x="90.65" y="644.5" width="6.64" height="67.5" fill="#c4c4f8"/>
<rect x="103.93" y="644.5" width="33.19" height="67.5" fill="#c4c4f8"/>
<rect x="170.30" y="644.5" width="19.91" height="67.5" fill="#c4c4f8"/>
<rect x="196.85" y="644.5" width="6.64" height="67.5" fill="#c4c4f8"/>
<rect x="210.13" y="644.5" width="6.64" height="67.5" fill="#c4c4f8"/>
<rect x="223.40" y="644.5" width="6.64" height="67.5" fill="#c4c4f8"/>
<rect x="263.23" y="644.5" width="6.64" height="67.5" fill="#c4c4f8"/>
<rect x="269.87" y="644.5" width="6.64" height="67.5" fill="#c46a6a"/>
<rect x="276.50" y="644.5" width="6.64" height="67.5" fill="#62b662"/>
<rect x="283.14" y="644.5" width="6.64" height="67.5" fill="#c4c4f8"/>
<rect x="289.78" y="644.5" width="6.64" height="67.5" fill="#c46a6a"/>
<rect x="296.42" y="644.5" width="6.64" height="67.5" fill="#ffa6a6"/>
<rect x="309.69" y="644.5" width="6.64" height="67.5" fill="#ffa6a6"/>
<rect x="322.97" y="644.5" width="6.64" height="67.5" fill="#ffa6a6"/>
<rect x="336.24" y="644.5" width="6.64" height="67.5" fill="#ffa6a6"/>
<rect x="349.52" y="644.5" width="6.64" height="67.5" fill="#ffa6a6"/>
<rect x="382.70" y="644.5" width="6.64" height="67.5" fill="#62b662"/>
<rect x="389.34" y="644.5" width="6.64" height="67.5" fill="#c4c4f8"/>
<rect x="402.62" y="644.5" width="26.55" height="67.5" fill="#c4c4f8"/>
<rect x="435.80" y="644.5" width="6.64" height="67.5" fill="#c4c4f8"/>
<rect x="462.35" y="644.5" width="6.64" height="67.5" fill="#c46a6a"/>
<rect x="468.99" y="644.5" width="6.64" height="67.5" fill="#ffa6a6"/>
<rect x="482.27" y="644.5" width="6.64" height="67.5" fill="#62b662"/>
<rect x="488.90" y="644.5" width="13.28" height="67.5" fill="#c4c4f8"/>
<rect x="508.82" y="644.5" width="26.55" height="67.5" fill="#c4c4f8"/>
<rect x="542.00" y="644.5" width="13.28" height="67.5" fill="#c4c4f8"/>
<rect x="561.92" y="644.5" width="19.91" height="67.5" fill="#c4c4f8"/>
<rect x="588.47" y="644.5" width="13.28" height="67.5" fill="#c4c4f8"/>
<rect x="608.38" y="644.5" width="6.64" height="67.5" fill="#c4c4f8"/>
<rect x="621.65" y="644.5" width="13.28" height="67.5" fill="#c4c4f8"/>
<rect x="648.20" y="644.5" width="6.64" height="67.5" fill="#c4c4f8"/>
<rect x="668.12" y="644.5" width="19.91" height="67.5" fill="#c4c4f8"/>
<rect x="694.67" y="644.5" width="6.64" height="67.5" fill="#c4c4f8"/>
<rect x="714.58" y="644.5" width="6.64" height="67.5" fill="#c4c4f8"/>
<rect x="734.49" y="644.5" width="13.28" height="67.5" fill="#c4c4f8"/>
<rect x="754.40" y="644.5" width="6.64" height="67.5" fill="#c4c4f8"/>
<rect x="767.68" y="644.5" width="26.55" height="67.5" fill="#c4c4f8"/>
<rect x="807.50" y="644.5" width="6.64" height="67.5" fill="#c4c4f8"/>
<rect x="834.05" y="644.5" width="19.91" height="67.5" fill="#c4c4f8"/>
<rect x="860.60" y="644.5" width="13.27" height="67.5" fill="#c4c4f8"/>
<rect x="880.52" y="644.5" width="6.64" height="67.5" fill="#c4c4f8"/>
<rect x="900.43" y="644.5" width="6.64" height="67.5" fill="#c4c4f8"/>
<rect x="913.70" y="644.5" width="6.64" height="67.5" fill="#c4c4f8"/>
<polygon points="22.0,665.4 22.0,659.5 23.0,659.5 24.0,659.5 25.0,659.5 26.0,659.5 27.0,659.5 28.0,660.3 29.0,661.9 30.0,663.5 31.0,665.1 32.0,665.4 33.0,665.4 34.0,665.4 35.0,665.4 36.0,665.4 37.0,665.4 38.0,665.4 39.0,665.4 40.0,665.4 41.0,665.4 42.0,665.4 43.0,665.4 44.0,665.4 45.0,665.4 46.0,665.1 47.0,664.4 48.0,663.6 49.0,663.2 50.0,663.1 51.0,662.9 52.0,662.8 53.0,662.7 54.0,662.6 55.0,661.9 56.0,660.8 57.0,659.6 58.0,658.4 59.0,657.2 60.0,656.9 61.0,656.6 62.0,656.3 63.0,656.0 64.0,655.6 65.0,655.3 66.0,655.0 67.0,655.3 68.0,655.6 69.0,655.9 70.0,656.1 71.0,656.4 72.0,656.7 73.0,657.0 74.0,657.4 75.0,657.7 76.0,658.1 77.0,658.4 78.0,658.8 79.0,659.1 80.0,659.5 81.0,659.7 82.0,659.9 83.0,660.1 84.0,660.3 85.0,660.5 86.0,660.7 87.0,660.9 88.0,660.8 89.0,660.2 90.0,659.8 91.0,659.2 92.0,658.8 93.0,658.2 94.0,658.4 95.0,659.2 96.0,660.0 97.0,660.8 98.0,661.6 99.0,662.4 100.0,663.2 101.0,664.0 102.0,663.1 103.0,662.2 104.0,661.4 105.0,660.5 106.0,659.6 107.0,658.8 108.0,658.3 109.0,657.9 110.0,657.5 111.0,657.1 112.0,656.7 113.0,656.2 114.0,655.8 115.0,655.4 116.0,655.0 117.0,654.7 118.0,654.3 119.0,654.0 120.0,653.7 121.0,653.3 122.0,653.0 123.0,652.7 124.0,652.3 125.0,652.0 126.0,651.9 127.0,651.8 128.0,651.7 129.0,651.6 130.0,651.5 131.0,651.4 132.0,651.3 133.0,651.2 134.0,651.1 135.0,651.0 136.0,650.9 137.0,650.8 138.0,650.8 139.0,650.8 140.0,650.8 141.0,650.8 142.0,650.8 143.0,650.8 144.0,650.8 145.0,650.8 146.0,650.8 147.0,650.8 148.0,650.8 149.0,650.8 150.0,650.8 151.0,650.8 152.0,650.8 153.0,650.8 154.0,650.8 155.0,650.8 156.0,651.1 157.0,651.3 158.0,651.6 159.0,651.8 160.0,652.1 161.0,652.4 162.0,652.6 163.0,653.0 164.0,653.5 165.0,654.0 166.0,654.5 167.0,655.0 168.0,655.5 169.0,655.7 170.0,655.6 171.0,655.4 172.0,655.3 173.0,655.2 174.0,655.1 175.0,654.8 176.0,654.2 177.0,653.8 178.0,653.2 179.0,652.8 180.0,652.2 181.0,651.9 182.0,651.5 183.0,651.2 184.0,651.0 185.0,650.7 186.0,650.4 187.0,651.6 188.0,654.3 189.0,657.1 190.0,659.8 191.0,662.5 192.0,665.3 193.0,665.4 194.0,665.4 195.0,665.4 196.0,665.4 197.0,665.4 198.0,665.4 199.0,665.4 200.0,665.4 201.0,664.5 202.0,664.2 203.0,664.8 204.0,665.2 205.0,665.4 206.0,665.4 207.0,665.4 208.0,665.4 209.0,665.4 210.0,664.8 211.0,663.9 212.0,663.0 213.0,662.0 214.0,661.1 215.0,660.2 216.0,660.7 217.0,661.1 218.0,661.5 219.0,662.0 220.0,662.4 221.0,661.2 222.0,659.4 223.0,657.6 224.0,655.8 225.0,654.1 226.0,652.3 227.0,650.5 228.0,651.2 229.0,652.0 230.0,652.8 231.0,653.5 232.0,654.2 233.0,655.0 234.0,655.7 235.0,656.4 236.0,657.1 237.0,657.8 238.0,658.5 239.0,659.2 240.0,659.9 241.0,660.4 242.0,660.5 243.0,660.8 244.0,661.0 245.0,661.1 246.0,661.4 247.0,661.5 248.0,661.8 249.0,662.3 250.0,662.8 251.0,663.3 252.0,663.8 253.0,664.4 254.0,664.9 255.0,665.4 256.0,665.4 257.0,665.4 258.0,665.4 259.0,665.4 260.0,665.4 261.0,665.4 262.0,665.4 263.0,665.4 264.0,665.4 265.0,665.4 266.0,665.4 267.0,665.4 268.0,665.4 269.0,665.4 270.0,665.4 271.0,665.4 272.0,665.4 273.0,665.4 274.0,665.4 275.0,665.4 276.0,665.4 277.0,665.4 278.0,665.4 279.0,665.4 280.0,665.4 281.0,665.4 282.0,665.4 283.0,665.4 284.0,665.4 285.0,665.4 286.0,665.4 287.0,665.4 288.0,665.4 289.0,665.4 290.0,665.4 291.0,665.4 292.0,665.4 293.0,665.4 294.0,665.4 295.0,665.4 296.0,665.4 297.0,665.4 298.0,665.4 299.0,665.4 300.0,665.4 301.0,665.4 302.0,665.4 303.0,665.4 304.0,665.4 305.0,665.4 306.0,665.4 307.0,665.4 308.0,665.4 309.0,665.4 310.0,665.4 311.0,665.4 312.0,665.4 313.0,665.4 314.0,665.4 315.0,665.4 316.0,665.4 317.0,665.4 318.0,665.4 319.0,665.4 320.0,665.4 321.0,665.4 322.0,665.4 323.0,665.4 324.0,665.4 325.0,665.4 326.0,665.4 327.0,665.4 328.0,665.4 329.0,665.4 330.0,665.4 331.0,665.4 332.0,665.4 333.0,665.4 334.0,665.4 335.0,665.4 336.0,665.4 337.0,665.4 338.0,665.4 339.0,665.4 340.0,665.4 341.0,665.4 342.0,665.4 343.0,665.4 344.0,665.4 345.0,665.4 346.0,665.4 347.0,665.4 348.0,665.4 349.0,665.4 350.0,665.4 351.0,665.4 352.0,665.4 353.0,665.4 354.0,665.4 355.0,665.4 356.0,665.4 357.0,665.4 358.0,665.4 359.0,665.4 360.0,665.4 361.0,665.4 362.0,665.4 363.0,665.4 364.0,665.4 365.0,665.4 366.0,665.4 367.0,665.4 368.0,665.4 369.0,665.4 370.0,665.4 371.0,665.4 372.0,665.4 373.0,665.4 374.0,665.4 375.0,665.4 376.0,665.4 377.0,665.4 378.0,665.4 379.0,665.4 380.0,665.4 381.0,665.4 382.0,665.4 383.0,665.4 384.0,665.4 385.0,665.4 386.0,665.4 387.0,665.4 388.0,665.4 389.0,665.4 390.0,665.4 391.0,665.4 392.0,665.4 393.0,665.4 394.0,665.4 395.0,665.4 396.0,665.4 397.0,665.4 398.0,665.4 399.0,665.4 400.0,665.4 401.0,665.4 402.0,665.4 403.0,665.4 404.0,665.4 405.0,665.4 406.0,665.4 407.0,665.4 408.0,665.4 409.0,665.4 410.0,665.4 411.0,665.4 412.0,665.4 413.0,665.4 414.0,664.9 415.0,664.4 416.0,664.0 417.0,663.6 418.0,663.1 419.0,662.7 420.0,661.8 421.0,660.4 422.0,659.0 423.0,657.6 424.0,656.2 425.0,654.8 426.0,653.4 427.0,652.0 428.0,652.2 429.0,652.5 430.0,652.8 431.0,653.0 432.0,653.2 433.0,653.5 434.0,653.3 435.0,653.1 436.0,652.8 437.0,652.6 438.0,652.4 439.0,652.2 440.0,652.5 441.0,654.6 442.0,656.8 443.0,658.9 444.0,661.0 445.0,663.1 446.0,665.2 447.0,665.4 448.0,665.4 449.0,665.4 450.0,665.4 451.0,665.4 452.0,665.4 453.0,665.4 454.0,665.4 455.0,665.4 456.0,665.4 457.0,665.4 458.0,665.4 459.0,665.4 460.0,665.4 461.0,665.4 462.0,665.4 463.0,665.4 464.0,665.4 465.0,665.4 466.0,665.4 467.0,665.4 468.0,665.4 469.0,665.4 470.0,665.4 471.0,665.4 472.0,665.4 473.0,665.4 474.0,665.4 475.0,665.4 476.0,665.4 477.0,665.4 478.0,665.4 479.0,665.4 480.0,665.4 481.0,665.4 482.0,665.4 483.0,665.4 484.0,665.4 485.0,665.4 486.0,665.4 487.0,665.4 488.0,665.4 489.0,665.4 490.0,665.4 491.0,665.4 492.0,665.4 493.0,665.4 494.0,665.4 495.0,665.4 496.0,665.4 497.0,665.4 498.0,665.4 499.0,665.4 500.0,665.4 501.0,665.4 502.0,665.4 503.0,665.4 504.0,665.4 505.0,665.4 506.0,665.4 507.0,665.4 508.0,665.4 509.0,665.4 510.0,665.4 511.0,665.4 512.0,665.4 513.0,665.4 514.0,665.4 515.0,665.4 516.0,665.1 517.0,664.0 518.0,662.9 519.0,661.8 520.0,661.6 521.0,661.5 522.0,661.4 523.0,661.3 524.0,661.2 525.0,661.1 526.0,660.9 527.0,660.4 528.0,659.9 529.0,659.4 530.0,658.9 531.0,658.4 532.0,658.6 533.0,660.8 534.0,663.1 535.0,665.4 536.0,665.4 537.0,665.4 538.0,665.4 539.0,665.4 540.0,665.4 541.0,665.4 542.0,665.4 543.0,665.4 544.0,665.4 545.0,665.4 546.0,665.4 547.0,665.4 548.0,665.4 549.0,665.4 550.0,665.4 551.0,665.2 552.0,663.7 553.0,662.7 554.0,663.5 555.0,664.2 556.0,665.0 557.0,665.4 558.0,665.4 559.0,665.4 560.0,665.4 561.0,665.4 562.0,664.7 563.0,663.5 564.0,662.2 565.0,661.0 566.0,659.8 567.0,659.0 568.0,658.3 569.0,657.7 570.0,657.0 571.0,656.3 572.0,655.7 573.0,655.0 574.0,654.8 575.0,654.6 576.0,654.3 577.0,654.1 578.0,653.9 579.0,653.7 580.0,653.6 581.0,654.2 582.0,654.8 583.0,655.3 584.0,655.9 585.0,656.4 586.0,657.0 587.0,656.8 588.0,655.9 589.0,655.1 590.0,654.2 591.0,653.3 592.0,652.4 593.0,651.8 594.0,651.5 595.0,651.2 596.0,650.8 597.0,650.5 598.0,650.2 599.0,649.8 600.0,650.1 601.0,650.5 602.0,651.0 603.0,651.4 604.0,651.9 605.0,652.3 606.0,652.8 607.0,652.5 608.0,652.2 609.0,652.0 610.0,651.8 611.0,651.5 612.0,651.2 613.0,652.0 614.0,652.6 615.0,653.4 616.0,654.0 617.0,654.8 618.0,655.5 619.0,656.1 620.0,656.3 621.0,656.0 622.0,655.7 623.0,655.3 624.0,655.0 625.0,654.7 626.0,654.3 627.0,653.9 628.0,653.4 629.0,652.9 630.0,652.4 631.0,651.9 632.0,651.4 633.0,652.1 634.0,653.2 635.0,654.3 636.0,655.4 637.0,656.5 638.0,657.6 639.0,658.8 640.0,660.3 641.0,661.9 642.0,663.4 643.0,665.0 644.0,665.4 645.0,665.4 646.0,665.4 647.0,665.4 648.0,665.4 649.0,665.4 650.0,665.0 651.0,664.0 652.0,663.0 653.0,662.9 654.0,663.8 655.0,664.7 656.0,665.4 657.0,665.4 658.0,665.4 659.0,665.4 660.0,665.4 661.0,665.4 662.0,665.4 663.0,665.4 664.0,665.4 665.0,665.4 666.0,665.4 667.0,665.4 668.0,665.4 669.0,665.4 670.0,665.4 671.0,665.2 672.0,664.5 673.0,663.8 674.0,662.8 675.0,661.8 676.0,660.8 677.0,659.8 678.0,658.8 679.0,657.8 680.0,656.8 681.0,655.9 682.0,655.0 683.0,654.1 684.0,653.2 685.0,652.4 686.0,651.5 687.0,651.6 688.0,652.1 689.0,652.6 690.0,653.1 691.0,653.6 692.0,654.1 693.0,653.8 694.0,653.3 695.0,652.7 696.0,652.2 697.0,651.6 698.0,651.1 699.0,650.5 700.0,651.1 701.0,651.8 702.0,652.4 703.0,653.1 704.0,653.7 705.0,654.4 706.0,655.0 707.0,655.6 708.0,656.2 709.0,656.9 710.0,657.5 711.0,658.1 712.0,658.8 713.0,658.6 714.0,658.5 715.0,658.4 716.0,658.2 717.0,658.1 718.0,658.0 719.0,658.1 720.0,658.2 721.0,658.3 722.0,658.4 723.0,658.6 724.0,658.7 725.0,659.1 726.0,660.4 727.0,661.8 728.0,663.1 729.0,664.4 730.0,665.4 731.0,665.4 732.0,665.4 733.0,665.4 734.0,665.4 735.0,665.4 736.0,664.8 737.0,664.1 738.0,663.4 739.0,662.5 740.0,661.5 741.0,660.5 742.0,659.5 743.0,658.5 744.0,657.5 745.0,656.5 746.0,656.8 747.0,657.0 748.0,657.2 749.0,657.5 750.0,657.8 751.0,658.0 752.0,657.4 753.0,656.9 754.0,656.3 755.0,655.8 756.0,655.2 757.0,654.7 758.0,655.0 759.0,658.1 760.0,661.2 761.0,664.3 762.0,665.4 763.0,665.4 764.0,665.4 765.0,665.4 766.0,665.4 767.0,665.4 768.0,665.4 769.0,665.4 770.0,664.8 771.0,662.2 772.0,659.5 773.0,659.1 774.0,658.6 775.0,658.2 776.0,657.7 777.0,657.3 778.0,656.8 779.0,656.3 780.0,655.5 781.0,654.8 782.0,654.0 783.0,653.2 784.0,652.4 785.0,651.6 786.0,651.1 787.0,650.9 788.0,650.6 789.0,650.4 790.0,650.1 791.0,649.9 792.0,649.9 793.0,650.1 794.0,650.3 795.0,650.5 796.0,650.8 797.0,651.0 798.0,651.2 799.0,651.6 800.0,652.0 801.0,652.5 802.0,652.9 803.0,653.4 804.0,653.8 805.0,654.2 806.0,654.0 807.0,653.8 808.0,653.6 809.0,653.4 810.0,653.1 811.0,652.9 812.0,653.1 813.0,654.4 814.0,655.8 815.0,657.1 816.0,658.4 817.0,659.8 818.0,661.1 819.0,662.4 820.0,663.6 821.0,664.8 822.0,665.4 823.0,665.4 824.0,665.4 825.0,665.4 826.0,665.4 827.0,665.4 828.0,665.4 829.0,665.4 830.0,665.4 831.0,665.4 832.0,665.4 833.0,665.4 834.0,665.4 835.0,665.4 836.0,665.4 837.0,665.4 838.0,665.4 839.0,665.4 840.0,664.3 841.0,662.2 842.0,660.1 843.0,658.0 844.0,655.8 845.0,654.1 846.0,653.7 847.0,653.2 848.0,652.8 849.0,652.4 850.0,651.9 851.0,651.5 852.0,651.8 853.0,652.9 854.0,654.0 855.0,655.1 856.0,656.2 857.0,657.4 858.0,658.5 859.0,658.0 860.0,657.0 861.0,656.0 862.0,655.0 863.0,654.0 864.0,653.0 865.0,652.0 866.0,651.6 867.0,651.2 868.0,650.9 869.0,650.5 870.0,650.1 871.0,649.8 872.0,650.4 873.0,651.1 874.0,651.8 875.0,652.4 876.0,653.1 877.0,653.8 878.0,654.1 879.0,653.7 880.0,653.2 881.0,652.8 882.0,652.4 883.0,651.9 884.0,651.5 885.0,651.4 886.0,651.8 887.0,652.1 888.0,652.4 889.0,652.8 890.0,653.1 891.0,653.4 892.0,653.8 893.0,654.1 894.0,654.4 895.0,654.8 896.0,655.1 897.0,655.4 898.0,655.8 899.0,655.3 900.0,654.9 901.0,654.4 902.0,654.0 903.0,653.5 904.0,653.1 905.0,652.8 906.0,652.8 907.0,652.8 908.0,652.8 909.0,652.8 910.0,652.8 911.0,652.8 912.0,652.6 913.0,652.4 914.0,652.1 915.0,651.9 916.0,651.6 917.0,651.4 918.0,651.9 919.0,653.2 920.0,654.6 921.0,655.9 922.0,657.2 923.0,658.6 924.0,659.9 924.0,665.4" fill="rgba(70,170,60,0.5)"/>
<polygon points="22.0,694.6 22.0,694.6 23.0,694.6 24.0,694.6 25.0,694.6 26.0,694.6 27.0,694.6 28.0,694.6 29.0,694.6 30.0,694.6 31.0,694.6 32.0,694.6 33.0,694.6 34.0,694.6 35.0,694.6 36.0,694.6 37.0,694.6 38.0,694.6 39.0,694.6 40.0,694.6 41.0,694.6 42.0,694.6 43.0,694.6 44.0,694.6 45.0,694.6 46.0,694.6 47.0,694.6 48.0,694.6 49.0,694.6 50.0,694.6 51.0,694.6 52.0,694.6 53.0,694.6 54.0,694.6 55.0,694.6 56.0,694.6 57.0,694.6 58.0,694.6 59.0,694.6 60.0,694.6 61.0,694.6 62.0,694.6 63.0,694.6 64.0,694.6 65.0,694.6 66.0,694.6 67.0,694.6 68.0,694.6 69.0,694.6 70.0,694.6 71.0,694.6 72.0,694.6 73.0,694.6 74.0,694.6 75.0,694.6 76.0,694.6 77.0,694.6 78.0,694.6 79.0,694.6 80.0,694.6 81.0,694.6 82.0,694.6 83.0,694.6 84.0,694.6 85.0,694.6 86.0,694.6 87.0,694.6 88.0,694.6 89.0,694.6 90.0,694.6 91.0,694.6 92.0,694.6 93.0,694.6 94.0,694.6 95.0,694.6 96.0,694.6 97.0,694.6 98.0,694.6 99.0,694.6 100.0,694.6 101.0,694.6 102.0,694.6 103.0,694.6 104.0,694.6 105.0,694.6 106.0,694.6 107.0,694.6 108.0,694.6 109.0,694.6 110.0,694.6 111.0,694.6 112.0,694.6 113.0,694.6 114.0,694.6 115.0,694.6 116.0,694.6 117.0,694.6 118.0,694.6 119.0,694.6 120.0,694.6 121.0,694.6 122.0,694.6 123.0,694.6 124.0,694.6 125.0,694.6 126.0,694.6 127.0,694.6 128.0,694.6 129.0,694.6 130.0,694.6 131.0,694.6 132.0,694.6 133.0,694.6 134.0,694.6 135.0,694.6 136.0,694.6 137.0,694.6 138.0,694.6 139.0,694.6 140.0,694.6 141.0,694.6 142.0,694.6 143.0,694.6 144.0,694.6 145.0,694.6 146.0,694.6 147.0,694.6 148.0,694.6 149.0,694.6 150.0,694.6 151.0,694.6 152.0,694.6 153.0,694.6 154.0,694.6 155.0,694.6 156.0,694.6 157.0,694.6 158.0,694.6 159.0,694.6 160.0,694.6 161.0,694.6 162.0,694.6 163.0,694.6 164.0,694.6 165.0,694.6 166.0,694.6 167.0,694.6 168.0,694.6 169.0,694.6 170.0,694.6 171.0,694.6 172.0,694.6 173.0,694.6 174.0,694.6 175.0,694.6 176.0,694.6 177.0,694.6 178.0,694.6 179.0,694.6 180.0,694.6 181.0,694.6 182.0,694.6 183.0,694.6 184.0,694.6 185.0,694.6 186.0,694.6 187.0,694.6 188.0,694.6 189.0,694.6 190.0,694.6 191.0,694.6 192.0,694.6 193.0,694.6 194.0,694.6 195.0,694.6 196.0,694.6 197.0,694.6 198.0,694.6 199.0,694.6 200.0,694.6 201.0,694.6 202.0,694.6 203.0,694.6 204.0,694.6 205.0,694.6 206.0,694.6 207.0,694.6 208.0,694.6 209.0,694.6 210.0,694.6 211.0,694.6 212.0,694.6 213.0,694.6 214.0,694.6 215.0,694.6 216.0,694.6 217.0,694.6 218.0,694.6 219.0,694.6 220.0,694.6 221.0,694.6 222.0,694.6 223.0,694.6 224.0,694.6 225.0,694.6 226.0,694.6 227.0,694.6 228.0,694.6 229.0,694.6 230.0,694.6 231.0,694.6 232.0,694.6 233.0,694.6 234.0,694.6 235.0,694.6 236.0,694.6 237.0,694.6 238.0,694.6 239.0,694.6 240.0,694.6 241.0,694.6 242.0,694.6 243.0,694.6 244.0,694.6 245.0,694.6 246.0,694.6 247.0,694.6 248.0,694.6 249.0,694.6 250.0,694.6 251.0,694.6 252.0,694.6 253.0,694.6 254.0,694.6 255.0,694.6 256.0,694.6 257.0,694.6 258.0,694.6 259.0,694.6 260.0,694.6 261.0,694.6 262.0,694.6 263.0,694.6 264.0,694.6 265.0,694.6 266.0,694.6 267.0,694.6 268.0,694.6 269.0,694.6 270.0,694.6 271.0,694.6 272.0,694.6 273.0,694.6 274.0,694.6 275.0,694.6 276.0,694.6 277.0,694.6 278.0,694.6 279.0,694.6 280.0,694.6 281.0,694.6 282.0,694.6 283.0,694.6 284.0,694.6 285.0,694.6 286.0,694.6 287.0,694.6 288.0,694.6 289.0,694.6 290.0,694.6 291.0,694.6 292.0,694.6 293.0,694.6 294.0,694.6 295.0,694.6 296.0,694.6 297.0,694.6 298.0,694.6 299.0,694.6 300.0,695.7 301.0,696.3 302.0,696.4 303.0,696.6 304.0,696.7 305.0,696.8 306.0,696.9 307.0,697.0 308.0,697.7 309.0,698.3 310.0,699.0 311.0,699.7 312.0,700.3 313.0,701.0 314.0,701.3 315.0,700.4 316.0,699.5 317.0,698.6 318.0,697.7 319.0,696.8 320.0,695.9 321.0,695.6 322.0,695.7 323.0,695.8 324.0,695.9 325.0,696.0 326.0,696.1 327.0,696.2 328.0,695.5 329.0,694.6 330.0,694.6 331.0,694.6 332.0,694.6 333.0,694.6 334.0,694.6 335.0,694.6 336.0,694.6 337.0,694.6 338.0,694.6 339.0,694.6 340.0,694.6 341.0,694.6 342.0,694.6 343.0,694.6 344.0,694.6 345.0,694.6 346.0,694.6 347.0,694.6 348.0,694.6 349.0,694.6 350.0,694.6 351.0,694.6 352.0,694.6 353.0,694.6 354.0,694.6 355.0,694.6 356.0,694.6 357.0,694.6 358.0,694.6 359.0,694.6 360.0,694.6 361.0,694.6 362.0,694.6 363.0,694.6 364.0,694.6 365.0,694.6 366.0,694.6 367.0,694.6 368.0,694.6 369.0,694.6 370.0,694.6 371.0,694.6 372.0,694.6 373.0,694.6 374.0,694.6 375.0,694.6 376.0,694.6 377.0,694.6 378.0,694.6 379.0,694.6 380.0,694.6 381.0,694.6 382.0,694.6 383.0,694.6 384.0,694.6 385.0,694.6 386.0,694.6 387.0,694.6 388.0,694.6 389.0,694.6 390.0,694.6 391.0,694.6 392.0,694.6 393.0,694.6 394.0,694.6 395.0,694.6 396.0,694.6 397.0,694.6 398.0,694.6 399.0,694.6 400.0,694.6 401.0,694.6 402.0,694.6 403.0,694.6 404.0,694.6 405.0,694.6 406.0,694.6 407.0,694.6 408.0,694.6 409.0,694.6 410.0,694.6 411.0,694.6 412.0,694.6 413.0,694.6 414.0,694.6 415.0,694.6 416.0,694.6 417.0,694.6 418.0,694.6 419.0,694.6 420.0,694.6 421.0,694.6 422.0,694.6 423.0,694.6 424.0,694.6 425.0,694.6 426.0,694.6 427.0,694.6 428.0,694.6 429.0,694.6 430.0,694.6 431.0,694.6 432.0,694.6 433.0,694.6 434.0,694.6 435.0,694.6 436.0,694.6 437.0,694.6 438.0,694.6 439.0,694.6 440.0,694.6 441.0,694.6 442.0,694.6 443.0,694.6 444.0,694.6 445.0,694.6 446.0,694.6 447.0,694.6 448.0,694.6 449.0,694.6 450.0,694.6 451.0,694.6 452.0,694.6 453.0,694.6 454.0,694.6 455.0,694.6 456.0,694.6 457.0,694.6 458.0,694.6 459.0,694.6 460.0,694.6 461.0,694.6 462.0,694.6 463.0,694.6 464.0,694.6 465.0,694.6 466.0,694.6 467.0,694.6 468.0,694.6 469.0,694.6 470.0,694.6 471.0,694.6 472.0,694.6 473.0,694.6 474.0,694.6 475.0,694.6 476.0,694.6 477.0,694.6 478.0,694.6 479.0,694.6 480.0,694.6 481.0,694.6 482.0,694.6 483.0,694.6 484.0,694.6 485.0,694.6 486.0,694.6 487.0,694.6 488.0,694.6 489.0,694.6 490.0,694.6 491.0,694.6 492.0,694.6 493.0,694.6 494.0,694.6 495.0,694.6 496.0,694.6 497.0,694.6 498.0,694.6 499.0,694.6 500.0,694.6 501.0,694.6 502.0,694.6 503.0,694.6 504.0,694.6 505.0,694.6 506.0,694.6 507.0,694.6 508.0,694.6 509.0,694.6 510.0,694.6 511.0,694.6 512.0,694.6 513.0,694.6 514.0,694.6 515.0,694.6 516.0,694.6 517.0,694.6 518.0,694.6 519.0,694.6 520.0,694.6 521.0,694.6 522.0,694.6 523.0,694.6 524.0,694.6 525.0,694.6 526.0,694.6 527.0,694.6 528.0,694.6 529.0,694.6 530.0,694.6 531.0,694.6 532.0,694.6 533.0,694.6 534.0,694.6 535.0,694.6 536.0,694.6 537.0,694.6 538.0,694.6 539.0,694.6 540.0,694.6 541.0,694.6 542.0,694.6 543.0,694.6 544.0,694.6 545.0,694.6 546.0,694.6 547.0,694.6 548.0,694.6 549.0,694.6 550.0,694.6 551.0,694.6 552.0,694.6 553.0,694.6 554.0,694.6 555.0,694.6 556.0,694.6 557.0,694.6 558.0,694.6 559.0,694.6 560.0,694.6 561.0,694.6 562.0,694.6 563.0,694.6 564.0,694.6 565.0,694.6 566.0,694.6 567.0,694.6 568.0,694.6 569.0,694.6 570.0,694.6 571.0,694.6 572.0,694.6 573.0,694.6 574.0,694.6 575.0,694.6 576.0,694.6 577.0,694.6 578.0,694.6 579.0,694.6 580.0,694.6 581.0,694.6 582.0,694.6 583.0,694.6 584.0,694.6 585.0,694.6 586.0,694.6 587.0,694.6 588.0,694.6 589.0,694.6 590.0,694.6 591.0,694.6 592.0,694.6 593.0,694.6 594.0,694.6 595.0,694.6 596.0,694.6 597.0,694.6 598.0,694.6 599.0,694.6 600.0,694.6 601.0,694.6 602.0,694.6 603.0,694.6 604.0,694.6 605.0,694.6 606.0,694.6 607.0,694.6 608.0,694.6 609.0,694.6 610.0,694.6 611.0,694.6 612.0,694.6 613.0,694.6 614.0,694.6 615.0,694.6 616.0,694.6 617.0,694.6 618.0,694.6 619.0,694.6 620.0,694.6 621.0,694.6 622.0,694.6 623.0,694.6 624.0,694.6 625.0,694.6 626.0,694.6 627.0,694.6 628.0,694.6 629.0,694.6 630.0,694.6 631.0,694.6 632.0,694.6 633.0,694.6 634.0,694.6 635.0,694.6 636.0,694.6 637.0,694.6 638.0,694.6 639.0,694.6 640.0,694.6 641.0,694.6 642.0,694.6 643.0,694.6 644.0,694.6 645.0,694.6 646.0,694.6 647.0,694.6 648.0,694.6 649.0,694.6 650.0,694.6 651.0,694.6 652.0,694.6 653.0,694.6 654.0,694.6 655.0,694.6 656.0,694.6 657.0,694.6 658.0,694.6 659.0,694.6 660.0,694.6 661.0,694.6 662.0,694.6 663.0,694.6 664.0,694.6 665.0,694.6 666.0,694.6 667.0,694.6 668.0,694.6 669.0,694.6 670.0,694.6 671.0,694.6 672.0,694.6 673.0,694.6 674.0,694.6 675.0,694.6 676.0,694.6 677.0,694.6 678.0,694.6 679.0,694.6 680.0,694.6 681.0,694.6 682.0,694.6 683.0,694.6 684.0,694.6 685.0,694.6 686.0,694.6 687.0,694.6 688.0,694.6 689.0,694.6 690.0,694.6 691.0,694.6 692.0,694.6 693.0,694.6 694.0,694.6 695.0,694.6 696.0,694.6 697.0,694.6 698.0,694.6 699.0,694.6 700.0,694.6 701.0,694.6 702.0,694.6 703.0,694.6 704.0,694.6 705.0,694.6 706.0,694.6 707.0,694.6 708.0,694.6 709.0,694.6 710.0,694.6 711.0,694.6 712.0,694.6 713.0,694.6 714.0,694.6 715.0,694.6 716.0,694.6 717.0,694.6 718.0,694.6 719.0,694.6 720.0,694.6 721.0,694.6 722.0,694.6 723.0,694.6 724.0,694.6 725.0,694.6 726.0,694.6 727.0,694.6 728.0,694.6 729.0,694.6 730.0,694.6 731.0,694.6 732.0,694.6 733.0,694.6 734.0,694.6 735.0,694.6 736.0,694.6 737.0,694.6 738.0,694.6 739.0,694.6 740.0,694.6 741.0,694.6 742.0,694.6 743.0,694.6 744.0,694.6 745.0,694.6 746.0,694.6 747.0,694.6 748.0,694.6 749.0,694.6 750.0,694.6 751.0,694.6 752.0,694.6 753.0,694.6 754.0,694.6 755.0,694.6 756.0,694.6 757.0,694.6 758.0,694.6 759.0,694.6 760.0,694.6 761.0,694.6 762.0,694.6 763.0,694.6 764.0,694.6 765.0,694.6 766.0,694.6 767.0,694.6 768.0,694.6 769.0,694.6 770.0,694.6 771.0,694.6 772.0,694.6 773.0,694.6 774.0,694.6 775.0,694.6 776.0,694.6 777.0,694.6 778.0,694.6 779.0,694.6 780.0,694.6 781.0,694.6 782.0,694.6 783.0,694.6 784.0,694.6 785.0,694.6 786.0,694.6 787.0,694.6 788.0,694.6 789.0,694.6 790.0,694.6 791.0,694.6 792.0,694.6 793.0,694.6 794.0,694.6 795.0,694.6 796.0,694.6 797.0,694.6 798.0,694.6 799.0,694.6 800.0,694.6 801.0,694.6 802.0,694.6 803.0,694.6 804.0,694.6 805.0,694.6 806.0,694.6 807.0,694.6 808.0,694.6 809.0,694.6 810.0,694.6 811.0,694.6 812.0,694.6 813.0,694.6 814.0,694.6 815.0,694.6 816.0,694.6 817.0,694.6 818.0,694.6 819.0,694.6 820.0,694.6 821.0,694.6 822.0,694.6 823.0,694.6 824.0,694.6 825.0,694.6 826.0,694.6 827.0,694.6 828.0,694.6 829.0,694.6 830.0,694.6 831.0,694.6 832.0,694.6 833.0,694.6 834.0,694.6 835.0,694.6 836.0,694.6 837.0,694.6 838.0,694.6 839.0,694.6 840.0,694.6 841.0,694.6 842.0,694.6 843.0,694.6 844.0,694.6 845.0,694.6 846.0,694.6 847.0,694.6 848.0,694.6 849.0,694.6 850.0,694.6 851.0,694.6 852.0,694.6 853.0,694.6 854.0,694.6 855.0,694.6 856.0,694.6 857.0,694.6 858.0,694.6 859.0,694.6 860.0,694.6 861.0,694.6 862.0,694.6 863.0,694.6 864.0,694.6 865.0,694.6 866.0,694.6 867.0,694.6 868.0,694.6 869.0,694.6 870.0,694.6 871.0,694.6 872.0,694.6 873.0,694.6 874.0,694.6 875.0,694.6 876.0,694.6 877.0,694.6 878.0,694.6 879.0,694.6 880.0,694.6 881.0,694.6 882.0,694.6 883.0,694.6 884.0,694.6 885.0,694.6 886.0,694.6 887.0,694.6 888.0,694.6 889.0,694.6 890.0,694.6 891.0,694.6 892.0,694.6 893.0,694.6 894.0,694.6 895.0,694.6 896.0,694.6 897.0,694.6 898.0,694.6 899.0,694.6 900.0,694.6 901.0,694.6 902.0,694.6 903.0,694.6 904.0,694.6 905.0,694.6 906.0,694.6 907.0,694.6 908.0,694.6 909.0,694.6 910.0,694.6 911.0,694.6 912.0,694.6 913.0,694.6 914.0,694.6 915.0,694.6 916.0,694.6 917.0,694.6 918.0,694.6 919.0,694.6 920.0,694.6 921.0,694.6 922.0,694.6 923.0,694.6 924.0,694.6 924.0,694.6" fill="rgba(180,60,60,0.55)"/>
<path d="M22 650.6H924.5" stroke="#111" stroke-width="1" stroke-dasharray="4 3.5"/>
<path d="M22 709H924.5" stroke="#555" stroke-width="2" stroke-dasharray="4 3.5"/>
<path d="M22 665.4H924.5" stroke="#0c0c9c" stroke-width="1.5"/>
<path d="M22 694.6H924.5" stroke="#e01818" stroke-width="1.5"/>
<path d="M22 679.8H924.5" stroke="#1010a8" stroke-width="1.8" stroke-dasharray="5 4.5"/>
<path d="M23.3 659.5 L27.5 659.5" stroke="#12cc12" stroke-width="3" fill="none" stroke-linejoin="round"/>
<path d="M27.5 659.5 L35.0 671.5" stroke="#ff9a10" stroke-width="3" fill="none" stroke-linejoin="round"/>
<path d="M35.0 671.5 L42.5 667.8" stroke="#0c0cc8" stroke-width="3" fill="none" stroke-linejoin="round"/>
<path d="M42.5 667.8 L48.5 663.2 L54.5 662.5 L59.0 657.2 L66.0 655.0 L73.0 657.0 L80.0 659.5 L87.5 661.0 L93.5 658.0" stroke="#12cc12" stroke-width="3" fill="none" stroke-linejoin="round"/>
<path d="M93.5 658.0 L101.0 664.0" stroke="#ff9a10" stroke-width="3" fill="none" stroke-linejoin="round"/>
<path d="M101.0 664.0 L107.0 658.8 L116.0 655.0 L125.0 652.0 L137.0 650.8 L155.0 650.8 L162.5 652.8 L168.5 655.8 L174.5 655.0 L180.5 652.0 L186.5 650.2" stroke="#12cc12" stroke-width="3" fill="none" stroke-linejoin="round"/>
<path d="M186.5 650.2 L194.0 670.8" stroke="#ff9a10" stroke-width="3" fill="none" stroke-linejoin="round"/>
<path d="M194.0 670.8 L201.5 664.0" stroke="#12cc12" stroke-width="3" fill="none" stroke-linejoin="round"/>
<path d="M201.5 664.0 L207.5 667.0" stroke="#ff9a10" stroke-width="3" fill="none" stroke-linejoin="round"/>
<path d="M207.5 667.0 L215.0 660.2 L220.2 662.5 L227.0 650.5 L233.0 655.0 L240.5 660.2 L248.0 661.8 L253.8 664.8" stroke="#12cc12" stroke-width="3" fill="none" stroke-linejoin="round"/>
<path d="M253.8 664.8 L260.5 670.0" stroke="#ff9a10" stroke-width="3" fill="none" stroke-linejoin="round"/>
<path d="M260.5 670.0 L265.8 668.5" stroke="#0c0cc8" stroke-width="3" fill="none" stroke-linejoin="round"/>
<path d="M265.8 668.5 L270.2 677.5" stroke="#ff9a10" stroke-width="3" fill="none" stroke-linejoin="round"/>
<path d="M270.2 677.5 L274.0 682.0 L280.0 676.0 L286.0 674.5" stroke="#0c0cc8" stroke-width="3" fill="none" stroke-linejoin="round"/>
<path d="M286.0 674.5 L293.5 682.0" stroke="#ff9a10" stroke-width="3" fill="none" stroke-linejoin="round"/>
<path d="M293.5 682.0 L300.2 696.2 L307.0 697.0 L313.8 701.5 L320.5 695.5 L327.2 696.2" stroke="#a80c0c" stroke-width="3" fill="none" stroke-linejoin="round"/>
<path d="M327.2 696.2 L334.0 689.5" stroke="#0c0cc8" stroke-width="3" fill="none" stroke-linejoin="round"/>
<path d="M334.0 689.5 L340.8 689.5" stroke="#ff9a10" stroke-width="3" fill="none" stroke-linejoin="round"/>
<path d="M340.8 689.5 L346.0 688.8" stroke="#0c0cc8" stroke-width="3" fill="none" stroke-linejoin="round"/>
<path d="M346.0 688.8 L352.8 690.2" stroke="#ff9a10" stroke-width="3" fill="none" stroke-linejoin="round"/>
<path d="M352.8 690.2 L361.0 685.8 L373.0 683.5 L379.8 679.8 L392.5 672.2" stroke="#0c0cc8" stroke-width="3" fill="none" stroke-linejoin="round"/>
<path d="M392.5 672.2 L399.2 674.5" stroke="#ff9a10" stroke-width="3" fill="none" stroke-linejoin="round"/>
<path d="M399.2 674.5 L407.5 670.0 L414.2 664.8" stroke="#0c0cc8" stroke-width="3" fill="none" stroke-linejoin="round"/>
<path d="M414.2 664.8 L419.5 662.5 L427.0 652.0 L433.0 653.5 L439.8 652.0" stroke="#12cc12" stroke-width="3" fill="none" stroke-linejoin="round"/>
<path d="M439.8 652.0 L446.5 666.2 L453.2 668.5 L460.0 673.8 L473.5 690.2" stroke="#ff9a10" stroke-width="3" fill="none" stroke-linejoin="round"/>
<path d="M473.5 690.2 L481.0 679.0 L483.0 675.2 L489.0 672.2 L498.8 670.0" stroke="#0c0cc8" stroke-width="3" fill="none" stroke-linejoin="round"/>
<path d="M498.8 670.0 L505.5 673.0" stroke="#ff9a10" stroke-width="3" fill="none" stroke-linejoin="round"/>
<path d="M505.5 673.0 L512.2 669.2" stroke="#0c0cc8" stroke-width="3" fill="none" stroke-linejoin="round"/>
<path d="M512.2 669.2 L519.0 661.8 L525.8 661.0 L531.8 658.0" stroke="#12cc12" stroke-width="3" fill="none" stroke-linejoin="round"/>
<path d="M531.8 658.0 L540.0 676.8" stroke="#ff9a10" stroke-width="3" fill="none" stroke-linejoin="round"/>
<path d="M540.0 676.8 L546.0 673.0" stroke="#0c0cc8" stroke-width="3" fill="none" stroke-linejoin="round"/>
<path d="M546.0 673.0 L552.8 662.5" stroke="#12cc12" stroke-width="3" fill="none" stroke-linejoin="round"/>
<path d="M552.8 662.5 L559.5 667.8" stroke="#ff9a10" stroke-width="3" fill="none" stroke-linejoin="round"/>
<path d="M559.5 667.8 L566.2 659.5 L573.0 655.0 L579.8 653.5 L586.5 657.2 L592.5 652.0 L599.2 649.8 L606.0 652.8 L612.0 651.2 L619.5 656.5 L626.2 654.2 L632.2 651.2 L639.0 658.8" stroke="#12cc12" stroke-width="3" fill="none" stroke-linejoin="round"/>
<path d="M639.0 658.8 L645.8 669.2" stroke="#ff9a10" stroke-width="3" fill="none" stroke-linejoin="round"/>
<path d="M645.8 669.2 L652.5 662.5" stroke="#12cc12" stroke-width="3" fill="none" stroke-linejoin="round"/>
<path d="M652.5 662.5 L658.5 667.8 L666.0 668.5" stroke="#ff9a10" stroke-width="3" fill="none" stroke-linejoin="round"/>
<path d="M666.0 668.5 L672.8 664.0 L679.5 657.2 L686.2 651.2 L692.2 654.2 L699.0 650.5 L706.0 655.0 L712.0 658.8 L718.0 658.0 L724.8 658.8" stroke="#12cc12" stroke-width="3" fill="none" stroke-linejoin="round"/>
<path d="M724.8 658.8 L731.5 667.8" stroke="#ff9a10" stroke-width="3" fill="none" stroke-linejoin="round"/>
<path d="M731.5 667.8 L738.2 663.2 L745.0 656.5 L751.0 658.0 L757.8 654.2" stroke="#12cc12" stroke-width="3" fill="none" stroke-linejoin="round"/>
<path d="M757.8 654.2 L765.2 677.5" stroke="#ff9a10" stroke-width="3" fill="none" stroke-linejoin="round"/>
<path d="M765.2 677.5 L772.0 659.5 L778.8 656.5 L785.5 651.2 L791.5 649.8 L798.2 651.2 L805.0 654.2 L811.8 652.8 L818.5 661.8" stroke="#12cc12" stroke-width="3" fill="none" stroke-linejoin="round"/>
<path d="M818.5 661.8 L825.2 670.0 L832.0 677.5" stroke="#ff9a10" stroke-width="3" fill="none" stroke-linejoin="round"/>
<path d="M832.0 677.5 L838.8 667.0" stroke="#0c0cc8" stroke-width="3" fill="none" stroke-linejoin="round"/>
<path d="M838.8 667.0 L844.8 654.2 L851.5 651.2 L858.2 658.8 L865.0 652.0 L871.0 649.8 L877.8 654.2 L884.5 651.2 L891.2 653.5 L898.0 655.8 L904.8 652.8 L911.5 652.8 L917.5 651.2 L924.2 660.2" stroke="#12cc12" stroke-width="3" fill="none" stroke-linejoin="round"/>
<polygon points="262.9,674.3 271.6,674.3 267.2,683.1" fill="#b00808"/>
<polygon points="282.8,674.3 291.6,674.3 287.2,683.1" fill="#b00808"/>
<polygon points="455.6,674.3 464.4,674.3 460.0,683.1" fill="#b00808"/>
<polygon points="270.8,684.9 278.8,684.9 274.8,676.9" fill="#0808c8"/>
<polygon points="376.5,684.1 384.5,684.1 380.5,676.1" fill="#0808c8"/>
<polygon points="475.5,684.9 483.5,684.9 479.5,676.9" fill="#0808c8"/>
</g>
<g clip-path="url(#cP3)">
<rect x="38.8" y="765.6" width="4.2" height="1.0" fill="#f01010"/>
<rect x="45.4" y="765.6" width="4.2" height="1.0" fill="#f01010"/>
<rect x="58.7" y="764.5" width="4.2" height="1.1" fill="#1c1cf0"/>
<rect x="65.3" y="762.9" width="4.2" height="2.7" fill="#1c1cf0"/>
<rect x="72.0" y="761.5" width="4.2" height="4.1" fill="#1c1cf0"/>
<rect x="78.6" y="761.8" width="4.2" height="3.8" fill="#ff20e0"/>
<rect x="85.2" y="763.0" width="4.2" height="2.6" fill="#ff20e0"/>
<rect x="91.9" y="764.5" width="4.2" height="1.1" fill="#ff20e0"/>
<rect x="91.9" y="762.4" width="4.2" height="2.1" fill="#ffc6c6"/>
<rect x="98.5" y="764.8" width="4.2" height="0.8" fill="#ff20e0"/>
<rect x="98.5" y="762.6" width="4.2" height="2.2" fill="#ffc6c6"/>
<rect x="105.1" y="764.9" width="4.2" height="0.7" fill="#ff20e0"/>
<rect x="105.1" y="762.8" width="4.2" height="2.2" fill="#ffc6c6"/>
<rect x="111.8" y="764.6" width="4.2" height="1.0" fill="#1c1cf0"/>
<rect x="111.8" y="763.0" width="4.2" height="1.6" fill="#ffc6c6"/>
<rect x="118.4" y="763.9" width="4.2" height="1.7" fill="#1c1cf0"/>
<rect x="125.1" y="763.0" width="4.2" height="2.6" fill="#1c1cf0"/>
<rect x="131.7" y="762.0" width="4.2" height="3.6" fill="#1c1cf0"/>
<rect x="138.3" y="761.4" width="4.2" height="4.2" fill="#1c1cf0"/>
<rect x="145.0" y="760.7" width="4.2" height="4.9" fill="#1c1cf0"/>
<rect x="151.6" y="758.7" width="4.2" height="6.9" fill="#1c1cf0"/>
<rect x="158.2" y="756.2" width="4.2" height="9.4" fill="#1c1cf0"/>
<rect x="164.9" y="754.9" width="4.2" height="10.7" fill="#1c1cf0"/>
<rect x="171.5" y="753.7" width="4.2" height="11.9" fill="#1c1cf0"/>
<rect x="178.2" y="751.9" width="4.2" height="13.8" fill="#1c1cf0"/>
<rect x="184.8" y="749.2" width="4.2" height="16.4" fill="#1c1cf0"/>
<rect x="191.4" y="748.8" width="4.2" height="16.8" fill="#1c1cf0"/>
<rect x="198.1" y="753.0" width="4.2" height="12.6" fill="#ff20e0"/>
<rect x="198.1" y="751.2" width="4.2" height="1.9" fill="#ffc6c6"/>
<rect x="204.7" y="754.4" width="4.2" height="11.2" fill="#ff20e0"/>
<rect x="204.7" y="750.8" width="4.2" height="3.5" fill="#ffc6c6"/>
<rect x="211.3" y="754.6" width="4.2" height="11.0" fill="#ff20e0"/>
<rect x="211.3" y="750.5" width="4.2" height="4.2" fill="#ffc6c6"/>
<rect x="218.0" y="754.6" width="4.2" height="11.0" fill="#1c1cf0"/>
<rect x="218.0" y="751.4" width="4.2" height="3.2" fill="#ffc6c6"/>
<rect x="224.6" y="752.0" width="4.2" height="13.6" fill="#1c1cf0"/>
<rect x="224.6" y="750.0" width="4.2" height="2.1" fill="#ffc6c6"/>
<rect x="231.3" y="748.5" width="4.2" height="17.1" fill="#1c1cf0"/>
<rect x="237.9" y="746.4" width="4.2" height="19.2" fill="#1c1cf0"/>
<rect x="244.5" y="749.0" width="4.2" height="16.6" fill="#ff20e0"/>
<rect x="244.5" y="745.9" width="4.2" height="3.2" fill="#ffc6c6"/>
<rect x="251.2" y="752.6" width="4.2" height="13.0" fill="#ff20e0"/>
<rect x="251.2" y="745.3" width="4.2" height="7.3" fill="#ffc6c6"/>
<rect x="257.8" y="756.2" width="4.2" height="9.4" fill="#ff20e0"/>
<rect x="257.8" y="747.1" width="4.2" height="9.2" fill="#ffc6c6"/>
<rect x="264.4" y="760.0" width="4.2" height="5.6" fill="#ff20e0"/>
<rect x="264.4" y="749.2" width="4.2" height="10.8" fill="#ffc6c6"/>
<rect x="271.1" y="764.1" width="4.2" height="1.5" fill="#ff20e0"/>
<rect x="271.1" y="752.2" width="4.2" height="11.9" fill="#ffc6c6"/>
<rect x="277.7" y="765.6" width="4.2" height="2.6" fill="#f01010"/>
<rect x="284.4" y="765.6" width="4.2" height="2.4" fill="#10a0a0"/>
<rect x="291.0" y="765.6" width="4.2" height="3.1" fill="#f01010"/>
<rect x="297.6" y="765.6" width="4.2" height="9.4" fill="#f01010"/>
<rect x="304.3" y="765.6" width="4.2" height="13.3" fill="#f01010"/>
<rect x="310.9" y="765.6" width="4.2" height="16.6" fill="#f01010"/>
<rect x="317.5" y="765.6" width="4.2" height="16.6" fill="#10a0a0"/>
<rect x="324.2" y="765.6" width="4.2" height="14.8" fill="#10a0a0"/>
<rect x="330.8" y="765.6" width="4.2" height="11.9" fill="#10a0a0"/>
<rect x="337.5" y="765.6" width="4.2" height="9.3" fill="#10a0a0"/>
<rect x="344.1" y="765.6" width="4.2" height="6.8" fill="#10a0a0"/>
<rect x="350.7" y="765.6" width="4.2" height="4.3" fill="#10a0a0"/>
<rect x="357.4" y="765.6" width="4.2" height="2.0" fill="#10a0a0"/>
<rect x="370.6" y="763.9" width="4.2" height="1.7" fill="#1c1cf0"/>
<rect x="377.3" y="761.2" width="4.2" height="4.4" fill="#1c1cf0"/>
<rect x="383.9" y="758.7" width="4.2" height="6.9" fill="#1c1cf0"/>
<rect x="390.6" y="756.4" width="4.2" height="9.2" fill="#1c1cf0"/>
<rect x="397.2" y="755.7" width="4.2" height="9.9" fill="#1c1cf0"/>
<rect x="403.8" y="756.0" width="4.2" height="9.6" fill="#ff20e0"/>
<rect x="410.5" y="754.2" width="4.2" height="11.4" fill="#1c1cf0"/>
<rect x="417.1" y="752.3" width="4.2" height="13.3" fill="#1c1cf0"/>
<rect x="423.7" y="749.6" width="4.2" height="16.0" fill="#1c1cf0"/>
<rect x="430.4" y="746.9" width="4.2" height="18.7" fill="#1c1cf0"/>
<rect x="437.0" y="747.4" width="4.2" height="18.2" fill="#ff20e0"/>
<rect x="443.7" y="749.9" width="4.2" height="15.7" fill="#ff20e0"/>
<rect x="450.3" y="754.2" width="4.2" height="11.4" fill="#ff20e0"/>
<rect x="450.3" y="752.2" width="4.2" height="1.9" fill="#ffc6c6"/>
<rect x="456.9" y="759.7" width="4.2" height="5.9" fill="#ff20e0"/>
<rect x="456.9" y="754.8" width="4.2" height="4.9" fill="#ffc6c6"/>
<rect x="470.2" y="765.6" width="4.2" height="6.2" fill="#f01010"/>
<rect x="476.8" y="765.6" width="4.2" height="8.9" fill="#f01010"/>
<rect x="483.5" y="765.6" width="4.2" height="6.2" fill="#10a0a0"/>
<rect x="490.1" y="765.6" width="4.2" height="3.1" fill="#10a0a0"/>
<rect x="496.8" y="765.6" width="4.2" height="1.8" fill="#10a0a0"/>
<rect x="510.0" y="765.6" width="4.2" height="0.9" fill="#f01010"/>
<rect x="516.7" y="764.2" width="4.2" height="1.4" fill="#1c1cf0"/>
<rect x="516.7" y="759.8" width="4.2" height="4.4" fill="#ffc6c6"/>
<rect x="523.3" y="761.9" width="4.2" height="3.7" fill="#1c1cf0"/>
<rect x="523.3" y="758.7" width="4.2" height="3.2" fill="#ffc6c6"/>
<rect x="529.9" y="760.6" width="4.2" height="5.0" fill="#1c1cf0"/>
<rect x="529.9" y="757.6" width="4.2" height="3.0" fill="#ffc6c6"/>
<rect x="536.6" y="763.2" width="4.2" height="2.4" fill="#ff20e0"/>
<rect x="536.6" y="758.2" width="4.2" height="5.0" fill="#ffc6c6"/>
<rect x="556.5" y="763.3" width="4.2" height="2.3" fill="#1c1cf0"/>
<rect x="556.5" y="761.1" width="4.2" height="2.2" fill="#ffc6c6"/>
<rect x="563.1" y="761.0" width="4.2" height="4.6" fill="#1c1cf0"/>
<rect x="569.8" y="758.6" width="4.2" height="7.0" fill="#1c1cf0"/>
<rect x="576.4" y="756.9" width="4.2" height="8.7" fill="#1c1cf0"/>
<rect x="583.0" y="755.2" width="4.2" height="10.4" fill="#1c1cf0"/>
<rect x="589.7" y="753.1" width="4.2" height="12.5" fill="#1c1cf0"/>
<rect x="596.3" y="750.7" width="4.2" height="14.9" fill="#1c1cf0"/>
<rect x="603.0" y="748.5" width="4.2" height="17.1" fill="#1c1cf0"/>
<rect x="609.6" y="748.5" width="4.2" height="17.1" fill="#1c1cf0"/>
<rect x="616.2" y="749.9" width="4.2" height="15.7" fill="#ff20e0"/>
<rect x="622.9" y="751.4" width="4.2" height="14.2" fill="#ff20e0"/>
<rect x="622.9" y="749.6" width="4.2" height="1.8" fill="#ffc6c6"/>
<rect x="629.5" y="747.7" width="4.2" height="17.9" fill="#1c1cf0"/>
<rect x="636.1" y="744.4" width="4.2" height="21.2" fill="#1c1cf0"/>
<rect x="642.8" y="748.4" width="4.2" height="17.2" fill="#ff20e0"/>
<rect x="642.8" y="746.5" width="4.2" height="1.9" fill="#ffc6c6"/>
<rect x="649.4" y="752.4" width="4.2" height="13.2" fill="#ff20e0"/>
<rect x="649.4" y="746.0" width="4.2" height="6.5" fill="#ffc6c6"/>
<rect x="656.1" y="754.6" width="4.2" height="11.0" fill="#ff20e0"/>
<rect x="656.1" y="745.8" width="4.2" height="8.8" fill="#ffc6c6"/>
<rect x="662.7" y="756.5" width="4.2" height="9.1" fill="#ff20e0"/>
<rect x="662.7" y="747.6" width="4.2" height="8.9" fill="#ffc6c6"/>
<rect x="669.3" y="758.4" width="4.2" height="7.2" fill="#ff20e0"/>
<rect x="669.3" y="749.4" width="4.2" height="9.0" fill="#ffc6c6"/>
<rect x="676.0" y="756.4" width="4.2" height="9.2" fill="#1c1cf0"/>
<rect x="676.0" y="750.7" width="4.2" height="5.7" fill="#ffc6c6"/>
<rect x="682.6" y="752.8" width="4.2" height="12.8" fill="#1c1cf0"/>
<rect x="682.6" y="749.1" width="4.2" height="3.7" fill="#ffc6c6"/>
<rect x="689.2" y="750.7" width="4.2" height="14.9" fill="#1c1cf0"/>
<rect x="689.2" y="747.4" width="4.2" height="3.3" fill="#ffc6c6"/>
<rect x="695.9" y="749.1" width="4.2" height="16.5" fill="#1c1cf0"/>
<rect x="695.9" y="745.9" width="4.2" height="3.1" fill="#ffc6c6"/>
<rect x="702.5" y="748.6" width="4.2" height="17.0" fill="#1c1cf0"/>
<rect x="702.5" y="744.5" width="4.2" height="4.0" fill="#ffc6c6"/>
<rect x="709.2" y="751.3" width="4.2" height="14.3" fill="#ff20e0"/>
<rect x="709.2" y="743.1" width="4.2" height="8.2" fill="#ffc6c6"/>
<rect x="715.8" y="754.5" width="4.2" height="11.1" fill="#ff20e0"/>
<rect x="715.8" y="743.4" width="4.2" height="11.0" fill="#ffc6c6"/>
<rect x="722.4" y="755.2" width="4.2" height="10.4" fill="#ff20e0"/>
<rect x="722.4" y="744.2" width="4.2" height="11.0" fill="#ffc6c6"/>
<rect x="729.1" y="759.5" width="4.2" height="6.1" fill="#ff20e0"/>
<rect x="729.1" y="746.7" width="4.2" height="12.8" fill="#ffc6c6"/>
<rect x="735.7" y="764.1" width="4.2" height="1.5" fill="#ff20e0"/>
<rect x="735.7" y="749.5" width="4.2" height="14.6" fill="#ffc6c6"/>
<rect x="742.3" y="761.2" width="4.2" height="4.4" fill="#1c1cf0"/>
<rect x="742.3" y="751.5" width="4.2" height="9.7" fill="#ffc6c6"/>
<rect x="749.0" y="758.9" width="4.2" height="6.7" fill="#1c1cf0"/>
<rect x="749.0" y="753.4" width="4.2" height="5.5" fill="#ffc6c6"/>
<rect x="755.6" y="758.3" width="4.2" height="7.3" fill="#1c1cf0"/>
<rect x="755.6" y="754.4" width="4.2" height="3.9" fill="#ffc6c6"/>
<rect x="762.3" y="763.1" width="4.2" height="2.5" fill="#ff20e0"/>
<rect x="762.3" y="755.1" width="4.2" height="8.0" fill="#ffc6c6"/>
<rect x="768.9" y="765.6" width="4.2" height="2.4" fill="#f01010"/>
<rect x="775.5" y="763.6" width="4.2" height="2.0" fill="#1c1cf0"/>
<rect x="775.5" y="756.5" width="4.2" height="7.1" fill="#ffc6c6"/>
<rect x="782.2" y="758.3" width="4.2" height="7.3" fill="#1c1cf0"/>
<rect x="782.2" y="757.1" width="4.2" height="1.2" fill="#ffc6c6"/>
<rect x="788.8" y="753.8" width="4.2" height="11.8" fill="#1c1cf0"/>
<rect x="795.4" y="748.5" width="4.2" height="17.1" fill="#1c1cf0"/>
<rect x="802.1" y="746.5" width="4.2" height="19.1" fill="#1c1cf0"/>
<rect x="808.7" y="746.2" width="4.2" height="19.4" fill="#1c1cf0"/>
<rect x="815.4" y="748.7" width="4.2" height="16.9" fill="#ff20e0"/>
<rect x="815.4" y="745.4" width="4.2" height="3.3" fill="#ffc6c6"/>
<rect x="822.0" y="755.4" width="4.2" height="10.2" fill="#ff20e0"/>
<rect x="822.0" y="746.3" width="4.2" height="9.1" fill="#ffc6c6"/>
<rect x="835.3" y="765.6" width="4.2" height="1.9" fill="#f01010"/>
<rect x="841.9" y="761.4" width="4.2" height="4.2" fill="#1c1cf0"/>
<rect x="841.9" y="755.4" width="4.2" height="6.0" fill="#ffc6c6"/>
<rect x="848.5" y="754.6" width="4.2" height="11.0" fill="#1c1cf0"/>
<rect x="855.2" y="751.7" width="4.2" height="13.9" fill="#1c1cf0"/>
<rect x="861.8" y="751.5" width="4.2" height="14.1" fill="#1c1cf0"/>
<rect x="868.5" y="746.3" width="4.2" height="19.3" fill="#1c1cf0"/>
<rect x="875.1" y="740.2" width="4.2" height="25.4" fill="#1c1cf0"/>
<rect x="881.7" y="739.1" width="4.2" height="26.5" fill="#1c1cf0"/>
<rect x="888.4" y="735.8" width="4.2" height="29.8" fill="#1c1cf0"/>
<rect x="895.0" y="730.4" width="4.2" height="35.2" fill="#1c1cf0"/>
<rect x="901.6" y="723.7" width="4.2" height="41.9" fill="#1c1cf0"/>
<rect x="908.3" y="719.2" width="4.2" height="46.4" fill="#1c1cf0"/>
<rect x="914.9" y="718.5" width="4.2" height="47.1" fill="#1c1cf0"/>
<rect x="921.6" y="720.8" width="4.2" height="44.8" fill="#ff20e0"/>
<rect x="921.6" y="719.2" width="4.2" height="1.6" fill="#ffc6c6"/>
<path d="M22 765.6H926.5" stroke="#2020e8" stroke-width="1.6"/>
<path d="M23.0 765.8 L35.0 765.8" stroke="#c000c0" stroke-width="3" fill="none" stroke-linejoin="round"/>
<path d="M35.0 765.8 L42.5 766.8 L50.0 766.5 L62.0 764.2 L71.0 762.0" stroke="#0c0c3c" stroke-width="3" fill="none" stroke-linejoin="round"/>
<path d="M71.0 762.0 L75.5 761.2 L83.0 762.0 L90.5 763.8" stroke="#c000c0" stroke-width="3" fill="none" stroke-linejoin="round"/>
<path d="M90.5 763.8 L95.0 764.7 L110.0 765.0 L122.0 763.8 L134.0 762.0 L149.0 760.5 L161.0 756.0 L177.5 753.0 L186.5 749.2" stroke="#0c0c3c" stroke-width="3" fill="none" stroke-linejoin="round"/>
<path d="M186.5 749.2 L194.0 748.8 L200.0 753.0 L207.5 754.5 L219.5 754.8" stroke="#c000c0" stroke-width="3" fill="none" stroke-linejoin="round"/>
<path d="M219.5 754.8 L230.0 750.8 L236.0 746.7 L242.0 746.2" stroke="#0c0c3c" stroke-width="3" fill="none" stroke-linejoin="round"/>
<path d="M242.0 746.2 L249.5 750.8 L254.0 753.0 L265.0 759.0 L280.8 768.8" stroke="#c000c0" stroke-width="3" fill="none" stroke-linejoin="round"/>
<path d="M280.8 768.8 L286.8 768.0" stroke="#0c0c3c" stroke-width="3" fill="none" stroke-linejoin="round"/>
<path d="M286.8 768.0 L293.5 768.8 L301.0 776.2 L313.0 782.2" stroke="#c000c0" stroke-width="3" fill="none" stroke-linejoin="round"/>
<path d="M313.0 782.2 L322.0 782.2 L334.0 777.0 L346.0 772.5 L358.0 768.0 L370.0 765.0 L385.0 759.0 L394.0 756.0 L400.0 755.7" stroke="#0c0c3c" stroke-width="3" fill="none" stroke-linejoin="round"/>
<path d="M400.0 755.7 L406.0 756.0" stroke="#c000c0" stroke-width="3" fill="none" stroke-linejoin="round"/>
<path d="M406.0 756.0 L419.5 752.2 L433.0 746.7" stroke="#0c0c3c" stroke-width="3" fill="none" stroke-linejoin="round"/>
<path d="M433.0 746.7 L442.0 747.8 L451.0 753.0 L460.0 760.5 L470.5 771.0 L479.5 774.8" stroke="#c000c0" stroke-width="3" fill="none" stroke-linejoin="round"/>
<path d="M479.5 774.8 L492.0 768.8 L507.0 765.8" stroke="#0c0c3c" stroke-width="3" fill="none" stroke-linejoin="round"/>
<path d="M507.0 765.8 L512.2 766.5" stroke="#c000c0" stroke-width="3" fill="none" stroke-linejoin="round"/>
<path d="M512.2 766.5 L525.0 762.0 L532.5 760.5" stroke="#0c0c3c" stroke-width="3" fill="none" stroke-linejoin="round"/>
<path d="M532.5 760.5 L546.0 766.5" stroke="#c000c0" stroke-width="3" fill="none" stroke-linejoin="round"/>
<path d="M546.0 766.5 L558.0 763.5 L573.0 758.2 L588.0 754.5 L604.5 748.5 L612.0 748.5" stroke="#0c0c3c" stroke-width="3" fill="none" stroke-linejoin="round"/>
<path d="M612.0 748.5 L625.5 751.5" stroke="#c000c0" stroke-width="3" fill="none" stroke-linejoin="round"/>
<path d="M625.5 751.5 L631.5 747.8 L637.5 744.0" stroke="#0c0c3c" stroke-width="3" fill="none" stroke-linejoin="round"/>
<path d="M637.5 744.0 L645.0 748.5 L652.5 753.0 L663.0 756.0 L673.5 759.0" stroke="#c000c0" stroke-width="3" fill="none" stroke-linejoin="round"/>
<path d="M673.5 759.0 L684.0 753.0 L696.0 749.2 L705.2 748.5" stroke="#0c0c3c" stroke-width="3" fill="none" stroke-linejoin="round"/>
<path d="M705.2 748.5 L718.0 754.5 L725.5 755.2 L737.5 764.2" stroke="#c000c0" stroke-width="3" fill="none" stroke-linejoin="round"/>
<path d="M737.5 764.2 L749.5 759.0 L757.8 758.2" stroke="#0c0c3c" stroke-width="3" fill="none" stroke-linejoin="round"/>
<path d="M757.8 758.2 L772.0 768.8" stroke="#c000c0" stroke-width="3" fill="none" stroke-linejoin="round"/>
<path d="M772.0 768.8 L781.0 760.5 L790.0 754.5 L797.5 748.5 L805.0 746.2" stroke="#0c0c3c" stroke-width="3" fill="none" stroke-linejoin="round"/>
<path d="M805.0 746.2 L814.0 746.2 L821.5 751.5 L830.5 765.0 L838.0 767.7" stroke="#c000c0" stroke-width="3" fill="none" stroke-linejoin="round"/>
<path d="M838.0 767.7 L847.0 758.2 L853.0 752.2 L859.0 751.5" stroke="#0c0c3c" stroke-width="3" fill="none" stroke-linejoin="round"/>
<path d="M859.0 751.5 L865.0 751.5" stroke="#c000c0" stroke-width="3" fill="none" stroke-linejoin="round"/>
<path d="M865.0 751.5 L877.0 740.2 L886.0 738.8 L895.0 732.8 L902.5 724.5 L911.5 718.5" stroke="#0c0c3c" stroke-width="3" fill="none" stroke-linejoin="round"/>
<path d="M911.5 718.5 L919.0 718.5 L925.0 721.5" stroke="#c000c0" stroke-width="3" fill="none" stroke-linejoin="round"/>
<path d="M23.0 763.5 L29.0 762.8" stroke="#5cf05c" stroke-width="3" fill="none" stroke-linejoin="round"/>
<path d="M29.0 762.8 L60.5 764.2" stroke="#ff9418" stroke-width="3" fill="none" stroke-linejoin="round"/>
<path d="M60.5 764.2 L71.0 762.3 L92.0 762.3" stroke="#5cf05c" stroke-width="3" fill="none" stroke-linejoin="round"/>
<path d="M92.0 762.3 L120.5 763.2" stroke="#ff9418" stroke-width="3" fill="none" stroke-linejoin="round"/>
<path d="M120.5 763.2 L134.0 761.2 L155.0 759.0 L170.0 756.8 L185.0 753.8 L194.0 751.5 L215.0 750.4" stroke="#5cf05c" stroke-width="3" fill="none" stroke-linejoin="round"/>
<path d="M215.0 750.4 L219.5 751.5" stroke="#ff9418" stroke-width="3" fill="none" stroke-linejoin="round"/>
<path d="M219.5 751.5 L230.0 749.2 L242.0 746.2 L253.8 745.3" stroke="#5cf05c" stroke-width="3" fill="none" stroke-linejoin="round"/>
<path d="M253.8 745.3 L265.0 748.5 L280.0 755.2 L295.0 761.2 L310.0 766.5 L320.5 771.8 L333.2 774.0" stroke="#ff9418" stroke-width="3" fill="none" stroke-linejoin="round"/>
<path d="M333.2 774.0 L346.0 771.0 L370.0 768.0 L385.0 765.8 L400.0 762.0 L415.0 758.2 L430.0 754.5 L445.0 752.2" stroke="#5cf05c" stroke-width="3" fill="none" stroke-linejoin="round"/>
<path d="M445.0 752.2 L454.0 752.2 L463.0 756.8 L475.0 762.8 L484.0 765.0 L492.0 765.8" stroke="#ff9418" stroke-width="3" fill="none" stroke-linejoin="round"/>
<path d="M492.0 765.8 L510.0 761.2 L532.5 757.5" stroke="#5cf05c" stroke-width="3" fill="none" stroke-linejoin="round"/>
<path d="M532.5 757.5 L552.0 759.8 L563.2 762.0" stroke="#ff9418" stroke-width="3" fill="none" stroke-linejoin="round"/>
<path d="M563.2 762.0 L573.0 759.8 L600.0 753.8 L622.5 750.0 L639.0 747.0 L657.0 745.5" stroke="#5cf05c" stroke-width="3" fill="none" stroke-linejoin="round"/>
<path d="M657.0 745.5 L673.5 750.0 L678.0 750.8" stroke="#ff9418" stroke-width="3" fill="none" stroke-linejoin="round"/>
<path d="M678.0 750.8 L693.0 747.0 L712.8 742.8" stroke="#5cf05c" stroke-width="3" fill="none" stroke-linejoin="round"/>
<path d="M712.8 742.8 L725.5 744.3 L739.0 750.0 L752.5 753.8 L772.0 756.0 L785.5 757.2" stroke="#ff9418" stroke-width="3" fill="none" stroke-linejoin="round"/>
<path d="M785.5 757.2 L797.5 751.5 L808.0 747.0 L818.5 745.2" stroke="#5cf05c" stroke-width="3" fill="none" stroke-linejoin="round"/>
<path d="M818.5 745.2 L827.5 747.0 L838.0 753.0 L845.5 756.0" stroke="#ff9418" stroke-width="3" fill="none" stroke-linejoin="round"/>
<path d="M845.5 756.0 L856.0 755.2 L865.0 751.5 L877.0 745.5 L886.0 743.2 L895.0 737.2 L910.0 726.8 L923.5 719.2" stroke="#5cf05c" stroke-width="3" fill="none" stroke-linejoin="round"/>
<polygon points="64.8,767.1 72.8,767.1 68.8,759.1" fill="#10e8f0"/>
<polygon points="130.8,766.4 138.8,766.4 134.8,758.4" fill="#10e8f0"/>
<polygon points="229.8,751.4 237.8,751.4 233.8,743.4" fill="#10e8f0"/>
<polygon points="342.8,776.1 350.8,776.1 346.8,768.1" fill="#10e8f0"/>
<polygon points="562.7,766.4 570.7,766.4 566.7,758.4" fill="#10e8f0"/>
<polygon points="629.0,752.1 637.0,752.1 633.0,744.1" fill="#10e8f0"/>
<polygon points="788.2,758.1 796.2,758.1 792.2,750.1" fill="#10e8f0"/>
<polygon points="848.2,756.6 856.2,756.6 852.2,748.6" fill="#10e8f0"/>
<polygon points="867.8,750.6 875.8,750.6 871.8,742.6" fill="#10e8f0"/>
<polygon points="84.2,759.1 92.2,759.1 88.2,767.1" fill="#f8f000"/>
<polygon points="196.8,749.4 204.8,749.4 200.8,757.4" fill="#f8f000"/>
<polygon points="243.2,745.6 251.2,745.6 247.2,753.6" fill="#f8f000"/>
<polygon points="449.2,753.1 457.2,753.1 453.2,761.1" fill="#f8f000"/>
<polygon points="621.5,747.1 629.5,747.1 625.5,755.1" fill="#f8f000"/>
<polygon points="641.8,744.9 649.8,744.9 645.8,752.9" fill="#f8f000"/>
<polygon points="815.2,744.9 823.2,744.9 819.2,752.9" fill="#f8f000"/>
<polygon points="860.2,747.9 868.2,747.9 864.2,755.9" fill="#f8f000"/>
<polygon points="921.0,719.4 929.0,719.4 925.0,727.4" fill="#f8f000"/>
</g>
<g clip-path="url(#cP4)">
<rect x="17.64" y="786.5" width="6.84" height="45" fill="#42f83e"/>
<rect x="24.28" y="786.5" width="6.84" height="45" fill="#fefe86"/>
<rect x="30.92" y="786.5" width="6.84" height="45" fill="#42f83e"/>
<rect x="37.55" y="786.5" width="20.11" height="45" fill="#fefe86"/>
<rect x="57.47" y="786.5" width="33.39" height="45" fill="#42f83e"/>
<rect x="90.65" y="786.5" width="6.84" height="45" fill="#fefe86"/>
<rect x="97.29" y="786.5" width="20.11" height="45" fill="#42f83e"/>
<rect x="117.20" y="786.5" width="6.84" height="45" fill="#fefe86"/>
<rect x="123.84" y="786.5" width="6.84" height="45" fill="#42f83e"/>
<rect x="130.48" y="786.5" width="13.47" height="45" fill="#fefe86"/>
<rect x="143.75" y="786.5" width="73.21" height="45" fill="#42f83e"/>
<rect x="216.77" y="786.5" width="6.84" height="45" fill="#fefe86"/>
<rect x="223.40" y="786.5" width="59.94" height="45" fill="#42f83e"/>
<rect x="283.14" y="786.5" width="6.84" height="45" fill="#fefe86"/>
<rect x="289.78" y="786.5" width="13.48" height="45" fill="#42f83e"/>
<rect x="303.05" y="786.5" width="93.13" height="45" fill="#fefe86"/>
<rect x="395.98" y="786.5" width="20.11" height="45" fill="#42f83e"/>
<rect x="415.89" y="786.5" width="6.84" height="45" fill="#fefe86"/>
<rect x="422.53" y="786.5" width="66.58" height="45" fill="#42f83e"/>
<rect x="488.90" y="786.5" width="46.66" height="45" fill="#fefe86"/>
<rect x="535.37" y="786.5" width="33.39" height="45" fill="#42f83e"/>
<rect x="568.55" y="786.5" width="26.75" height="45" fill="#fefe86"/>
<rect x="595.10" y="786.5" width="6.84" height="45" fill="#42f83e"/>
<rect x="601.74" y="786.5" width="13.48" height="45" fill="#fefe86"/>
<rect x="615.02" y="786.5" width="53.30" height="45" fill="#42f83e"/>
<rect x="668.12" y="786.5" width="40.03" height="45" fill="#fefe86"/>
<rect x="707.94" y="786.5" width="13.48" height="45" fill="#42f83e"/>
<rect x="721.22" y="786.5" width="6.84" height="45" fill="#fefe86"/>
<rect x="727.85" y="786.5" width="13.47" height="45" fill="#42f83e"/>
<rect x="741.13" y="786.5" width="13.48" height="45" fill="#fefe86"/>
<rect x="754.40" y="786.5" width="40.03" height="45" fill="#42f83e"/>
<rect x="794.23" y="786.5" width="20.11" height="45" fill="#fefe86"/>
<rect x="814.14" y="786.5" width="33.39" height="45" fill="#42f83e"/>
<rect x="847.33" y="786.5" width="20.11" height="45" fill="#fefe86"/>
<rect x="867.24" y="786.5" width="6.84" height="45" fill="#42f83e"/>
<rect x="873.88" y="786.5" width="6.84" height="45" fill="#fefe86"/>
<rect x="880.52" y="786.5" width="6.84" height="45" fill="#42f83e"/>
<rect x="887.15" y="786.5" width="6.84" height="45" fill="#fefe86"/>
<rect x="893.79" y="786.5" width="20.11" height="45" fill="#42f83e"/>
<rect x="913.70" y="786.5" width="6.84" height="45" fill="#fefe86"/>
<rect x="920.34" y="786.5" width="6.84" height="45" fill="#42f83e"/>
<path d="M22 810H924" stroke="#111" stroke-width="1.2"/>
</g>
<path d="M22 537.3H1600" stroke="#8fa6b4" stroke-width="1.3"/>
<path d="M22 644.4H1600" stroke="#8fa6b4" stroke-width="1.3"/>
<path d="M22 712.3H1600" stroke="#8fa6b4" stroke-width="1.3"/>
<path d="M22 785.4H1600" stroke="#8fa6b4" stroke-width="1.3"/>
<path d="M22 831.6H1566" stroke="#8fa6b4" stroke-width="1.2"/>
<path d="M1566.4 18V832" stroke="#8fa6b4" stroke-width="1.6"/>
<path d="M1567 501.5H1570" stroke="#667" stroke-width="1"/>
<text x="1571.7" y="504.6" font-family='"Liberation Sans", sans-serif' font-size="8.5" font-weight="bold" fill="#111" text-anchor="start" textLength="19.1" lengthAdjust="spacingAndGlyphs" >2.000</text>
<path d="M1567 464.15H1570" stroke="#667" stroke-width="1"/>
<text x="1571.7" y="467.25" font-family='"Liberation Sans", sans-serif' font-size="8.5" font-weight="bold" fill="#111" text-anchor="start" textLength="19.1" lengthAdjust="spacingAndGlyphs" >4.000</text>
<path d="M1567 426.8H1570" stroke="#667" stroke-width="1"/>
<text x="1571.7" y="429.90000000000003" font-family='"Liberation Sans", sans-serif' font-size="8.5" font-weight="bold" fill="#111" text-anchor="start" textLength="19.1" lengthAdjust="spacingAndGlyphs" >6.000</text>
<path d="M1567 389.45H1570" stroke="#667" stroke-width="1"/>
<text x="1571.7" y="392.55" font-family='"Liberation Sans", sans-serif' font-size="8.5" font-weight="bold" fill="#111" text-anchor="start" textLength="19.1" lengthAdjust="spacingAndGlyphs" >8.000</text>
<path d="M1567 352.1H1570" stroke="#667" stroke-width="1"/>
<text x="1571.7" y="355.20000000000005" font-family='"Liberation Sans", sans-serif' font-size="8.5" font-weight="bold" fill="#111" text-anchor="start" textLength="23.4" lengthAdjust="spacingAndGlyphs" >10.000</text>
<path d="M1567 314.75H1570" stroke="#667" stroke-width="1"/>
<text x="1571.7" y="317.85" font-family='"Liberation Sans", sans-serif' font-size="8.5" font-weight="bold" fill="#111" text-anchor="start" textLength="23.4" lengthAdjust="spacingAndGlyphs" >12.000</text>
<path d="M1567 277.4H1570" stroke="#667" stroke-width="1"/>
<text x="1571.7" y="280.5" font-family='"Liberation Sans", sans-serif' font-size="8.5" font-weight="bold" fill="#111" text-anchor="start" textLength="23.4" lengthAdjust="spacingAndGlyphs" >14.000</text>
<path d="M1567 240.05H1570" stroke="#667" stroke-width="1"/>
<text x="1571.7" y="243.15" font-family='"Liberation Sans", sans-serif' font-size="8.5" font-weight="bold" fill="#111" text-anchor="start" textLength="23.4" lengthAdjust="spacingAndGlyphs" >16.000</text>
<path d="M1567 202.7H1570" stroke="#667" stroke-width="1"/>
<text x="1571.7" y="205.79999999999998" font-family='"Liberation Sans", sans-serif' font-size="8.5" font-weight="bold" fill="#111" text-anchor="start" textLength="23.4" lengthAdjust="spacingAndGlyphs" >18.000</text>
<path d="M1567 165.34999999999997H1570" stroke="#667" stroke-width="1"/>
<text x="1571.7" y="168.44999999999996" font-family='"Liberation Sans", sans-serif' font-size="8.5" font-weight="bold" fill="#111" text-anchor="start" textLength="23.4" lengthAdjust="spacingAndGlyphs" >20.000</text>
<path d="M1567 128.0H1570" stroke="#667" stroke-width="1"/>
<text x="1571.7" y="131.1" font-family='"Liberation Sans", sans-serif' font-size="8.5" font-weight="bold" fill="#111" text-anchor="start" textLength="23.4" lengthAdjust="spacingAndGlyphs" >22.000</text>
<path d="M1567 90.64999999999998H1570" stroke="#667" stroke-width="1"/>
<text x="1571.7" y="93.74999999999997" font-family='"Liberation Sans", sans-serif' font-size="8.5" font-weight="bold" fill="#111" text-anchor="start" textLength="23.4" lengthAdjust="spacingAndGlyphs" >24.000</text>
<path d="M1567 53.30000000000001H1570" stroke="#667" stroke-width="1"/>
<text x="1571.7" y="56.40000000000001" font-family='"Liberation Sans", sans-serif' font-size="8.5" font-weight="bold" fill="#111" text-anchor="start" textLength="23.4" lengthAdjust="spacingAndGlyphs" >26.000</text>
<path d="M1567 133H1570.4" stroke="#18a818" stroke-width="1.2"/>
<rect x="1570.4" y="127.7" width="33.1" height="10.6" fill="#fff" stroke="#8a9ba6" stroke-width="1"/>
<text x="1572.1" y="136.1" font-family='"Liberation Sans", sans-serif' font-size="8.5" font-weight="bold" fill="#18a818" text-anchor="start" textLength="29.7" lengthAdjust="spacingAndGlyphs" >21.734,0</text>
<path d="M1567 170.2H1570.4" stroke="#c81818" stroke-width="1.2"/>
<rect x="1570.4" y="164.9" width="33.1" height="10.6" fill="#fff" stroke="#8a9ba6" stroke-width="1"/>
<text x="1572.1" y="173.29999999999998" font-family='"Liberation Sans", sans-serif' font-size="8.5" font-weight="bold" fill="#c81818" text-anchor="start" textLength="29.7" lengthAdjust="spacingAndGlyphs" >19.778,1</text>
<path d="M1567 256.8H1570.4" stroke="#1414c0" stroke-width="1.2"/>
<rect x="1570.4" y="251.5" width="33.1" height="10.6" fill="#fff" stroke="#8a9ba6" stroke-width="1"/>
<text x="1572.1" y="259.90000000000003" font-family='"Liberation Sans", sans-serif' font-size="8.5" font-weight="bold" fill="#1414c0" text-anchor="start" textLength="29.7" lengthAdjust="spacingAndGlyphs" >15.102,0</text>
<path d="M1567 543.5H1570.4" stroke="#111" stroke-width="1.2"/>
<rect x="1570.4" y="538.2" width="16.1" height="10.6" fill="#fff" stroke="#8a9ba6" stroke-width="1"/>
<text x="1572.1" y="546.6" font-family='"Liberation Sans", sans-serif' font-size="8.5" font-weight="bold" fill="#111" text-anchor="start" textLength="12.8" lengthAdjust="spacingAndGlyphs" >100</text>
<path d="M1567 550.3H1570.4" stroke="#111" stroke-width="1.2"/>
<rect x="1570.4" y="545.0" width="26.8" height="10.6" fill="#fff" stroke="#8a9ba6" stroke-width="1"/>
<text x="1572.1" y="553.4" font-family='"Liberation Sans", sans-serif' font-size="8.5" font-weight="bold" fill="#111" text-anchor="start" textLength="23.4" lengthAdjust="spacingAndGlyphs" >99,999</text>
<path d="M1567 553.3H1570.4" stroke="#e02020" stroke-width="1.2"/>
<rect x="1570.4" y="548.0" width="26.8" height="10.6" fill="#fff" stroke="#8a9ba6" stroke-width="1"/>
<text x="1572.1" y="556.4" font-family='"Liberation Sans", sans-serif' font-size="8.5" font-weight="bold" fill="#111" text-anchor="start" textLength="23.4" lengthAdjust="spacingAndGlyphs" >99,999</text>
<path d="M1567 558.2H1570.4" stroke="#e02020" stroke-width="1.2"/>
<rect x="1570.4" y="552.9" width="26.8" height="10.6" fill="#fff" stroke="#8a9ba6" stroke-width="1"/>
<text x="1572.1" y="561.3000000000001" font-family='"Liberation Sans", sans-serif' font-size="8.5" font-weight="bold" fill="#111" text-anchor="start" textLength="23.4" lengthAdjust="spacingAndGlyphs" >99.999</text>
<path d="M1567 583.7H1570" stroke="#667" stroke-width="1"/>
<text x="1571.7" y="586.8000000000001" font-family='"Liberation Sans", sans-serif' font-size="8.5" font-weight="bold" fill="#111" text-anchor="start" textLength="8.5" lengthAdjust="spacingAndGlyphs" >60</text>
<path d="M1567 602.3H1570" stroke="#667" stroke-width="1"/>
<text x="1571.7" y="605.4" font-family='"Liberation Sans", sans-serif' font-size="8.5" font-weight="bold" fill="#111" text-anchor="start" textLength="8.5" lengthAdjust="spacingAndGlyphs" >40</text>
<path d="M1567 562H1570.4" stroke="#e02020" stroke-width="1.2"/>
<rect x="1570.4" y="556.7" width="26.8" height="10.6" fill="#fff" stroke="#8a9ba6" stroke-width="1"/>
<text x="1572.1" y="565.1" font-family='"Liberation Sans", sans-serif' font-size="8.5" font-weight="bold" fill="#e02020" text-anchor="start" textLength="23.4" lengthAdjust="spacingAndGlyphs" >83,504</text>
<path d="M1567 568.5H1570.4" stroke="#111" stroke-width="1.2"/>
<rect x="1570.4" y="563.2" width="11.9" height="10.6" fill="#fff" stroke="#8a9ba6" stroke-width="1"/>
<text x="1572.1" y="571.6" font-family='"Liberation Sans", sans-serif' font-size="8.5" font-weight="bold" fill="#111" text-anchor="start" textLength="8.5" lengthAdjust="spacingAndGlyphs" >80</text>
<path d="M1567 593.5H1570.4" stroke="#1414c0" stroke-width="1.2"/>
<rect x="1570.4" y="588.2" width="11.9" height="10.6" fill="#fff" stroke="#8a9ba6" stroke-width="1"/>
<text x="1572.1" y="596.6" font-family='"Liberation Sans", sans-serif' font-size="8.5" font-weight="bold" fill="#1414c0" text-anchor="start" textLength="8.5" lengthAdjust="spacingAndGlyphs" >50</text>
<path d="M1567 621H1570.4" stroke="#111" stroke-width="1.2"/>
<rect x="1570.4" y="615.7" width="11.9" height="10.6" fill="#fff" stroke="#8a9ba6" stroke-width="1"/>
<text x="1572.1" y="624.1" font-family='"Liberation Sans", sans-serif' font-size="8.5" font-weight="bold" fill="#111" text-anchor="start" textLength="8.5" lengthAdjust="spacingAndGlyphs" >20</text>
<path d="M1567 638.8H1570.4" stroke="#111" stroke-width="1.2"/>
<rect x="1570.4" y="633.5" width="7.7" height="10.6" fill="#fff" stroke="#8a9ba6" stroke-width="1"/>
<text x="1572.1" y="641.9" font-family='"Liberation Sans", sans-serif' font-size="8.5" font-weight="bold" fill="#111" text-anchor="start" textLength="4.2" lengthAdjust="spacingAndGlyphs" >0</text>
<path d="M1567 650.5H1570.4" stroke="#111" stroke-width="1.2"/>
<rect x="1570.4" y="645.2" width="7.7" height="10.6" fill="#fff" stroke="#8a9ba6" stroke-width="1"/>
<text x="1572.1" y="653.6" font-family='"Liberation Sans", sans-serif' font-size="8.5" font-weight="bold" fill="#111" text-anchor="start" textLength="4.2" lengthAdjust="spacingAndGlyphs" >0</text>
<path d="M1567 661H1570.4" stroke="#20c020" stroke-width="1.2"/>
<rect x="1570.4" y="655.7" width="28.8" height="10.6" fill="#fff" stroke="#8a9ba6" stroke-width="1"/>
<text x="1572.1" y="664.1" font-family='"Liberation Sans", sans-serif' font-size="8.5" font-weight="bold" fill="#20c020" text-anchor="start" textLength="25.4" lengthAdjust="spacingAndGlyphs" >-18,799</text>
<path d="M1567 668H1570.4" stroke="#1414a0" stroke-width="1.2"/>
<rect x="1570.4" y="662.7" width="14.0" height="10.6" fill="#fff" stroke="#8a9ba6" stroke-width="1"/>
<text x="1572.1" y="671.1" font-family='"Liberation Sans", sans-serif' font-size="8.5" font-weight="bold" fill="#1414a0" text-anchor="start" textLength="10.6" lengthAdjust="spacingAndGlyphs" >-25</text>
<path d="M1567 686H1570" stroke="#667" stroke-width="1"/>
<text x="1571.7" y="689.1" font-family='"Liberation Sans", sans-serif' font-size="8.5" font-weight="bold" fill="#111" text-anchor="start" textLength="10.6" lengthAdjust="spacingAndGlyphs" >-60</text>
<path d="M1567 679.6H1570.4" stroke="#1414a0" stroke-width="1.2"/>
<rect x="1570.4" y="674.3" width="14.0" height="10.6" fill="#fff" stroke="#8a9ba6" stroke-width="1"/>
<text x="1572.1" y="682.7" font-family='"Liberation Sans", sans-serif' font-size="8.5" font-weight="bold" fill="#1414a0" text-anchor="start" textLength="10.6" lengthAdjust="spacingAndGlyphs" >-50</text>
<path d="M1567 694H1570.4" stroke="#c01818" stroke-width="1.2"/>
<rect x="1570.4" y="688.7" width="14.0" height="10.6" fill="#fff" stroke="#8a9ba6" stroke-width="1"/>
<text x="1572.1" y="697.1" font-family='"Liberation Sans", sans-serif' font-size="8.5" font-weight="bold" fill="#c01818" text-anchor="start" textLength="10.6" lengthAdjust="spacingAndGlyphs" >-75</text>
<path d="M1567 706H1570.4" stroke="#111" stroke-width="1.2"/>
<rect x="1570.4" y="700.7" width="18.2" height="10.6" fill="#fff" stroke="#8a9ba6" stroke-width="1"/>
<text x="1572.1" y="709.1" font-family='"Liberation Sans", sans-serif' font-size="8.5" font-weight="bold" fill="#111" text-anchor="start" textLength="14.8" lengthAdjust="spacingAndGlyphs" >-100</text>
<path d="M1567 717H1570.4" stroke="#60e060" stroke-width="1.2"/>
<rect x="1570.4" y="711.7" width="28.8" height="10.6" fill="#fff" stroke="#8a9ba6" stroke-width="1"/>
<text x="1572.1" y="720.1" font-family='"Liberation Sans", sans-serif' font-size="8.5" font-weight="bold" fill="#60e060" text-anchor="start" textLength="25.4" lengthAdjust="spacingAndGlyphs" >7.002,2</text>
<path d="M1567 722H1570.4" stroke="#601060" stroke-width="1.2"/>
<rect x="1570.4" y="716.7" width="28.8" height="10.6" fill="#fff" stroke="#8a9ba6" stroke-width="1"/>
<text x="1572.1" y="725.1" font-family='"Liberation Sans", sans-serif' font-size="8.5" font-weight="bold" fill="#601060" text-anchor="start" textLength="25.4" lengthAdjust="spacingAndGlyphs" >6.742,7</text>
<path d="M1567 728H1570.4" stroke="#f020e0" stroke-width="1.2"/>
<rect x="1570.4" y="722.7" width="28.8" height="10.6" fill="#fff" stroke="#8a9ba6" stroke-width="1"/>
<text x="1572.1" y="731.1" font-family='"Liberation Sans", sans-serif' font-size="8.5" font-weight="bold" fill="#f020e0" text-anchor="start" textLength="25.4" lengthAdjust="spacingAndGlyphs" >6.742,7</text>
<path d="M1567 741.2H1570" stroke="#667" stroke-width="1"/>
<text x="1571.7" y="744.3000000000001" font-family='"Liberation Sans", sans-serif' font-size="8.5" font-weight="bold" fill="#111" text-anchor="start" textLength="19.1" lengthAdjust="spacingAndGlyphs" >4.000</text>
<path d="M1567 752.6H1570" stroke="#667" stroke-width="1"/>
<text x="1571.7" y="755.7" font-family='"Liberation Sans", sans-serif' font-size="8.5" font-weight="bold" fill="#111" text-anchor="start" textLength="19.1" lengthAdjust="spacingAndGlyphs" >2.000</text>
<path d="M1567 777H1570" stroke="#667" stroke-width="1"/>
<text x="1571.7" y="780.1" font-family='"Liberation Sans", sans-serif' font-size="8.5" font-weight="bold" fill="#111" text-anchor="start" textLength="21.2" lengthAdjust="spacingAndGlyphs" >-2.000</text>
<path d="M1567 759H1570.4" stroke="#1414c0" stroke-width="1.2"/>
<rect x="1570.4" y="753.7" width="7.7" height="10.6" fill="#fff" stroke="#8a9ba6" stroke-width="1"/>
<text x="1572.1" y="762.1" font-family='"Liberation Sans", sans-serif' font-size="8.5" font-weight="bold" fill="#1414c0" text-anchor="start" textLength="4.2" lengthAdjust="spacingAndGlyphs" >0</text>
<path d="M1567 765H1570.4" stroke="#f020e0" stroke-width="1.2"/>
<rect x="1570.4" y="759.7" width="7.7" height="10.6" fill="#fff" stroke="#8a9ba6" stroke-width="1"/>
<text x="1572.1" y="768.1" font-family='"Liberation Sans", sans-serif' font-size="8.5" font-weight="bold" fill="#f020e0" text-anchor="start" textLength="4.2" lengthAdjust="spacingAndGlyphs" >0</text>
<path d="M1567 770.8H1570.4" stroke="#f020e0" stroke-width="1.2"/>
<rect x="1570.4" y="765.5" width="7.7" height="10.6" fill="#fff" stroke="#8a9ba6" stroke-width="1"/>
<text x="1572.1" y="773.9" font-family='"Liberation Sans", sans-serif' font-size="8.5" font-weight="bold" fill="#f020e0" text-anchor="start" textLength="4.2" lengthAdjust="spacingAndGlyphs" >0</text>
<path d="M1567 790.2H1570" stroke="#667" stroke-width="1"/>
<text x="1571.7" y="793.3000000000001" font-family='"Liberation Sans", sans-serif' font-size="8.5" font-weight="bold" fill="#111" text-anchor="start" textLength="19.1" lengthAdjust="spacingAndGlyphs" >0,505</text>
<path d="M1567 809.8H1570.4" stroke="#111" stroke-width="1.2"/>
<rect x="1570.4" y="804.5" width="26.8" height="10.6" fill="#fff" stroke="#8a9ba6" stroke-width="1"/>
<text x="1572.1" y="812.9" font-family='"Liberation Sans", sans-serif' font-size="8.5" font-weight="bold" fill="#111" text-anchor="start" textLength="23.4" lengthAdjust="spacingAndGlyphs" >0,5000</text>
<path d="M1567 827.9H1570" stroke="#667" stroke-width="1"/>
<text x="1571.7" y="831.0" font-family='"Liberation Sans", sans-serif' font-size="8.5" font-weight="bold" fill="#111" text-anchor="start" textLength="19.1" lengthAdjust="spacingAndGlyphs" >0,495</text>
<path d="M74.1 832V835" stroke="#667" stroke-width="1"/>
<text x="74.1" y="842.5" font-family='"Liberation Sans", sans-serif' font-size="8.5" font-weight="bold" fill="#111" text-anchor="middle" textLength="16.8" lengthAdjust="spacingAndGlyphs" >1994</text>
<path d="M127.2 832V835" stroke="#667" stroke-width="1"/>
<text x="127.2" y="842.5" font-family='"Liberation Sans", sans-serif' font-size="8.5" font-weight="bold" fill="#111" text-anchor="middle" textLength="16.8" lengthAdjust="spacingAndGlyphs" >1996</text>
<path d="M180.3 832V835" stroke="#667" stroke-width="1"/>
<text x="180.3" y="842.5" font-family='"Liberation Sans", sans-serif' font-size="8.5" font-weight="bold" fill="#111" text-anchor="middle" textLength="16.8" lengthAdjust="spacingAndGlyphs" >1998</text>
<path d="M233.4 832V835" stroke="#667" stroke-width="1"/>
<text x="233.4" y="842.5" font-family='"Liberation Sans", sans-serif' font-size="8.5" font-weight="bold" fill="#111" text-anchor="middle" textLength="16.8" lengthAdjust="spacingAndGlyphs" >2000</text>
<path d="M286.5 832V835" stroke="#667" stroke-width="1"/>
<text x="286.5" y="842.5" font-family='"Liberation Sans", sans-serif' font-size="8.5" font-weight="bold" fill="#111" text-anchor="middle" textLength="16.8" lengthAdjust="spacingAndGlyphs" >2002</text>
<path d="M339.6 832V835" stroke="#667" stroke-width="1"/>
<text x="339.6" y="842.5" font-family='"Liberation Sans", sans-serif' font-size="8.5" font-weight="bold" fill="#111" text-anchor="middle" textLength="16.8" lengthAdjust="spacingAndGlyphs" >2004</text>
<path d="M392.7 832V835" stroke="#667" stroke-width="1"/>
<text x="392.7" y="842.5" font-family='"Liberation Sans", sans-serif' font-size="8.5" font-weight="bold" fill="#111" text-anchor="middle" textLength="16.8" lengthAdjust="spacingAndGlyphs" >2006</text>
<path d="M445.8 832V835" stroke="#667" stroke-width="1"/>
<text x="445.8" y="842.5" font-family='"Liberation Sans", sans-serif' font-size="8.5" font-weight="bold" fill="#111" text-anchor="middle" textLength="16.8" lengthAdjust="spacingAndGlyphs" >2008</text>
<path d="M498.9 832V835" stroke="#667" stroke-width="1"/>
<text x="498.9" y="842.5" font-family='"Liberation Sans", sans-serif' font-size="8.5" font-weight="bold" fill="#111" text-anchor="middle" textLength="16.8" lengthAdjust="spacingAndGlyphs" >2010</text>
<path d="M552.0 832V835" stroke="#667" stroke-width="1"/>
<text x="552.0" y="842.5" font-family='"Liberation Sans", sans-serif' font-size="8.5" font-weight="bold" fill="#111" text-anchor="middle" textLength="16.8" lengthAdjust="spacingAndGlyphs" >2012</text>
<path d="M605.1 832V835" stroke="#667" stroke-width="1"/>
<text x="605.1" y="842.5" font-family='"Liberation Sans", sans-serif' font-size="8.5" font-weight="bold" fill="#111" text-anchor="middle" textLength="16.8" lengthAdjust="spacingAndGlyphs" >2014</text>
<path d="M658.2 832V835" stroke="#667" stroke-width="1"/>
<text x="658.2" y="842.5" font-family='"Liberation Sans", sans-serif' font-size="8.5" font-weight="bold" fill="#111" text-anchor="middle" textLength="16.8" lengthAdjust="spacingAndGlyphs" >2016</text>
<path d="M711.3 832V835" stroke="#667" stroke-width="1"/>
<text x="711.3" y="842.5" font-family='"Liberation Sans", sans-serif' font-size="8.5" font-weight="bold" fill="#111" text-anchor="middle" textLength="16.8" lengthAdjust="spacingAndGlyphs" >2018</text>
<path d="M764.4 832V835" stroke="#667" stroke-width="1"/>
<text x="764.4" y="842.5" font-family='"Liberation Sans", sans-serif' font-size="8.5" font-weight="bold" fill="#111" text-anchor="middle" textLength="16.8" lengthAdjust="spacingAndGlyphs" >2020</text>
<path d="M817.5 832V835" stroke="#667" stroke-width="1"/>
<text x="817.5" y="842.5" font-family='"Liberation Sans", sans-serif' font-size="8.5" font-weight="bold" fill="#111" text-anchor="middle" textLength="16.8" lengthAdjust="spacingAndGlyphs" >2022</text>
<path d="M870.6 832V835" stroke="#667" stroke-width="1"/>
<text x="870.6" y="842.5" font-family='"Liberation Sans", sans-serif' font-size="8.5" font-weight="bold" fill="#111" text-anchor="middle" textLength="16.8" lengthAdjust="spacingAndGlyphs" >2024</text>
<path d="M923.7 832V835" stroke="#667" stroke-width="1"/>
<text x="923.7" y="842.5" font-family='"Liberation Sans", sans-serif' font-size="8.5" font-weight="bold" fill="#111" text-anchor="middle" textLength="16.8" lengthAdjust="spacingAndGlyphs" >2026</text>
<path d="M976.8 832V835" stroke="#667" stroke-width="1"/>
<text x="976.8" y="842.5" font-family='"Liberation Sans", sans-serif' font-size="8.5" font-weight="bold" fill="#111" text-anchor="middle" textLength="16.8" lengthAdjust="spacingAndGlyphs" >2028</text>
<path d="M1029.9 832V835" stroke="#667" stroke-width="1"/>
<text x="1029.9" y="842.5" font-family='"Liberation Sans", sans-serif' font-size="8.5" font-weight="bold" fill="#111" text-anchor="middle" textLength="16.8" lengthAdjust="spacingAndGlyphs" >2030</text>
<path d="M1083.0 832V835" stroke="#667" stroke-width="1"/>
<text x="1083.0" y="842.5" font-family='"Liberation Sans", sans-serif' font-size="8.5" font-weight="bold" fill="#111" text-anchor="middle" textLength="16.8" lengthAdjust="spacingAndGlyphs" >2032</text>
<path d="M1136.1 832V835" stroke="#667" stroke-width="1"/>
<text x="1136.1" y="842.5" font-family='"Liberation Sans", sans-serif' font-size="8.5" font-weight="bold" fill="#111" text-anchor="middle" textLength="16.8" lengthAdjust="spacingAndGlyphs" >2034</text>
<path d="M1189.2 832V835" stroke="#667" stroke-width="1"/>
<text x="1189.2" y="842.5" font-family='"Liberation Sans", sans-serif' font-size="8.5" font-weight="bold" fill="#111" text-anchor="middle" textLength="16.8" lengthAdjust="spacingAndGlyphs" >2036</text>
<path d="M1242.3 832V835" stroke="#667" stroke-width="1"/>
<text x="1242.3" y="842.5" font-family='"Liberation Sans", sans-serif' font-size="8.5" font-weight="bold" fill="#111" text-anchor="middle" textLength="16.8" lengthAdjust="spacingAndGlyphs" >2038</text>
<path d="M1295.4 832V835" stroke="#667" stroke-width="1"/>
<text x="1295.4" y="842.5" font-family='"Liberation Sans", sans-serif' font-size="8.5" font-weight="bold" fill="#111" text-anchor="middle" textLength="16.8" lengthAdjust="spacingAndGlyphs" >2040</text>
<path d="M1348.5 832V835" stroke="#667" stroke-width="1"/>
<text x="1348.5" y="842.5" font-family='"Liberation Sans", sans-serif' font-size="8.5" font-weight="bold" fill="#111" text-anchor="middle" textLength="16.8" lengthAdjust="spacingAndGlyphs" >2042</text>
<path d="M1401.6 832V835" stroke="#667" stroke-width="1"/>
<text x="1401.6" y="842.5" font-family='"Liberation Sans", sans-serif' font-size="8.5" font-weight="bold" fill="#111" text-anchor="middle" textLength="16.8" lengthAdjust="spacingAndGlyphs" >2044</text>
<path d="M1454.7 832V835" stroke="#667" stroke-width="1"/>
<text x="1454.7" y="842.5" font-family='"Liberation Sans", sans-serif' font-size="8.5" font-weight="bold" fill="#111" text-anchor="middle" textLength="16.8" lengthAdjust="spacingAndGlyphs" >2046</text>
<path d="M1507.8 832V835" stroke="#667" stroke-width="1"/>
<text x="1507.8" y="842.5" font-family='"Liberation Sans", sans-serif' font-size="8.5" font-weight="bold" fill="#111" text-anchor="middle" textLength="16.8" lengthAdjust="spacingAndGlyphs" >2048</text>
<rect x="22.5" y="538.3" width="138.5" height="12.4" fill="#c9dde7" stroke="#8fa6b4" stroke-width="1"/>
<path d="M36.3 538.3V550.6999999999999" stroke="#8fa6b4" stroke-width="1"/>
<circle cx="29.2" cy="544.5" r="4.2" fill="#4f78ae" stroke="#3f6496" stroke-width="0.6"/>
<path d="M27.4 542.7L31.0 546.3M31.0 542.7L27.4 546.3" stroke="#e4ecf4" stroke-width="1.5"/>
<rect x="40.3" y="541.3" width="2" height="6.4" fill="#b8c4cc"/><rect x="42.3" y="541.3" width="4.2" height="6.4" fill="#111"/>
<text x="50" y="547.2" font-family='"Liberation Sans", sans-serif' font-size="9" font-weight="bold" fill="#111" text-anchor="start" textLength="109.5" lengthAdjust="spacingAndGlyphs" >Sistema de trenes Doc v4 (f f)</text>
<rect x="22.5" y="645" width="75.5" height="12.2" fill="#c9dde7" stroke="#8fa6b4" stroke-width="1"/>
<path d="M36.3 645V657.2" stroke="#8fa6b4" stroke-width="1"/>
<circle cx="29.2" cy="651.1" r="4.2" fill="#4f78ae" stroke="#3f6496" stroke-width="0.6"/>
<path d="M27.4 649.3000000000001L31.0 652.9M31.0 649.3000000000001L27.4 652.9" stroke="#e4ecf4" stroke-width="1.5"/>
<rect x="40.3" y="647.9" width="6.2" height="6.4" fill="#6f8890"/>
<text x="50" y="653.8000000000001" font-family='"Liberation Sans", sans-serif' font-size="9" font-weight="bold" fill="#111" text-anchor="start" textLength="46.5" lengthAdjust="spacingAndGlyphs" >Willy Doc (t)</text>
<rect x="22.5" y="713" width="120.0" height="12.6" fill="#c9dde7" stroke="#8fa6b4" stroke-width="1"/>
<path d="M36.3 713V725.6" stroke="#8fa6b4" stroke-width="1"/>
<circle cx="29.2" cy="719.3" r="4.2" fill="#4f78ae" stroke="#3f6496" stroke-width="0.6"/>
<path d="M27.4 717.5L31.0 721.0999999999999M31.0 717.5L27.4 721.0999999999999" stroke="#e4ecf4" stroke-width="1.5"/>
<rect x="40.3" y="716.0999999999999" width="6.2" height="6.4" fill="#6f8890"/>
<text x="50" y="722.0" font-family='"Liberation Sans", sans-serif' font-size="9" font-weight="bold" fill="#111" text-anchor="start" textLength="90.5" lengthAdjust="spacingAndGlyphs" >Awesome Evolution Doc</text>
<rect x="22.5" y="786.6" width="160.9" height="12.2" fill="#c9dde7" stroke="#8fa6b4" stroke-width="1"/>
<path d="M36.3 786.6V798.8000000000001" stroke="#8fa6b4" stroke-width="1"/>
<circle cx="29.2" cy="792.7" r="4.2" fill="#4f78ae" stroke="#3f6496" stroke-width="0.6"/>
<path d="M27.4 790.9000000000001L31.0 794.5M31.0 790.9000000000001L27.4 794.5" stroke="#e4ecf4" stroke-width="1.5"/>
<rect x="40.3" y="789.5" width="2" height="6.4" fill="#b8c4cc"/><rect x="42.3" y="789.5" width="4.2" height="6.4" fill="#111"/>
<text x="50" y="795.4000000000001" font-family='"Liberation Sans", sans-serif' font-size="9" font-weight="bold" fill="#111" text-anchor="start" textLength="131" lengthAdjust="spacingAndGlyphs" >Barra Fuerza Fondo Mercado v4 (f)</text>
<defs><linearGradient id="gTop" x1="0" y1="0" x2="0" y2="1"><stop offset="0" stop-color="#bedde9"/><stop offset="0.5" stop-color="#abcad7"/><stop offset="1" stop-color="#9fbfcd"/></linearGradient><linearGradient id="gBtn" x1="0" y1="0" x2="0" y2="1"><stop offset="0" stop-color="#c6dde8"/><stop offset="1" stop-color="#b2cedb"/></linearGradient><linearGradient id="gBot" x1="0" y1="0" x2="0" y2="1"><stop offset="0" stop-color="#c2e0ec"/><stop offset="1" stop-color="#a2c2d0"/></linearGradient></defs>
<rect x="0" y="0" width="1600" height="18" fill="url(#gTop)"/>
<rect x="0" y="0" width="1600" height="1" fill="#43596a"/>
<rect x="0" y="16.2" width="1600" height="1.3" fill="#a9c9d6"/><rect x="0" y="17.5" width="1600" height="1.25" fill="#465e6a"/>
<rect x="0" y="18.75" width="22.5" height="826" fill="#9fbecc"/>
<rect x="0" y="0" width="1" height="860" fill="#4d6470"/>
<rect x="21.8" y="19" width="1" height="826" fill="#7f9baa"/>
<rect x="22.8" y="18.75" width="636" height="11.95" fill="#c9dde7"/>
<path d="M22.8 30.7H658.8V18.8" stroke="#8fa6b4" stroke-width="1" fill="none"/>
<rect x="1" y="18.75" width="21" height="11.6" fill="#aac8d6"/><path d="M1 30.6H22" stroke="#8ba6b4" stroke-width="1"/>
<path d="M8.8 25.4L11.3 22.8L13.8 25.4" stroke="#55707e" stroke-width="1.2" fill="none"/>
<rect x="0" y="844.4" width="1600" height="15.6" fill="#9dbccb"/>
<rect x="0" y="843.8" width="1600" height="1" fill="#7f9aa8"/>
<rect x="0" y="844.8" width="21.8" height="15.2" fill="#9ab6c3"/><rect x="1" y="0" width="0" height="0"/>
<rect x="123.8" y="847.3" width="1350" height="10.2" fill="url(#gBot)" stroke="#809ba9" stroke-width="0.9"/>
<rect x="133.9" y="847.3" width="369.5" height="10.2" fill="#9dbccb" stroke="#809ba9" stroke-width="0.9"/>
<rect x="123.8" y="847.3" width="10.1" height="10.2" fill="#c1dcea" stroke="#809ba9" stroke-width="0.9"/>
<rect x="1463" y="847.3" width="10.8" height="10.2" fill="#c1dcea" stroke="#809ba9" stroke-width="0.9"/>
<path d="M129.6 850.3L127.3 852.6L129.6 854.9 M1467.4 850.3L1469.7 852.6L1467.4 854.9" stroke="#223" stroke-width="1.2" fill="none"/>
<path d="M116 849.8L113.4 852.6L116 855.4 M119.6 849.8L117 852.6L119.6 855.4" stroke="#6a8694" stroke-width="1.1" fill="none"/>
<ellipse cx="6.2" cy="11" rx="1.1" ry="2.6" fill="#28a028"/><ellipse cx="9.8" cy="8.6" rx="1.1" ry="2.3" fill="#28a028"/><ellipse cx="13.3" cy="6.6" rx="1.1" ry="2.6" fill="#28a028"/>
<path d="M17.5 1.5V17" stroke="#8fabb9" stroke-width="1"/><path d="M18.5 1.5V17" stroke="#c3dae5" stroke-width="1"/>
<rect x="22.4" y="4.4" width="5.4" height="4.4" rx="1.2" fill="#90a8b4" stroke="#7a929e" stroke-width="0.8"/><rect x="22.4" y="10.4" width="5.4" height="4.4" rx="1.2" fill="#90a8b4" stroke="#7a929e" stroke-width="0.8"/>
<path d="M31.5 1.5V17" stroke="#8fabb9" stroke-width="1"/><path d="M32.5 1.5V17" stroke="#c3dae5" stroke-width="1"/>
<text x="36.4" y="12.4" font-family='"Liberation Sans", sans-serif' font-size="9.6" font-weight="bold" fill="#111" text-anchor="start" textLength="14.6" lengthAdjust="spacingAndGlyphs" >DAX</text>
<path d="M55.2 8.2L57.6 10.6L60.0 8.2" stroke="#223" stroke-width="1.3" fill="none"/>
<path d="M65.3 1.5V17" stroke="#8fabb9" stroke-width="1"/><path d="M66.3 1.5V17" stroke="#c3dae5" stroke-width="1"/>
<rect x="68.75" y="3.2" width="16.25" height="12" rx="2.6" fill="url(#gBtn)" stroke="#8ca7b5" stroke-width="1"/>
<text x="71.75" y="12.4" font-family='"Liberation Sans", sans-serif' font-size="9.6" font-weight="bold" fill="#111" text-anchor="start" textLength="10.75" lengthAdjust="spacingAndGlyphs" >12s</text>
<rect x="89.25" y="3.2" width="20.75" height="12" rx="2.6" fill="url(#gBtn)" stroke="#8ca7b5" stroke-width="1"/>
<text x="91.6" y="12.4" font-family='"Liberation Sans", sans-serif' font-size="9.6" font-weight="bold" fill="#111" text-anchor="start" textLength="16.00" lengthAdjust="spacingAndGlyphs" >144s</text>
<rect x="113.25" y="3.2" width="15.5" height="12" rx="2.6" fill="url(#gBtn)" stroke="#8ca7b5" stroke-width="1"/>
<text x="115.9" y="12.4" font-family='"Liberation Sans", sans-serif' font-size="9.6" font-weight="bold" fill="#111" text-anchor="start" textLength="10.00" lengthAdjust="spacingAndGlyphs" >1m</text>
<rect x="131.75" y="3.2" width="19.5" height="12" rx="2.6" fill="url(#gBtn)" stroke="#8ca7b5" stroke-width="1"/>
<text x="134.5" y="12.4" font-family='"Liberation Sans", sans-serif' font-size="9.6" font-weight="bold" fill="#111" text-anchor="start" textLength="14.25" lengthAdjust="spacingAndGlyphs" >12m</text>
<rect x="154.25" y="3.2" width="19.5" height="12" rx="2.6" fill="url(#gBtn)" stroke="#8ca7b5" stroke-width="1"/>
<text x="156.75" y="12.4" font-family='"Liberation Sans", sans-serif' font-size="9.6" font-weight="bold" fill="#111" text-anchor="start" textLength="14.50" lengthAdjust="spacingAndGlyphs" >56m</text>
<rect x="177" y="3.2" width="13" height="12" rx="2.6" fill="url(#gBtn)" stroke="#8ca7b5" stroke-width="1"/>
<text x="179.6" y="12.4" font-family='"Liberation Sans", sans-serif' font-size="9.6" font-weight="bold" fill="#111" text-anchor="start" textLength="7.90" lengthAdjust="spacingAndGlyphs" >1h</text>
<rect x="193.25" y="3.2" width="13.75" height="12" rx="2.6" fill="url(#gBtn)" stroke="#8ca7b5" stroke-width="1"/>
<text x="195.8" y="12.4" font-family='"Liberation Sans", sans-serif' font-size="9.6" font-weight="bold" fill="#111" text-anchor="start" textLength="8.70" lengthAdjust="spacingAndGlyphs" >4h</text>
<rect x="210" y="3.2" width="10.5" height="12" rx="2.6" fill="url(#gBtn)" stroke="#8ca7b5" stroke-width="1"/>
<text x="212.8" y="12.4" font-family='"Liberation Sans", sans-serif' font-size="9.6" font-weight="bold" fill="#111" text-anchor="start" textLength="5.20" lengthAdjust="spacingAndGlyphs" >D</text>
<rect x="223.25" y="3.2" width="11.75" height="12" rx="2.6" fill="url(#gBtn)" stroke="#8ca7b5" stroke-width="1"/>
<text x="225.3" y="12.4" font-family='"Liberation Sans", sans-serif' font-size="9.6" font-weight="bold" fill="#111" text-anchor="start" textLength="7.70" lengthAdjust="spacingAndGlyphs" >W</text>
<rect x="238" y="3.2" width="11" height="12" rx="2.6" fill="url(#gBtn)" stroke="#8ca7b5" stroke-width="1"/>
<text x="240.5" y="12.4" font-family='"Liberation Sans", sans-serif' font-size="9.6" font-weight="bold" fill="#111" text-anchor="start" textLength="6.30" lengthAdjust="spacingAndGlyphs" >M</text>
<rect x="252" y="3.2" width="10.5" height="12" rx="2.6" fill="#93adba" stroke="#738e9c" stroke-width="1"/>
<text x="254.2" y="12.4" font-family='"Liberation Sans", sans-serif' font-size="9.6" font-weight="bold" fill="#111" text-anchor="start" textLength="6.20" lengthAdjust="spacingAndGlyphs" >Q</text>
<text x="270" y="12.4" font-family='"Liberation Sans", sans-serif' font-size="9.6" font-weight="bold" fill="#111" text-anchor="start" textLength="42.4" lengthAdjust="spacingAndGlyphs" >1 trimestre</text>
<path d="M314.2 8.2L316.59999999999997 10.6L319.0 8.2" stroke="#223" stroke-width="1.3" fill="none"/>
<path d="M322.5 1.5V17" stroke="#8fabb9" stroke-width="1"/><path d="M323.5 1.5V17" stroke="#c3dae5" stroke-width="1"/>
<rect x="326.25" y="3.2" width="20.0" height="12" rx="2.6" fill="url(#gBtn)" stroke="#8ca7b5" stroke-width="1"/>
<text x="328.9" y="12.4" font-family='"Liberation Sans", sans-serif' font-size="9.6" font-weight="bold" fill="#111" text-anchor="start" textLength="14.80" lengthAdjust="spacingAndGlyphs" >5kU</text>
<rect x="348.25" y="3.2" width="22.5" height="12" rx="2.6" fill="#93adba" stroke="#738e9c" stroke-width="1"/>
<text x="350.8" y="12.4" font-family='"Liberation Sans", sans-serif' font-size="9.6" font-weight="bold" fill="#111" text-anchor="start" textLength="17.40" lengthAdjust="spacingAndGlyphs" >10kU</text>
<rect x="374.25" y="3.2" width="22.0" height="12" rx="2.6" fill="url(#gBtn)" stroke="#8ca7b5" stroke-width="1"/>
<text x="376.8" y="12.4" font-family='"Liberation Sans", sans-serif' font-size="9.6" font-weight="bold" fill="#111" text-anchor="start" textLength="17.40" lengthAdjust="spacingAndGlyphs" >35kU</text>
<text x="405" y="12.4" font-family='"Liberation Sans", sans-serif' font-size="9.6" font-weight="bold" fill="#111" text-anchor="start" textLength="52.5" lengthAdjust="spacingAndGlyphs" >10 k unidades</text>
<path d="M461.4 8.2L463.79999999999995 10.6L466.2 8.2" stroke="#223" stroke-width="1.3" fill="none"/>
<path d="M470 1.5V17" stroke="#8fabb9" stroke-width="1"/><path d="M471 1.5V17" stroke="#c3dae5" stroke-width="1"/>
<path d="M475 8.8C477.4 5.2 479.4 5.8 481 8S485 10.6 488.4 8.4" stroke="#e86a6a" stroke-width="1" fill="none"/><path d="M475 5.4C477 2.4 479 3 480.6 6.6S484.4 11.4 488.4 5.2" stroke="#22b044" stroke-width="1.3" fill="none"/>
<rect x="474.8" y="12.6" width="13.8" height="2.9" fill="#30c848"/><path d="M475.4 12.2V13M478 12.4V13M480.8 12V13M483.6 12.4V13M486.4 12V13" stroke="#30c848" stroke-width="1.6"/><path d="M476.6 14.8H477.6M481.8 14.8H482.8M485 14.8H486" stroke="#e04040" stroke-width="1"/>
<text x="492.3" y="12.4" font-family='"Liberation Sans", sans-serif' font-size="9.6" font-weight="bold" fill="#111" text-anchor="start" textLength="44.7" lengthAdjust="spacingAndGlyphs" >Indicadores</text>
<path d="M541.2 1.5V17" stroke="#8fabb9" stroke-width="1"/><path d="M542.2 1.5V17" stroke="#c3dae5" stroke-width="1"/>
<path d="M544.2 8.2L546.6 10.6L549.0 8.2" stroke="#223" stroke-width="1.3" fill="none"/>
<path d="M552.5 1.5V17" stroke="#8fabb9" stroke-width="1"/><path d="M553.5 1.5V17" stroke="#c3dae5" stroke-width="1"/>
<rect x="560" y="5.4" width="7" height="7.8" fill="#e6eff3" stroke="#a9bcc6" stroke-width="0.7"/><path d="M563.5 8.6V12" stroke="#8a9aa4" stroke-width="1.3"/><circle cx="563.5" cy="7" r="0.8" fill="#8a9aa4"/>
<circle cx="577.3" cy="9.4" r="2.9" fill="#8b8f92"/>
<rect x="585" y="3.6" width="31.4" height="11.2" rx="2" fill="#f04848"/>
<text x="587.6" y="12.4" font-family='"Liberation Sans", sans-serif' font-size="9.6" font-weight="normal" fill="#fff" text-anchor="start" textLength="26" lengthAdjust="spacingAndGlyphs" >-3,50 %</text>
<text x="620" y="12.4" font-family='"Liberation Sans", sans-serif' font-size="9.6" font-weight="bold" fill="#111" text-anchor="start" textLength="43.8" lengthAdjust="spacingAndGlyphs" >20 mar 2026</text>
<rect x="668" y="3.6" width="83.4" height="11.2" rx="3" fill="#b9e2b0" stroke="#9ccf94" stroke-width="0.8"/>
<text x="670.6" y="12.4" font-family='"Liberation Sans", sans-serif' font-size="9.6" font-weight="normal" fill="#1a2a1a" text-anchor="start" textLength="78.2" lengthAdjust="spacingAndGlyphs" >Alemania 40 Cash (1€)</text>
<path d="M1546.2 1.5V17" stroke="#8fabb9" stroke-width="1"/><path d="M1547.2 1.5V17" stroke="#c3dae5" stroke-width="1"/>
<path d="M1562.5 1.5V17" stroke="#8fabb9" stroke-width="1"/><path d="M1563.5 1.5V17" stroke="#c3dae5" stroke-width="1"/>
<path d="M1550 9.5A4.5 4.5 0 0 1 1557.5 6" stroke="#e02020" stroke-width="1.8" fill="none"/><polygon points="1549,7 1553.5,10 1548.5,12" fill="#e02020"/>
<path d="M1559.5 9A4.5 4.5 0 0 1 1552.5 13" stroke="#20a020" stroke-width="1.8" fill="none"/><polygon points="1560.6,11.5 1556,8.8 1561,6.6" fill="#20a020"/>
<path d="M1568.2 12H1573.8" stroke="#8da6b3" stroke-width="1.6"/>
<rect x="1579.4" y="8" width="4.4" height="4.2" fill="none" stroke="#8da6b3" stroke-width="1.1"/><path d="M1581 8V6.4H1585.6V10.6H1584" fill="none" stroke="#8da6b3" stroke-width="1.1"/>
<path d="M1591 6.4L1597.2 12.4M1597.2 6.4L1591 12.4" stroke="#8da6b3" stroke-width="1.5"/>
<rect x="25.8" y="21" width="7.6" height="8" fill="#fff" stroke="#9bb0bc" stroke-width="0.7"/><path d="M29.6 22V27.4M27.2 25L29.6 27.6L32 25" stroke="#e83030" stroke-width="1.7" fill="none"/>
<rect x="37.4" y="21" width="7.6" height="8" fill="#fff" stroke="#9bb0bc" stroke-width="0.7"/><path d="M41.2 28V22.6M38.8 25L41.2 22.4L43.6 25" stroke="#20b020" stroke-width="1.7" fill="none"/>
<circle cx="52.7" cy="25" r="4.2" fill="#4f78ae" stroke="#3f6496" stroke-width="0.6"/>
<path d="M50.900000000000006 23.2L54.5 26.8M54.5 23.2L50.900000000000006 26.8" stroke="#e4ecf4" stroke-width="1.5"/>
<path d="M59.2 19.4V30.4" stroke="#8fa6b4" stroke-width="1"/>
<rect x="63.3" y="22.4" width="5.8" height="5.8" fill="#e2edf2" stroke="#8a98a2" stroke-width="0.9"/>
<text x="72.5" y="28.4" font-family='"Liberation Sans", sans-serif' font-size="9.4" font-weight="bold" fill="#111" text-anchor="start" textLength="24.3" lengthAdjust="spacingAndGlyphs" >Precio</text>
<path d="M99.3 19.4V30.4" stroke="#8fa6b4" stroke-width="1"/>
<path d="M102.6 22.6H104 M105.2 22.6H109.4 M102.6 25H104 M105.2 25H109.4 M102.6 27.4H104 M105.2 27.4H109.4" stroke="#445" stroke-width="1.3"/>
<path d="M113 19.4V30.4" stroke="#8fa6b4" stroke-width="1"/>
<rect x="116.8" y="22.4" width="5.8" height="5.8" fill="#e2edf2" stroke="#8a98a2" stroke-width="0.9"/>
<text x="126.2" y="28.4" font-family='"Liberation Sans", sans-serif' font-size="9.4" font-weight="bold" fill="#111" text-anchor="start" textLength="38" lengthAdjust="spacingAndGlyphs" >Cierre (W)</text>
<path d="M166.2 19.4V30.4" stroke="#8fa6b4" stroke-width="1"/>
<rect x="170" y="22" width="6.2" height="6.4" fill="#6f8890"/>
<text x="179.5" y="28.4" font-family='"Liberation Sans", sans-serif' font-size="9.4" font-weight="bold" fill="#111" text-anchor="start" textLength="99.3" lengthAdjust="spacingAndGlyphs" >Tunel Domenec v4 (t t t t t)</text>
<path d="M281.2 19.4V30.4" stroke="#8fa6b4" stroke-width="1"/>
<rect x="283.8" y="21.8" width="1.4" height="6.8" fill="#111"/><rect x="285.4" y="21.8" width="1.4" height="6.8" fill="#e8e020"/><rect x="287" y="21.8" width="1.4" height="6.8" fill="#28b028"/><rect x="288.6" y="21.8" width="1.4" height="6.8" fill="#e03030"/><rect x="290" y="21.8" width="1" height="6.8" fill="#2030d0"/>
<text x="294.2" y="28.4" font-family='"Liberation Sans", sans-serif' font-size="9.4" font-weight="bold" fill="#111" text-anchor="start" textLength="80.8" lengthAdjust="spacingAndGlyphs" >Control Total Doc v.6</text>
<path d="M377 19.4V30.4" stroke="#8fa6b4" stroke-width="1"/>
<rect x="380" y="21.8" width="7" height="7" fill="#0a0a0a"/>
<text x="390.2" y="28.4" font-family='"Liberation Sans", sans-serif' font-size="9.4" font-weight="bold" fill="#111" text-anchor="start" textLength="102.8" lengthAdjust="spacingAndGlyphs" >Multi Avisos (3 f 3 1,5 70 f f)</text>
<path d="M495 19.4V30.4" stroke="#8fa6b4" stroke-width="1"/>
<rect x="498.3" y="22.4" width="5.8" height="5.8" fill="#e2edf2" stroke="#8a98a2" stroke-width="0.9"/>
<text x="508" y="28.4" font-family='"Liberation Sans", sans-serif' font-size="9.4" font-weight="bold" fill="#111" text-anchor="start" textLength="148.8" lengthAdjust="spacingAndGlyphs" >DS_CotasHist (1 t t t 3 1 1 t f f f f f f f f ...)</text>
<rect x="2.6" y="30.6" width="17.4" height="16.6" rx="2.5" fill="#9ab4c1" stroke="#84a0ae" stroke-width="1"/>
<polygon points="8.6,33.6 8.6,43.6 10.9,41.5 12.6,45.2 14,44.5 12.4,40.9 15.4,40.7" fill="#f4f4f4" stroke="#667" stroke-width="0.7"/>
<circle cx="10.5" cy="55.6" r="3" fill="#e8f0f4" stroke="#333" stroke-width="1.1"/><path d="M12.7 57.800000000000004L16.1 61.4" stroke="#222" stroke-width="2"/>
<rect x="4.6" y="70.6" width="9" height="7.4" fill="none" stroke="#2050d0" stroke-width="0.9" stroke-dasharray="1.5 1"/>
<circle cx="12" cy="73.6" r="2.8" fill="#e8f0f4" stroke="#333" stroke-width="1.1"/><path d="M14.2 75.8L17.6 79.39999999999999" stroke="#222" stroke-width="2"/>
<path d="M6.6 96Q7.3999999999999995 88.5 10.6 88.2Q13.8 88.5 14.6 96Z" fill="#f8e020" stroke="#a08a10" stroke-width="0.7"/><rect x="5.6" y="96" width="10" height="1.6" fill="#a08a10"/><circle cx="10.6" cy="98.6" r="1" fill="#806a00"/>
<path d="M11.6 87.6L17 93M17 87.6L11.6 93" stroke="#4060e0" stroke-width="1.3"/><polygon points="13,92 13,99 15,97.4 16.2,99.6 17,99.2 16,97 18,96.8" fill="#fff" stroke="#555" stroke-width="0.5"/>
<path d="M7 114.8Q7.8 107.3 11 107.0Q14.2 107.3 15 114.8Z" fill="#f8e020" stroke="#a08a10" stroke-width="0.7"/><rect x="6" y="114.8" width="10" height="1.6" fill="#a08a10"/><circle cx="11" cy="117.39999999999999" r="1" fill="#806a00"/>
<path d="M5.4 107.4L4.2 106M16.8 107.4L18 106" stroke="#a08a10" stroke-width="0.8"/>
<path d="M4 132.6H8.4V135.6H13" stroke="#1830d0" stroke-width="1.2" fill="none"/><path d="M6 127.4V132M4.4 129.4L6 127.2L7.6 129.4" stroke="#1830d0" stroke-width="1" fill="none"/><path d="M14.6 132.2V137M14.6 132.2H17.6M14.6 134.4H17" stroke="#1830d0" stroke-width="1.2" fill="none"/>
<path d="M6.6 149.4H13" stroke="#e04040" stroke-width="1" stroke-dasharray="2 1"/><path d="M14.6 149.6V154.6M14.6 149.6H17.8M14.6 151.8H17.2" stroke="#1830d0" stroke-width="1.2" fill="none"/>
<rect x="6.4" y="164.0" width="9.4" height="7" fill="none" stroke="#2040d8" stroke-width="1.2"/>
<path d="M4.6 171.0H8.2M6.4 169.20000000000002V172.8 M14 164.0H17.6M15.8 162.20000000000002V165.8" stroke="#1830d0" stroke-width="1"/>
<rect x="6.4" y="181.6" width="9.4" height="7" fill="#d0a0a0" stroke="#e02020" stroke-width="1.2"/>
<path d="M4.6 188.6H8.2M6.4 186.8V190.4 M14 181.6H17.6M15.8 179.8V183.4" stroke="#1830d0" stroke-width="1"/>
<path d="M6.6 208.6L14.6 200.4" stroke="#000" stroke-width="2"/><polygon points="16.6,198.4 16,203.6 11.6,199.2" fill="#000"/>
<rect x="7" y="217.4" width="9" height="9.4" rx="1.5" fill="#f0f4f8" stroke="#5580d0" stroke-width="0.8"/>
<text x="11.5" y="225.4" font-family='"Liberation Sans", sans-serif' font-size="9" font-weight="bold" fill="#000" text-anchor="middle" >T</text>
<ellipse cx="11.4" cy="239.8" rx="5" ry="5.2" fill="#eaf4ea" stroke="#5590c0" stroke-width="0.8"/><path d="M8 244L6.4 246.8L10 245" fill="#eaf4ea" stroke="#5590c0" stroke-width="0.7"/>
<text x="11.4" y="243.2" font-family='"Liberation Sans", sans-serif' font-size="9" font-weight="bold" fill="#108010" text-anchor="middle" >T</text>
<path d="M8 262.4L14.6 255.4" stroke="#333" stroke-width="1"/><circle cx="7.6" cy="262.8" r="1.5" fill="#dde" stroke="#333" stroke-width="0.8"/><circle cx="15" cy="255" r="1.5" fill="#dde" stroke="#333" stroke-width="0.8"/>
<circle cx="6.6" cy="277" r="1.5" fill="none" stroke="#30e830" stroke-width="1"/><path d="M8.2 277H18.4" stroke="#30e830" stroke-width="1.6"/>
<circle cx="6.6" cy="295.3" r="1.5" fill="none" stroke="#20c020" stroke-width="1"/><path d="M8.2 295.3H18.4" stroke="#20c020" stroke-width="1.6"/>
<circle cx="6.6" cy="313.6" r="1.5" fill="none" stroke="#107010" stroke-width="1"/><path d="M8.2 313.6H18.4" stroke="#107010" stroke-width="1.6"/>
<circle cx="6.6" cy="332" r="1.5" fill="none" stroke="#e02020" stroke-width="1"/><path d="M8.2 332H18.4" stroke="#e02020" stroke-width="1.6"/>
<g transform="rotate(-35 11.2 351.6)"><rect x="4" y="349" width="14.4" height="5" fill="#c8d4da" stroke="#666" stroke-width="0.8"/><path d="M6.4 349V351M8.8 349V351.6M11.2 349V351M13.6 349V351.6M16 349V351" stroke="#666" stroke-width="0.6"/></g>
<path d="M4.6 364H18 M4.6 375.6H18" stroke="#30a030" stroke-width="1" stroke-dasharray="1.2 1"/><path d="M4.6 372.4C7 364 9 364 11 369S15.6 373 18 366" stroke="#e06060" stroke-width="1" fill="none"/><path d="M4.6 368H18M4.6 371.6H18" stroke="#e8a0a0" stroke-width="0.6" stroke-dasharray="1 1"/>
<ellipse cx="11.6" cy="387.2" rx="5.4" ry="3.8" transform="rotate(-18 11.6 387.2)" fill="#c89090" stroke="#e02020" stroke-width="1.2"/>
<path d="M4.4 390.59999999999997H7.6M6 389.0V392.2 M15.4 383.4H18.6M17 381.8V385.0" stroke="#1830d0" stroke-width="0.9"/>
<ellipse cx="11.6" cy="405.6" rx="5.4" ry="3.8" transform="rotate(-18 11.6 405.6)" fill="#b09a88" stroke="#9a5a20" stroke-width="1.2"/>
<path d="M4.4 409.0H7.6M6 407.40000000000003V410.6 M15.4 401.8H18.6M17 400.20000000000005V403.40000000000003" stroke="#1830d0" stroke-width="0.9"/>
<ellipse cx="11.6" cy="423.8" rx="5.4" ry="3.8" transform="rotate(-18 11.6 423.8)" fill="#88b088" stroke="#208020" stroke-width="1.2"/>
<path d="M4.4 427.2H7.6M6 425.6V428.8 M15.4 420.0H18.6M17 418.40000000000003V421.6" stroke="#1830d0" stroke-width="0.9"/>
<ellipse cx="11.6" cy="442.2" rx="5.4" ry="3.8" transform="rotate(-18 11.6 442.2)" fill="#b8e8b8" stroke="#20e020" stroke-width="1.2"/>
<path d="M4.4 445.59999999999997H7.6M6 444.0V447.2 M15.4 438.4H18.6M17 436.8V440.0" stroke="#1830d0" stroke-width="0.9"/>
<path d="M4.4 467.6L18.2 454.6" stroke="#222" stroke-width="1.1"/><path d="M4.4 486L18.2 473" stroke="#20a820" stroke-width="1.2"/><path d="M4.4 504.2L18.2 491.2" stroke="#e02020" stroke-width="1.4"/>
<path d="M4.4 516.2H18.6" stroke="#444" stroke-width="1.2"/>
<path d="M4.4 534.6H18.6" stroke="#f08080" stroke-width="1.4"/>
<path d="M4.4 552.8H18.6" stroke="#20e020" stroke-width="1.6"/>
<path d="M4.4 571H18.6" stroke="#107010" stroke-width="1.6"/>
<path d="M4.4 589.6H18.6" stroke="#e02020" stroke-width="1.6"/>
<path d="M4.4 608.2H18.6" stroke="#60a0f0" stroke-width="1.4"/>
<path d="M4.4 626.8H18.6" stroke="#101090" stroke-width="1.6"/>
<path d="M11.4 637.4V652.4" stroke="#222" stroke-width="1.2"/>
<path d="M5 669.6L16.4 658.6M5 669.6H17.4" stroke="#e03030" stroke-width="1" fill="none"/><path d="M11.6 669.4A6.4 6.4 0 0 0 9.8 665" stroke="#2030d0" stroke-width="1" fill="none"/><circle cx="16" cy="663.6" r="1.2" fill="none" stroke="#2030d0" stroke-width="0.8"/>
<circle cx="10.8" cy="682" r="4.6" fill="none" stroke="#e88030" stroke-width="1.1"/><path d="M9 682H12.6M10.8 680.2V683.8 M15 677H18M16.5 675.5V678.5" stroke="#2030d0" stroke-width="0.9"/>
<path d="M5 694L8 700L11.4 696L14.4 704.6L17.6 697.4" stroke="#4060e0" stroke-width="0.7" fill="none" stroke-dasharray="1 1"/>
<text x="5.6" y="697" font-family='"Liberation Sans", sans-serif' font-size="5.6" font-weight="bold" fill="#2030d0" text-anchor="middle" >1</text>
<text x="9" y="704.4" font-family='"Liberation Sans", sans-serif' font-size="5.6" font-weight="bold" fill="#2030d0" text-anchor="middle" >2</text>
<text x="12.4" y="698" font-family='"Liberation Sans", sans-serif' font-size="5.6" font-weight="bold" fill="#2030d0" text-anchor="middle" >3</text>
<text x="14.4" y="707.4" font-family='"Liberation Sans", sans-serif' font-size="5.6" font-weight="bold" fill="#2030d0" text-anchor="middle" >4</text>
<text x="17.6" y="700.4" font-family='"Liberation Sans", sans-serif' font-size="5.6" font-weight="bold" fill="#2030d0" text-anchor="middle" >5</text>
<path d="M5.4 712L9 720.6L13 714.4L16.6 724" stroke="#4060e0" stroke-width="0.7" fill="none" stroke-dasharray="1 1"/>
<text x="6" y="716.4" font-family='"Liberation Sans", sans-serif' font-size="6.4" font-weight="bold" fill="#2030d0" text-anchor="middle" >a</text>
<text x="14.6" y="716.4" font-family='"Liberation Sans", sans-serif' font-size="6.4" font-weight="bold" fill="#2030d0" text-anchor="middle" >b</text>
<text x="11" y="725.4" font-family='"Liberation Sans", sans-serif' font-size="6.4" font-weight="bold" fill="#2030d0" text-anchor="middle" >c</text>
<path d="M5.4 737.6L9.4 742.6L17.4 731.6" stroke="#28b828" stroke-width="2.6" fill="none"/>
<path d="M9.4 760.6V754.2L12.4 749.2Q14.2 749.2 13.8 751.4L13.2 753.6H17Q18.4 754 17.8 756L16.8 760Q16.4 761.2 15 761.2H9.4Z" fill="#30b830" stroke="#208020" stroke-width="0.6"/><rect x="5.4" y="754.2" width="3.2" height="7" fill="#30b830" stroke="#208020" stroke-width="0.6"/>
<path d="M6 769.4L16.4 779.6M16.4 769.4L6 779.6" stroke="#e81010" stroke-width="3.2"/>
<path d="M9.6 790Q11.2 786.4 12.8 790Z" fill="#f0a020"/>
<rect x="1" y="790.2" width="20.8" height="7.6" fill="#b4cfdc" stroke="#8ba6b4" stroke-width="0.8"/>
<path d="M9 792.6L11.4 795.0L13.8 792.6" stroke="#334" stroke-width="1.3" fill="none"/>
<rect x="9" y="805.6" width="7.4" height="9" fill="#f4f6f8" stroke="#8090a0" stroke-width="0.7"/><rect x="11.6" y="808.4" width="7.4" height="9" fill="#f4f6f8" stroke="#8090a0" stroke-width="0.7"/><circle cx="8" cy="806" r="3.2" fill="#20a020"/>
<text x="8" y="808.2" font-family='"Liberation Sans", sans-serif' font-size="5.6" font-weight="bold" fill="#fff" text-anchor="middle" >1</text>
<path d="M12.6 811.6H16.4M12.6 813.8H16.4" stroke="#e04040" stroke-width="0.8"/><path d="M15.6 817L17.2 819L18.8 817" stroke="#222" stroke-width="0.9" fill="none"/>
<circle cx="7" cy="831.8" r="1.1" fill="#223"/><circle cx="10.8" cy="831.8" r="1.1" fill="#223"/><circle cx="14.6" cy="831.8" r="1.1" fill="#223"/><path d="M14.2 835.4L15.6 837L17 835.4" stroke="#223" stroke-width="0.8" fill="none"/>
<path d="M5 848.4L8 856.6L11 850.2L14 857" stroke="#c03030" stroke-width="1" fill="none"/><path d="M5 855L9 849.6L12 853.4" stroke="#209020" stroke-width="1" fill="none"/><polygon points="11.4,856.8 15.2,847.8 17.2,848.8 13.4,857.6" fill="#f0c020" stroke="#907010" stroke-width="0.5"/>
<path d="M34.6 848.8L28 852.6L34.6 856.4" stroke="#e8f0f4" stroke-width="1" fill="none"/><circle cx="34.6" cy="848.8" r="1.7" fill="#f4f8fa" stroke="#8a9aa6" stroke-width="0.5"/><circle cx="28" cy="852.6" r="1.7" fill="#f4f8fa" stroke="#8a9aa6" stroke-width="0.5"/><circle cx="34.6" cy="856.4" r="1.7" fill="#f4f8fa" stroke="#8a9aa6" stroke-width="0.5"/>
<rect x="43" y="847" width="8" height="6" rx="1.4" fill="#a8c4ec"/><rect x="45.6" y="849.8" width="9.6" height="7" rx="1.6" fill="#3070e0"/><polygon points="47.4,856.6 47.4,859 50,856.6" fill="#3070e0"/><path d="M47.6 853.3H53.2" stroke="#fff" stroke-width="1" stroke-dasharray="1 1"/>
<rect x="61.6" y="847.2" width="9" height="11" fill="#f4f4ee" stroke="#707a80" stroke-width="0.7"/><path d="M63.4 850H66.4M63.4 852.6H66.4M63.4 855.2H66.4" stroke="#e03030" stroke-width="1"/><path d="M67.2 850H69.4M67.2 852.6H69.4M67.2 855.2H69.4" stroke="#209020" stroke-width="1"/>
<rect x="78.4" y="847.4" width="4.4" height="10.6" fill="#30a830"/><rect x="84.2" y="847.4" width="4.4" height="10.6" fill="#e03838"/><path d="M80.6 849.4H86.4M80.6 852.6H86.4M80.6 855.8H86.4" stroke="#d8e8d0" stroke-width="0.9"/>
<rect x="95.4" y="846.8" width="9" height="7.4" fill="#e8f0fa" stroke="#3060d0" stroke-width="1"/><rect x="98.2" y="850" width="9.4" height="8" fill="#f4f8fc" stroke="#3060d0" stroke-width="1"/><path d="M99.4 855.8L102 853L104 855.2L106.4 852.4" stroke="#e03030" stroke-width="0.8" fill="none"/>
<path d="M1490 856.6Q1489 850.6 1483 851" stroke="#78a8e8" stroke-width="1.6" fill="none"/><polygon points="1480,851.2 1484.4,848 1484.4,854.4" fill="#78a8e8"/>
<path d="M1500.4 856.6Q1501.4 850.6 1507.4 851" stroke="#78a8e8" stroke-width="1.6" fill="none"/><polygon points="1510.4,851.2 1506,848 1506,854.4" fill="#78a8e8"/>
<path d="M1518.8 850.4V858.6M1525.6 846.4V859" stroke="#444" stroke-width="0.8"/><rect x="1517" y="852.2" width="3.6" height="5.2" fill="#e84848"/><rect x="1523.6" y="848.2" width="4" height="9" fill="#38c848"/>
<path d="M1518.6 857L1524 851.6" stroke="#666" stroke-width="3.2" stroke-linecap="round"/><path d="M1518.6 857L1524 851.6" stroke="#fafafa" stroke-width="2" stroke-linecap="round"/><path d="M1523 849.4A2.6 2.6 0 1 0 1526.4 852.6" stroke="#fafafa" stroke-width="1.6" fill="none"/>
<circle cx="1538.6" cy="850.8" r="4" fill="#f4f8fc" stroke="#222" stroke-width="1.3"/><path d="M1541.3999999999999 853.5999999999999L1545.6 858.0" stroke="#111" stroke-width="2.2"/>
<path d="M1546 847V856M1544.6 848.6L1546 846.8L1547.4 848.6M1544.6 854.4L1546 856.2L1547.4 854.4" stroke="#2030e0" stroke-width="0.9" fill="none"/><path d="M1535 858.6H1543M1536.4 857.4L1534.8 858.6L1536.4 859.8" stroke="#2030e0" stroke-width="0.8" fill="none"/>
<circle cx="1556.6" cy="850.8" r="4" fill="#f4f8fc" stroke="#222" stroke-width="1.3"/><path d="M1559.3999999999999 853.5999999999999L1563.6 858.0" stroke="#111" stroke-width="2.2"/>
<path d="M1554.6 850.8H1558.6" stroke="#2030e0" stroke-width="1.3"/>
<circle cx="1575" cy="850.8" r="4" fill="#f4f8fc" stroke="#222" stroke-width="1.3"/><path d="M1577.8 853.5999999999999L1582 858.0" stroke="#111" stroke-width="2.2"/>
<path d="M1573 850.8H1577M1575 848.8V852.8" stroke="#2030e0" stroke-width="1.3"/>
<path d="M1589.6 848.4H1600" stroke="#223" stroke-width="1.2" stroke-dasharray="1.2 1"/><path d="M1594.6 850V856M1592.6 854L1594.6 856.6L1596.6 854" stroke="#2050d0" stroke-width="1.4" fill="none"/></svg>
</body></html>
